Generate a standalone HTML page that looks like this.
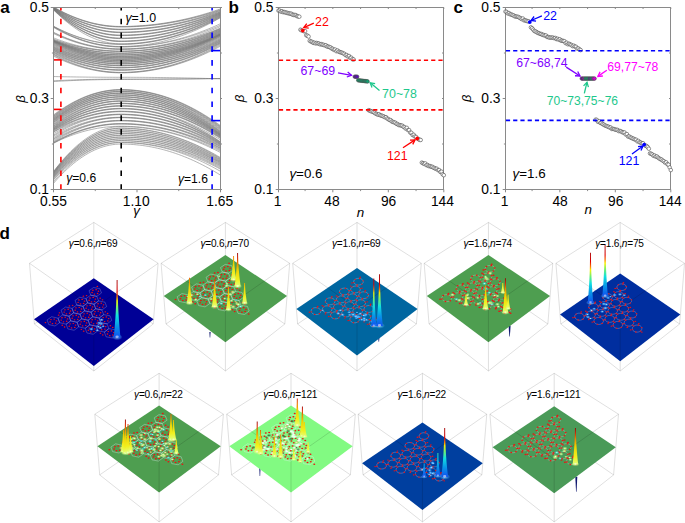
<!DOCTYPE html>
<html><head><meta charset="utf-8"><style>
html,body{margin:0;padding:0;background:#fff;}
svg{display:block;font-family:"Liberation Sans", sans-serif;}
</style></head><body>
<svg width="685" height="523" viewBox="0 0 685 523">
<rect width="685" height="523" fill="#fff"/>
<defs><clipPath id="ca"><rect x="53.5" y="7.5" width="167.0" height="182.0"/></clipPath></defs>
<g clip-path="url(#ca)" fill="none" stroke="#787878" stroke-width="0.55"><path d="M52.5,6.32 L55.5,8.05 L58.5,9.69 L61.5,11.26 L64.5,12.76 L67.5,14.17 L70.5,15.51 L73.5,16.77 L76.5,17.95 L79.5,19.06 L82.5,20.09 L85.5,21.04 L88.5,21.92 L91.5,22.72 L94.5,23.44 L97.5,24.08 L100.5,24.65 L103.5,25.13 L106.5,25.55 L109.5,25.88 L112.5,26.14 L115.5,26.32 L118.5,26.42 L121.5,26.45 L124.5,26.43 L127.5,26.37 L130.5,26.29 L133.5,26.17 L136.5,26.02 L139.5,25.84 L142.5,25.63 L145.5,25.38 L148.5,25.1 L151.5,24.79 L154.5,24.45 L157.5,24.08 L160.5,23.67 L163.5,23.24 L166.5,22.77 L169.5,22.27 L172.5,21.73 L175.5,21.17 L178.5,20.57 L181.5,19.94 L184.5,19.28 L187.5,18.59 L190.5,17.86 L193.5,17.11 L196.5,16.32 L199.5,15.5 L202.5,14.64 L205.5,13.76 L208.5,12.84 L211.5,11.89 L214.5,10.91 L217.5,9.9 L220.5,8.85"/><path d="M52.5,6.64 L55.5,8.35 L58.5,10 L61.5,11.56 L64.5,13.05 L67.5,14.46 L70.5,15.79 L73.5,17.05 L76.5,18.23 L79.5,19.33 L82.5,20.36 L85.5,21.31 L88.5,22.18 L91.5,22.98 L94.5,23.7 L97.5,24.34 L100.5,24.9 L103.5,25.39 L106.5,25.8 L109.5,26.13 L112.5,26.39 L115.5,26.57 L118.5,26.67 L121.5,26.7 L124.5,26.68 L127.5,26.62 L130.5,26.54 L133.5,26.43 L136.5,26.28 L139.5,26.1 L142.5,25.9 L145.5,25.66 L148.5,25.39 L151.5,25.08 L154.5,24.75 L157.5,24.39 L160.5,23.99 L163.5,23.56 L166.5,23.1 L169.5,22.61 L172.5,22.09 L175.5,21.54 L178.5,20.96 L181.5,20.34 L184.5,19.7 L187.5,19.02 L190.5,18.31 L193.5,17.57 L196.5,16.8 L199.5,16 L202.5,15.17 L205.5,14.3 L208.5,13.41 L211.5,12.48 L214.5,11.52 L217.5,10.53 L220.5,9.51"/><path d="M52.5,6.95 L55.5,8.66 L58.5,10.3 L61.5,11.86 L64.5,13.34 L67.5,14.75 L70.5,16.08 L73.5,17.33 L76.5,18.51 L79.5,19.61 L82.5,20.63 L85.5,21.58 L88.5,22.45 L91.5,23.24 L94.5,23.96 L97.5,24.59 L100.5,25.16 L103.5,25.64 L106.5,26.05 L109.5,26.38 L112.5,26.64 L115.5,26.82 L118.5,26.92 L121.5,26.95 L124.5,26.93 L127.5,26.88 L130.5,26.8 L133.5,26.68 L136.5,26.54 L139.5,26.37 L142.5,26.16 L145.5,25.93 L148.5,25.67 L151.5,25.37 L154.5,25.05 L157.5,24.69 L160.5,24.3 L163.5,23.89 L166.5,23.44 L169.5,22.96 L172.5,22.45 L175.5,21.92 L178.5,21.35 L181.5,20.75 L184.5,20.12 L187.5,19.45 L190.5,18.76 L193.5,18.04 L196.5,17.29 L199.5,16.51 L202.5,15.69 L205.5,14.85 L208.5,13.98 L211.5,13.07 L214.5,12.14 L217.5,11.17 L220.5,10.17"/><path d="M52.5,6.69 L55.5,8.62 L58.5,10.46 L61.5,12.22 L64.5,13.89 L67.5,15.47 L70.5,16.97 L73.5,18.38 L76.5,19.71 L79.5,20.94 L82.5,22.1 L85.5,23.16 L88.5,24.14 L91.5,25.03 L94.5,25.84 L97.5,26.56 L100.5,27.19 L103.5,27.74 L106.5,28.2 L109.5,28.58 L112.5,28.86 L115.5,29.06 L118.5,29.18 L121.5,29.21 L124.5,29.19 L127.5,29.13 L130.5,29.04 L133.5,28.91 L136.5,28.75 L139.5,28.56 L142.5,28.33 L145.5,28.07 L148.5,27.78 L151.5,27.45 L154.5,27.08 L157.5,26.69 L160.5,26.26 L163.5,25.79 L166.5,25.29 L169.5,24.76 L172.5,24.19 L175.5,23.58 L178.5,22.95 L181.5,22.28 L184.5,21.57 L187.5,20.84 L190.5,20.06 L193.5,19.26 L196.5,18.41 L199.5,17.54 L202.5,16.63 L205.5,15.69 L208.5,14.71 L211.5,13.7 L214.5,12.65 L217.5,11.57 L220.5,10.46"/><path d="M52.5,7 L55.5,8.93 L58.5,10.76 L61.5,12.52 L64.5,14.18 L67.5,15.76 L70.5,17.25 L73.5,18.66 L76.5,19.98 L79.5,21.22 L82.5,22.37 L85.5,23.43 L88.5,24.4 L91.5,25.29 L94.5,26.1 L97.5,26.82 L100.5,27.45 L103.5,27.99 L106.5,28.45 L109.5,28.83 L112.5,29.11 L115.5,29.32 L118.5,29.43 L121.5,29.46 L124.5,29.44 L127.5,29.38 L130.5,29.29 L133.5,29.17 L136.5,29.01 L139.5,28.83 L142.5,28.6 L145.5,28.35 L148.5,28.06 L151.5,27.74 L154.5,27.38 L157.5,26.99 L160.5,26.57 L163.5,26.11 L166.5,25.63 L169.5,25.1 L172.5,24.55 L175.5,23.96 L178.5,23.34 L181.5,22.68 L184.5,21.99 L187.5,21.27 L190.5,20.51 L193.5,19.72 L196.5,18.9 L199.5,18.05 L202.5,17.16 L205.5,16.23 L208.5,15.28 L211.5,14.29 L214.5,13.27 L217.5,12.21 L220.5,11.12"/><path d="M52.5,7.32 L55.5,9.24 L58.5,11.07 L61.5,12.81 L64.5,14.48 L67.5,16.05 L70.5,17.54 L73.5,18.94 L76.5,20.26 L79.5,21.49 L82.5,22.64 L85.5,23.7 L88.5,24.67 L91.5,25.56 L94.5,26.36 L97.5,27.07 L100.5,27.7 L103.5,28.25 L106.5,28.71 L109.5,29.08 L112.5,29.37 L115.5,29.57 L118.5,29.68 L121.5,29.71 L124.5,29.69 L127.5,29.63 L130.5,29.55 L133.5,29.43 L136.5,29.27 L139.5,29.09 L142.5,28.87 L145.5,28.62 L148.5,28.34 L151.5,28.03 L154.5,27.68 L157.5,27.3 L160.5,26.88 L163.5,26.44 L166.5,25.96 L169.5,25.45 L172.5,24.91 L175.5,24.33 L178.5,23.72 L181.5,23.08 L184.5,22.41 L187.5,21.7 L190.5,20.96 L193.5,20.19 L196.5,19.39 L199.5,18.55 L202.5,17.68 L205.5,16.78 L208.5,15.85 L211.5,14.88 L214.5,13.88 L217.5,12.85 L220.5,11.78"/><path d="M52.5,7.05 L55.5,9.19 L58.5,11.25 L61.5,13.2 L64.5,15.06 L67.5,16.82 L70.5,18.49 L73.5,20.06 L76.5,21.54 L79.5,22.92 L82.5,24.2 L85.5,25.38 L88.5,26.47 L91.5,27.47 L94.5,28.37 L97.5,29.17 L100.5,29.87 L103.5,30.48 L106.5,31 L109.5,31.41 L112.5,31.73 L115.5,31.96 L118.5,32.09 L121.5,32.12 L124.5,32.09 L127.5,32.03 L130.5,31.94 L133.5,31.8 L136.5,31.63 L139.5,31.42 L142.5,31.18 L145.5,30.9 L148.5,30.58 L151.5,30.23 L154.5,29.84 L157.5,29.41 L160.5,28.95 L163.5,28.45 L166.5,27.91 L169.5,27.34 L172.5,26.73 L175.5,26.08 L178.5,25.4 L181.5,24.68 L184.5,23.92 L187.5,23.13 L190.5,22.3 L193.5,21.43 L196.5,20.53 L199.5,19.59 L202.5,18.61 L205.5,17.6 L208.5,16.55 L211.5,15.46 L214.5,14.34 L217.5,13.18 L220.5,11.99"/><path d="M52.5,7.39 L55.5,9.53 L58.5,11.58 L61.5,13.52 L64.5,15.38 L67.5,17.13 L70.5,18.79 L73.5,20.36 L76.5,21.83 L79.5,23.2 L82.5,24.48 L85.5,25.66 L88.5,26.75 L91.5,27.74 L94.5,28.63 L97.5,29.43 L100.5,30.13 L103.5,30.74 L106.5,31.25 L109.5,31.66 L112.5,31.98 L115.5,32.21 L118.5,32.34 L121.5,32.37 L124.5,32.34 L127.5,32.28 L130.5,32.19 L133.5,32.05 L136.5,31.89 L139.5,31.68 L142.5,31.44 L145.5,31.16 L148.5,30.85 L151.5,30.5 L154.5,30.11 L157.5,29.69 L160.5,29.23 L163.5,28.74 L166.5,28.2 L169.5,27.64 L172.5,27.03 L175.5,26.39 L178.5,25.72 L181.5,25.01 L184.5,24.26 L187.5,23.47 L190.5,22.65 L193.5,21.8 L196.5,20.9 L199.5,19.97 L202.5,19.01 L205.5,18.01 L208.5,16.97 L211.5,15.89 L214.5,14.78 L217.5,13.64 L220.5,12.45"/><path d="M52.5,7.74 L55.5,9.87 L58.5,11.91 L61.5,13.85 L64.5,15.69 L67.5,17.44 L70.5,19.1 L73.5,20.66 L76.5,22.12 L79.5,23.49 L82.5,24.76 L85.5,25.94 L88.5,27.02 L91.5,28 L94.5,28.9 L97.5,29.69 L100.5,30.39 L103.5,30.99 L106.5,31.5 L109.5,31.92 L112.5,32.24 L115.5,32.46 L118.5,32.59 L121.5,32.62 L124.5,32.59 L127.5,32.53 L130.5,32.44 L133.5,32.31 L136.5,32.14 L139.5,31.94 L142.5,31.7 L145.5,31.42 L148.5,31.11 L151.5,30.77 L154.5,30.39 L157.5,29.97 L160.5,29.51 L163.5,29.03 L166.5,28.5 L169.5,27.94 L172.5,27.34 L175.5,26.71 L178.5,26.04 L181.5,25.34 L184.5,24.6 L187.5,23.82 L190.5,23.01 L193.5,22.16 L196.5,21.28 L199.5,20.36 L202.5,19.41 L205.5,18.41 L208.5,17.39 L211.5,16.33 L214.5,15.23 L217.5,14.09 L220.5,12.92"/><path d="M52.5,7.44 L55.5,9.81 L58.5,12.08 L61.5,14.24 L64.5,16.29 L67.5,18.23 L70.5,20.07 L73.5,21.81 L76.5,23.43 L79.5,24.96 L82.5,26.37 L85.5,27.68 L88.5,28.88 L91.5,29.98 L94.5,30.97 L97.5,31.85 L100.5,32.63 L103.5,33.3 L106.5,33.87 L109.5,34.33 L112.5,34.68 L115.5,34.93 L118.5,35.07 L121.5,35.11 L124.5,35.08 L127.5,35.02 L130.5,34.91 L133.5,34.76 L136.5,34.57 L139.5,34.34 L142.5,34.08 L145.5,33.77 L148.5,33.42 L151.5,33.03 L154.5,32.6 L157.5,32.13 L160.5,31.62 L163.5,31.07 L166.5,30.48 L169.5,29.85 L172.5,29.18 L175.5,28.47 L178.5,27.72 L181.5,26.93 L184.5,26.1 L187.5,25.22 L190.5,24.31 L193.5,23.36 L196.5,22.37 L199.5,21.33 L202.5,20.26 L205.5,19.15 L208.5,17.99 L211.5,16.8 L214.5,15.57 L217.5,14.29 L220.5,12.98"/><path d="M52.5,7.76 L55.5,10.12 L58.5,12.38 L61.5,14.53 L64.5,16.58 L67.5,18.52 L70.5,20.36 L73.5,22.09 L76.5,23.71 L79.5,25.23 L82.5,26.64 L85.5,27.95 L88.5,29.15 L91.5,30.24 L94.5,31.23 L97.5,32.11 L100.5,32.89 L103.5,33.56 L106.5,34.12 L109.5,34.58 L112.5,34.93 L115.5,35.18 L118.5,35.32 L121.5,35.36 L124.5,35.33 L127.5,35.27 L130.5,35.16 L133.5,35.01 L136.5,34.83 L139.5,34.6 L142.5,34.34 L145.5,34.03 L148.5,33.69 L151.5,33.3 L154.5,32.88 L157.5,32.41 L160.5,31.91 L163.5,31.36 L166.5,30.78 L169.5,30.15 L172.5,29.49 L175.5,28.79 L178.5,28.04 L181.5,27.26 L184.5,26.43 L187.5,25.57 L190.5,24.67 L193.5,23.73 L196.5,22.74 L199.5,21.72 L202.5,20.66 L205.5,19.56 L208.5,18.41 L211.5,17.23 L214.5,16.01 L217.5,14.75 L220.5,13.45"/><path d="M52.5,8.07 L55.5,10.43 L58.5,12.69 L61.5,14.83 L64.5,16.88 L67.5,18.81 L70.5,20.64 L73.5,22.37 L76.5,23.99 L79.5,25.5 L82.5,26.91 L85.5,28.21 L88.5,29.41 L91.5,30.5 L94.5,31.49 L97.5,32.37 L100.5,33.14 L103.5,33.81 L106.5,34.38 L109.5,34.83 L112.5,35.19 L115.5,35.43 L118.5,35.57 L121.5,35.61 L124.5,35.58 L127.5,35.52 L130.5,35.41 L133.5,35.27 L136.5,35.08 L139.5,34.86 L142.5,34.6 L145.5,34.29 L148.5,33.95 L151.5,33.57 L154.5,33.15 L157.5,32.69 L160.5,32.19 L163.5,31.65 L166.5,31.07 L169.5,30.46 L172.5,29.8 L175.5,29.1 L178.5,28.37 L181.5,27.59 L184.5,26.77 L187.5,25.92 L190.5,25.03 L193.5,24.09 L196.5,23.12 L199.5,22.11 L202.5,21.06 L205.5,19.96 L208.5,18.83 L211.5,17.66 L214.5,16.45 L217.5,15.2 L220.5,13.92"/><path d="M52.5,7.74 L55.5,10.34 L58.5,12.83 L61.5,15.2 L64.5,17.45 L67.5,19.59 L70.5,21.61 L73.5,23.51 L76.5,25.3 L79.5,26.97 L82.5,28.52 L85.5,29.96 L88.5,31.28 L91.5,32.48 L94.5,33.57 L97.5,34.54 L100.5,35.39 L103.5,36.13 L106.5,36.75 L109.5,37.26 L112.5,37.64 L115.5,37.92 L118.5,38.07 L121.5,38.11 L124.5,38.08 L127.5,38.01 L130.5,37.89 L133.5,37.73 L136.5,37.53 L139.5,37.28 L142.5,36.98 L145.5,36.65 L148.5,36.27 L151.5,35.84 L154.5,35.38 L157.5,34.86 L160.5,34.31 L163.5,33.71 L166.5,33.06 L169.5,32.38 L172.5,31.64 L175.5,30.87 L178.5,30.05 L181.5,29.19 L184.5,28.28 L187.5,27.33 L190.5,26.33 L193.5,25.29 L196.5,24.21 L199.5,23.08 L202.5,21.91 L205.5,20.7 L208.5,19.44 L211.5,18.14 L214.5,16.79 L217.5,15.4 L220.5,13.97"/><path d="M52.5,8.06 L55.5,10.65 L58.5,13.13 L61.5,15.5 L64.5,17.74 L67.5,19.88 L70.5,21.89 L73.5,23.79 L76.5,25.57 L79.5,27.24 L82.5,28.79 L85.5,30.22 L88.5,31.54 L91.5,32.74 L94.5,33.83 L97.5,34.8 L100.5,35.65 L103.5,36.38 L106.5,37 L109.5,37.51 L112.5,37.9 L115.5,38.17 L118.5,38.32 L121.5,38.36 L124.5,38.33 L127.5,38.26 L130.5,38.14 L133.5,37.98 L136.5,37.78 L139.5,37.54 L142.5,37.25 L145.5,36.91 L148.5,36.54 L151.5,36.12 L154.5,35.65 L157.5,35.15 L160.5,34.59 L163.5,34 L166.5,33.36 L169.5,32.68 L172.5,31.96 L175.5,31.19 L178.5,30.38 L181.5,29.52 L184.5,28.63 L187.5,27.68 L190.5,26.7 L193.5,25.67 L196.5,24.6 L199.5,23.48 L202.5,22.33 L205.5,21.12 L208.5,19.88 L211.5,18.59 L214.5,17.25 L217.5,15.88 L220.5,14.46"/><path d="M52.5,8.41 L55.5,11 L58.5,13.47 L61.5,15.83 L64.5,18.07 L67.5,20.19 L70.5,22.2 L73.5,24.09 L76.5,25.87 L79.5,27.53 L82.5,29.07 L85.5,30.5 L88.5,31.81 L91.5,33.01 L94.5,34.09 L97.5,35.06 L100.5,35.91 L103.5,36.64 L106.5,37.26 L109.5,37.76 L112.5,38.15 L115.5,38.42 L118.5,38.57 L121.5,38.61 L124.5,38.58 L127.5,38.51 L130.5,38.4 L133.5,38.24 L136.5,38.04 L139.5,37.8 L142.5,37.51 L145.5,37.18 L148.5,36.81 L151.5,36.39 L154.5,35.93 L157.5,35.43 L160.5,34.89 L163.5,34.3 L166.5,33.67 L169.5,33 L172.5,32.28 L175.5,31.52 L178.5,30.72 L181.5,29.88 L184.5,28.99 L187.5,28.06 L190.5,27.08 L193.5,26.07 L196.5,25.01 L199.5,23.9 L202.5,22.76 L205.5,21.57 L208.5,20.34 L211.5,19.06 L214.5,17.75 L217.5,16.39 L220.5,14.98"/><path d="M52.5,8.14 L55.5,10.96 L58.5,13.66 L61.5,16.22 L64.5,18.66 L67.5,20.98 L70.5,23.17 L73.5,25.23 L76.5,27.16 L79.5,28.97 L82.5,30.66 L85.5,32.21 L88.5,33.64 L91.5,34.95 L94.5,36.13 L97.5,37.18 L100.5,38.11 L103.5,38.9 L106.5,39.58 L109.5,40.12 L112.5,40.55 L115.5,40.84 L118.5,41.01 L121.5,41.05 L124.5,41.02 L127.5,40.94 L130.5,40.82 L133.5,40.64 L136.5,40.42 L139.5,40.16 L142.5,39.84 L145.5,39.48 L148.5,39.07 L151.5,38.61 L154.5,38.11 L157.5,37.56 L160.5,36.96 L163.5,36.32 L166.5,35.63 L169.5,34.89 L172.5,34.1 L175.5,33.27 L178.5,32.39 L181.5,31.46 L184.5,30.48 L187.5,29.46 L190.5,28.39 L193.5,27.27 L196.5,26.11 L199.5,24.9 L202.5,23.64 L205.5,22.34 L208.5,20.98 L211.5,19.58 L214.5,18.14 L217.5,16.64 L220.5,15.1"/><path d="M52.5,8.5 L55.5,11.31 L58.5,14 L61.5,16.55 L64.5,18.99 L67.5,21.29 L70.5,23.47 L73.5,25.53 L76.5,27.46 L79.5,29.26 L82.5,30.94 L85.5,32.49 L88.5,33.92 L91.5,35.22 L94.5,36.39 L97.5,37.44 L100.5,38.36 L103.5,39.16 L106.5,39.83 L109.5,40.38 L112.5,40.8 L115.5,41.09 L118.5,41.26 L121.5,41.3 L124.5,41.27 L127.5,41.19 L130.5,41.07 L133.5,40.9 L136.5,40.68 L139.5,40.41 L142.5,40.1 L145.5,39.75 L148.5,39.34 L151.5,38.89 L154.5,38.39 L157.5,37.85 L160.5,37.26 L163.5,36.62 L166.5,35.93 L169.5,35.2 L172.5,34.42 L175.5,33.6 L178.5,32.73 L181.5,31.81 L184.5,30.84 L187.5,29.83 L190.5,28.77 L193.5,27.67 L196.5,26.52 L199.5,25.32 L202.5,24.07 L205.5,22.78 L208.5,21.44 L211.5,20.06 L214.5,18.63 L217.5,17.15 L220.5,15.62"/><path d="M52.5,8.94 L55.5,11.74 L58.5,14.41 L61.5,16.95 L64.5,19.37 L67.5,21.66 L70.5,23.83 L73.5,25.87 L76.5,27.79 L79.5,29.58 L82.5,31.25 L85.5,32.79 L88.5,34.21 L91.5,35.5 L94.5,36.67 L97.5,37.71 L100.5,38.63 L103.5,39.42 L106.5,40.09 L109.5,40.63 L112.5,41.05 L115.5,41.34 L118.5,41.51 L121.5,41.55 L124.5,41.52 L127.5,41.44 L130.5,41.32 L133.5,41.15 L136.5,40.94 L139.5,40.67 L142.5,40.37 L145.5,40.01 L148.5,39.61 L151.5,39.17 L154.5,38.67 L157.5,38.13 L160.5,37.55 L163.5,36.92 L166.5,36.24 L169.5,35.52 L172.5,34.75 L175.5,33.93 L178.5,33.07 L181.5,32.16 L184.5,31.21 L187.5,30.2 L190.5,29.16 L193.5,28.06 L196.5,26.93 L199.5,25.74 L202.5,24.51 L205.5,23.23 L208.5,21.91 L211.5,20.54 L214.5,19.12 L217.5,17.66 L220.5,16.15"/><path d="M52.5,8.8 L55.5,11.8 L58.5,14.67 L61.5,17.41 L64.5,20.01 L67.5,22.47 L70.5,24.81 L73.5,27 L76.5,29.07 L79.5,30.99 L82.5,32.79 L85.5,34.45 L88.5,35.97 L91.5,37.36 L94.5,38.62 L97.5,39.74 L100.5,40.72 L103.5,41.58 L106.5,42.29 L109.5,42.88 L112.5,43.32 L115.5,43.64 L118.5,43.82 L121.5,43.86 L124.5,43.83 L127.5,43.75 L130.5,43.61 L133.5,43.43 L136.5,43.2 L139.5,42.91 L142.5,42.58 L145.5,42.19 L148.5,41.76 L151.5,41.27 L154.5,40.74 L157.5,40.15 L160.5,39.52 L163.5,38.83 L166.5,38.1 L169.5,37.31 L172.5,36.48 L175.5,35.59 L178.5,34.66 L181.5,33.67 L184.5,32.64 L187.5,31.55 L190.5,30.41 L193.5,29.23 L196.5,27.99 L199.5,26.7 L202.5,25.37 L205.5,23.98 L208.5,22.54 L211.5,21.06 L214.5,19.52 L217.5,17.93 L220.5,16.29"/><path d="M52.5,25.7 L55.5,27.28 L58.5,28.79 L61.5,30.22 L64.5,31.59 L67.5,32.88 L70.5,34.11 L73.5,35.26 L76.5,36.34 L79.5,37.36 L82.5,38.3 L85.5,39.17 L88.5,39.97 L91.5,40.7 L94.5,41.36 L97.5,41.95 L100.5,42.47 L103.5,42.91 L106.5,43.29 L109.5,43.6 L112.5,43.83 L115.5,44 L118.5,44.09 L121.5,44.11 L124.5,44.08 L127.5,44 L130.5,43.87 L133.5,43.68 L136.5,43.45 L139.5,43.17 L142.5,42.84 L145.5,42.46 L148.5,42.03 L151.5,41.55 L154.5,41.02 L157.5,40.44 L160.5,39.82 L163.5,39.14 L166.5,38.41 L169.5,37.63 L172.5,36.81 L175.5,35.93 L178.5,35.01 L181.5,34.03 L184.5,33.01 L187.5,31.93 L190.5,30.81 L193.5,29.63 L196.5,28.41 L199.5,27.14 L202.5,25.82 L205.5,24.44 L208.5,23.02 L211.5,21.55 L214.5,20.03 L217.5,18.46 L220.5,16.84"/><path d="M52.5,25.89 L55.5,27.47 L58.5,28.98 L61.5,30.42 L64.5,31.8 L67.5,33.09 L70.5,34.32 L73.5,35.48 L76.5,36.57 L79.5,37.58 L82.5,38.53 L85.5,39.4 L88.5,40.21 L91.5,40.94 L94.5,41.6 L97.5,42.19 L100.5,42.71 L103.5,43.16 L106.5,43.54 L109.5,43.84 L112.5,44.08 L115.5,44.25 L118.5,44.34 L121.5,44.36 L124.5,44.33 L127.5,44.25 L130.5,44.12 L133.5,43.94 L136.5,43.71 L139.5,43.43 L142.5,43.1 L145.5,42.73 L148.5,42.3 L151.5,41.83 L154.5,41.31 L157.5,40.73 L160.5,40.11 L163.5,39.44 L166.5,38.72 L169.5,37.95 L172.5,37.14 L175.5,36.27 L178.5,35.35 L181.5,34.39 L184.5,33.38 L187.5,32.31 L190.5,31.2 L193.5,30.04 L196.5,28.83 L199.5,27.57 L202.5,26.26 L205.5,24.91 L208.5,23.5 L211.5,22.05 L214.5,20.54 L217.5,18.99 L220.5,17.39"/><path d="M52.5,25.92 L55.5,27.69 L58.5,29.37 L61.5,30.97 L64.5,32.5 L67.5,33.95 L70.5,35.31 L73.5,36.6 L76.5,37.81 L79.5,38.94 L82.5,39.99 L85.5,40.97 L88.5,41.86 L91.5,42.68 L94.5,43.41 L97.5,44.07 L100.5,44.65 L103.5,45.15 L106.5,45.57 L109.5,45.91 L112.5,46.18 L115.5,46.36 L118.5,46.46 L121.5,46.49 L124.5,46.46 L127.5,46.37 L130.5,46.23 L133.5,46.04 L136.5,45.79 L139.5,45.49 L142.5,45.14 L145.5,44.74 L148.5,44.28 L151.5,43.78 L154.5,43.22 L157.5,42.6 L160.5,41.94 L163.5,41.22 L166.5,40.45 L169.5,39.62 L172.5,38.75 L175.5,37.82 L178.5,36.84 L181.5,35.8 L184.5,34.72 L187.5,33.58 L190.5,32.39 L193.5,31.14 L196.5,29.85 L199.5,28.5 L202.5,27.1 L205.5,25.64 L208.5,24.14 L211.5,22.58 L214.5,20.97 L217.5,19.3 L220.5,17.59"/><path d="M52.5,26.37 L55.5,28.11 L58.5,29.78 L61.5,31.37 L64.5,32.88 L67.5,34.31 L70.5,35.67 L73.5,36.94 L76.5,38.14 L79.5,39.26 L82.5,40.31 L85.5,41.27 L88.5,42.16 L91.5,42.96 L94.5,43.69 L97.5,44.34 L100.5,44.92 L103.5,45.41 L106.5,45.83 L109.5,46.17 L112.5,46.43 L115.5,46.61 L118.5,46.71 L121.5,46.74 L124.5,46.71 L127.5,46.64 L130.5,46.53 L133.5,46.38 L136.5,46.18 L139.5,45.95 L142.5,45.67 L145.5,45.35 L148.5,44.98 L151.5,44.58 L154.5,44.13 L157.5,43.64 L160.5,43.11 L163.5,42.54 L166.5,41.92 L169.5,41.27 L172.5,40.57 L175.5,39.83 L178.5,39.05 L181.5,38.22 L184.5,37.36 L187.5,36.45 L190.5,35.5 L193.5,34.51 L196.5,33.48 L199.5,32.4 L202.5,31.28 L205.5,30.12 L208.5,28.92 L211.5,27.68 L214.5,26.4 L217.5,25.07 L220.5,23.7"/><path d="M52.5,26.81 L55.5,28.54 L58.5,30.19 L61.5,31.76 L64.5,33.26 L67.5,34.68 L70.5,36.02 L73.5,37.29 L76.5,38.47 L79.5,39.58 L82.5,40.62 L85.5,41.57 L88.5,42.45 L91.5,43.25 L94.5,43.97 L97.5,44.62 L100.5,45.18 L103.5,45.67 L106.5,46.09 L109.5,46.42 L112.5,46.68 L115.5,46.86 L118.5,46.97 L121.5,46.99 L124.5,46.97 L127.5,46.9 L130.5,46.79 L133.5,46.65 L136.5,46.46 L139.5,46.24 L142.5,45.98 L145.5,45.67 L148.5,45.33 L151.5,44.95 L154.5,44.53 L157.5,44.06 L160.5,43.56 L163.5,43.02 L166.5,42.44 L169.5,41.82 L172.5,41.16 L175.5,40.46 L178.5,39.73 L181.5,38.95 L184.5,38.13 L187.5,37.27 L190.5,36.38 L193.5,35.44 L196.5,34.47 L199.5,33.45 L202.5,32.39 L205.5,31.3 L208.5,30.17 L211.5,28.99 L214.5,27.78 L217.5,26.53 L220.5,25.24"/><path d="M52.5,31.79 L55.5,33.26 L58.5,34.66 L61.5,35.99 L64.5,37.26 L67.5,38.46 L70.5,39.6 L73.5,40.67 L76.5,41.68 L79.5,42.62 L82.5,43.49 L85.5,44.3 L88.5,45.05 L91.5,45.72 L94.5,46.34 L97.5,46.88 L100.5,47.36 L103.5,47.78 L106.5,48.13 L109.5,48.41 L112.5,48.63 L115.5,48.79 L118.5,48.87 L121.5,48.9 L124.5,48.87 L127.5,48.8 L130.5,48.69 L133.5,48.54 L136.5,48.35 L139.5,48.12 L142.5,47.85 L145.5,47.54 L148.5,47.18 L151.5,46.79 L154.5,46.35 L157.5,45.88 L160.5,45.36 L163.5,44.8 L166.5,44.21 L169.5,43.57 L172.5,42.89 L175.5,42.17 L178.5,41.4 L181.5,40.6 L184.5,39.76 L187.5,38.88 L190.5,37.95 L193.5,36.99 L196.5,35.98 L199.5,34.93 L202.5,33.85 L205.5,32.72 L208.5,31.55 L211.5,30.34 L214.5,29.09 L217.5,27.8 L220.5,26.46"/><path d="M52.5,32.24 L55.5,33.69 L58.5,35.07 L61.5,36.39 L64.5,37.64 L67.5,38.83 L70.5,39.96 L73.5,41.02 L76.5,42.01 L79.5,42.94 L82.5,43.8 L85.5,44.6 L88.5,45.34 L91.5,46.01 L94.5,46.62 L97.5,47.16 L100.5,47.63 L103.5,48.04 L106.5,48.39 L109.5,48.67 L112.5,48.89 L115.5,49.04 L118.5,49.12 L121.5,49.15 L124.5,49.12 L127.5,49.06 L130.5,48.95 L133.5,48.81 L136.5,48.63 L139.5,48.42 L142.5,48.16 L145.5,47.86 L148.5,47.53 L151.5,47.16 L154.5,46.75 L157.5,46.3 L160.5,45.81 L163.5,45.29 L166.5,44.72 L169.5,44.12 L172.5,43.48 L175.5,42.8 L178.5,42.08 L181.5,41.33 L184.5,40.53 L187.5,39.7 L190.5,38.83 L193.5,37.92 L196.5,36.97 L199.5,35.98 L202.5,34.96 L205.5,33.89 L208.5,32.79 L211.5,31.65 L214.5,30.47 L217.5,29.25 L220.5,28"/><path d="M52.5,33.07 L55.5,34.47 L58.5,35.8 L61.5,37.08 L64.5,38.29 L67.5,39.44 L70.5,40.52 L73.5,41.54 L76.5,42.5 L79.5,43.4 L82.5,44.24 L85.5,45.01 L88.5,45.72 L91.5,46.37 L94.5,46.95 L97.5,47.47 L100.5,47.93 L103.5,48.33 L106.5,48.66 L109.5,48.94 L112.5,49.14 L115.5,49.29 L118.5,49.37 L121.5,49.4 L124.5,49.37 L127.5,49.31 L130.5,49.21 L133.5,49.07 L136.5,48.89 L139.5,48.67 L142.5,48.42 L145.5,48.13 L148.5,47.8 L151.5,47.43 L154.5,47.03 L157.5,46.59 L160.5,46.1 L163.5,45.59 L166.5,45.03 L169.5,44.43 L172.5,43.8 L175.5,43.13 L178.5,42.42 L181.5,41.67 L184.5,40.89 L187.5,40.07 L190.5,39.21 L193.5,38.31 L196.5,37.37 L199.5,36.4 L202.5,35.38 L205.5,34.33 L208.5,33.24 L211.5,32.12 L214.5,30.95 L217.5,29.75 L220.5,28.51"/><path d="M52.5,37.48 L55.5,38.64 L58.5,39.75 L61.5,40.81 L64.5,41.82 L67.5,42.77 L70.5,43.68 L73.5,44.53 L76.5,45.33 L79.5,46.07 L82.5,46.77 L85.5,47.41 L88.5,48 L91.5,48.54 L94.5,49.03 L97.5,49.46 L100.5,49.84 L103.5,50.17 L106.5,50.45 L109.5,50.67 L112.5,50.85 L115.5,50.97 L118.5,51.04 L121.5,51.06 L124.5,51.03 L127.5,50.96 L130.5,50.85 L133.5,50.71 L136.5,50.52 L139.5,50.29 L142.5,50.02 L145.5,49.71 L148.5,49.35 L151.5,48.96 L154.5,48.53 L157.5,48.06 L160.5,47.54 L163.5,46.99 L166.5,46.39 L169.5,45.76 L172.5,45.08 L175.5,44.37 L178.5,43.61 L181.5,42.81 L184.5,41.98 L187.5,41.1 L190.5,40.18 L193.5,39.22 L196.5,38.22 L199.5,37.18 L202.5,36.1 L205.5,34.98 L208.5,33.81 L211.5,32.61 L214.5,31.37 L217.5,30.08 L220.5,28.76"/><path d="M52.5,38.69 L55.5,39.77 L58.5,40.81 L61.5,41.79 L64.5,42.73 L67.5,43.61 L70.5,44.45 L73.5,45.24 L76.5,45.98 L79.5,46.68 L82.5,47.32 L85.5,47.92 L88.5,48.47 L91.5,48.97 L94.5,49.42 L97.5,49.82 L100.5,50.18 L103.5,50.48 L106.5,50.74 L109.5,50.95 L112.5,51.11 L115.5,51.23 L118.5,51.29 L121.5,51.31 L124.5,51.28 L127.5,51.21 L130.5,51.11 L133.5,50.96 L136.5,50.77 L139.5,50.55 L142.5,50.28 L145.5,49.97 L148.5,49.62 L151.5,49.24 L154.5,48.81 L157.5,48.34 L160.5,47.83 L163.5,47.29 L166.5,46.7 L169.5,46.07 L172.5,45.4 L175.5,44.7 L178.5,43.95 L181.5,43.16 L184.5,42.33 L187.5,41.46 L190.5,40.56 L193.5,39.61 L196.5,38.62 L199.5,37.59 L202.5,36.52 L205.5,35.42 L208.5,34.27 L211.5,33.08 L214.5,31.85 L217.5,30.58 L220.5,29.27"/><path d="M52.5,39.33 L55.5,40.38 L58.5,41.38 L61.5,42.33 L64.5,43.24 L67.5,44.1 L70.5,44.91 L73.5,45.68 L76.5,46.4 L79.5,47.07 L82.5,47.69 L85.5,48.27 L88.5,48.8 L91.5,49.29 L94.5,49.73 L97.5,50.12 L100.5,50.46 L103.5,50.76 L106.5,51.01 L109.5,51.21 L112.5,51.37 L115.5,51.48 L118.5,51.54 L121.5,51.56 L124.5,51.53 L127.5,51.46 L130.5,51.36 L133.5,51.21 L136.5,51.03 L139.5,50.8 L142.5,50.54 L145.5,50.24 L148.5,49.89 L151.5,49.51 L154.5,49.09 L157.5,48.63 L160.5,48.13 L163.5,47.59 L166.5,47 L169.5,46.38 L172.5,45.72 L175.5,45.03 L178.5,44.29 L181.5,43.51 L184.5,42.69 L187.5,41.83 L190.5,40.93 L193.5,40 L196.5,39.02 L199.5,38.01 L202.5,36.95 L205.5,35.85 L208.5,34.72 L211.5,33.55 L214.5,32.33 L217.5,31.08 L220.5,29.79"/><path d="M52.5,39.63 L55.5,40.77 L58.5,41.87 L61.5,42.91 L64.5,43.9 L67.5,44.84 L70.5,45.72 L73.5,46.56 L76.5,47.34 L79.5,48.08 L82.5,48.76 L85.5,49.39 L88.5,49.97 L91.5,50.5 L94.5,50.98 L97.5,51.41 L100.5,51.78 L103.5,52.11 L106.5,52.38 L109.5,52.6 L112.5,52.77 L115.5,52.89 L118.5,52.96 L121.5,52.98 L124.5,52.95 L127.5,52.88 L130.5,52.77 L133.5,52.62 L136.5,52.42 L139.5,52.19 L142.5,51.91 L145.5,51.59 L148.5,51.23 L151.5,50.83 L154.5,50.38 L157.5,49.9 L160.5,49.37 L163.5,48.8 L166.5,48.19 L169.5,47.54 L172.5,46.84 L175.5,46.11 L178.5,45.33 L181.5,44.51 L184.5,43.65 L187.5,42.75 L190.5,41.81 L193.5,40.82 L196.5,39.79 L199.5,38.73 L202.5,37.62 L205.5,36.46 L208.5,35.27 L211.5,34.04 L214.5,32.76 L217.5,31.44 L220.5,30.08"/><path d="M52.5,39.94 L55.5,41.08 L58.5,42.17 L61.5,43.21 L64.5,44.19 L67.5,45.12 L70.5,46.01 L73.5,46.84 L76.5,47.62 L79.5,48.35 L82.5,49.03 L85.5,49.66 L88.5,50.24 L91.5,50.76 L94.5,51.24 L97.5,51.66 L100.5,52.04 L103.5,52.36 L106.5,52.63 L109.5,52.85 L112.5,53.02 L115.5,53.14 L118.5,53.21 L121.5,53.23 L124.5,53.2 L127.5,53.13 L130.5,53.02 L133.5,52.87 L136.5,52.68 L139.5,52.45 L142.5,52.17 L145.5,51.86 L148.5,51.5 L151.5,51.1 L154.5,50.66 L157.5,50.18 L160.5,49.66 L163.5,49.1 L166.5,48.49 L169.5,47.85 L172.5,47.16 L175.5,46.44 L178.5,45.67 L181.5,44.86 L184.5,44.01 L187.5,43.12 L190.5,42.18 L193.5,41.21 L196.5,40.2 L199.5,39.14 L202.5,38.04 L205.5,36.9 L208.5,35.72 L211.5,34.5 L214.5,33.24 L217.5,31.94 L220.5,30.59"/><path d="M52.5,40.26 L55.5,41.39 L58.5,42.47 L61.5,43.5 L64.5,44.48 L67.5,45.41 L70.5,46.29 L73.5,47.12 L76.5,47.9 L79.5,48.63 L82.5,49.3 L85.5,49.93 L88.5,50.5 L91.5,51.03 L94.5,51.5 L97.5,51.92 L100.5,52.29 L103.5,52.61 L106.5,52.89 L109.5,53.11 L112.5,53.27 L115.5,53.39 L118.5,53.46 L121.5,53.48 L124.5,53.45 L127.5,53.38 L130.5,53.27 L133.5,53.12 L136.5,52.93 L139.5,52.7 L142.5,52.43 L145.5,52.12 L148.5,51.77 L151.5,51.38 L154.5,50.94 L157.5,50.47 L160.5,49.95 L163.5,49.4 L166.5,48.8 L169.5,48.16 L172.5,47.48 L175.5,46.77 L178.5,46.01 L181.5,45.21 L184.5,44.37 L187.5,43.48 L190.5,42.56 L193.5,41.6 L196.5,40.6 L199.5,39.55 L202.5,38.47 L205.5,37.34 L208.5,36.18 L211.5,34.97 L214.5,33.72 L217.5,32.43 L220.5,31.11"/><path d="M52.5,40.3 L55.5,41.53 L58.5,42.71 L61.5,43.83 L64.5,44.9 L67.5,45.91 L70.5,46.86 L73.5,47.77 L76.5,48.61 L79.5,49.4 L82.5,50.14 L85.5,50.82 L88.5,51.44 L91.5,52.01 L94.5,52.53 L97.5,52.99 L100.5,53.39 L103.5,53.74 L106.5,54.04 L109.5,54.28 L112.5,54.46 L115.5,54.59 L118.5,54.66 L121.5,54.68 L124.5,54.65 L127.5,54.58 L130.5,54.47 L133.5,54.31 L136.5,54.12 L139.5,53.88 L142.5,53.59 L145.5,53.27 L148.5,52.9 L151.5,52.49 L154.5,52.04 L157.5,51.55 L160.5,51.01 L163.5,50.43 L166.5,49.81 L169.5,49.15 L172.5,48.44 L175.5,47.7 L178.5,46.9 L181.5,46.07 L184.5,45.2 L187.5,44.28 L190.5,43.32 L193.5,42.32 L196.5,41.27 L199.5,40.19 L202.5,39.06 L205.5,37.89 L208.5,36.67 L211.5,35.42 L214.5,34.12 L217.5,32.78 L220.5,31.4"/><path d="M52.5,40.49 L55.5,41.72 L58.5,42.91 L61.5,44.03 L64.5,45.1 L67.5,46.12 L70.5,47.08 L73.5,47.99 L76.5,48.83 L79.5,49.63 L82.5,50.37 L85.5,51.05 L88.5,51.68 L91.5,52.25 L94.5,52.77 L97.5,53.23 L100.5,53.64 L103.5,53.99 L106.5,54.28 L109.5,54.52 L112.5,54.71 L115.5,54.84 L118.5,54.91 L121.5,54.93 L124.5,54.9 L127.5,54.83 L130.5,54.72 L133.5,54.57 L136.5,54.37 L139.5,54.13 L142.5,53.85 L145.5,53.53 L148.5,53.17 L151.5,52.76 L154.5,52.32 L157.5,51.83 L160.5,51.3 L163.5,50.72 L166.5,50.11 L169.5,49.45 L172.5,48.75 L175.5,48.01 L178.5,47.23 L181.5,46.4 L184.5,45.54 L187.5,44.63 L190.5,43.68 L193.5,42.68 L196.5,41.65 L199.5,40.57 L202.5,39.45 L205.5,38.29 L208.5,37.09 L211.5,35.85 L214.5,34.56 L217.5,33.23 L220.5,31.86"/><path d="M52.5,40.67 L55.5,41.91 L58.5,43.1 L61.5,44.23 L64.5,45.31 L67.5,46.33 L70.5,47.29 L73.5,48.2 L76.5,49.06 L79.5,49.86 L82.5,50.6 L85.5,51.28 L88.5,51.91 L91.5,52.49 L94.5,53.01 L97.5,53.47 L100.5,53.88 L103.5,54.23 L106.5,54.53 L109.5,54.77 L112.5,54.96 L115.5,55.09 L118.5,55.16 L121.5,55.18 L124.5,55.15 L127.5,55.08 L130.5,54.97 L133.5,54.82 L136.5,54.63 L139.5,54.39 L142.5,54.11 L145.5,53.8 L148.5,53.44 L151.5,53.03 L154.5,52.59 L157.5,52.11 L160.5,51.58 L163.5,51.01 L166.5,50.4 L169.5,49.75 L172.5,49.06 L175.5,48.33 L178.5,47.55 L181.5,46.73 L184.5,45.87 L187.5,44.97 L190.5,44.03 L193.5,43.05 L196.5,42.02 L199.5,40.96 L202.5,39.85 L205.5,38.7 L208.5,37.51 L211.5,36.28 L214.5,35 L217.5,33.69 L220.5,32.33"/><path d="M52.5,40.63 L55.5,41.97 L58.5,43.24 L61.5,44.46 L64.5,45.61 L67.5,46.71 L70.5,47.74 L73.5,48.72 L76.5,49.64 L79.5,50.49 L82.5,51.29 L85.5,52.03 L88.5,52.7 L91.5,53.32 L94.5,53.88 L97.5,54.38 L100.5,54.81 L103.5,55.19 L106.5,55.51 L109.5,55.77 L112.5,55.97 L115.5,56.11 L118.5,56.19 L121.5,56.21 L124.5,56.18 L127.5,56.11 L130.5,56 L133.5,55.84 L136.5,55.64 L139.5,55.4 L142.5,55.11 L145.5,54.78 L148.5,54.41 L151.5,54 L154.5,53.54 L157.5,53.04 L160.5,52.5 L163.5,51.91 L166.5,51.28 L169.5,50.61 L172.5,49.9 L175.5,49.14 L178.5,48.34 L181.5,47.5 L184.5,46.62 L187.5,45.69 L190.5,44.72 L193.5,43.7 L196.5,42.65 L199.5,41.55 L202.5,40.41 L205.5,39.22 L208.5,37.99 L211.5,36.72 L214.5,35.41 L217.5,34.05 L220.5,32.65"/><path d="M52.5,40.82 L55.5,42.16 L58.5,43.44 L61.5,44.66 L64.5,45.82 L67.5,46.92 L70.5,47.96 L73.5,48.94 L76.5,49.86 L79.5,50.72 L82.5,51.52 L85.5,52.26 L88.5,52.94 L91.5,53.56 L94.5,54.12 L97.5,54.62 L100.5,55.06 L103.5,55.44 L106.5,55.76 L109.5,56.02 L112.5,56.22 L115.5,56.36 L118.5,56.44 L121.5,56.46 L124.5,56.43 L127.5,56.36 L130.5,56.25 L133.5,56.09 L136.5,55.89 L139.5,55.65 L142.5,55.37 L145.5,55.04 L148.5,54.68 L151.5,54.27 L154.5,53.81 L157.5,53.32 L160.5,52.78 L163.5,52.2 L166.5,51.58 L169.5,50.91 L172.5,50.21 L175.5,49.46 L178.5,48.67 L181.5,47.83 L184.5,46.95 L187.5,46.04 L190.5,45.07 L193.5,44.07 L196.5,43.02 L199.5,41.93 L202.5,40.8 L205.5,39.63 L208.5,38.41 L211.5,37.15 L214.5,35.85 L217.5,34.51 L220.5,33.12"/><path d="M52.5,41.17 L55.5,42.5 L58.5,43.77 L61.5,44.98 L64.5,46.14 L67.5,47.23 L70.5,48.26 L73.5,49.24 L76.5,50.15 L79.5,51 L82.5,51.8 L85.5,52.54 L88.5,53.21 L91.5,53.83 L94.5,54.38 L97.5,54.88 L100.5,55.32 L103.5,55.7 L106.5,56.01 L109.5,56.27 L112.5,56.47 L115.5,56.61 L118.5,56.69 L121.5,56.71 L124.5,56.68 L127.5,56.61 L130.5,56.5 L133.5,56.34 L136.5,56.15 L139.5,55.91 L142.5,55.63 L145.5,55.31 L148.5,54.94 L151.5,54.54 L154.5,54.09 L157.5,53.6 L160.5,53.07 L163.5,52.49 L166.5,51.87 L169.5,51.22 L172.5,50.52 L175.5,49.77 L178.5,48.99 L181.5,48.16 L184.5,47.29 L187.5,46.38 L190.5,45.43 L193.5,44.43 L196.5,43.4 L199.5,42.32 L202.5,41.2 L205.5,40.03 L208.5,38.83 L211.5,37.58 L214.5,36.29 L217.5,34.96 L220.5,33.59"/><path d="M52.5,41.32 L55.5,42.72 L58.5,44.05 L61.5,45.32 L64.5,46.53 L67.5,47.68 L70.5,48.76 L73.5,49.79 L76.5,50.74 L79.5,51.64 L82.5,52.47 L85.5,53.24 L88.5,53.95 L91.5,54.6 L94.5,55.18 L97.5,55.7 L100.5,56.16 L103.5,56.56 L106.5,56.89 L109.5,57.16 L112.5,57.37 L115.5,57.52 L118.5,57.6 L121.5,57.62 L124.5,57.59 L127.5,57.52 L130.5,57.4 L133.5,57.25 L136.5,57.04 L139.5,56.8 L142.5,56.51 L145.5,56.17 L148.5,55.8 L151.5,55.38 L154.5,54.91 L157.5,54.41 L160.5,53.86 L163.5,53.26 L166.5,52.62 L169.5,51.94 L172.5,51.22 L175.5,50.45 L178.5,49.64 L181.5,48.78 L184.5,47.89 L187.5,46.94 L190.5,45.96 L193.5,44.93 L196.5,43.86 L199.5,42.74 L202.5,41.58 L205.5,40.38 L208.5,39.13 L211.5,37.85 L214.5,36.51 L217.5,35.14 L220.5,33.72"/><path d="M52.5,41.67 L55.5,43.06 L58.5,44.38 L61.5,45.65 L64.5,46.85 L67.5,47.99 L70.5,49.07 L73.5,50.08 L76.5,51.03 L79.5,51.93 L82.5,52.75 L85.5,53.52 L88.5,54.23 L91.5,54.87 L94.5,55.45 L97.5,55.97 L100.5,56.42 L103.5,56.82 L106.5,57.15 L109.5,57.42 L112.5,57.62 L115.5,57.77 L118.5,57.85 L121.5,57.87 L124.5,57.84 L127.5,57.77 L130.5,57.65 L133.5,57.5 L136.5,57.29 L139.5,57.05 L142.5,56.76 L145.5,56.42 L148.5,56.05 L151.5,55.63 L154.5,55.16 L157.5,54.66 L160.5,54.11 L163.5,53.51 L166.5,52.87 L169.5,52.19 L172.5,51.47 L175.5,50.7 L178.5,49.89 L181.5,49.03 L184.5,48.14 L187.5,47.19 L190.5,46.21 L193.5,45.18 L196.5,44.11 L199.5,42.99 L202.5,41.83 L205.5,40.63 L208.5,39.38 L211.5,38.1 L214.5,36.76 L217.5,35.39 L220.5,33.97"/><path d="M52.5,42.02 L55.5,43.4 L58.5,44.71 L61.5,45.97 L64.5,47.16 L67.5,48.3 L70.5,49.37 L73.5,50.38 L76.5,51.33 L79.5,52.21 L82.5,53.03 L85.5,53.8 L88.5,54.5 L91.5,55.14 L94.5,55.71 L97.5,56.23 L100.5,56.68 L103.5,57.07 L106.5,57.4 L109.5,57.67 L112.5,57.87 L115.5,58.02 L118.5,58.1 L121.5,58.12 L124.5,58.09 L127.5,58.02 L130.5,57.9 L133.5,57.75 L136.5,57.54 L139.5,57.3 L142.5,57.01 L145.5,56.67 L148.5,56.3 L151.5,55.88 L154.5,55.41 L157.5,54.91 L160.5,54.36 L163.5,53.76 L166.5,53.12 L169.5,52.44 L172.5,51.72 L175.5,50.95 L178.5,50.14 L181.5,49.28 L184.5,48.39 L187.5,47.44 L190.5,46.46 L193.5,45.43 L196.5,44.36 L199.5,43.24 L202.5,42.08 L205.5,40.88 L208.5,39.63 L211.5,38.35 L214.5,37.01 L217.5,35.64 L220.5,34.22"/><path d="M52.5,42.37 L55.5,43.79 L58.5,45.15 L61.5,46.45 L64.5,47.68 L67.5,48.85 L70.5,49.96 L73.5,51 L76.5,51.97 L79.5,52.89 L82.5,53.74 L85.5,54.52 L88.5,55.25 L91.5,55.91 L94.5,56.5 L97.5,57.03 L100.5,57.5 L103.5,57.9 L106.5,58.24 L109.5,58.52 L112.5,58.73 L115.5,58.88 L118.5,58.97 L121.5,58.99 L124.5,58.96 L127.5,58.88 L130.5,58.76 L133.5,58.6 L136.5,58.39 L139.5,58.14 L142.5,57.84 L145.5,57.49 L148.5,57.11 L151.5,56.67 L154.5,56.2 L157.5,55.67 L160.5,55.11 L163.5,54.49 L166.5,53.84 L169.5,53.13 L172.5,52.39 L175.5,51.6 L178.5,50.76 L181.5,49.88 L184.5,48.95 L187.5,47.98 L190.5,46.97 L193.5,45.91 L196.5,44.8 L199.5,43.65 L202.5,42.46 L205.5,41.22 L208.5,39.94 L211.5,38.61 L214.5,37.23 L217.5,35.82 L220.5,34.35"/><path d="M52.5,42.9 L55.5,44.3 L58.5,45.63 L61.5,46.91 L64.5,48.12 L67.5,49.27 L70.5,50.36 L73.5,51.38 L76.5,52.34 L79.5,53.24 L82.5,54.08 L85.5,54.85 L88.5,55.56 L91.5,56.21 L94.5,56.79 L97.5,57.32 L100.5,57.77 L103.5,58.17 L106.5,58.51 L109.5,58.78 L112.5,58.99 L115.5,59.13 L118.5,59.22 L121.5,59.24 L124.5,59.21 L127.5,59.13 L130.5,59.01 L133.5,58.85 L136.5,58.64 L139.5,58.39 L142.5,58.09 L145.5,57.74 L148.5,57.36 L151.5,56.92 L154.5,56.45 L157.5,55.92 L160.5,55.36 L163.5,54.74 L166.5,54.09 L169.5,53.38 L172.5,52.64 L175.5,51.85 L178.5,51.01 L181.5,50.13 L184.5,49.2 L187.5,48.23 L190.5,47.22 L193.5,46.16 L196.5,45.05 L199.5,43.9 L202.5,42.71 L205.5,41.47 L208.5,40.19 L211.5,38.86 L214.5,37.48 L217.5,36.07 L220.5,34.6"/><path d="M52.5,43.43 L55.5,44.8 L58.5,46.12 L61.5,47.37 L64.5,48.56 L67.5,49.69 L70.5,50.76 L73.5,51.76 L76.5,52.71 L79.5,53.59 L82.5,54.41 L85.5,55.17 L88.5,55.87 L91.5,56.51 L94.5,57.08 L97.5,57.6 L100.5,58.05 L103.5,58.44 L106.5,58.77 L109.5,59.04 L112.5,59.24 L115.5,59.38 L118.5,59.47 L121.5,59.49 L124.5,59.46 L127.5,59.38 L130.5,59.26 L133.5,59.1 L136.5,58.89 L139.5,58.64 L142.5,58.34 L145.5,57.99 L148.5,57.61 L151.5,57.17 L154.5,56.7 L157.5,56.17 L160.5,55.61 L163.5,54.99 L166.5,54.34 L169.5,53.63 L172.5,52.89 L175.5,52.1 L178.5,51.26 L181.5,50.38 L184.5,49.45 L187.5,48.48 L190.5,47.47 L193.5,46.41 L196.5,45.3 L199.5,44.15 L202.5,42.96 L205.5,41.72 L208.5,40.44 L211.5,39.11 L214.5,37.73 L217.5,36.32 L220.5,34.85"/><path d="M52.5,43.94 L55.5,45.35 L58.5,46.7 L61.5,47.98 L64.5,49.2 L67.5,50.35 L70.5,51.45 L73.5,52.48 L76.5,53.44 L79.5,54.35 L82.5,55.19 L85.5,55.96 L88.5,56.68 L91.5,57.33 L94.5,57.92 L97.5,58.44 L100.5,58.91 L103.5,59.31 L106.5,59.64 L109.5,59.92 L112.5,60.13 L115.5,60.27 L118.5,60.36 L121.5,60.38 L124.5,60.35 L127.5,60.27 L130.5,60.15 L133.5,59.98 L136.5,59.76 L139.5,59.5 L142.5,59.19 L145.5,58.84 L148.5,58.44 L151.5,57.99 L154.5,57.5 L157.5,56.96 L160.5,56.38 L163.5,55.75 L166.5,55.07 L169.5,54.35 L172.5,53.58 L175.5,52.76 L178.5,51.9 L181.5,50.99 L184.5,50.04 L187.5,49.04 L190.5,47.99 L193.5,46.9 L196.5,45.76 L199.5,44.57 L202.5,43.34 L205.5,42.06 L208.5,40.74 L211.5,39.37 L214.5,37.95 L217.5,36.49 L220.5,34.98"/><path d="M52.5,44.64 L55.5,46.01 L58.5,47.32 L61.5,48.57 L64.5,49.75 L67.5,50.88 L70.5,51.94 L73.5,52.94 L76.5,53.88 L79.5,54.76 L82.5,55.58 L85.5,56.34 L88.5,57.03 L91.5,57.66 L94.5,58.24 L97.5,58.75 L100.5,59.2 L103.5,59.59 L106.5,59.91 L109.5,60.18 L112.5,60.38 L115.5,60.53 L118.5,60.61 L121.5,60.63 L124.5,60.6 L127.5,60.52 L130.5,60.4 L133.5,60.23 L136.5,60.01 L139.5,59.75 L142.5,59.44 L145.5,59.09 L148.5,58.69 L151.5,58.24 L154.5,57.75 L157.5,57.21 L160.5,56.63 L163.5,56 L166.5,55.32 L169.5,54.6 L172.5,53.83 L175.5,53.01 L178.5,52.15 L181.5,51.24 L184.5,50.29 L187.5,49.29 L190.5,48.24 L193.5,47.15 L196.5,46.01 L199.5,44.82 L202.5,43.59 L205.5,42.31 L208.5,40.99 L211.5,39.62 L214.5,38.2 L217.5,36.74 L220.5,35.23"/><path d="M52.5,45.41 L55.5,46.73 L58.5,48 L61.5,49.21 L64.5,50.35 L67.5,51.44 L70.5,52.47 L73.5,53.44 L76.5,54.35 L79.5,55.2 L82.5,55.99 L85.5,56.72 L88.5,57.4 L91.5,58.01 L94.5,58.56 L97.5,59.06 L100.5,59.49 L103.5,59.87 L106.5,60.19 L109.5,60.44 L112.5,60.64 L115.5,60.78 L118.5,60.86 L121.5,60.88 L124.5,60.85 L127.5,60.77 L130.5,60.65 L133.5,60.48 L136.5,60.27 L139.5,60.01 L142.5,59.7 L145.5,59.35 L148.5,58.96 L151.5,58.51 L154.5,58.03 L157.5,57.49 L160.5,56.91 L163.5,56.29 L166.5,55.61 L169.5,54.9 L172.5,54.13 L175.5,53.33 L178.5,52.47 L181.5,51.57 L184.5,50.62 L187.5,49.63 L190.5,48.59 L193.5,47.51 L196.5,46.38 L199.5,45.21 L202.5,43.99 L205.5,42.72 L208.5,41.41 L211.5,40.05 L214.5,38.65 L217.5,37.2 L220.5,35.7"/><path d="M52.5,45.96 L55.5,47.32 L58.5,48.63 L61.5,49.87 L64.5,51.05 L67.5,52.16 L70.5,53.22 L73.5,54.22 L76.5,55.15 L79.5,56.03 L82.5,56.84 L85.5,57.59 L88.5,58.29 L91.5,58.92 L94.5,59.49 L97.5,59.99 L100.5,60.44 L103.5,60.83 L106.5,61.15 L109.5,61.42 L112.5,61.62 L115.5,61.76 L118.5,61.85 L121.5,61.87 L124.5,61.83 L127.5,61.76 L130.5,61.63 L133.5,61.46 L136.5,61.24 L139.5,60.97 L142.5,60.66 L145.5,60.3 L148.5,59.89 L151.5,59.44 L154.5,58.94 L157.5,58.39 L160.5,57.8 L163.5,57.15 L166.5,56.46 L169.5,55.73 L172.5,54.95 L175.5,54.12 L178.5,53.24 L181.5,52.32 L184.5,51.34 L187.5,50.33 L190.5,49.26 L193.5,48.15 L196.5,46.99 L199.5,45.79 L202.5,44.53 L205.5,43.23 L208.5,41.89 L211.5,40.49 L214.5,39.05 L217.5,37.57 L220.5,36.03"/><path d="M52.5,46.53 L55.5,47.87 L58.5,49.14 L61.5,50.36 L64.5,51.51 L67.5,52.61 L70.5,53.65 L73.5,54.62 L76.5,55.54 L79.5,56.4 L82.5,57.19 L85.5,57.93 L88.5,58.61 L91.5,59.23 L94.5,59.78 L97.5,60.28 L100.5,60.72 L103.5,61.1 L106.5,61.42 L109.5,61.68 L112.5,61.88 L115.5,62.02 L118.5,62.1 L121.5,62.12 L124.5,62.09 L127.5,62.01 L130.5,61.88 L133.5,61.71 L136.5,61.5 L139.5,61.23 L142.5,60.92 L145.5,60.56 L148.5,60.16 L151.5,59.71 L154.5,59.21 L157.5,58.67 L160.5,58.08 L163.5,57.44 L166.5,56.76 L169.5,56.03 L172.5,55.25 L175.5,54.43 L178.5,53.56 L181.5,52.65 L184.5,51.68 L187.5,50.67 L190.5,49.62 L193.5,48.52 L196.5,47.37 L199.5,46.17 L202.5,44.93 L205.5,43.64 L208.5,42.31 L211.5,40.92 L214.5,39.5 L217.5,38.02 L220.5,36.5"/><path d="M52.5,47.1 L55.5,48.41 L58.5,49.66 L61.5,50.85 L64.5,51.98 L67.5,53.06 L70.5,54.07 L73.5,55.03 L76.5,55.93 L79.5,56.76 L82.5,57.55 L85.5,58.27 L88.5,58.93 L91.5,59.54 L94.5,60.08 L97.5,60.57 L100.5,61 L103.5,61.37 L106.5,61.68 L109.5,61.94 L112.5,62.13 L115.5,62.27 L118.5,62.35 L121.5,62.37 L124.5,62.34 L127.5,62.26 L130.5,62.14 L133.5,61.97 L136.5,61.76 L139.5,61.5 L142.5,61.19 L145.5,60.84 L148.5,60.45 L151.5,60 L154.5,59.52 L157.5,58.98 L160.5,58.4 L163.5,57.78 L166.5,57.11 L169.5,56.39 L172.5,55.63 L175.5,54.82 L178.5,53.97 L181.5,53.07 L184.5,52.13 L187.5,51.14 L190.5,50.1 L193.5,49.02 L196.5,47.89 L199.5,46.72 L202.5,45.5 L205.5,44.23 L208.5,42.92 L211.5,41.57 L214.5,40.16 L217.5,38.72 L220.5,37.22"/><path d="M52.5,47.42 L55.5,48.8 L58.5,50.11 L61.5,51.37 L64.5,52.56 L67.5,53.7 L70.5,54.77 L73.5,55.77 L76.5,56.72 L79.5,57.61 L82.5,58.43 L85.5,59.19 L88.5,59.89 L91.5,60.53 L94.5,61.1 L97.5,61.62 L100.5,62.07 L103.5,62.46 L106.5,62.79 L109.5,63.06 L112.5,63.26 L115.5,63.41 L118.5,63.49 L121.5,63.51 L124.5,63.48 L127.5,63.4 L130.5,63.28 L133.5,63.11 L136.5,62.89 L139.5,62.62 L142.5,62.31 L145.5,61.95 L148.5,61.55 L151.5,61.09 L154.5,60.6 L157.5,60.05 L160.5,59.46 L163.5,58.82 L166.5,58.13 L169.5,57.4 L172.5,56.62 L175.5,55.79 L178.5,54.92 L181.5,54 L184.5,53.03 L187.5,52.02 L190.5,50.96 L193.5,49.85 L196.5,48.7 L199.5,47.5 L202.5,46.25 L205.5,44.95 L208.5,43.61 L211.5,42.23 L214.5,40.79 L217.5,39.31 L220.5,37.78"/><path d="M52.5,47.99 L55.5,49.34 L58.5,50.63 L61.5,51.86 L64.5,53.03 L67.5,54.14 L70.5,55.19 L73.5,56.18 L76.5,57.11 L79.5,57.97 L82.5,58.78 L85.5,59.53 L88.5,60.21 L91.5,60.84 L94.5,61.4 L97.5,61.91 L100.5,62.35 L103.5,62.73 L106.5,63.06 L109.5,63.32 L112.5,63.52 L115.5,63.66 L118.5,63.74 L121.5,63.76 L124.5,63.73 L127.5,63.65 L130.5,63.53 L133.5,63.36 L136.5,63.15 L139.5,62.89 L142.5,62.58 L145.5,62.23 L148.5,61.83 L151.5,61.39 L154.5,60.9 L157.5,60.36 L160.5,59.78 L163.5,59.15 L166.5,58.48 L169.5,57.76 L172.5,57 L175.5,56.18 L178.5,55.33 L181.5,54.42 L184.5,53.48 L187.5,52.48 L190.5,51.44 L193.5,50.35 L196.5,49.22 L199.5,48.04 L202.5,46.82 L205.5,45.55 L208.5,44.23 L211.5,42.87 L214.5,41.46 L217.5,40.01 L220.5,38.51"/><path d="M52.5,48.56 L55.5,49.89 L58.5,51.15 L61.5,52.36 L64.5,53.5 L67.5,54.59 L70.5,55.62 L73.5,56.58 L76.5,57.49 L79.5,58.34 L82.5,59.13 L85.5,59.86 L88.5,60.53 L91.5,61.15 L94.5,61.7 L97.5,62.19 L100.5,62.63 L103.5,63 L106.5,63.32 L109.5,63.58 L112.5,63.77 L115.5,63.91 L118.5,63.99 L121.5,64.01 L124.5,63.98 L127.5,63.91 L130.5,63.79 L133.5,63.62 L136.5,63.41 L139.5,63.16 L142.5,62.86 L145.5,62.51 L148.5,62.12 L151.5,61.68 L154.5,61.2 L157.5,60.68 L160.5,60.11 L163.5,59.49 L166.5,58.83 L169.5,58.12 L172.5,57.37 L175.5,56.58 L178.5,55.74 L181.5,54.85 L184.5,53.92 L187.5,52.94 L190.5,51.92 L193.5,50.85 L196.5,49.74 L199.5,48.59 L202.5,47.38 L205.5,46.14 L208.5,44.85 L211.5,43.51 L214.5,42.13 L217.5,40.7 L220.5,39.23"/><path d="M52.5,48.82 L55.5,50.24 L58.5,51.59 L61.5,52.88 L64.5,54.11 L67.5,55.27 L70.5,56.37 L73.5,57.41 L76.5,58.38 L79.5,59.29 L82.5,60.14 L85.5,60.92 L88.5,61.64 L91.5,62.3 L94.5,62.89 L97.5,63.42 L100.5,63.88 L103.5,64.28 L106.5,64.62 L109.5,64.9 L112.5,65.11 L115.5,65.26 L118.5,65.34 L121.5,65.36 L124.5,65.33 L127.5,65.25 L130.5,65.13 L133.5,64.96 L136.5,64.74 L139.5,64.47 L142.5,64.16 L145.5,63.8 L148.5,63.39 L151.5,62.94 L154.5,62.44 L157.5,61.89 L160.5,61.3 L163.5,60.66 L166.5,59.97 L169.5,59.24 L172.5,58.45 L175.5,57.63 L178.5,56.75 L181.5,55.83 L184.5,54.86 L187.5,53.84 L190.5,52.78 L193.5,51.67 L196.5,50.51 L199.5,49.31 L202.5,48.06 L205.5,46.76 L208.5,45.42 L211.5,44.03 L214.5,42.59 L217.5,41.1 L220.5,39.57"/><path d="M52.5,49.39 L55.5,50.78 L58.5,52.11 L61.5,53.37 L64.5,54.58 L67.5,55.72 L70.5,56.8 L73.5,57.81 L76.5,58.77 L79.5,59.66 L82.5,60.49 L85.5,61.26 L88.5,61.96 L91.5,62.61 L94.5,63.19 L97.5,63.7 L100.5,64.16 L103.5,64.56 L106.5,64.89 L109.5,65.16 L112.5,65.36 L115.5,65.51 L118.5,65.59 L121.5,65.61 L124.5,65.58 L127.5,65.51 L130.5,65.38 L133.5,65.21 L136.5,65 L139.5,64.73 L142.5,64.42 L145.5,64.07 L148.5,63.67 L151.5,63.22 L154.5,62.72 L157.5,62.18 L160.5,61.6 L163.5,60.96 L166.5,60.28 L169.5,59.56 L172.5,58.78 L175.5,57.96 L178.5,57.1 L181.5,56.19 L184.5,55.23 L187.5,54.23 L190.5,53.17 L193.5,52.08 L196.5,50.93 L199.5,49.74 L202.5,48.51 L205.5,47.23 L208.5,45.9 L211.5,44.52 L214.5,43.1 L217.5,41.63 L220.5,40.12"/><path d="M52.5,49.96 L55.5,51.32 L58.5,52.63 L61.5,53.87 L64.5,55.05 L67.5,56.16 L70.5,57.22 L73.5,58.22 L76.5,59.15 L79.5,60.03 L82.5,60.84 L85.5,61.59 L88.5,62.28 L91.5,62.91 L94.5,63.48 L97.5,63.99 L100.5,64.44 L103.5,64.83 L106.5,65.15 L109.5,65.42 L112.5,65.62 L115.5,65.76 L118.5,65.84 L121.5,65.86 L124.5,65.83 L127.5,65.76 L130.5,65.63 L133.5,65.47 L136.5,65.25 L139.5,64.99 L142.5,64.69 L145.5,64.34 L148.5,63.94 L151.5,63.5 L154.5,63.01 L157.5,62.47 L160.5,61.89 L163.5,61.27 L166.5,60.59 L169.5,59.88 L172.5,59.11 L175.5,58.3 L178.5,57.45 L181.5,56.55 L184.5,55.6 L187.5,54.61 L190.5,53.57 L193.5,52.48 L196.5,51.35 L199.5,50.18 L202.5,48.96 L205.5,47.69 L208.5,46.38 L211.5,45.02 L214.5,43.61 L217.5,42.16 L220.5,40.66"/><path d="M52.5,50.15 L55.5,51.63 L58.5,53.05 L61.5,54.4 L64.5,55.68 L67.5,56.9 L70.5,58.05 L73.5,59.13 L76.5,60.15 L79.5,61.1 L82.5,61.99 L85.5,62.81 L88.5,63.56 L91.5,64.24 L94.5,64.86 L97.5,65.42 L100.5,65.9 L103.5,66.32 L106.5,66.68 L109.5,66.96 L112.5,67.19 L115.5,67.34 L118.5,67.43 L121.5,67.45 L124.5,67.42 L127.5,67.34 L130.5,67.21 L133.5,67.03 L136.5,66.81 L139.5,66.54 L142.5,66.22 L145.5,65.85 L148.5,65.43 L151.5,64.96 L154.5,64.45 L157.5,63.89 L160.5,63.28 L163.5,62.62 L166.5,61.91 L169.5,61.16 L172.5,60.36 L175.5,59.5 L178.5,58.61 L181.5,57.66 L184.5,56.66 L187.5,55.62 L190.5,54.53 L193.5,53.39 L196.5,52.2 L199.5,50.96 L202.5,49.68 L205.5,48.35 L208.5,46.97 L211.5,45.54 L214.5,44.06 L217.5,42.54 L220.5,40.96"/><path d="M52.5,50.88 L55.5,52.32 L58.5,53.7 L61.5,55.01 L64.5,56.26 L67.5,57.44 L70.5,58.56 L73.5,59.61 L76.5,60.6 L79.5,61.53 L82.5,62.39 L85.5,63.18 L88.5,63.92 L91.5,64.58 L94.5,65.18 L97.5,65.72 L100.5,66.2 L103.5,66.6 L106.5,66.95 L109.5,67.23 L112.5,67.44 L115.5,67.59 L118.5,67.68 L121.5,67.7 L124.5,67.67 L127.5,67.59 L130.5,67.46 L133.5,67.29 L136.5,67.07 L139.5,66.8 L142.5,66.48 L145.5,66.12 L148.5,65.7 L151.5,65.24 L154.5,64.74 L157.5,64.18 L160.5,63.58 L163.5,62.93 L166.5,62.23 L169.5,61.48 L172.5,60.69 L175.5,59.85 L178.5,58.96 L181.5,58.03 L184.5,57.04 L187.5,56.01 L190.5,54.93 L193.5,53.81 L196.5,52.63 L199.5,51.41 L202.5,50.14 L205.5,48.83 L208.5,47.46 L211.5,46.05 L214.5,44.59 L217.5,43.09 L220.5,41.53"/><path d="M52.5,51.61 L55.5,53.01 L58.5,54.35 L61.5,55.63 L64.5,56.84 L67.5,57.99 L70.5,59.07 L73.5,60.1 L76.5,61.06 L79.5,61.96 L82.5,62.79 L85.5,63.56 L88.5,64.27 L91.5,64.92 L94.5,65.51 L97.5,66.03 L100.5,66.49 L103.5,66.89 L106.5,67.22 L109.5,67.49 L112.5,67.7 L115.5,67.85 L118.5,67.93 L121.5,67.95 L124.5,67.92 L127.5,67.84 L130.5,67.72 L133.5,67.54 L136.5,67.32 L139.5,67.06 L142.5,66.75 L145.5,66.38 L148.5,65.98 L151.5,65.52 L154.5,65.02 L157.5,64.47 L160.5,63.88 L163.5,63.24 L166.5,62.55 L169.5,61.81 L172.5,61.03 L175.5,60.2 L178.5,59.32 L181.5,58.4 L184.5,57.42 L187.5,56.41 L190.5,55.34 L193.5,54.23 L196.5,53.07 L199.5,51.86 L202.5,50.61 L205.5,49.31 L208.5,47.96 L211.5,46.57 L214.5,45.13 L217.5,43.64 L220.5,42.1"/><path d="M52.5,51.89 L55.5,53.43 L58.5,54.89 L61.5,56.29 L64.5,57.61 L67.5,58.87 L70.5,60.06 L73.5,61.18 L76.5,62.23 L79.5,63.22 L82.5,64.13 L85.5,64.98 L88.5,65.76 L91.5,66.47 L94.5,67.11 L97.5,67.68 L100.5,68.18 L103.5,68.62 L106.5,68.98 L109.5,69.28 L112.5,69.51 L115.5,69.67 L118.5,69.76 L121.5,69.78 L124.5,69.75 L127.5,69.67 L130.5,69.53 L133.5,69.35 L136.5,69.12 L139.5,68.84 L142.5,68.5 L145.5,68.12 L148.5,67.69 L151.5,67.21 L154.5,66.68 L157.5,66.1 L160.5,65.47 L163.5,64.78 L166.5,64.05 L169.5,63.27 L172.5,62.44 L175.5,61.56 L178.5,60.63 L181.5,59.65 L184.5,58.62 L187.5,57.54 L190.5,56.41 L193.5,55.23 L196.5,54.01 L199.5,52.73 L202.5,51.4 L205.5,50.02 L208.5,48.59 L211.5,47.11 L214.5,45.59 L217.5,44.01 L220.5,42.38"/><path d="M52.5,52.63 L55.5,54.12 L58.5,55.54 L61.5,56.9 L64.5,58.19 L67.5,59.42 L70.5,60.57 L73.5,61.66 L76.5,62.69 L79.5,63.64 L82.5,64.54 L85.5,65.36 L88.5,66.12 L91.5,66.81 L94.5,67.43 L97.5,67.99 L100.5,68.48 L103.5,68.9 L106.5,69.25 L109.5,69.54 L112.5,69.77 L115.5,69.92 L118.5,70.01 L121.5,70.03 L124.5,70 L127.5,69.92 L130.5,69.79 L133.5,69.61 L136.5,69.38 L139.5,69.1 L142.5,68.77 L145.5,68.39 L148.5,67.97 L151.5,67.49 L154.5,66.96 L157.5,66.39 L160.5,65.77 L163.5,65.09 L166.5,64.37 L169.5,63.6 L172.5,62.78 L175.5,61.91 L178.5,60.99 L181.5,60.02 L184.5,59 L187.5,57.94 L190.5,56.82 L193.5,55.65 L196.5,54.44 L199.5,53.18 L202.5,51.86 L205.5,50.5 L208.5,49.09 L211.5,47.63 L214.5,46.12 L217.5,44.56 L220.5,42.95"/><path d="M52.5,53.52 L55.5,54.96 L58.5,56.33 L61.5,57.64 L64.5,58.88 L67.5,60.06 L70.5,61.17 L73.5,62.22 L76.5,63.21 L79.5,64.13 L82.5,64.99 L85.5,65.78 L88.5,66.51 L91.5,67.17 L94.5,67.78 L97.5,68.31 L100.5,68.78 L103.5,69.19 L106.5,69.53 L109.5,69.81 L112.5,70.03 L115.5,70.18 L118.5,70.26 L121.5,70.28 L124.5,70.25 L127.5,70.17 L130.5,70.04 L133.5,69.86 L136.5,69.63 L139.5,69.36 L142.5,69.03 L145.5,68.66 L148.5,68.24 L151.5,67.77 L154.5,67.25 L157.5,66.68 L160.5,66.07 L163.5,65.4 L166.5,64.69 L169.5,63.93 L172.5,63.11 L175.5,62.25 L178.5,61.35 L181.5,60.39 L184.5,59.38 L187.5,58.33 L190.5,57.23 L193.5,56.07 L196.5,54.87 L199.5,53.63 L202.5,52.33 L205.5,50.98 L208.5,49.59 L211.5,48.14 L214.5,46.65 L217.5,45.11 L220.5,43.52"/><path d="M52.5,53.89 L55.5,55.47 L58.5,56.98 L61.5,58.42 L64.5,59.79 L67.5,61.09 L70.5,62.32 L73.5,63.47 L76.5,64.56 L79.5,65.57 L82.5,66.52 L85.5,67.39 L88.5,68.19 L91.5,68.93 L94.5,69.59 L97.5,70.18 L100.5,70.7 L103.5,71.14 L106.5,71.52 L109.5,71.83 L112.5,72.06 L115.5,72.23 L118.5,72.32 L121.5,72.35 L124.5,72.31 L127.5,72.23 L130.5,72.09 L133.5,71.9 L136.5,71.66 L139.5,71.37 L142.5,71.03 L145.5,70.64 L148.5,70.2 L151.5,69.7 L154.5,69.15 L157.5,68.56 L160.5,67.91 L163.5,67.21 L166.5,66.45 L169.5,65.65 L172.5,64.8 L175.5,63.89 L178.5,62.94 L181.5,61.93 L184.5,60.87 L187.5,59.76 L190.5,58.6 L193.5,57.39 L196.5,56.12 L199.5,54.81 L202.5,53.44 L205.5,52.02 L208.5,50.55 L211.5,49.03 L214.5,47.46 L217.5,45.84 L220.5,44.16"/><path d="M52.5,54.79 L55.5,56.31 L58.5,57.77 L61.5,59.16 L64.5,60.48 L67.5,61.73 L70.5,62.92 L73.5,64.03 L76.5,65.08 L79.5,66.06 L82.5,66.97 L85.5,67.81 L88.5,68.59 L91.5,69.29 L94.5,69.93 L97.5,70.5 L100.5,71 L103.5,71.44 L106.5,71.8 L109.5,72.1 L112.5,72.32 L115.5,72.48 L118.5,72.57 L121.5,72.6 L124.5,72.56 L127.5,72.48 L130.5,72.35 L133.5,72.16 L136.5,71.93 L139.5,71.65 L142.5,71.32 L145.5,70.93 L148.5,70.5 L151.5,70.02 L154.5,69.49 L157.5,68.9 L160.5,68.27 L163.5,67.59 L166.5,66.86 L169.5,66.08 L172.5,65.24 L175.5,64.36 L178.5,63.43 L181.5,62.45 L184.5,61.42 L187.5,60.34 L190.5,59.2 L193.5,58.02 L196.5,56.79 L199.5,55.51 L202.5,54.18 L205.5,52.8 L208.5,51.37 L211.5,49.89 L214.5,48.36 L217.5,46.78 L220.5,45.15"/><path d="M52.5,55.68 L55.5,57.15 L58.5,58.56 L61.5,59.89 L64.5,61.17 L67.5,62.38 L70.5,63.52 L73.5,64.59 L76.5,65.6 L79.5,66.55 L82.5,67.42 L85.5,68.24 L88.5,68.98 L91.5,69.66 L94.5,70.28 L97.5,70.83 L100.5,71.31 L103.5,71.73 L106.5,72.08 L109.5,72.36 L112.5,72.58 L115.5,72.74 L118.5,72.83 L121.5,72.85 L124.5,72.82 L127.5,72.73 L130.5,72.6 L133.5,72.43 L136.5,72.2 L139.5,71.92 L142.5,71.6 L145.5,71.23 L148.5,70.81 L151.5,70.34 L154.5,69.82 L157.5,69.25 L160.5,68.64 L163.5,67.97 L166.5,67.26 L169.5,66.5 L172.5,65.69 L175.5,64.83 L178.5,63.92 L181.5,62.97 L184.5,61.96 L187.5,60.91 L190.5,59.81 L193.5,58.66 L196.5,57.46 L199.5,56.22 L202.5,54.92 L205.5,53.58 L208.5,52.18 L211.5,50.74 L214.5,49.25 L217.5,47.71 L220.5,46.13"/><path d="M52.5,76.53 L55.5,76.59 L58.5,76.66 L61.5,76.72 L64.5,76.77 L67.5,76.83 L70.5,76.88 L73.5,76.93 L76.5,76.97 L79.5,77.02 L82.5,77.06 L85.5,77.09 L88.5,77.13 L91.5,77.16 L94.5,77.18 L97.5,77.21 L100.5,77.23 L103.5,77.25 L106.5,77.27 L109.5,77.28 L112.5,77.29 L115.5,77.3 L118.5,77.3 L121.5,77.3 L124.5,77.3 L127.5,77.31 L130.5,77.31 L133.5,77.32 L136.5,77.34 L139.5,77.35 L142.5,77.37 L145.5,77.39 L148.5,77.42 L151.5,77.44 L154.5,77.47 L157.5,77.51 L160.5,77.54 L163.5,77.58 L166.5,77.62 L169.5,77.67 L172.5,77.71 L175.5,77.76 L178.5,77.81 L181.5,77.87 L184.5,77.93 L187.5,77.99 L190.5,78.05 L193.5,78.12 L196.5,78.19 L199.5,78.26 L202.5,78.33 L205.5,78.41 L208.5,78.49 L211.5,78.57 L214.5,78.66 L217.5,78.75 L220.5,78.84"/><path d="M52.5,80.84 L55.5,80.69 L58.5,80.55 L61.5,80.41 L64.5,80.28 L67.5,80.15 L70.5,80.04 L73.5,79.93 L76.5,79.82 L79.5,79.73 L82.5,79.64 L85.5,79.55 L88.5,79.48 L91.5,79.41 L94.5,79.34 L97.5,79.29 L100.5,79.24 L103.5,79.2 L106.5,79.16 L109.5,79.13 L112.5,79.11 L115.5,79.09 L118.5,79.08 L121.5,79.08 L124.5,79.08 L127.5,79.08 L130.5,79.07 L133.5,79.07 L136.5,79.07 L139.5,79.06 L142.5,79.05 L145.5,79.05 L148.5,79.04 L151.5,79.03 L154.5,79.02 L157.5,79 L160.5,78.99 L163.5,78.98 L166.5,78.96 L169.5,78.94 L172.5,78.93 L175.5,78.91 L178.5,78.89 L181.5,78.87 L184.5,78.85 L187.5,78.83 L190.5,78.8 L193.5,78.78 L196.5,78.75 L199.5,78.73 L202.5,78.7 L205.5,78.67 L208.5,78.64 L211.5,78.61 L214.5,78.58 L217.5,78.54 L220.5,78.51"/><path d="M52.5,81.61 L55.5,81.42 L58.5,81.25 L61.5,81.08 L64.5,80.93 L67.5,80.78 L70.5,80.64 L73.5,80.5 L76.5,80.38 L79.5,80.26 L82.5,80.15 L85.5,80.05 L88.5,79.96 L91.5,79.87 L94.5,79.8 L97.5,79.73 L100.5,79.67 L103.5,79.62 L106.5,79.58 L109.5,79.54 L112.5,79.51 L115.5,79.49 L118.5,79.48 L121.5,79.48 L124.5,79.48 L127.5,79.48 L130.5,79.47 L133.5,79.46 L136.5,79.45 L139.5,79.44 L142.5,79.43 L145.5,79.42 L148.5,79.4 L151.5,79.38 L154.5,79.36 L157.5,79.34 L160.5,79.32 L163.5,79.29 L166.5,79.26 L169.5,79.23 L172.5,79.2 L175.5,79.17 L178.5,79.13 L181.5,79.09 L184.5,79.06 L187.5,79.01 L190.5,78.97 L193.5,78.93 L196.5,78.88 L199.5,78.83 L202.5,78.78 L205.5,78.73 L208.5,78.67 L211.5,78.62 L214.5,78.56 L217.5,78.5 L220.5,78.44"/><path d="M52.5,115.72 L55.5,113.48 L58.5,111.34 L61.5,109.3 L64.5,107.36 L67.5,105.52 L70.5,103.78 L73.5,102.14 L76.5,100.6 L79.5,99.16 L82.5,97.82 L85.5,96.58 L88.5,95.44 L91.5,94.4 L94.5,93.47 L97.5,92.63 L100.5,91.89 L103.5,91.26 L106.5,90.72 L109.5,90.29 L112.5,89.95 L115.5,89.72 L118.5,89.58 L121.5,89.55 L124.5,89.59 L127.5,89.7 L130.5,89.88 L133.5,90.12 L136.5,90.43 L139.5,90.8 L142.5,91.23 L145.5,91.74 L148.5,92.31 L151.5,92.94 L154.5,93.64 L157.5,94.41 L160.5,95.24 L163.5,96.13 L166.5,97.1 L169.5,98.12 L172.5,99.22 L175.5,100.38 L178.5,101.6 L181.5,102.89 L184.5,104.25 L187.5,105.67 L190.5,107.16 L193.5,108.71 L196.5,110.33 L199.5,112.01 L202.5,113.76 L205.5,115.58 L208.5,117.46 L211.5,119.4 L214.5,121.42 L217.5,123.49 L220.5,125.64"/><path d="M52.5,116.38 L55.5,114.1 L58.5,111.93 L61.5,109.86 L64.5,107.88 L67.5,106.01 L70.5,104.25 L73.5,102.58 L76.5,101.02 L79.5,99.56 L82.5,98.2 L85.5,96.94 L88.5,95.78 L91.5,94.73 L94.5,93.78 L97.5,92.93 L100.5,92.18 L103.5,91.53 L106.5,90.99 L109.5,90.55 L112.5,90.21 L115.5,89.97 L118.5,89.84 L121.5,89.8 L124.5,89.85 L127.5,89.96 L130.5,90.13 L133.5,90.38 L136.5,90.69 L139.5,91.06 L142.5,91.51 L145.5,92.01 L148.5,92.59 L151.5,93.23 L154.5,93.94 L157.5,94.72 L160.5,95.56 L163.5,96.46 L166.5,97.44 L169.5,98.48 L172.5,99.59 L175.5,100.76 L178.5,102 L181.5,103.31 L184.5,104.68 L187.5,106.12 L190.5,107.62 L193.5,109.19 L196.5,110.83 L199.5,112.54 L202.5,114.31 L205.5,116.15 L208.5,118.05 L211.5,120.02 L214.5,122.06 L217.5,124.16 L220.5,126.33"/><path d="M52.5,117.04 L55.5,114.73 L58.5,112.52 L61.5,110.41 L64.5,108.41 L67.5,106.51 L70.5,104.72 L73.5,103.03 L76.5,101.44 L79.5,99.96 L82.5,98.58 L85.5,97.3 L88.5,96.13 L91.5,95.06 L94.5,94.09 L97.5,93.23 L100.5,92.47 L103.5,91.81 L106.5,91.26 L109.5,90.81 L112.5,90.47 L115.5,90.22 L118.5,90.09 L121.5,90.05 L124.5,90.1 L127.5,90.21 L130.5,90.39 L133.5,90.63 L136.5,90.95 L139.5,91.33 L142.5,91.78 L145.5,92.29 L148.5,92.87 L151.5,93.52 L154.5,94.24 L157.5,95.03 L160.5,95.88 L163.5,96.8 L166.5,97.78 L169.5,98.84 L172.5,99.96 L175.5,101.14 L178.5,102.4 L181.5,103.72 L184.5,105.11 L187.5,106.57 L190.5,108.09 L193.5,109.68 L196.5,111.34 L199.5,113.06 L202.5,114.86 L205.5,116.72 L208.5,118.64 L211.5,120.64 L214.5,122.7 L217.5,124.83 L220.5,127.03"/><path d="M52.5,117.43 L55.5,115.19 L58.5,113.04 L61.5,111 L64.5,109.05 L67.5,107.21 L70.5,105.47 L73.5,103.83 L76.5,102.28 L79.5,100.84 L82.5,99.5 L85.5,98.26 L88.5,97.12 L91.5,96.08 L94.5,95.14 L97.5,94.31 L100.5,93.57 L103.5,92.93 L106.5,92.4 L109.5,91.96 L112.5,91.63 L115.5,91.39 L118.5,91.26 L121.5,91.22 L124.5,91.27 L127.5,91.38 L130.5,91.55 L133.5,91.8 L136.5,92.1 L139.5,92.48 L142.5,92.92 L145.5,93.42 L148.5,94 L151.5,94.64 L154.5,95.34 L157.5,96.11 L160.5,96.95 L163.5,97.85 L166.5,98.82 L169.5,99.85 L172.5,100.95 L175.5,102.12 L178.5,103.35 L181.5,104.65 L184.5,106.02 L187.5,107.45 L190.5,108.95 L193.5,110.51 L196.5,112.14 L199.5,113.83 L202.5,115.59 L205.5,117.42 L208.5,119.31 L211.5,121.27 L214.5,123.3 L217.5,125.39 L220.5,127.55"/><path d="M52.5,118.07 L55.5,115.79 L58.5,113.61 L61.5,111.54 L64.5,109.57 L67.5,107.7 L70.5,105.93 L73.5,104.26 L76.5,102.7 L79.5,101.23 L82.5,99.87 L85.5,98.62 L88.5,97.46 L91.5,96.4 L94.5,95.45 L97.5,94.6 L100.5,93.85 L103.5,93.21 L106.5,92.66 L109.5,92.22 L112.5,91.88 L115.5,91.64 L118.5,91.51 L121.5,91.47 L124.5,91.52 L127.5,91.63 L130.5,91.81 L133.5,92.05 L136.5,92.36 L139.5,92.74 L142.5,93.19 L145.5,93.7 L148.5,94.28 L151.5,94.93 L154.5,95.64 L157.5,96.42 L160.5,97.27 L163.5,98.18 L166.5,99.16 L169.5,100.21 L172.5,101.32 L175.5,102.5 L178.5,103.75 L181.5,105.07 L184.5,106.45 L187.5,107.9 L190.5,109.41 L193.5,110.99 L196.5,112.64 L199.5,114.36 L202.5,116.14 L205.5,117.99 L208.5,119.91 L211.5,121.89 L214.5,123.94 L217.5,126.06 L220.5,128.24"/><path d="M52.5,118.7 L55.5,116.39 L58.5,114.18 L61.5,112.08 L64.5,110.08 L67.5,108.18 L70.5,106.39 L73.5,104.7 L76.5,103.11 L79.5,101.63 L82.5,100.25 L85.5,98.97 L88.5,97.8 L91.5,96.73 L94.5,95.76 L97.5,94.9 L100.5,94.14 L103.5,93.48 L106.5,92.93 L109.5,92.48 L112.5,92.14 L115.5,91.9 L118.5,91.76 L121.5,91.72 L124.5,91.77 L127.5,91.88 L130.5,92.06 L133.5,92.31 L136.5,92.63 L139.5,93.01 L142.5,93.47 L145.5,93.99 L148.5,94.58 L151.5,95.23 L154.5,95.96 L157.5,96.75 L160.5,97.61 L163.5,98.54 L166.5,99.54 L169.5,100.6 L172.5,101.73 L175.5,102.93 L178.5,104.2 L181.5,105.54 L184.5,106.94 L187.5,108.41 L190.5,109.95 L193.5,111.56 L196.5,113.23 L199.5,114.98 L202.5,116.79 L205.5,118.67 L208.5,120.62 L211.5,122.63 L214.5,124.72 L217.5,126.87 L220.5,129.09"/><path d="M52.5,119.06 L55.5,116.83 L58.5,114.69 L61.5,112.65 L64.5,110.71 L67.5,108.87 L70.5,107.14 L73.5,105.5 L76.5,103.96 L79.5,102.52 L82.5,101.19 L85.5,99.95 L88.5,98.81 L91.5,97.78 L94.5,96.84 L97.5,96.01 L100.5,95.27 L103.5,94.64 L106.5,94.1 L109.5,93.67 L112.5,93.33 L115.5,93.1 L118.5,92.97 L121.5,92.93 L124.5,92.98 L127.5,93.09 L130.5,93.27 L133.5,93.51 L136.5,93.83 L139.5,94.2 L142.5,94.65 L145.5,95.16 L148.5,95.74 L151.5,96.39 L154.5,97.11 L157.5,97.89 L160.5,98.73 L163.5,99.65 L166.5,100.63 L169.5,101.68 L172.5,102.8 L175.5,103.98 L178.5,105.23 L181.5,106.54 L184.5,107.93 L187.5,109.38 L190.5,110.9 L193.5,112.48 L196.5,114.13 L199.5,115.85 L202.5,117.63 L205.5,119.49 L208.5,121.41 L211.5,123.39 L214.5,125.44 L217.5,127.56 L220.5,129.75"/><path d="M52.5,119.7 L55.5,117.43 L58.5,115.26 L61.5,113.19 L64.5,111.22 L67.5,109.36 L70.5,107.6 L73.5,105.93 L76.5,104.37 L79.5,102.92 L82.5,101.56 L85.5,100.3 L88.5,99.15 L91.5,98.1 L94.5,97.15 L97.5,96.3 L100.5,95.56 L103.5,94.91 L106.5,94.37 L109.5,93.93 L112.5,93.59 L115.5,93.35 L118.5,93.22 L121.5,93.18 L124.5,93.23 L127.5,93.34 L130.5,93.52 L133.5,93.77 L136.5,94.09 L139.5,94.48 L142.5,94.93 L145.5,95.45 L148.5,96.04 L151.5,96.7 L154.5,97.42 L157.5,98.22 L160.5,99.08 L163.5,100.01 L166.5,101.01 L169.5,102.07 L172.5,103.2 L175.5,104.41 L178.5,105.68 L181.5,107.01 L184.5,108.42 L187.5,109.89 L190.5,111.43 L193.5,113.04 L196.5,114.72 L199.5,116.47 L202.5,118.28 L205.5,120.16 L208.5,122.11 L211.5,124.13 L214.5,126.22 L217.5,128.37 L220.5,130.59"/><path d="M52.5,120.21 L55.5,117.91 L58.5,115.72 L61.5,113.63 L64.5,111.65 L67.5,109.77 L70.5,107.98 L73.5,106.31 L76.5,104.73 L79.5,103.26 L82.5,101.89 L85.5,100.62 L88.5,99.46 L91.5,98.4 L94.5,97.44 L97.5,96.58 L100.5,95.83 L103.5,95.18 L106.5,94.63 L109.5,94.19 L112.5,93.84 L115.5,93.6 L118.5,93.47 L121.5,93.43 L124.5,93.48 L127.5,93.59 L130.5,93.78 L133.5,94.03 L136.5,94.35 L139.5,94.75 L142.5,95.21 L145.5,95.74 L148.5,96.33 L151.5,97 L154.5,97.74 L157.5,98.55 L160.5,99.42 L163.5,100.37 L166.5,101.38 L169.5,102.46 L172.5,103.61 L175.5,104.83 L178.5,106.12 L181.5,107.48 L184.5,108.91 L187.5,110.41 L190.5,111.97 L193.5,113.61 L196.5,115.31 L199.5,117.09 L202.5,118.93 L205.5,120.84 L208.5,122.82 L211.5,124.87 L214.5,126.99 L217.5,129.18 L220.5,131.44"/><path d="M52.5,120.42 L55.5,118.22 L58.5,116.11 L61.5,114.11 L64.5,112.2 L67.5,110.39 L70.5,108.69 L73.5,107.08 L76.5,105.56 L79.5,104.15 L82.5,102.84 L85.5,101.62 L88.5,100.5 L91.5,99.48 L94.5,98.56 L97.5,97.74 L100.5,97.02 L103.5,96.39 L106.5,95.87 L109.5,95.44 L112.5,95.11 L115.5,94.88 L118.5,94.75 L121.5,94.72 L124.5,94.76 L127.5,94.87 L130.5,95.05 L133.5,95.3 L136.5,95.62 L139.5,96 L142.5,96.45 L145.5,96.96 L148.5,97.55 L151.5,98.2 L154.5,98.92 L157.5,99.7 L160.5,100.56 L163.5,101.48 L166.5,102.47 L169.5,103.52 L172.5,104.65 L175.5,105.84 L178.5,107.1 L181.5,108.42 L184.5,109.82 L187.5,111.28 L190.5,112.8 L193.5,114.4 L196.5,116.06 L199.5,117.79 L202.5,119.59 L205.5,121.45 L208.5,123.39 L211.5,125.39 L214.5,127.45 L217.5,129.59 L220.5,131.79"/><path d="M52.5,120.93 L55.5,118.7 L58.5,116.58 L61.5,114.55 L64.5,112.63 L67.5,110.8 L70.5,109.08 L73.5,107.45 L76.5,105.92 L79.5,104.49 L82.5,103.17 L85.5,101.94 L88.5,100.81 L91.5,99.78 L94.5,98.85 L97.5,98.02 L100.5,97.29 L103.5,96.66 L106.5,96.13 L109.5,95.7 L112.5,95.37 L115.5,95.13 L118.5,95 L121.5,94.97 L124.5,95.01 L127.5,95.13 L130.5,95.31 L133.5,95.56 L136.5,95.87 L139.5,96.26 L142.5,96.71 L145.5,97.23 L148.5,97.82 L151.5,98.48 L154.5,99.2 L157.5,99.99 L160.5,100.86 L163.5,101.78 L166.5,102.78 L169.5,103.85 L172.5,104.98 L175.5,106.18 L178.5,107.45 L181.5,108.78 L184.5,110.19 L187.5,111.66 L190.5,113.2 L193.5,114.81 L196.5,116.48 L199.5,118.23 L202.5,120.04 L205.5,121.92 L208.5,123.87 L211.5,125.88 L214.5,127.97 L217.5,130.12 L220.5,132.34"/><path d="M52.5,121.43 L55.5,119.19 L58.5,117.04 L61.5,115 L64.5,113.05 L67.5,111.21 L70.5,109.47 L73.5,107.82 L76.5,106.28 L79.5,104.84 L82.5,103.5 L85.5,102.26 L88.5,101.12 L91.5,100.08 L94.5,99.14 L97.5,98.3 L100.5,97.56 L103.5,96.93 L106.5,96.39 L109.5,95.95 L112.5,95.62 L115.5,95.38 L118.5,95.25 L121.5,95.22 L124.5,95.26 L127.5,95.38 L130.5,95.56 L133.5,95.81 L136.5,96.13 L139.5,96.52 L142.5,96.97 L145.5,97.5 L148.5,98.09 L151.5,98.76 L154.5,99.49 L157.5,100.28 L160.5,101.15 L163.5,102.09 L166.5,103.09 L169.5,104.17 L172.5,105.31 L175.5,106.52 L178.5,107.8 L181.5,109.14 L184.5,110.56 L187.5,112.04 L190.5,113.59 L193.5,115.21 L196.5,116.9 L199.5,118.66 L202.5,120.49 L205.5,122.38 L208.5,124.35 L211.5,126.38 L214.5,128.48 L217.5,130.65 L220.5,132.88"/><path d="M52.5,121.74 L55.5,119.59 L58.5,117.53 L61.5,115.57 L64.5,113.71 L67.5,111.94 L70.5,110.27 L73.5,108.69 L76.5,107.21 L79.5,105.83 L82.5,104.55 L85.5,103.36 L88.5,102.26 L91.5,101.27 L94.5,100.37 L97.5,99.56 L100.5,98.86 L103.5,98.25 L106.5,97.73 L109.5,97.31 L112.5,96.99 L115.5,96.77 L118.5,96.64 L121.5,96.61 L124.5,96.65 L127.5,96.76 L130.5,96.94 L133.5,97.18 L136.5,97.49 L139.5,97.87 L142.5,98.32 L145.5,98.83 L148.5,99.4 L151.5,100.05 L154.5,100.76 L157.5,101.53 L160.5,102.38 L163.5,103.29 L166.5,104.26 L169.5,105.3 L172.5,106.41 L175.5,107.59 L178.5,108.83 L181.5,110.14 L184.5,111.52 L187.5,112.96 L190.5,114.47 L193.5,116.04 L196.5,117.69 L199.5,119.39 L202.5,121.17 L205.5,123.01 L208.5,124.92 L211.5,126.89 L214.5,128.94 L217.5,131.04 L220.5,133.22"/><path d="M52.5,122.38 L55.5,120.19 L58.5,118.1 L61.5,116.11 L64.5,114.22 L67.5,112.43 L70.5,110.73 L73.5,109.13 L76.5,107.63 L79.5,106.22 L82.5,104.92 L85.5,103.71 L88.5,102.6 L91.5,101.59 L94.5,100.68 L97.5,99.86 L100.5,99.14 L103.5,98.52 L106.5,98 L109.5,97.58 L112.5,97.25 L115.5,97.02 L118.5,96.89 L121.5,96.86 L124.5,96.9 L127.5,97.01 L130.5,97.19 L133.5,97.44 L136.5,97.75 L139.5,98.13 L142.5,98.58 L145.5,99.09 L148.5,99.68 L151.5,100.32 L154.5,101.04 L157.5,101.82 L160.5,102.67 L163.5,103.59 L166.5,104.57 L169.5,105.63 L172.5,106.74 L175.5,107.93 L178.5,109.18 L181.5,110.5 L184.5,111.89 L187.5,113.34 L190.5,114.86 L193.5,116.45 L196.5,118.11 L199.5,119.83 L202.5,121.62 L205.5,123.48 L208.5,125.4 L211.5,127.39 L214.5,129.45 L217.5,131.57 L220.5,133.76"/><path d="M52.5,123.02 L55.5,120.8 L58.5,118.68 L61.5,116.65 L64.5,114.73 L67.5,112.91 L70.5,111.19 L73.5,109.56 L76.5,108.04 L79.5,106.62 L82.5,105.29 L85.5,104.06 L88.5,102.94 L91.5,101.91 L94.5,100.98 L97.5,100.16 L100.5,99.43 L103.5,98.8 L106.5,98.27 L109.5,97.84 L112.5,97.5 L115.5,97.27 L118.5,97.14 L121.5,97.11 L124.5,97.15 L127.5,97.26 L130.5,97.44 L133.5,97.69 L136.5,98.01 L139.5,98.39 L142.5,98.84 L145.5,99.35 L148.5,99.94 L151.5,100.59 L154.5,101.31 L157.5,102.09 L160.5,102.95 L163.5,103.87 L166.5,104.86 L169.5,105.91 L172.5,107.03 L175.5,108.22 L178.5,109.48 L181.5,110.81 L184.5,112.2 L187.5,113.66 L190.5,115.19 L193.5,116.78 L196.5,118.44 L199.5,120.17 L202.5,121.97 L205.5,123.83 L208.5,125.76 L211.5,127.76 L214.5,129.83 L217.5,131.96 L220.5,134.16"/><path d="M52.5,123.29 L55.5,121.17 L58.5,119.16 L61.5,117.23 L64.5,115.4 L67.5,113.67 L70.5,112.03 L73.5,110.49 L76.5,109.04 L79.5,107.68 L82.5,106.42 L85.5,105.25 L88.5,104.18 L91.5,103.2 L94.5,102.32 L97.5,101.53 L100.5,100.84 L103.5,100.24 L106.5,99.73 L109.5,99.32 L112.5,99.01 L115.5,98.79 L118.5,98.66 L121.5,98.63 L124.5,98.67 L127.5,98.78 L130.5,98.95 L133.5,99.19 L136.5,99.5 L139.5,99.86 L142.5,100.3 L145.5,100.79 L148.5,101.36 L151.5,101.98 L154.5,102.68 L157.5,103.43 L160.5,104.26 L163.5,105.14 L166.5,106.09 L169.5,107.11 L172.5,108.19 L175.5,109.34 L178.5,110.55 L181.5,111.83 L184.5,113.17 L187.5,114.57 L190.5,116.05 L193.5,117.58 L196.5,119.18 L199.5,120.85 L202.5,122.58 L205.5,124.37 L208.5,126.23 L211.5,128.16 L214.5,130.15 L217.5,132.21 L220.5,134.33"/><path d="M52.5,124.16 L55.5,121.99 L58.5,119.92 L61.5,117.95 L64.5,116.08 L67.5,114.3 L70.5,112.62 L73.5,111.03 L76.5,109.55 L79.5,108.16 L82.5,106.86 L85.5,105.67 L88.5,104.57 L91.5,103.57 L94.5,102.66 L97.5,101.85 L100.5,101.14 L103.5,100.53 L106.5,100.01 L109.5,99.59 L112.5,99.27 L115.5,99.04 L118.5,98.91 L121.5,98.88 L124.5,98.92 L127.5,99.03 L130.5,99.21 L133.5,99.45 L136.5,99.75 L139.5,100.12 L142.5,100.55 L145.5,101.05 L148.5,101.62 L151.5,102.25 L154.5,102.94 L157.5,103.7 L160.5,104.53 L163.5,105.42 L166.5,106.37 L169.5,107.4 L172.5,108.48 L175.5,109.63 L178.5,110.85 L181.5,112.13 L184.5,113.48 L187.5,114.89 L190.5,116.37 L193.5,117.91 L196.5,119.52 L199.5,121.19 L202.5,122.93 L205.5,124.73 L208.5,126.6 L211.5,128.53 L214.5,130.53 L217.5,132.59 L220.5,134.72"/><path d="M52.5,125.03 L55.5,122.81 L58.5,120.69 L61.5,118.67 L64.5,116.75 L67.5,114.93 L70.5,113.21 L73.5,111.58 L76.5,110.06 L79.5,108.64 L82.5,107.31 L85.5,106.09 L88.5,104.96 L91.5,103.93 L94.5,103.01 L97.5,102.18 L100.5,101.45 L103.5,100.82 L106.5,100.29 L109.5,99.86 L112.5,99.53 L115.5,99.3 L118.5,99.16 L121.5,99.13 L124.5,99.17 L127.5,99.28 L130.5,99.46 L133.5,99.7 L136.5,100 L139.5,100.37 L142.5,100.81 L145.5,101.31 L148.5,101.88 L151.5,102.51 L154.5,103.21 L157.5,103.97 L160.5,104.8 L163.5,105.7 L166.5,106.66 L169.5,107.68 L172.5,108.77 L175.5,109.93 L178.5,111.15 L181.5,112.44 L184.5,113.79 L187.5,115.21 L190.5,116.69 L193.5,118.24 L196.5,119.85 L199.5,121.53 L202.5,123.28 L205.5,125.09 L208.5,126.96 L211.5,128.9 L214.5,130.91 L217.5,132.98 L220.5,135.12"/><path d="M52.5,125.49 L55.5,123.38 L58.5,121.36 L61.5,119.43 L64.5,117.6 L67.5,115.87 L70.5,114.22 L73.5,112.68 L76.5,111.22 L79.5,109.87 L82.5,108.6 L85.5,107.44 L88.5,106.36 L91.5,105.39 L94.5,104.5 L97.5,103.71 L100.5,103.02 L103.5,102.42 L106.5,101.91 L109.5,101.5 L112.5,101.19 L115.5,100.97 L118.5,100.84 L121.5,100.81 L124.5,100.85 L127.5,100.95 L130.5,101.12 L133.5,101.35 L136.5,101.64 L139.5,102 L142.5,102.42 L145.5,102.9 L148.5,103.44 L151.5,104.04 L154.5,104.71 L157.5,105.44 L160.5,106.24 L163.5,107.09 L166.5,108.01 L169.5,108.99 L172.5,110.04 L175.5,111.14 L178.5,112.31 L181.5,113.54 L184.5,114.84 L187.5,116.19 L190.5,117.61 L193.5,119.1 L196.5,120.64 L199.5,122.25 L202.5,123.92 L205.5,125.65 L208.5,127.45 L211.5,129.31 L214.5,131.23 L217.5,133.21 L220.5,135.26"/><path d="M52.5,126.23 L55.5,124.07 L58.5,122.01 L61.5,120.05 L64.5,118.18 L67.5,116.41 L70.5,114.74 L73.5,113.16 L76.5,111.68 L79.5,110.29 L82.5,109.01 L85.5,107.82 L88.5,106.72 L91.5,105.72 L94.5,104.82 L97.5,104.02 L100.5,103.31 L103.5,102.7 L106.5,102.18 L109.5,101.77 L112.5,101.44 L115.5,101.22 L118.5,101.09 L121.5,101.06 L124.5,101.1 L127.5,101.2 L130.5,101.37 L133.5,101.6 L136.5,101.9 L139.5,102.25 L142.5,102.67 L145.5,103.15 L148.5,103.7 L151.5,104.31 L154.5,104.98 L157.5,105.71 L160.5,106.51 L163.5,107.37 L166.5,108.29 L169.5,109.28 L172.5,110.33 L175.5,111.44 L178.5,112.61 L181.5,113.85 L184.5,115.15 L187.5,116.51 L190.5,117.94 L193.5,119.42 L196.5,120.98 L199.5,122.59 L202.5,124.27 L205.5,126.01 L208.5,127.81 L211.5,129.68 L214.5,131.61 L217.5,133.6 L220.5,135.65"/><path d="M52.5,126.96 L55.5,124.76 L58.5,122.66 L61.5,120.66 L64.5,118.76 L67.5,116.95 L70.5,115.25 L73.5,113.64 L76.5,112.13 L79.5,110.72 L82.5,109.41 L85.5,108.2 L88.5,107.08 L91.5,106.06 L94.5,105.15 L97.5,104.33 L100.5,103.6 L103.5,102.98 L106.5,102.46 L109.5,102.03 L112.5,101.7 L115.5,101.47 L118.5,101.34 L121.5,101.31 L124.5,101.35 L127.5,101.45 L130.5,101.62 L133.5,101.86 L136.5,102.15 L139.5,102.51 L142.5,102.93 L145.5,103.41 L148.5,103.96 L151.5,104.57 L154.5,105.25 L157.5,105.98 L160.5,106.78 L163.5,107.65 L166.5,108.57 L169.5,109.56 L172.5,110.61 L175.5,111.73 L178.5,112.91 L181.5,114.15 L184.5,115.46 L187.5,116.83 L190.5,118.26 L193.5,119.75 L196.5,121.31 L199.5,122.93 L202.5,124.62 L205.5,126.37 L208.5,128.18 L211.5,130.05 L214.5,131.99 L217.5,133.99 L220.5,136.05"/><path d="M52.5,127.23 L55.5,125.17 L58.5,123.2 L61.5,121.32 L64.5,119.53 L67.5,117.84 L70.5,116.24 L73.5,114.73 L76.5,113.31 L79.5,111.99 L82.5,110.76 L85.5,109.62 L88.5,108.57 L91.5,107.62 L94.5,106.75 L97.5,105.98 L100.5,105.31 L103.5,104.72 L106.5,104.23 L109.5,103.83 L112.5,103.52 L115.5,103.31 L118.5,103.18 L121.5,103.15 L124.5,103.19 L127.5,103.29 L130.5,103.45 L133.5,103.67 L136.5,103.95 L139.5,104.29 L142.5,104.69 L145.5,105.15 L148.5,105.67 L151.5,106.25 L154.5,106.89 L157.5,107.59 L160.5,108.35 L163.5,109.17 L166.5,110.05 L169.5,110.99 L172.5,111.99 L175.5,113.05 L178.5,114.17 L181.5,115.35 L184.5,116.59 L187.5,117.89 L190.5,119.25 L193.5,120.67 L196.5,122.15 L199.5,123.69 L202.5,125.29 L205.5,126.95 L208.5,128.67 L211.5,130.45 L214.5,132.29 L217.5,134.19 L220.5,136.15"/><path d="M52.5,127.97 L55.5,125.86 L58.5,123.85 L61.5,121.94 L64.5,120.11 L67.5,118.39 L70.5,116.75 L73.5,115.21 L76.5,113.77 L79.5,112.42 L82.5,111.16 L85.5,110 L88.5,108.93 L91.5,107.96 L94.5,107.08 L97.5,106.29 L100.5,105.6 L103.5,105 L106.5,104.5 L109.5,104.09 L112.5,103.78 L115.5,103.56 L118.5,103.43 L121.5,103.4 L124.5,103.44 L127.5,103.54 L130.5,103.7 L133.5,103.93 L136.5,104.21 L139.5,104.55 L142.5,104.95 L145.5,105.42 L148.5,105.94 L151.5,106.53 L154.5,107.17 L157.5,107.88 L160.5,108.65 L163.5,109.48 L166.5,110.36 L169.5,111.31 L172.5,112.32 L175.5,113.39 L178.5,114.52 L181.5,115.71 L184.5,116.96 L187.5,118.28 L190.5,119.65 L193.5,121.08 L196.5,122.57 L199.5,124.13 L202.5,125.74 L205.5,127.42 L208.5,129.15 L211.5,130.95 L214.5,132.81 L217.5,134.72 L220.5,136.7"/><path d="M52.5,128.54 L55.5,126.41 L58.5,124.37 L61.5,122.43 L64.5,120.58 L67.5,118.83 L70.5,117.18 L73.5,115.62 L76.5,114.15 L79.5,112.78 L82.5,111.51 L85.5,110.33 L88.5,109.25 L91.5,108.27 L94.5,107.37 L97.5,106.58 L100.5,105.88 L103.5,105.27 L106.5,104.77 L109.5,104.35 L112.5,104.03 L115.5,103.81 L118.5,103.68 L121.5,103.65 L124.5,103.69 L127.5,103.79 L130.5,103.96 L133.5,104.18 L136.5,104.47 L139.5,104.81 L142.5,105.22 L145.5,105.69 L148.5,106.22 L151.5,106.81 L154.5,107.46 L157.5,108.17 L160.5,108.94 L163.5,109.78 L166.5,110.68 L169.5,111.63 L172.5,112.65 L175.5,113.73 L178.5,114.87 L181.5,116.07 L184.5,117.33 L187.5,118.66 L190.5,120.04 L193.5,121.49 L196.5,122.99 L199.5,124.56 L202.5,126.19 L205.5,127.88 L208.5,129.63 L211.5,131.44 L214.5,133.32 L217.5,135.25 L220.5,137.25"/><path d="M52.5,128.6 L55.5,126.64 L58.5,124.76 L61.5,122.97 L64.5,121.27 L67.5,119.66 L70.5,118.13 L73.5,116.69 L76.5,115.35 L79.5,114.08 L82.5,112.91 L85.5,111.83 L88.5,110.83 L91.5,109.92 L94.5,109.1 L97.5,108.36 L100.5,107.72 L103.5,107.16 L106.5,106.69 L109.5,106.31 L112.5,106.02 L115.5,105.81 L118.5,105.69 L121.5,105.66 L124.5,105.7 L127.5,105.8 L130.5,105.95 L133.5,106.17 L136.5,106.44 L139.5,106.76 L142.5,107.15 L145.5,107.59 L148.5,108.09 L151.5,108.65 L154.5,109.27 L157.5,109.94 L160.5,110.68 L163.5,111.47 L166.5,112.31 L169.5,113.22 L172.5,114.18 L175.5,115.21 L178.5,116.28 L181.5,117.42 L184.5,118.62 L187.5,119.87 L190.5,121.18 L193.5,122.55 L196.5,123.98 L199.5,125.46 L202.5,127 L205.5,128.6 L208.5,130.26 L211.5,131.97 L214.5,133.75 L217.5,135.58 L220.5,137.47"/><path d="M52.5,129.18 L55.5,127.18 L58.5,125.28 L61.5,123.47 L64.5,121.74 L67.5,120.1 L70.5,118.56 L73.5,117.1 L76.5,115.73 L79.5,114.45 L82.5,113.26 L85.5,112.16 L88.5,111.15 L91.5,110.23 L94.5,109.4 L97.5,108.65 L100.5,108 L103.5,107.43 L106.5,106.96 L109.5,106.57 L112.5,106.27 L115.5,106.06 L118.5,105.94 L121.5,105.91 L124.5,105.95 L127.5,106.05 L130.5,106.21 L133.5,106.42 L136.5,106.69 L139.5,107.02 L142.5,107.41 L145.5,107.86 L148.5,108.37 L151.5,108.93 L154.5,109.55 L157.5,110.23 L160.5,110.97 L163.5,111.77 L166.5,112.63 L169.5,113.54 L172.5,114.51 L175.5,115.54 L178.5,116.63 L181.5,117.78 L184.5,118.99 L187.5,120.25 L190.5,121.58 L193.5,122.96 L196.5,124.4 L199.5,125.89 L202.5,127.45 L205.5,129.06 L208.5,130.74 L211.5,132.47 L214.5,134.26 L217.5,136.11 L220.5,138.01"/><path d="M52.5,129.75 L55.5,127.73 L58.5,125.8 L61.5,123.96 L64.5,122.21 L67.5,120.55 L70.5,118.98 L73.5,117.5 L76.5,116.12 L79.5,114.82 L82.5,113.61 L85.5,112.5 L88.5,111.47 L91.5,110.54 L94.5,109.69 L97.5,108.94 L100.5,108.28 L103.5,107.7 L106.5,107.22 L109.5,106.83 L112.5,106.53 L115.5,106.32 L118.5,106.2 L121.5,106.16 L124.5,106.2 L127.5,106.3 L130.5,106.46 L133.5,106.68 L136.5,106.95 L139.5,107.28 L142.5,107.68 L145.5,108.13 L148.5,108.64 L151.5,109.21 L154.5,109.84 L157.5,110.52 L160.5,111.27 L163.5,112.07 L166.5,112.94 L169.5,113.86 L172.5,114.84 L175.5,115.88 L178.5,116.98 L181.5,118.14 L184.5,119.36 L187.5,120.63 L190.5,121.97 L193.5,123.36 L196.5,124.82 L199.5,126.33 L202.5,127.9 L205.5,129.53 L208.5,131.22 L211.5,132.96 L214.5,134.77 L217.5,136.64 L220.5,138.56"/><path d="M52.5,129.77 L55.5,127.93 L58.5,126.18 L61.5,124.51 L64.5,122.92 L67.5,121.41 L70.5,119.99 L73.5,118.65 L76.5,117.38 L79.5,116.21 L82.5,115.11 L85.5,114.1 L88.5,113.17 L91.5,112.32 L94.5,111.55 L97.5,110.87 L100.5,110.26 L103.5,109.74 L106.5,109.3 L109.5,108.95 L112.5,108.67 L115.5,108.48 L118.5,108.37 L121.5,108.34 L124.5,108.38 L127.5,108.48 L130.5,108.63 L133.5,108.84 L136.5,109.11 L139.5,109.44 L142.5,109.82 L145.5,110.26 L148.5,110.76 L151.5,111.31 L154.5,111.92 L157.5,112.59 L160.5,113.32 L163.5,114.11 L166.5,114.95 L169.5,115.85 L172.5,116.81 L175.5,117.82 L178.5,118.89 L181.5,120.02 L184.5,121.21 L187.5,122.45 L190.5,123.76 L193.5,125.12 L196.5,126.53 L199.5,128.01 L202.5,129.54 L205.5,131.13 L208.5,132.77 L211.5,134.48 L214.5,136.24 L217.5,138.06 L220.5,139.93"/><path d="M52.5,130.34 L55.5,128.48 L58.5,126.7 L61.5,125 L64.5,123.39 L67.5,121.86 L70.5,120.41 L73.5,119.05 L76.5,117.77 L79.5,116.58 L82.5,115.46 L85.5,114.43 L88.5,113.49 L91.5,112.63 L94.5,111.85 L97.5,111.15 L100.5,110.54 L103.5,110.01 L106.5,109.57 L109.5,109.21 L112.5,108.93 L115.5,108.73 L118.5,108.62 L121.5,108.59 L124.5,108.63 L127.5,108.73 L130.5,108.9 L133.5,109.12 L136.5,109.4 L139.5,109.74 L142.5,110.14 L145.5,110.6 L148.5,111.12 L151.5,111.7 L154.5,112.34 L157.5,113.04 L160.5,113.81 L163.5,114.63 L166.5,115.51 L169.5,116.45 L172.5,117.45 L175.5,118.52 L178.5,119.64 L181.5,120.82 L184.5,122.06 L187.5,123.37 L190.5,124.73 L193.5,126.15 L196.5,127.64 L199.5,129.18 L202.5,130.78 L205.5,132.45 L208.5,134.17 L211.5,135.95 L214.5,137.8 L217.5,139.7 L220.5,141.67"/><path d="M52.5,130.91 L55.5,129.02 L58.5,127.21 L61.5,125.49 L64.5,123.86 L67.5,122.3 L70.5,120.84 L73.5,119.45 L76.5,118.16 L79.5,116.94 L82.5,115.81 L85.5,114.77 L88.5,113.81 L91.5,112.94 L94.5,112.15 L97.5,111.44 L100.5,110.82 L103.5,110.28 L106.5,109.83 L109.5,109.47 L112.5,109.18 L115.5,108.99 L118.5,108.87 L121.5,108.84 L124.5,108.89 L127.5,108.99 L130.5,109.15 L133.5,109.37 L136.5,109.65 L139.5,110 L142.5,110.4 L145.5,110.87 L148.5,111.39 L151.5,111.98 L154.5,112.63 L157.5,113.33 L160.5,114.1 L163.5,114.93 L166.5,115.82 L169.5,116.77 L172.5,117.78 L175.5,118.85 L178.5,119.99 L181.5,121.18 L184.5,122.43 L187.5,123.75 L190.5,125.12 L193.5,126.56 L196.5,128.06 L199.5,129.61 L202.5,131.23 L205.5,132.91 L208.5,134.65 L211.5,136.45 L214.5,138.31 L217.5,140.23 L220.5,142.21"/><path d="M52.5,130.89 L55.5,129.2 L58.5,127.58 L61.5,126.05 L64.5,124.59 L67.5,123.2 L70.5,121.89 L73.5,120.65 L76.5,119.49 L79.5,118.41 L82.5,117.4 L85.5,116.47 L88.5,115.61 L91.5,114.83 L94.5,114.13 L97.5,113.5 L100.5,112.94 L103.5,112.46 L106.5,112.06 L109.5,111.73 L112.5,111.48 L115.5,111.3 L118.5,111.2 L121.5,111.18 L124.5,111.22 L127.5,111.31 L130.5,111.46 L133.5,111.67 L136.5,111.93 L139.5,112.26 L142.5,112.63 L145.5,113.07 L148.5,113.56 L151.5,114.11 L154.5,114.71 L157.5,115.38 L160.5,116.09 L163.5,116.87 L166.5,117.7 L169.5,118.59 L172.5,119.53 L175.5,120.54 L178.5,121.6 L181.5,122.71 L184.5,123.88 L187.5,125.11 L190.5,126.4 L193.5,127.74 L196.5,129.14 L199.5,130.59 L202.5,132.11 L205.5,133.68 L208.5,135.3 L211.5,136.98 L214.5,138.72 L217.5,140.52 L220.5,142.37"/><path d="M52.5,131.67 L55.5,129.94 L58.5,128.28 L61.5,126.7 L64.5,125.2 L67.5,123.78 L70.5,122.43 L73.5,121.16 L76.5,119.97 L79.5,118.86 L82.5,117.82 L85.5,116.86 L88.5,115.98 L91.5,115.18 L94.5,114.46 L97.5,113.81 L100.5,113.24 L103.5,112.75 L106.5,112.33 L109.5,112 L112.5,111.74 L115.5,111.56 L118.5,111.45 L121.5,111.43 L124.5,111.47 L127.5,111.56 L130.5,111.71 L133.5,111.92 L136.5,112.19 L139.5,112.52 L142.5,112.9 L145.5,113.34 L148.5,113.83 L151.5,114.39 L154.5,115 L157.5,115.67 L160.5,116.39 L163.5,117.17 L166.5,118.01 L169.5,118.91 L172.5,119.86 L175.5,120.88 L178.5,121.94 L181.5,123.07 L184.5,124.25 L187.5,125.49 L190.5,126.79 L193.5,128.15 L196.5,129.56 L199.5,131.03 L202.5,132.56 L205.5,134.14 L208.5,135.78 L211.5,137.48 L214.5,139.24 L217.5,141.05 L220.5,142.92"/><path d="M52.5,132.46 L55.5,130.68 L58.5,128.98 L61.5,127.36 L64.5,125.81 L67.5,124.35 L70.5,122.97 L73.5,121.67 L76.5,120.45 L79.5,119.3 L82.5,118.24 L85.5,117.26 L88.5,116.36 L91.5,115.53 L94.5,114.79 L97.5,114.12 L100.5,113.54 L103.5,113.03 L106.5,112.61 L109.5,112.26 L112.5,112 L115.5,111.81 L118.5,111.71 L121.5,111.68 L124.5,111.72 L127.5,111.81 L130.5,111.97 L133.5,112.18 L136.5,112.45 L139.5,112.78 L142.5,113.16 L145.5,113.6 L148.5,114.11 L151.5,114.66 L154.5,115.28 L157.5,115.96 L160.5,116.69 L163.5,117.48 L166.5,118.32 L169.5,119.23 L172.5,120.19 L175.5,121.21 L178.5,122.29 L181.5,123.43 L184.5,124.62 L187.5,125.88 L190.5,127.19 L193.5,128.55 L196.5,129.98 L199.5,131.46 L202.5,133 L205.5,134.6 L208.5,136.26 L211.5,137.97 L214.5,139.75 L217.5,141.58 L220.5,143.46"/><path d="M52.5,132.61 L55.5,131.03 L58.5,129.52 L61.5,128.08 L64.5,126.71 L67.5,125.41 L70.5,124.18 L73.5,123.02 L76.5,121.94 L79.5,120.92 L82.5,119.98 L85.5,119.1 L88.5,118.3 L91.5,117.57 L94.5,116.91 L97.5,116.32 L100.5,115.8 L103.5,115.35 L106.5,114.97 L109.5,114.66 L112.5,114.43 L115.5,114.26 L118.5,114.17 L121.5,114.15 L124.5,114.18 L127.5,114.27 L130.5,114.41 L133.5,114.61 L136.5,114.86 L139.5,115.16 L142.5,115.52 L145.5,115.93 L148.5,116.39 L151.5,116.91 L154.5,117.48 L157.5,118.11 L160.5,118.79 L163.5,119.52 L166.5,120.3 L169.5,121.14 L172.5,122.04 L175.5,122.98 L178.5,123.98 L181.5,125.03 L184.5,126.14 L187.5,127.3 L190.5,128.52 L193.5,129.78 L196.5,131.1 L199.5,132.48 L202.5,133.91 L205.5,135.39 L208.5,136.92 L211.5,138.51 L214.5,140.16 L217.5,141.85 L220.5,143.6"/><path d="M52.5,134.14 L55.5,132.45 L58.5,130.84 L61.5,129.3 L64.5,127.83 L67.5,126.44 L70.5,125.13 L73.5,123.89 L76.5,122.73 L79.5,121.64 L82.5,120.63 L85.5,119.7 L88.5,118.84 L91.5,118.06 L94.5,117.35 L97.5,116.72 L100.5,116.16 L103.5,115.68 L106.5,115.28 L109.5,114.95 L112.5,114.7 L115.5,114.52 L118.5,114.42 L121.5,114.4 L124.5,114.43 L127.5,114.52 L130.5,114.67 L133.5,114.86 L136.5,115.12 L139.5,115.42 L142.5,115.78 L145.5,116.2 L148.5,116.67 L151.5,117.19 L154.5,117.77 L157.5,118.4 L160.5,119.08 L163.5,119.82 L166.5,120.62 L169.5,121.46 L172.5,122.37 L175.5,123.32 L178.5,124.33 L181.5,125.39 L184.5,126.51 L187.5,127.68 L190.5,128.91 L193.5,130.19 L196.5,131.52 L199.5,132.91 L202.5,134.36 L205.5,135.85 L208.5,137.4 L211.5,139.01 L214.5,140.67 L217.5,142.38 L220.5,144.15"/><path d="M52.5,135.68 L55.5,133.88 L58.5,132.16 L61.5,130.52 L64.5,128.96 L67.5,127.48 L70.5,126.08 L73.5,124.76 L76.5,123.52 L79.5,122.37 L82.5,121.29 L85.5,120.29 L88.5,119.38 L91.5,118.55 L94.5,117.79 L97.5,117.12 L100.5,116.53 L103.5,116.02 L106.5,115.59 L109.5,115.24 L112.5,114.97 L115.5,114.78 L118.5,114.67 L121.5,114.65 L124.5,114.68 L127.5,114.77 L130.5,114.92 L133.5,115.12 L136.5,115.37 L139.5,115.68 L142.5,116.05 L145.5,116.47 L148.5,116.94 L151.5,117.47 L154.5,118.05 L157.5,118.69 L160.5,119.38 L163.5,120.13 L166.5,120.93 L169.5,121.78 L172.5,122.69 L175.5,123.66 L178.5,124.68 L181.5,125.75 L184.5,126.88 L187.5,128.07 L190.5,129.3 L193.5,130.6 L196.5,131.95 L199.5,133.35 L202.5,134.8 L205.5,136.32 L208.5,137.88 L211.5,139.5 L214.5,141.18 L217.5,142.91 L220.5,144.69"/><path d="M52.5,136.55 L55.5,134.9 L58.5,133.31 L61.5,131.81 L64.5,130.37 L67.5,129.01 L70.5,127.73 L73.5,126.51 L76.5,125.38 L79.5,124.31 L82.5,123.33 L85.5,122.41 L88.5,121.57 L91.5,120.8 L94.5,120.11 L97.5,119.49 L100.5,118.95 L103.5,118.48 L106.5,118.08 L109.5,117.76 L112.5,117.52 L115.5,117.34 L118.5,117.24 L121.5,117.22 L124.5,117.25 L127.5,117.34 L130.5,117.47 L133.5,117.66 L136.5,117.89 L139.5,118.18 L142.5,118.51 L145.5,118.9 L148.5,119.34 L151.5,119.82 L154.5,120.36 L157.5,120.95 L160.5,121.59 L163.5,122.28 L166.5,123.02 L169.5,123.81 L172.5,124.65 L175.5,125.54 L178.5,126.48 L181.5,127.47 L184.5,128.52 L187.5,129.61 L190.5,130.75 L193.5,131.95 L196.5,133.19 L199.5,134.48 L202.5,135.83 L205.5,137.22 L208.5,138.67 L211.5,140.17 L214.5,141.71 L217.5,143.31 L220.5,144.96"/><path d="M52.5,138.09 L55.5,136.32 L58.5,134.63 L61.5,133.03 L64.5,131.5 L67.5,130.05 L70.5,128.68 L73.5,127.38 L76.5,126.17 L79.5,125.04 L82.5,123.98 L85.5,123.01 L88.5,122.11 L91.5,121.29 L94.5,120.55 L97.5,119.89 L100.5,119.31 L103.5,118.81 L106.5,118.39 L109.5,118.05 L112.5,117.79 L115.5,117.6 L118.5,117.5 L121.5,117.47 L124.5,117.5 L127.5,117.59 L130.5,117.72 L133.5,117.91 L136.5,118.15 L139.5,118.44 L142.5,118.78 L145.5,119.18 L148.5,119.62 L151.5,120.12 L154.5,120.66 L157.5,121.26 L160.5,121.91 L163.5,122.61 L166.5,123.36 L169.5,124.16 L172.5,125.02 L175.5,125.92 L178.5,126.88 L181.5,127.89 L184.5,128.95 L187.5,130.06 L190.5,131.22 L193.5,132.43 L196.5,133.7 L199.5,135.01 L202.5,136.38 L205.5,137.79 L208.5,139.26 L211.5,140.78 L214.5,142.36 L217.5,143.98 L220.5,145.65"/><path d="M52.5,139.3 L55.5,137.45 L58.5,135.69 L61.5,134 L64.5,132.4 L67.5,130.88 L70.5,129.45 L73.5,128.1 L76.5,126.83 L79.5,125.64 L82.5,124.54 L85.5,123.52 L88.5,122.58 L91.5,121.72 L94.5,120.95 L97.5,120.26 L100.5,119.65 L103.5,119.13 L106.5,118.68 L109.5,118.33 L112.5,118.05 L115.5,117.86 L118.5,117.75 L121.5,117.72 L124.5,117.75 L127.5,117.84 L130.5,117.98 L133.5,118.17 L136.5,118.41 L139.5,118.71 L142.5,119.05 L145.5,119.45 L148.5,119.9 L151.5,120.41 L154.5,120.96 L157.5,121.57 L160.5,122.23 L163.5,122.94 L166.5,123.7 L169.5,124.52 L172.5,125.39 L175.5,126.31 L178.5,127.28 L181.5,128.3 L184.5,129.38 L187.5,130.51 L190.5,131.69 L193.5,132.92 L196.5,134.2 L199.5,135.54 L202.5,136.93 L205.5,138.37 L208.5,139.86 L211.5,141.4 L214.5,143 L217.5,144.65 L220.5,146.35"/><path d="M52.5,139.83 L55.5,138.16 L58.5,136.57 L61.5,135.05 L64.5,133.61 L67.5,132.24 L70.5,130.95 L73.5,129.73 L76.5,128.58 L79.5,127.51 L82.5,126.51 L85.5,125.59 L88.5,124.75 L91.5,123.98 L94.5,123.28 L97.5,122.66 L100.5,122.11 L103.5,121.64 L106.5,121.24 L109.5,120.91 L112.5,120.66 L115.5,120.49 L118.5,120.39 L121.5,120.37 L124.5,120.4 L127.5,120.48 L130.5,120.6 L133.5,120.78 L136.5,121 L139.5,121.27 L142.5,121.59 L145.5,121.96 L148.5,122.37 L151.5,122.83 L154.5,123.34 L157.5,123.89 L160.5,124.5 L163.5,125.15 L166.5,125.85 L169.5,126.6 L172.5,127.39 L175.5,128.24 L178.5,129.13 L181.5,130.06 L184.5,131.05 L187.5,132.08 L190.5,133.16 L193.5,134.29 L196.5,135.47 L199.5,136.69 L202.5,137.96 L205.5,139.28 L208.5,140.65 L211.5,142.07 L214.5,143.53 L217.5,145.04 L220.5,146.6"/><path d="M52.5,141.05 L55.5,139.3 L58.5,137.62 L61.5,136.03 L64.5,134.51 L67.5,133.08 L70.5,131.72 L73.5,130.44 L76.5,129.24 L79.5,128.11 L82.5,127.07 L85.5,126.1 L88.5,125.21 L91.5,124.4 L94.5,123.67 L97.5,123.02 L100.5,122.44 L103.5,121.95 L106.5,121.53 L109.5,121.19 L112.5,120.93 L115.5,120.75 L118.5,120.64 L121.5,120.62 L124.5,120.65 L127.5,120.73 L130.5,120.86 L133.5,121.04 L136.5,121.26 L139.5,121.54 L142.5,121.86 L145.5,122.24 L148.5,122.66 L151.5,123.13 L154.5,123.65 L157.5,124.22 L160.5,124.83 L163.5,125.5 L166.5,126.21 L169.5,126.97 L172.5,127.79 L175.5,128.65 L178.5,129.55 L181.5,130.51 L184.5,131.52 L187.5,132.57 L190.5,133.67 L193.5,134.83 L196.5,136.03 L199.5,137.27 L202.5,138.57 L205.5,139.92 L208.5,141.31 L211.5,142.76 L214.5,144.25 L217.5,145.79 L220.5,147.38"/><path d="M52.5,142.26 L55.5,140.43 L58.5,138.68 L61.5,137.01 L64.5,135.42 L67.5,133.92 L70.5,132.49 L73.5,131.15 L76.5,129.89 L79.5,128.72 L82.5,127.62 L85.5,126.61 L88.5,125.68 L91.5,124.83 L94.5,124.07 L97.5,123.38 L100.5,122.78 L103.5,122.26 L106.5,121.82 L109.5,121.47 L112.5,121.19 L115.5,121 L118.5,120.89 L121.5,120.87 L124.5,120.9 L127.5,120.98 L130.5,121.11 L133.5,121.3 L136.5,121.53 L139.5,121.81 L142.5,122.14 L145.5,122.52 L148.5,122.95 L151.5,123.43 L154.5,123.96 L157.5,124.54 L160.5,125.17 L163.5,125.85 L166.5,126.57 L169.5,127.35 L172.5,128.18 L175.5,129.06 L178.5,129.98 L181.5,130.96 L184.5,131.98 L187.5,133.06 L190.5,134.18 L193.5,135.36 L196.5,136.58 L199.5,137.86 L202.5,139.18 L205.5,140.55 L208.5,141.98 L211.5,143.45 L214.5,144.97 L217.5,146.54 L220.5,148.16"/><path d="M52.5,142.78 L55.5,141.13 L58.5,139.56 L61.5,138.06 L64.5,136.63 L67.5,135.28 L70.5,134 L73.5,132.8 L76.5,131.66 L79.5,130.61 L82.5,129.62 L85.5,128.71 L88.5,127.88 L91.5,127.12 L94.5,126.43 L97.5,125.81 L100.5,125.27 L103.5,124.8 L106.5,124.41 L109.5,124.09 L112.5,123.85 L115.5,123.67 L118.5,123.58 L121.5,123.55 L124.5,123.58 L127.5,123.66 L130.5,123.78 L133.5,123.94 L136.5,124.16 L139.5,124.41 L142.5,124.71 L145.5,125.06 L148.5,125.46 L151.5,125.89 L154.5,126.38 L157.5,126.91 L160.5,127.48 L163.5,128.1 L166.5,128.77 L169.5,129.48 L172.5,130.23 L175.5,131.03 L178.5,131.88 L181.5,132.77 L184.5,133.71 L187.5,134.69 L190.5,135.72 L193.5,136.79 L196.5,137.91 L199.5,139.08 L202.5,140.29 L205.5,141.54 L208.5,142.84 L211.5,144.19 L214.5,145.58 L217.5,147.01 L220.5,148.5"/><path d="M52.5,143.35 L55.5,141.68 L58.5,140.08 L61.5,138.55 L64.5,137.1 L67.5,135.73 L70.5,134.43 L73.5,133.2 L76.5,132.05 L79.5,130.98 L82.5,129.98 L85.5,129.05 L88.5,128.2 L91.5,127.43 L94.5,126.73 L97.5,126.1 L100.5,125.55 L103.5,125.08 L106.5,124.68 L109.5,124.35 L112.5,124.1 L115.5,123.93 L118.5,123.83 L121.5,123.8 L124.5,123.83 L127.5,123.91 L130.5,124.03 L133.5,124.2 L136.5,124.42 L139.5,124.68 L142.5,125 L145.5,125.35 L148.5,125.76 L151.5,126.21 L154.5,126.7 L157.5,127.24 L160.5,127.83 L163.5,128.47 L166.5,129.15 L169.5,129.88 L172.5,130.66 L175.5,131.48 L178.5,132.35 L181.5,133.26 L184.5,134.23 L187.5,135.23 L190.5,136.29 L193.5,137.39 L196.5,138.54 L199.5,139.73 L202.5,140.97 L205.5,142.26 L208.5,143.6 L211.5,144.98 L214.5,146.4 L217.5,147.88 L220.5,149.4"/><path d="M52.5,143.79 L55.5,142.1 L58.5,140.49 L61.5,138.95 L64.5,137.48 L67.5,136.09 L70.5,134.78 L73.5,133.54 L76.5,132.38 L79.5,131.3 L82.5,130.29 L85.5,129.35 L88.5,128.49 L91.5,127.71 L94.5,127 L97.5,126.37 L100.5,125.82 L103.5,125.34 L106.5,124.93 L109.5,124.61 L112.5,124.35 L115.5,124.18 L118.5,124.08 L121.5,124.05 L124.5,124.08 L127.5,124.16 L130.5,124.29 L133.5,124.46 L136.5,124.69 L139.5,124.96 L142.5,125.28 L145.5,125.64 L148.5,126.06 L151.5,126.52 L154.5,127.03 L157.5,127.58 L160.5,128.19 L163.5,128.84 L166.5,129.54 L169.5,130.29 L172.5,131.08 L175.5,131.93 L178.5,132.82 L181.5,133.75 L184.5,134.74 L187.5,135.78 L190.5,136.86 L193.5,137.99 L196.5,139.16 L199.5,140.39 L202.5,141.66 L205.5,142.98 L208.5,144.35 L211.5,145.77 L214.5,147.23 L217.5,148.74 L220.5,150.3"/><path d="M52.5,143.68 L55.5,142.18 L58.5,140.76 L61.5,139.4 L64.5,138.11 L67.5,136.88 L70.5,135.72 L73.5,134.63 L76.5,133.61 L79.5,132.65 L82.5,131.76 L85.5,130.93 L88.5,130.17 L91.5,129.48 L94.5,128.86 L97.5,128.3 L100.5,127.81 L103.5,127.39 L106.5,127.03 L109.5,126.74 L112.5,126.52 L115.5,126.36 L118.5,126.27 L121.5,126.25 L124.5,126.28 L127.5,126.36 L130.5,126.48 L133.5,126.64 L136.5,126.86 L139.5,127.11 L142.5,127.42 L145.5,127.77 L148.5,128.16 L151.5,128.6 L154.5,129.08 L157.5,129.61 L160.5,130.19 L163.5,130.81 L166.5,131.48 L169.5,132.19 L172.5,132.95 L175.5,133.75 L178.5,134.6 L181.5,135.49 L184.5,136.43 L187.5,137.42 L190.5,138.45 L193.5,139.53 L196.5,140.65 L199.5,141.81 L202.5,143.03 L205.5,144.28 L208.5,145.59 L211.5,146.94 L214.5,148.33 L217.5,149.77 L220.5,151.26"/><path d="M52.5,172.92 L55.5,168.94 L58.5,165.15 L61.5,161.53 L64.5,158.09 L67.5,154.83 L70.5,151.75 L73.5,148.85 L76.5,146.12 L79.5,143.57 L82.5,141.2 L85.5,139 L88.5,136.99 L91.5,135.15 L94.5,133.49 L97.5,132.01 L100.5,130.7 L103.5,129.58 L106.5,128.63 L109.5,127.86 L112.5,127.26 L115.5,126.85 L118.5,126.61 L121.5,126.55 L124.5,126.58 L127.5,126.66 L130.5,126.79 L133.5,126.96 L136.5,127.18 L139.5,127.45 L142.5,127.76 L145.5,128.13 L148.5,128.54 L151.5,128.99 L154.5,129.5 L157.5,130.05 L160.5,130.65 L163.5,131.3 L166.5,131.99 L169.5,132.73 L172.5,133.52 L175.5,134.35 L178.5,135.24 L181.5,136.17 L184.5,137.14 L187.5,138.17 L190.5,139.24 L193.5,140.36 L196.5,141.53 L199.5,142.74 L202.5,144 L205.5,145.31 L208.5,146.67 L211.5,148.07 L214.5,149.52 L217.5,151.02 L220.5,152.56"/><path d="M52.5,173.12 L55.5,169.26 L58.5,165.57 L61.5,162.05 L64.5,158.7 L67.5,155.53 L70.5,152.54 L73.5,149.71 L76.5,147.06 L79.5,144.58 L82.5,142.27 L85.5,140.14 L88.5,138.18 L91.5,136.39 L94.5,134.78 L97.5,133.34 L100.5,132.07 L103.5,130.97 L106.5,130.05 L109.5,129.3 L112.5,128.72 L115.5,128.32 L118.5,128.09 L121.5,128.03 L124.5,128.07 L127.5,128.16 L130.5,128.3 L133.5,128.5 L136.5,128.75 L139.5,129.05 L142.5,129.41 L145.5,129.82 L148.5,130.29 L151.5,130.81 L154.5,131.38 L157.5,132.01 L160.5,132.69 L163.5,133.43 L166.5,134.22 L169.5,135.06 L172.5,135.96 L175.5,136.91 L178.5,137.91 L181.5,138.97 L184.5,140.08 L187.5,141.25 L190.5,142.47 L193.5,143.74 L196.5,145.07 L199.5,146.45 L202.5,147.88 L205.5,149.37 L208.5,150.91 L211.5,152.51 L214.5,154.16 L217.5,155.86 L220.5,157.62"/><path d="M52.5,173.66 L55.5,169.77 L58.5,166.06 L61.5,162.53 L64.5,159.17 L67.5,155.98 L70.5,152.97 L73.5,150.13 L76.5,147.46 L79.5,144.97 L82.5,142.65 L85.5,140.5 L88.5,138.53 L91.5,136.74 L94.5,135.11 L97.5,133.66 L100.5,132.39 L103.5,131.29 L106.5,130.36 L109.5,129.61 L112.5,129.03 L115.5,128.62 L118.5,128.39 L121.5,128.33 L124.5,128.37 L127.5,128.46 L130.5,128.6 L133.5,128.8 L136.5,129.06 L139.5,129.37 L142.5,129.73 L145.5,130.15 L148.5,130.63 L151.5,131.16 L154.5,131.74 L157.5,132.38 L160.5,133.07 L163.5,133.82 L166.5,134.62 L169.5,135.47 L172.5,136.38 L175.5,137.35 L178.5,138.37 L181.5,139.45 L184.5,140.58 L187.5,141.76 L190.5,143 L193.5,144.29 L196.5,145.64 L199.5,147.04 L202.5,148.5 L205.5,150.01 L208.5,151.58 L211.5,153.2 L214.5,154.88 L217.5,156.61 L220.5,158.4"/><path d="M52.5,173.86 L55.5,170.08 L58.5,166.48 L61.5,163.04 L64.5,159.78 L67.5,156.68 L70.5,153.75 L73.5,150.99 L76.5,148.4 L79.5,145.98 L82.5,143.72 L85.5,141.64 L88.5,139.73 L91.5,137.98 L94.5,136.4 L97.5,134.99 L100.5,133.76 L103.5,132.68 L106.5,131.78 L109.5,131.05 L112.5,130.49 L115.5,130.09 L118.5,129.87 L121.5,129.81 L124.5,129.85 L127.5,129.93 L130.5,130.08 L133.5,130.27 L136.5,130.52 L139.5,130.82 L142.5,131.17 L145.5,131.58 L148.5,132.04 L151.5,132.55 L154.5,133.11 L157.5,133.73 L160.5,134.4 L163.5,135.13 L166.5,135.9 L169.5,136.73 L172.5,137.62 L175.5,138.55 L178.5,139.54 L181.5,140.58 L184.5,141.68 L187.5,142.83 L190.5,144.03 L193.5,145.28 L196.5,146.59 L199.5,147.95 L202.5,149.36 L205.5,150.83 L208.5,152.35 L211.5,153.92 L214.5,155.54 L217.5,157.22 L220.5,158.95"/><path d="M52.5,174.4 L55.5,170.6 L58.5,166.98 L61.5,163.52 L64.5,160.24 L67.5,157.13 L70.5,154.18 L73.5,151.41 L76.5,148.8 L79.5,146.37 L82.5,144.1 L85.5,142 L88.5,140.08 L91.5,138.32 L94.5,136.74 L97.5,135.32 L100.5,134.08 L103.5,133 L106.5,132.09 L109.5,131.36 L112.5,130.79 L115.5,130.4 L118.5,130.17 L121.5,130.11 L124.5,130.15 L127.5,130.24 L130.5,130.38 L133.5,130.58 L136.5,130.83 L139.5,131.13 L142.5,131.49 L145.5,131.91 L148.5,132.37 L151.5,132.89 L154.5,133.47 L157.5,134.1 L160.5,134.78 L163.5,135.51 L166.5,136.3 L169.5,137.15 L172.5,138.04 L175.5,139 L178.5,140 L181.5,141.06 L184.5,142.17 L187.5,143.34 L190.5,144.56 L193.5,145.83 L196.5,147.16 L199.5,148.54 L202.5,149.98 L205.5,151.47 L208.5,153.01 L211.5,154.61 L214.5,156.26 L217.5,157.97 L220.5,159.73"/><path d="M52.5,174.6 L55.5,170.91 L58.5,167.39 L61.5,164.04 L64.5,160.85 L67.5,157.83 L70.5,154.97 L73.5,152.27 L76.5,149.74 L79.5,147.38 L82.5,145.18 L85.5,143.14 L88.5,141.27 L91.5,139.57 L94.5,138.03 L97.5,136.65 L100.5,135.44 L103.5,134.4 L106.5,133.52 L109.5,132.8 L112.5,132.25 L115.5,131.87 L118.5,131.65 L121.5,131.59 L124.5,131.63 L127.5,131.71 L130.5,131.85 L133.5,132.04 L136.5,132.29 L139.5,132.58 L142.5,132.93 L145.5,133.33 L148.5,133.78 L151.5,134.29 L154.5,134.84 L157.5,135.45 L160.5,136.11 L163.5,136.82 L166.5,137.59 L169.5,138.41 L172.5,139.28 L175.5,140.2 L178.5,141.17 L181.5,142.2 L184.5,143.28 L187.5,144.41 L190.5,145.59 L193.5,146.82 L196.5,148.11 L199.5,149.45 L202.5,150.84 L205.5,152.28 L208.5,153.78 L211.5,155.33 L214.5,156.93 L217.5,158.58 L220.5,160.28"/><path d="M52.5,175.14 L55.5,171.43 L58.5,167.89 L61.5,164.52 L64.5,161.31 L67.5,158.27 L70.5,155.4 L73.5,152.69 L76.5,150.14 L79.5,147.76 L82.5,145.55 L85.5,143.51 L88.5,141.63 L91.5,139.91 L94.5,138.36 L97.5,136.98 L100.5,135.76 L103.5,134.71 L106.5,133.83 L109.5,133.11 L112.5,132.56 L115.5,132.17 L118.5,131.95 L121.5,131.89 L124.5,131.93 L127.5,132.01 L130.5,132.16 L133.5,132.35 L136.5,132.6 L139.5,132.9 L142.5,133.25 L145.5,133.66 L148.5,134.12 L151.5,134.63 L154.5,135.2 L157.5,135.81 L160.5,136.49 L163.5,137.21 L166.5,137.99 L169.5,138.82 L172.5,139.7 L175.5,140.64 L178.5,141.63 L181.5,142.67 L184.5,143.77 L187.5,144.92 L190.5,146.12 L193.5,147.37 L196.5,148.68 L199.5,150.04 L202.5,151.46 L205.5,152.92 L208.5,154.44 L211.5,156.02 L214.5,157.64 L217.5,159.32 L220.5,161.06"/><path d="M52.5,175.34 L55.5,171.74 L58.5,168.31 L61.5,165.03 L64.5,161.92 L67.5,158.97 L70.5,156.18 L73.5,153.55 L76.5,151.08 L79.5,148.77 L82.5,146.63 L85.5,144.64 L88.5,142.82 L91.5,141.15 L94.5,139.65 L97.5,138.31 L100.5,137.13 L103.5,136.11 L106.5,135.25 L109.5,134.55 L112.5,134.02 L115.5,133.64 L118.5,133.43 L121.5,133.37 L124.5,133.4 L127.5,133.49 L130.5,133.63 L133.5,133.81 L136.5,134.05 L139.5,134.34 L142.5,134.68 L145.5,135.08 L148.5,135.52 L151.5,136.02 L154.5,136.56 L157.5,137.16 L160.5,137.81 L163.5,138.51 L166.5,139.26 L169.5,140.06 L172.5,140.91 L175.5,141.82 L178.5,142.77 L181.5,143.78 L184.5,144.84 L187.5,145.94 L190.5,147.11 L193.5,148.32 L196.5,149.58 L199.5,150.89 L202.5,152.26 L205.5,153.67 L208.5,155.14 L211.5,156.66 L214.5,158.23 L217.5,159.85 L220.5,161.52"/><path d="M52.5,175.99 L55.5,172.36 L58.5,168.9 L61.5,165.6 L64.5,162.46 L67.5,159.48 L70.5,156.67 L73.5,154.02 L76.5,151.53 L79.5,149.2 L82.5,147.04 L85.5,145.04 L88.5,143.2 L91.5,141.52 L94.5,140 L97.5,138.65 L100.5,137.46 L103.5,136.43 L106.5,135.57 L109.5,134.86 L112.5,134.32 L115.5,133.94 L118.5,133.73 L121.5,133.67 L124.5,133.71 L127.5,133.79 L130.5,133.93 L133.5,134.12 L136.5,134.36 L139.5,134.66 L142.5,135 L145.5,135.4 L148.5,135.85 L151.5,136.35 L154.5,136.9 L157.5,137.51 L160.5,138.17 L163.5,138.88 L166.5,139.64 L169.5,140.45 L172.5,141.32 L175.5,142.23 L178.5,143.2 L181.5,144.22 L184.5,145.29 L187.5,146.42 L190.5,147.59 L193.5,148.82 L196.5,150.1 L199.5,151.43 L202.5,152.82 L205.5,154.25 L208.5,155.74 L211.5,157.28 L214.5,158.87 L217.5,160.51 L220.5,162.21"/><path d="M52.5,176.3 L55.5,172.77 L58.5,169.41 L61.5,166.2 L64.5,163.14 L67.5,160.25 L70.5,157.51 L73.5,154.94 L76.5,152.52 L79.5,150.25 L82.5,148.15 L85.5,146.2 L88.5,144.41 L91.5,142.78 L94.5,141.31 L97.5,139.99 L100.5,138.84 L103.5,137.84 L106.5,136.99 L109.5,136.31 L112.5,135.78 L115.5,135.42 L118.5,135.2 L121.5,135.15 L124.5,135.18 L127.5,135.27 L130.5,135.4 L133.5,135.58 L136.5,135.82 L139.5,136.1 L142.5,136.44 L145.5,136.82 L148.5,137.25 L151.5,137.74 L154.5,138.27 L157.5,138.85 L160.5,139.49 L163.5,140.17 L166.5,140.91 L169.5,141.69 L172.5,142.52 L175.5,143.41 L178.5,144.34 L181.5,145.33 L184.5,146.36 L187.5,147.44 L190.5,148.58 L193.5,149.76 L196.5,151 L199.5,152.28 L202.5,153.62 L205.5,155 L208.5,156.44 L211.5,157.92 L214.5,159.45 L217.5,161.04 L220.5,162.67"/><path d="M52.5,176.95 L55.5,173.39 L58.5,170 L61.5,166.76 L64.5,163.68 L67.5,160.76 L70.5,158 L73.5,155.4 L76.5,152.96 L79.5,150.68 L82.5,148.56 L85.5,146.6 L88.5,144.79 L91.5,143.15 L94.5,141.66 L97.5,140.33 L100.5,139.17 L103.5,138.16 L106.5,137.31 L109.5,136.62 L112.5,136.09 L115.5,135.72 L118.5,135.51 L121.5,135.45 L124.5,135.48 L127.5,135.57 L130.5,135.7 L133.5,135.89 L136.5,136.13 L139.5,136.41 L142.5,136.75 L145.5,137.14 L148.5,137.58 L151.5,138.07 L154.5,138.61 L157.5,139.21 L160.5,139.85 L163.5,140.54 L166.5,141.29 L169.5,142.08 L172.5,142.93 L175.5,143.82 L178.5,144.77 L181.5,145.77 L184.5,146.82 L187.5,147.92 L190.5,149.07 L193.5,150.27 L196.5,151.52 L199.5,152.82 L202.5,154.17 L205.5,155.58 L208.5,157.03 L211.5,158.54 L214.5,160.09 L217.5,161.7 L220.5,163.36"/><path d="M52.5,177.26 L55.5,173.8 L58.5,170.5 L61.5,167.36 L64.5,164.37 L67.5,161.53 L70.5,158.85 L73.5,156.32 L76.5,153.95 L79.5,151.73 L82.5,149.67 L85.5,147.76 L88.5,146.01 L91.5,144.41 L94.5,142.97 L97.5,141.68 L100.5,140.54 L103.5,139.56 L106.5,138.74 L109.5,138.07 L112.5,137.55 L115.5,137.19 L118.5,136.98 L121.5,136.93 L124.5,136.96 L127.5,137.05 L130.5,137.18 L133.5,137.36 L136.5,137.59 L139.5,137.86 L142.5,138.19 L145.5,138.57 L148.5,139 L151.5,139.47 L154.5,140 L157.5,140.57 L160.5,141.19 L163.5,141.86 L166.5,142.59 L169.5,143.36 L172.5,144.17 L175.5,145.04 L178.5,145.96 L181.5,146.93 L184.5,147.94 L187.5,149.01 L190.5,150.12 L193.5,151.29 L196.5,152.5 L199.5,153.76 L202.5,155.07 L205.5,156.43 L208.5,157.84 L211.5,159.3 L214.5,160.81 L217.5,162.37 L220.5,163.97"/><path d="M52.5,177.91 L55.5,174.42 L58.5,171.09 L61.5,167.92 L64.5,164.9 L67.5,162.04 L70.5,159.34 L73.5,156.79 L76.5,154.4 L79.5,152.16 L82.5,150.08 L85.5,148.16 L88.5,146.39 L91.5,144.77 L94.5,143.32 L97.5,142.02 L100.5,140.87 L103.5,139.88 L106.5,139.05 L109.5,138.38 L112.5,137.86 L115.5,137.49 L118.5,137.28 L121.5,137.23 L124.5,137.26 L127.5,137.35 L130.5,137.48 L133.5,137.67 L136.5,137.9 L139.5,138.18 L142.5,138.52 L145.5,138.9 L148.5,139.34 L151.5,139.82 L154.5,140.36 L157.5,140.94 L160.5,141.58 L163.5,142.26 L166.5,143 L169.5,143.78 L172.5,144.62 L175.5,145.5 L178.5,146.44 L181.5,147.43 L184.5,148.46 L187.5,149.55 L190.5,150.68 L193.5,151.87 L196.5,153.11 L199.5,154.39 L202.5,155.73 L205.5,157.12 L208.5,158.56 L211.5,160.04 L214.5,161.58 L217.5,163.17 L220.5,164.81"/><path d="M52.5,178.22 L55.5,174.84 L58.5,171.6 L61.5,168.52 L64.5,165.59 L67.5,162.81 L70.5,160.18 L73.5,157.71 L76.5,155.38 L79.5,153.21 L82.5,151.19 L85.5,149.32 L88.5,147.6 L91.5,146.04 L94.5,144.62 L97.5,143.36 L100.5,142.25 L103.5,141.29 L106.5,140.48 L109.5,139.82 L112.5,139.32 L115.5,138.96 L118.5,138.76 L121.5,138.71 L124.5,138.74 L127.5,138.82 L130.5,138.95 L133.5,139.13 L136.5,139.36 L139.5,139.63 L142.5,139.96 L145.5,140.33 L148.5,140.75 L151.5,141.22 L154.5,141.74 L157.5,142.3 L160.5,142.92 L163.5,143.58 L166.5,144.3 L169.5,145.06 L172.5,145.87 L175.5,146.72 L178.5,147.63 L181.5,148.59 L184.5,149.59 L187.5,150.64 L190.5,151.74 L193.5,152.89 L196.5,154.09 L199.5,155.34 L202.5,156.63 L205.5,157.98 L208.5,159.37 L211.5,160.81 L214.5,162.3 L217.5,163.84 L220.5,165.42"/><path d="M52.5,178.87 L55.5,175.45 L58.5,172.19 L61.5,169.08 L64.5,166.13 L67.5,163.32 L70.5,160.67 L73.5,158.18 L76.5,155.83 L79.5,153.64 L82.5,151.6 L85.5,149.72 L88.5,147.98 L91.5,146.4 L94.5,144.98 L97.5,143.7 L100.5,142.58 L103.5,141.61 L106.5,140.8 L109.5,140.13 L112.5,139.62 L115.5,139.27 L118.5,139.06 L121.5,139.01 L124.5,139.04 L127.5,139.13 L130.5,139.26 L133.5,139.44 L136.5,139.67 L139.5,139.95 L142.5,140.28 L145.5,140.66 L148.5,141.09 L151.5,141.57 L154.5,142.1 L157.5,142.68 L160.5,143.3 L163.5,143.98 L166.5,144.71 L169.5,145.48 L172.5,146.31 L175.5,147.18 L178.5,148.11 L181.5,149.08 L184.5,150.11 L187.5,151.18 L190.5,152.3 L193.5,153.48 L196.5,154.7 L199.5,155.97 L202.5,157.29 L205.5,158.66 L208.5,160.08 L211.5,161.55 L214.5,163.07 L217.5,164.64 L220.5,166.26"/><path d="M52.5,179.52 L55.5,176.17 L58.5,172.98 L61.5,169.94 L64.5,167.04 L67.5,164.3 L70.5,161.7 L73.5,159.26 L76.5,156.96 L79.5,154.81 L82.5,152.82 L85.5,150.97 L88.5,149.28 L91.5,147.73 L94.5,146.33 L97.5,145.08 L100.5,143.99 L103.5,143.04 L106.5,142.24 L109.5,141.59 L112.5,141.09 L115.5,140.74 L118.5,140.54 L121.5,140.49 L124.5,140.52 L127.5,140.6 L130.5,140.73 L133.5,140.91 L136.5,141.14 L139.5,141.41 L142.5,141.74 L145.5,142.11 L148.5,142.53 L151.5,143 L154.5,143.51 L157.5,144.08 L160.5,144.69 L163.5,145.36 L166.5,146.07 L169.5,146.83 L172.5,147.64 L175.5,148.49 L178.5,149.4 L181.5,150.35 L184.5,151.36 L187.5,152.41 L190.5,153.51 L193.5,154.65 L196.5,155.85 L199.5,157.09 L202.5,158.39 L205.5,159.73 L208.5,161.12 L211.5,162.56 L214.5,164.05 L217.5,165.58 L220.5,167.17"/><path d="M52.5,180.5 L55.5,177.1 L58.5,173.85 L61.5,170.75 L64.5,167.81 L67.5,165.02 L70.5,162.37 L73.5,159.89 L76.5,157.55 L79.5,155.37 L82.5,153.34 L85.5,151.46 L88.5,149.73 L91.5,148.16 L94.5,146.73 L97.5,145.46 L100.5,144.35 L103.5,143.38 L106.5,142.57 L109.5,141.91 L112.5,141.4 L115.5,141.05 L118.5,140.84 L121.5,140.79 L124.5,140.82 L127.5,140.91 L130.5,141.04 L133.5,141.22 L136.5,141.46 L139.5,141.74 L142.5,142.07 L145.5,142.46 L148.5,142.89 L151.5,143.37 L154.5,143.91 L157.5,144.49 L160.5,145.12 L163.5,145.81 L166.5,146.54 L169.5,147.33 L172.5,148.16 L175.5,149.04 L178.5,149.98 L181.5,150.96 L184.5,151.99 L187.5,153.08 L190.5,154.21 L193.5,155.39 L196.5,156.63 L199.5,157.91 L202.5,159.24 L205.5,160.63 L208.5,162.06 L211.5,163.55 L214.5,165.08 L217.5,166.66 L220.5,168.3"/><path d="M52.5,181.15 L55.5,177.82 L58.5,174.64 L61.5,171.61 L64.5,168.72 L67.5,165.99 L70.5,163.4 L73.5,160.97 L76.5,158.68 L79.5,156.54 L82.5,154.55 L85.5,152.71 L88.5,151.02 L91.5,149.48 L94.5,148.09 L97.5,146.85 L100.5,145.75 L103.5,144.81 L106.5,144.01 L109.5,143.37 L112.5,142.87 L115.5,142.52 L118.5,142.32 L121.5,142.27 L124.5,142.3 L127.5,142.38 L130.5,142.52 L133.5,142.7 L136.5,142.92 L139.5,143.2 L142.5,143.53 L145.5,143.9 L148.5,144.33 L151.5,144.8 L154.5,145.32 L157.5,145.89 L160.5,146.52 L163.5,147.18 L166.5,147.9 L169.5,148.67 L172.5,149.49 L175.5,150.35 L178.5,151.27 L181.5,152.23 L184.5,153.24 L187.5,154.3 L190.5,155.41 L193.5,156.57 L196.5,157.78 L199.5,159.04 L202.5,160.34 L205.5,161.7 L208.5,163.1 L211.5,164.55 L214.5,166.06 L217.5,167.61 L220.5,169.21"/><path d="M52.5,183 L55.5,179.53 L58.5,176.22 L61.5,173.07 L64.5,170.07 L67.5,167.23 L70.5,164.54 L73.5,162.01 L76.5,159.63 L79.5,157.41 L82.5,155.34 L85.5,153.43 L88.5,151.67 L91.5,150.07 L94.5,148.62 L97.5,147.33 L100.5,146.19 L103.5,145.21 L106.5,144.38 L109.5,143.71 L112.5,143.19 L115.5,142.83 L118.5,142.62 L121.5,142.57 L124.5,142.61 L127.5,142.69 L130.5,142.83 L133.5,143.02 L136.5,143.27 L139.5,143.57 L142.5,143.91 L145.5,144.32 L148.5,144.77 L151.5,145.28 L154.5,145.83 L157.5,146.44 L160.5,147.11 L163.5,147.82 L166.5,148.59 L169.5,149.41 L172.5,150.28 L175.5,151.21 L178.5,152.19 L181.5,153.22 L184.5,154.3 L187.5,155.43 L190.5,156.62 L193.5,157.86 L196.5,159.15 L199.5,160.49 L202.5,161.89 L205.5,163.34 L208.5,164.84 L211.5,166.39 L214.5,168 L217.5,169.65 L220.5,171.36"/><path d="M52.5,184.5 L55.5,181.04 L58.5,177.72 L61.5,174.57 L64.5,171.57 L67.5,168.72 L70.5,166.04 L73.5,163.5 L76.5,161.12 L79.5,158.9 L82.5,156.83 L85.5,154.91 L88.5,153.16 L91.5,151.55 L94.5,150.1 L97.5,148.81 L100.5,147.67 L103.5,146.69 L106.5,145.86 L109.5,145.19 L112.5,144.67 L115.5,144.31 L118.5,144.1 L121.5,144.05 L124.5,144.09 L127.5,144.18 L130.5,144.33 L133.5,144.54 L136.5,144.8 L139.5,145.13 L142.5,145.5 L145.5,145.94 L148.5,146.43 L151.5,146.97 L154.5,147.58 L157.5,148.24 L160.5,148.95 L163.5,149.73 L166.5,150.56 L169.5,151.44 L172.5,152.38 L175.5,153.38 L178.5,154.44 L181.5,155.55 L184.5,156.72 L187.5,157.95 L190.5,159.23 L193.5,160.57 L196.5,161.96 L199.5,163.41 L202.5,164.92 L205.5,166.49 L208.5,168.11 L211.5,169.79 L214.5,171.52 L217.5,173.31 L220.5,175.16"/></g>
<line x1="60.9" y1="7.5" x2="60.9" y2="189.5" stroke="#ff0000" stroke-width="1.6" stroke-dasharray="5.6 8.2" stroke-dashoffset="2.6"/>
<line x1="121.2" y1="7.5" x2="121.2" y2="189.5" stroke="#000" stroke-width="1.6" stroke-dasharray="5.6 8.2" stroke-dashoffset="2.6"/>
<line x1="212.1" y1="7.5" x2="212.1" y2="189.5" stroke="#0000ff" stroke-width="1.6" stroke-dasharray="5.6 8.2" stroke-dashoffset="2.6"/>
<line x1="53.5" y1="59.9" x2="61.6" y2="59.9" stroke="#ff0000" stroke-width="1.6" />
<line x1="53.5" y1="109.4" x2="61.6" y2="109.4" stroke="#ff0000" stroke-width="1.6" />
<line x1="211.3" y1="50.6" x2="220.5" y2="50.6" stroke="#0000ff" stroke-width="1.6" />
<line x1="211.3" y1="120.6" x2="220.5" y2="120.6" stroke="#0000ff" stroke-width="1.6" />
<rect x="53.5" y="7.5" width="167.0" height="182.0" fill="none" stroke="#8a8a8a" stroke-width="1"/>
<line x1="50.7" y1="7.5" x2="53.5" y2="7.5" stroke="#8a8a8a" stroke-width="1" />
<line x1="220.5" y1="7.5" x2="222" y2="7.5" stroke="#8a8a8a" stroke-width="1" />
<line x1="51.9" y1="53" x2="53.5" y2="53" stroke="#8a8a8a" stroke-width="1" />
<line x1="220.5" y1="53" x2="222" y2="53" stroke="#8a8a8a" stroke-width="1" />
<line x1="50.7" y1="98.5" x2="53.5" y2="98.5" stroke="#8a8a8a" stroke-width="1" />
<line x1="220.5" y1="98.5" x2="222" y2="98.5" stroke="#8a8a8a" stroke-width="1" />
<line x1="51.9" y1="144" x2="53.5" y2="144" stroke="#8a8a8a" stroke-width="1" />
<line x1="220.5" y1="144" x2="222" y2="144" stroke="#8a8a8a" stroke-width="1" />
<line x1="50.7" y1="189.5" x2="53.5" y2="189.5" stroke="#8a8a8a" stroke-width="1" />
<line x1="220.5" y1="189.5" x2="222" y2="189.5" stroke="#8a8a8a" stroke-width="1" />
<line x1="53.5" y1="189.5" x2="53.5" y2="192.3" stroke="#8a8a8a" stroke-width="1" />
<line x1="53.5" y1="7.5" x2="53.5" y2="9" stroke="#8a8a8a" stroke-width="1" />
<line x1="95.25" y1="189.5" x2="95.25" y2="191.1" stroke="#8a8a8a" stroke-width="1" />
<line x1="95.25" y1="7.5" x2="95.25" y2="9" stroke="#8a8a8a" stroke-width="1" />
<line x1="137" y1="189.5" x2="137" y2="192.3" stroke="#8a8a8a" stroke-width="1" />
<line x1="137" y1="7.5" x2="137" y2="9" stroke="#8a8a8a" stroke-width="1" />
<line x1="178.75" y1="189.5" x2="178.75" y2="191.1" stroke="#8a8a8a" stroke-width="1" />
<line x1="178.75" y1="7.5" x2="178.75" y2="9" stroke="#8a8a8a" stroke-width="1" />
<line x1="220.5" y1="189.5" x2="220.5" y2="192.3" stroke="#8a8a8a" stroke-width="1" />
<line x1="220.5" y1="7.5" x2="220.5" y2="9" stroke="#8a8a8a" stroke-width="1" />
<text x="49" y="12" font-size="13.8" text-anchor="end" fill="#000" font-weight="normal" font-style="normal" >0.5</text>
<text x="273.4" y="12" font-size="13.8" text-anchor="end" fill="#000" font-weight="normal" font-style="normal" >0.5</text>
<text x="500.4" y="12" font-size="13.8" text-anchor="end" fill="#000" font-weight="normal" font-style="normal" >0.5</text>
<text x="49" y="102.9" font-size="13.8" text-anchor="end" fill="#000" font-weight="normal" font-style="normal" >0.3</text>
<text x="273.4" y="102.9" font-size="13.8" text-anchor="end" fill="#000" font-weight="normal" font-style="normal" >0.3</text>
<text x="500.4" y="102.9" font-size="13.8" text-anchor="end" fill="#000" font-weight="normal" font-style="normal" >0.3</text>
<text x="49" y="194" font-size="13.8" text-anchor="end" fill="#000" font-weight="normal" font-style="normal" >0.1</text>
<text x="273.4" y="194" font-size="13.8" text-anchor="end" fill="#000" font-weight="normal" font-style="normal" >0.1</text>
<text x="500.4" y="194" font-size="13.8" text-anchor="end" fill="#000" font-weight="normal" font-style="normal" >0.1</text>
<text x="53.5" y="205.5" font-size="13.8" text-anchor="middle" fill="#000" font-weight="normal" font-style="normal" >0.55</text>
<text x="136.15" y="205.5" font-size="13.8" text-anchor="middle" fill="#000" font-weight="normal" font-style="normal" >1.10</text>
<text x="219.65" y="205.5" font-size="13.8" text-anchor="middle" fill="#000" font-weight="normal" font-style="normal" >1.65</text>
<text x="277.6" y="205.5" font-size="13.8" text-anchor="middle" fill="#000" font-weight="normal" font-style="normal" >1</text>
<text x="332" y="205.5" font-size="13.8" text-anchor="middle" fill="#000" font-weight="normal" font-style="normal" >48</text>
<text x="388.6" y="205.5" font-size="13.8" text-anchor="middle" fill="#000" font-weight="normal" font-style="normal" >96</text>
<text x="442.4" y="205.5" font-size="13.8" text-anchor="middle" fill="#000" font-weight="normal" font-style="normal" >144</text>
<text x="504.7" y="205.5" font-size="13.8" text-anchor="middle" fill="#000" font-weight="normal" font-style="normal" >1</text>
<text x="560.1" y="205.5" font-size="13.8" text-anchor="middle" fill="#000" font-weight="normal" font-style="normal" >48</text>
<text x="615.8" y="205.5" font-size="13.8" text-anchor="middle" fill="#000" font-weight="normal" font-style="normal" >96</text>
<text x="670.2" y="205.5" font-size="13.8" text-anchor="middle" fill="#000" font-weight="normal" font-style="normal" >144</text>
<rect x="278.5" y="7.5" width="165.0" height="182.0" fill="none" stroke="#8a8a8a" stroke-width="1"/>
<line x1="275.7" y1="7.5" x2="278.5" y2="7.5" stroke="#8a8a8a" stroke-width="1" />
<line x1="442" y1="7.5" x2="443.5" y2="7.5" stroke="#8a8a8a" stroke-width="1" />
<line x1="276.9" y1="53" x2="278.5" y2="53" stroke="#8a8a8a" stroke-width="1" />
<line x1="442" y1="53" x2="443.5" y2="53" stroke="#8a8a8a" stroke-width="1" />
<line x1="275.7" y1="98.5" x2="278.5" y2="98.5" stroke="#8a8a8a" stroke-width="1" />
<line x1="442" y1="98.5" x2="443.5" y2="98.5" stroke="#8a8a8a" stroke-width="1" />
<line x1="276.9" y1="144" x2="278.5" y2="144" stroke="#8a8a8a" stroke-width="1" />
<line x1="442" y1="144" x2="443.5" y2="144" stroke="#8a8a8a" stroke-width="1" />
<line x1="275.7" y1="189.5" x2="278.5" y2="189.5" stroke="#8a8a8a" stroke-width="1" />
<line x1="442" y1="189.5" x2="443.5" y2="189.5" stroke="#8a8a8a" stroke-width="1" />
<line x1="278.5" y1="189.5" x2="278.5" y2="192.3" stroke="#8a8a8a" stroke-width="1" />
<line x1="278.5" y1="7.5" x2="278.5" y2="9" stroke="#8a8a8a" stroke-width="1" />
<line x1="305.09" y1="189.5" x2="305.09" y2="191.1" stroke="#8a8a8a" stroke-width="1" />
<line x1="305.09" y1="7.5" x2="305.09" y2="9" stroke="#8a8a8a" stroke-width="1" />
<line x1="332.83" y1="189.5" x2="332.83" y2="192.3" stroke="#8a8a8a" stroke-width="1" />
<line x1="332.83" y1="7.5" x2="332.83" y2="9" stroke="#8a8a8a" stroke-width="1" />
<line x1="360.58" y1="189.5" x2="360.58" y2="191.1" stroke="#8a8a8a" stroke-width="1" />
<line x1="360.58" y1="7.5" x2="360.58" y2="9" stroke="#8a8a8a" stroke-width="1" />
<line x1="388.32" y1="189.5" x2="388.32" y2="192.3" stroke="#8a8a8a" stroke-width="1" />
<line x1="388.32" y1="7.5" x2="388.32" y2="9" stroke="#8a8a8a" stroke-width="1" />
<line x1="416.06" y1="189.5" x2="416.06" y2="191.1" stroke="#8a8a8a" stroke-width="1" />
<line x1="416.06" y1="7.5" x2="416.06" y2="9" stroke="#8a8a8a" stroke-width="1" />
<line x1="443.81" y1="189.5" x2="443.81" y2="192.3" stroke="#8a8a8a" stroke-width="1" />
<line x1="443.81" y1="7.5" x2="443.81" y2="9" stroke="#8a8a8a" stroke-width="1" />
<g><circle cx="278.5" cy="10.64" r="1.8" fill="#fff" stroke="#4a4a4a" stroke-width="0.6"/><circle cx="279.66" cy="10.64" r="1.8" fill="#fff" stroke="#4a4a4a" stroke-width="0.6"/><circle cx="280.81" cy="11.69" r="1.8" fill="#fff" stroke="#4a4a4a" stroke-width="0.6"/><circle cx="281.97" cy="11.17" r="1.8" fill="#fff" stroke="#4a4a4a" stroke-width="0.6"/><circle cx="283.12" cy="12.18" r="1.8" fill="#fff" stroke="#4a4a4a" stroke-width="0.6"/><circle cx="284.28" cy="12.03" r="1.8" fill="#fff" stroke="#4a4a4a" stroke-width="0.6"/><circle cx="285.44" cy="12.39" r="1.8" fill="#fff" stroke="#4a4a4a" stroke-width="0.6"/><circle cx="286.59" cy="12.79" r="1.8" fill="#fff" stroke="#4a4a4a" stroke-width="0.6"/><circle cx="287.75" cy="13.02" r="1.8" fill="#fff" stroke="#4a4a4a" stroke-width="0.6"/><circle cx="288.9" cy="13.38" r="1.8" fill="#fff" stroke="#4a4a4a" stroke-width="0.6"/><circle cx="290.06" cy="13.66" r="1.8" fill="#fff" stroke="#4a4a4a" stroke-width="0.6"/><circle cx="291.22" cy="13.68" r="1.8" fill="#fff" stroke="#4a4a4a" stroke-width="0.6"/><circle cx="292.37" cy="14.58" r="1.8" fill="#fff" stroke="#4a4a4a" stroke-width="0.6"/><circle cx="293.53" cy="14.94" r="1.8" fill="#fff" stroke="#4a4a4a" stroke-width="0.6"/><circle cx="294.68" cy="14.96" r="1.8" fill="#fff" stroke="#4a4a4a" stroke-width="0.6"/><circle cx="295.84" cy="15.05" r="1.8" fill="#fff" stroke="#4a4a4a" stroke-width="0.6"/><circle cx="297" cy="16.11" r="1.8" fill="#fff" stroke="#4a4a4a" stroke-width="0.6"/><circle cx="298.15" cy="16.4" r="1.8" fill="#fff" stroke="#4a4a4a" stroke-width="0.6"/><circle cx="299.31" cy="16.67" r="1.8" fill="#fff" stroke="#4a4a4a" stroke-width="0.6"/><circle cx="300.46" cy="29.71" r="1.8" fill="#fff" stroke="#4a4a4a" stroke-width="0.6"/><circle cx="301.62" cy="30.43" r="1.8" fill="#fff" stroke="#4a4a4a" stroke-width="0.6"/><circle cx="303.93" cy="31.22" r="1.8" fill="#fff" stroke="#4a4a4a" stroke-width="0.6"/><circle cx="305.09" cy="31.11" r="1.8" fill="#fff" stroke="#4a4a4a" stroke-width="0.6"/><circle cx="306.24" cy="35.28" r="1.8" fill="#fff" stroke="#4a4a4a" stroke-width="0.6"/><circle cx="307.4" cy="35.66" r="1.8" fill="#fff" stroke="#4a4a4a" stroke-width="0.6"/><circle cx="308.56" cy="36.53" r="1.8" fill="#fff" stroke="#4a4a4a" stroke-width="0.6"/><circle cx="309.71" cy="40.78" r="1.8" fill="#fff" stroke="#4a4a4a" stroke-width="0.6"/><circle cx="310.87" cy="41.49" r="1.8" fill="#fff" stroke="#4a4a4a" stroke-width="0.6"/><circle cx="312.02" cy="41.85" r="1.8" fill="#fff" stroke="#4a4a4a" stroke-width="0.6"/><circle cx="313.18" cy="42.88" r="1.8" fill="#fff" stroke="#4a4a4a" stroke-width="0.6"/><circle cx="314.34" cy="42.64" r="1.8" fill="#fff" stroke="#4a4a4a" stroke-width="0.6"/><circle cx="315.49" cy="43.39" r="1.8" fill="#fff" stroke="#4a4a4a" stroke-width="0.6"/><circle cx="316.65" cy="42.96" r="1.8" fill="#fff" stroke="#4a4a4a" stroke-width="0.6"/><circle cx="317.8" cy="43.4" r="1.8" fill="#fff" stroke="#4a4a4a" stroke-width="0.6"/><circle cx="318.96" cy="43.54" r="1.8" fill="#fff" stroke="#4a4a4a" stroke-width="0.6"/><circle cx="320.12" cy="44.36" r="1.8" fill="#fff" stroke="#4a4a4a" stroke-width="0.6"/><circle cx="321.27" cy="44.13" r="1.8" fill="#fff" stroke="#4a4a4a" stroke-width="0.6"/><circle cx="322.43" cy="44.62" r="1.8" fill="#fff" stroke="#4a4a4a" stroke-width="0.6"/><circle cx="323.58" cy="44.86" r="1.8" fill="#fff" stroke="#4a4a4a" stroke-width="0.6"/><circle cx="324.74" cy="45.4" r="1.8" fill="#fff" stroke="#4a4a4a" stroke-width="0.6"/><circle cx="325.9" cy="45.26" r="1.8" fill="#fff" stroke="#4a4a4a" stroke-width="0.6"/><circle cx="327.05" cy="46.56" r="1.8" fill="#fff" stroke="#4a4a4a" stroke-width="0.6"/><circle cx="328.21" cy="46.48" r="1.8" fill="#fff" stroke="#4a4a4a" stroke-width="0.6"/><circle cx="329.36" cy="47.07" r="1.8" fill="#fff" stroke="#4a4a4a" stroke-width="0.6"/><circle cx="330.52" cy="47.37" r="1.8" fill="#fff" stroke="#4a4a4a" stroke-width="0.6"/><circle cx="331.68" cy="48.55" r="1.8" fill="#fff" stroke="#4a4a4a" stroke-width="0.6"/><circle cx="332.83" cy="48.86" r="1.8" fill="#fff" stroke="#4a4a4a" stroke-width="0.6"/><circle cx="333.99" cy="49.96" r="1.8" fill="#fff" stroke="#4a4a4a" stroke-width="0.6"/><circle cx="335.14" cy="49.56" r="1.8" fill="#fff" stroke="#4a4a4a" stroke-width="0.6"/><circle cx="336.3" cy="51.18" r="1.8" fill="#fff" stroke="#4a4a4a" stroke-width="0.6"/><circle cx="337.46" cy="50.41" r="1.8" fill="#fff" stroke="#4a4a4a" stroke-width="0.6"/><circle cx="338.61" cy="51.68" r="1.8" fill="#fff" stroke="#4a4a4a" stroke-width="0.6"/><circle cx="339.77" cy="51.98" r="1.8" fill="#fff" stroke="#4a4a4a" stroke-width="0.6"/><circle cx="340.92" cy="52.44" r="1.8" fill="#fff" stroke="#4a4a4a" stroke-width="0.6"/><circle cx="342.08" cy="52.74" r="1.8" fill="#fff" stroke="#4a4a4a" stroke-width="0.6"/><circle cx="343.24" cy="53.34" r="1.8" fill="#fff" stroke="#4a4a4a" stroke-width="0.6"/><circle cx="344.39" cy="53.9" r="1.8" fill="#fff" stroke="#4a4a4a" stroke-width="0.6"/><circle cx="345.55" cy="55.18" r="1.8" fill="#fff" stroke="#4a4a4a" stroke-width="0.6"/><circle cx="346.7" cy="55" r="1.8" fill="#fff" stroke="#4a4a4a" stroke-width="0.6"/><circle cx="347.86" cy="56.53" r="1.8" fill="#fff" stroke="#4a4a4a" stroke-width="0.6"/><circle cx="349.02" cy="56.02" r="1.8" fill="#fff" stroke="#4a4a4a" stroke-width="0.6"/><circle cx="350.17" cy="57.8" r="1.8" fill="#fff" stroke="#4a4a4a" stroke-width="0.6"/><circle cx="351.33" cy="57.71" r="1.8" fill="#fff" stroke="#4a4a4a" stroke-width="0.6"/><circle cx="352.48" cy="59.2" r="1.8" fill="#fff" stroke="#4a4a4a" stroke-width="0.6"/><circle cx="353.64" cy="59.46" r="1.8" fill="#fff" stroke="#4a4a4a" stroke-width="0.6"/><circle cx="354.8" cy="76.7" r="1.8" fill="#5a10b0" stroke="#4a4a4a" stroke-width="0.6"/><circle cx="355.95" cy="76.7" r="1.8" fill="#5a10b0" stroke="#4a4a4a" stroke-width="0.6"/><circle cx="357.11" cy="76.7" r="1.8" fill="#5a10b0" stroke="#4a4a4a" stroke-width="0.6"/><circle cx="358.26" cy="80.3" r="1.8" fill="#12a072" stroke="#4a4a4a" stroke-width="0.6"/><circle cx="359.42" cy="80.45" r="1.8" fill="#12a072" stroke="#4a4a4a" stroke-width="0.6"/><circle cx="360.58" cy="80.6" r="1.8" fill="#12a072" stroke="#4a4a4a" stroke-width="0.6"/><circle cx="361.73" cy="80.73" r="1.8" fill="#12a072" stroke="#4a4a4a" stroke-width="0.6"/><circle cx="362.89" cy="80.87" r="1.8" fill="#12a072" stroke="#4a4a4a" stroke-width="0.6"/><circle cx="364.04" cy="81" r="1.8" fill="#12a072" stroke="#4a4a4a" stroke-width="0.6"/><circle cx="365.2" cy="81.13" r="1.8" fill="#12a072" stroke="#4a4a4a" stroke-width="0.6"/><circle cx="366.36" cy="81.27" r="1.8" fill="#12a072" stroke="#4a4a4a" stroke-width="0.6"/><circle cx="367.51" cy="81.4" r="1.8" fill="#12a072" stroke="#4a4a4a" stroke-width="0.6"/><circle cx="368.67" cy="110.21" r="1.8" fill="#fff" stroke="#4a4a4a" stroke-width="0.6"/><circle cx="369.82" cy="110.58" r="1.8" fill="#fff" stroke="#4a4a4a" stroke-width="0.6"/><circle cx="370.98" cy="111.29" r="1.8" fill="#fff" stroke="#4a4a4a" stroke-width="0.6"/><circle cx="372.14" cy="111.46" r="1.8" fill="#fff" stroke="#4a4a4a" stroke-width="0.6"/><circle cx="373.29" cy="112.03" r="1.8" fill="#fff" stroke="#4a4a4a" stroke-width="0.6"/><circle cx="374.45" cy="112.61" r="1.8" fill="#fff" stroke="#4a4a4a" stroke-width="0.6"/><circle cx="375.6" cy="113.66" r="1.8" fill="#fff" stroke="#4a4a4a" stroke-width="0.6"/><circle cx="376.76" cy="113.97" r="1.8" fill="#fff" stroke="#4a4a4a" stroke-width="0.6"/><circle cx="377.92" cy="114.76" r="1.8" fill="#fff" stroke="#4a4a4a" stroke-width="0.6"/><circle cx="379.07" cy="114.28" r="1.8" fill="#fff" stroke="#4a4a4a" stroke-width="0.6"/><circle cx="380.23" cy="115.27" r="1.8" fill="#fff" stroke="#4a4a4a" stroke-width="0.6"/><circle cx="381.38" cy="115.53" r="1.8" fill="#fff" stroke="#4a4a4a" stroke-width="0.6"/><circle cx="382.54" cy="116" r="1.8" fill="#fff" stroke="#4a4a4a" stroke-width="0.6"/><circle cx="383.7" cy="116.39" r="1.8" fill="#fff" stroke="#4a4a4a" stroke-width="0.6"/><circle cx="384.85" cy="117.23" r="1.8" fill="#fff" stroke="#4a4a4a" stroke-width="0.6"/><circle cx="386.01" cy="117.18" r="1.8" fill="#fff" stroke="#4a4a4a" stroke-width="0.6"/><circle cx="387.16" cy="118.5" r="1.8" fill="#fff" stroke="#4a4a4a" stroke-width="0.6"/><circle cx="388.32" cy="119.14" r="1.8" fill="#fff" stroke="#4a4a4a" stroke-width="0.6"/><circle cx="389.48" cy="119.98" r="1.8" fill="#fff" stroke="#4a4a4a" stroke-width="0.6"/><circle cx="390.63" cy="120.09" r="1.8" fill="#fff" stroke="#4a4a4a" stroke-width="0.6"/><circle cx="391.79" cy="121.46" r="1.8" fill="#fff" stroke="#4a4a4a" stroke-width="0.6"/><circle cx="392.94" cy="121.9" r="1.8" fill="#fff" stroke="#4a4a4a" stroke-width="0.6"/><circle cx="394.1" cy="122.37" r="1.8" fill="#fff" stroke="#4a4a4a" stroke-width="0.6"/><circle cx="395.26" cy="122.7" r="1.8" fill="#fff" stroke="#4a4a4a" stroke-width="0.6"/><circle cx="396.41" cy="123.79" r="1.8" fill="#fff" stroke="#4a4a4a" stroke-width="0.6"/><circle cx="397.57" cy="124.1" r="1.8" fill="#fff" stroke="#4a4a4a" stroke-width="0.6"/><circle cx="398.72" cy="125.04" r="1.8" fill="#fff" stroke="#4a4a4a" stroke-width="0.6"/><circle cx="399.88" cy="125.08" r="1.8" fill="#fff" stroke="#4a4a4a" stroke-width="0.6"/><circle cx="401.04" cy="125.55" r="1.8" fill="#fff" stroke="#4a4a4a" stroke-width="0.6"/><circle cx="402.19" cy="125.67" r="1.8" fill="#fff" stroke="#4a4a4a" stroke-width="0.6"/><circle cx="403.35" cy="126.71" r="1.8" fill="#fff" stroke="#4a4a4a" stroke-width="0.6"/><circle cx="404.5" cy="127.18" r="1.8" fill="#fff" stroke="#4a4a4a" stroke-width="0.6"/><circle cx="405.66" cy="128.58" r="1.8" fill="#fff" stroke="#4a4a4a" stroke-width="0.6"/><circle cx="406.82" cy="127.85" r="1.8" fill="#fff" stroke="#4a4a4a" stroke-width="0.6"/><circle cx="407.97" cy="130.08" r="1.8" fill="#fff" stroke="#4a4a4a" stroke-width="0.6"/><circle cx="409.13" cy="130.13" r="1.8" fill="#fff" stroke="#4a4a4a" stroke-width="0.6"/><circle cx="410.28" cy="132.64" r="1.8" fill="#fff" stroke="#4a4a4a" stroke-width="0.6"/><circle cx="411.44" cy="132.86" r="1.8" fill="#fff" stroke="#4a4a4a" stroke-width="0.6"/><circle cx="412.6" cy="135.08" r="1.8" fill="#fff" stroke="#4a4a4a" stroke-width="0.6"/><circle cx="413.75" cy="134.79" r="1.8" fill="#fff" stroke="#4a4a4a" stroke-width="0.6"/><circle cx="414.91" cy="136.55" r="1.8" fill="#fff" stroke="#4a4a4a" stroke-width="0.6"/><circle cx="416.06" cy="136.93" r="1.8" fill="#fff" stroke="#4a4a4a" stroke-width="0.6"/><circle cx="418.38" cy="139.06" r="1.8" fill="#fff" stroke="#4a4a4a" stroke-width="0.6"/><circle cx="419.53" cy="139.81" r="1.8" fill="#fff" stroke="#4a4a4a" stroke-width="0.6"/><circle cx="420.69" cy="139.97" r="1.8" fill="#fff" stroke="#4a4a4a" stroke-width="0.6"/><circle cx="421.84" cy="162.61" r="1.8" fill="#fff" stroke="#4a4a4a" stroke-width="0.6"/><circle cx="423" cy="163.19" r="1.8" fill="#fff" stroke="#4a4a4a" stroke-width="0.6"/><circle cx="424.16" cy="163.97" r="1.8" fill="#fff" stroke="#4a4a4a" stroke-width="0.6"/><circle cx="425.31" cy="163.41" r="1.8" fill="#fff" stroke="#4a4a4a" stroke-width="0.6"/><circle cx="426.47" cy="165.15" r="1.8" fill="#fff" stroke="#4a4a4a" stroke-width="0.6"/><circle cx="427.62" cy="165.04" r="1.8" fill="#fff" stroke="#4a4a4a" stroke-width="0.6"/><circle cx="428.78" cy="166.09" r="1.8" fill="#fff" stroke="#4a4a4a" stroke-width="0.6"/><circle cx="429.94" cy="166.03" r="1.8" fill="#fff" stroke="#4a4a4a" stroke-width="0.6"/><circle cx="431.09" cy="166.76" r="1.8" fill="#fff" stroke="#4a4a4a" stroke-width="0.6"/><circle cx="432.25" cy="166.77" r="1.8" fill="#fff" stroke="#4a4a4a" stroke-width="0.6"/><circle cx="433.4" cy="167.64" r="1.8" fill="#fff" stroke="#4a4a4a" stroke-width="0.6"/><circle cx="434.56" cy="168.12" r="1.8" fill="#fff" stroke="#4a4a4a" stroke-width="0.6"/><circle cx="435.72" cy="168.75" r="1.8" fill="#fff" stroke="#4a4a4a" stroke-width="0.6"/><circle cx="436.87" cy="168.75" r="1.8" fill="#fff" stroke="#4a4a4a" stroke-width="0.6"/><circle cx="438.03" cy="170.15" r="1.8" fill="#fff" stroke="#4a4a4a" stroke-width="0.6"/><circle cx="439.18" cy="170.11" r="1.8" fill="#fff" stroke="#4a4a4a" stroke-width="0.6"/><circle cx="440.34" cy="171.94" r="1.8" fill="#fff" stroke="#4a4a4a" stroke-width="0.6"/><circle cx="441.5" cy="171.68" r="1.8" fill="#fff" stroke="#4a4a4a" stroke-width="0.6"/><circle cx="442.65" cy="174.3" r="1.8" fill="#fff" stroke="#4a4a4a" stroke-width="0.6"/><circle cx="443.81" cy="175.19" r="1.8" fill="#fff" stroke="#4a4a4a" stroke-width="0.6"/></g>
<circle cx="302.78" cy="30.5" r="1.9" fill="#ff0000"/>
<circle cx="417.22" cy="138.5" r="1.9" fill="#ff0000"/>
<rect x="505.5" y="7.5" width="165.0" height="182.0" fill="none" stroke="#8a8a8a" stroke-width="1"/>
<line x1="502.7" y1="7.5" x2="505.5" y2="7.5" stroke="#8a8a8a" stroke-width="1" />
<line x1="669" y1="7.5" x2="670.5" y2="7.5" stroke="#8a8a8a" stroke-width="1" />
<line x1="503.9" y1="53" x2="505.5" y2="53" stroke="#8a8a8a" stroke-width="1" />
<line x1="669" y1="53" x2="670.5" y2="53" stroke="#8a8a8a" stroke-width="1" />
<line x1="502.7" y1="98.5" x2="505.5" y2="98.5" stroke="#8a8a8a" stroke-width="1" />
<line x1="669" y1="98.5" x2="670.5" y2="98.5" stroke="#8a8a8a" stroke-width="1" />
<line x1="503.9" y1="144" x2="505.5" y2="144" stroke="#8a8a8a" stroke-width="1" />
<line x1="669" y1="144" x2="670.5" y2="144" stroke="#8a8a8a" stroke-width="1" />
<line x1="502.7" y1="189.5" x2="505.5" y2="189.5" stroke="#8a8a8a" stroke-width="1" />
<line x1="669" y1="189.5" x2="670.5" y2="189.5" stroke="#8a8a8a" stroke-width="1" />
<line x1="505.5" y1="189.5" x2="505.5" y2="192.3" stroke="#8a8a8a" stroke-width="1" />
<line x1="505.5" y1="7.5" x2="505.5" y2="9" stroke="#8a8a8a" stroke-width="1" />
<line x1="532.09" y1="189.5" x2="532.09" y2="191.1" stroke="#8a8a8a" stroke-width="1" />
<line x1="532.09" y1="7.5" x2="532.09" y2="9" stroke="#8a8a8a" stroke-width="1" />
<line x1="559.83" y1="189.5" x2="559.83" y2="192.3" stroke="#8a8a8a" stroke-width="1" />
<line x1="559.83" y1="7.5" x2="559.83" y2="9" stroke="#8a8a8a" stroke-width="1" />
<line x1="587.58" y1="189.5" x2="587.58" y2="191.1" stroke="#8a8a8a" stroke-width="1" />
<line x1="587.58" y1="7.5" x2="587.58" y2="9" stroke="#8a8a8a" stroke-width="1" />
<line x1="615.32" y1="189.5" x2="615.32" y2="192.3" stroke="#8a8a8a" stroke-width="1" />
<line x1="615.32" y1="7.5" x2="615.32" y2="9" stroke="#8a8a8a" stroke-width="1" />
<line x1="643.06" y1="189.5" x2="643.06" y2="191.1" stroke="#8a8a8a" stroke-width="1" />
<line x1="643.06" y1="7.5" x2="643.06" y2="9" stroke="#8a8a8a" stroke-width="1" />
<line x1="670.81" y1="189.5" x2="670.81" y2="192.3" stroke="#8a8a8a" stroke-width="1" />
<line x1="670.81" y1="7.5" x2="670.81" y2="9" stroke="#8a8a8a" stroke-width="1" />
<g><circle cx="505.5" cy="11.56" r="1.8" fill="#fff" stroke="#4a4a4a" stroke-width="0.6"/><circle cx="506.66" cy="11.95" r="1.8" fill="#fff" stroke="#4a4a4a" stroke-width="0.6"/><circle cx="507.81" cy="13.47" r="1.8" fill="#fff" stroke="#4a4a4a" stroke-width="0.6"/><circle cx="508.97" cy="13.06" r="1.8" fill="#fff" stroke="#4a4a4a" stroke-width="0.6"/><circle cx="510.12" cy="14.29" r="1.8" fill="#fff" stroke="#4a4a4a" stroke-width="0.6"/><circle cx="511.28" cy="14.36" r="1.8" fill="#fff" stroke="#4a4a4a" stroke-width="0.6"/><circle cx="512.44" cy="15.06" r="1.8" fill="#fff" stroke="#4a4a4a" stroke-width="0.6"/><circle cx="513.59" cy="15.36" r="1.8" fill="#fff" stroke="#4a4a4a" stroke-width="0.6"/><circle cx="514.75" cy="16.33" r="1.8" fill="#fff" stroke="#4a4a4a" stroke-width="0.6"/><circle cx="515.9" cy="16.48" r="1.8" fill="#fff" stroke="#4a4a4a" stroke-width="0.6"/><circle cx="517.06" cy="16.72" r="1.8" fill="#fff" stroke="#4a4a4a" stroke-width="0.6"/><circle cx="518.22" cy="16.91" r="1.8" fill="#fff" stroke="#4a4a4a" stroke-width="0.6"/><circle cx="519.37" cy="17.59" r="1.8" fill="#fff" stroke="#4a4a4a" stroke-width="0.6"/><circle cx="520.53" cy="18.24" r="1.8" fill="#fff" stroke="#4a4a4a" stroke-width="0.6"/><circle cx="521.68" cy="19.09" r="1.8" fill="#fff" stroke="#4a4a4a" stroke-width="0.6"/><circle cx="522.84" cy="18.5" r="1.8" fill="#fff" stroke="#4a4a4a" stroke-width="0.6"/><circle cx="524" cy="20.31" r="1.8" fill="#fff" stroke="#4a4a4a" stroke-width="0.6"/><circle cx="525.15" cy="20.29" r="1.8" fill="#fff" stroke="#4a4a4a" stroke-width="0.6"/><circle cx="526.31" cy="20.74" r="1.8" fill="#fff" stroke="#4a4a4a" stroke-width="0.6"/><circle cx="527.46" cy="21.2" r="1.8" fill="#fff" stroke="#4a4a4a" stroke-width="0.6"/><circle cx="528.62" cy="21.29" r="1.8" fill="#fff" stroke="#4a4a4a" stroke-width="0.6"/><circle cx="530.93" cy="27.33" r="1.8" fill="#fff" stroke="#4a4a4a" stroke-width="0.6"/><circle cx="532.09" cy="28.24" r="1.8" fill="#fff" stroke="#4a4a4a" stroke-width="0.6"/><circle cx="533.24" cy="29.69" r="1.8" fill="#fff" stroke="#4a4a4a" stroke-width="0.6"/><circle cx="534.4" cy="31.07" r="1.8" fill="#fff" stroke="#4a4a4a" stroke-width="0.6"/><circle cx="535.56" cy="31.35" r="1.8" fill="#fff" stroke="#4a4a4a" stroke-width="0.6"/><circle cx="536.71" cy="32.21" r="1.8" fill="#fff" stroke="#4a4a4a" stroke-width="0.6"/><circle cx="537.87" cy="32.9" r="1.8" fill="#fff" stroke="#4a4a4a" stroke-width="0.6"/><circle cx="539.02" cy="33.26" r="1.8" fill="#fff" stroke="#4a4a4a" stroke-width="0.6"/><circle cx="540.18" cy="33.91" r="1.8" fill="#fff" stroke="#4a4a4a" stroke-width="0.6"/><circle cx="541.34" cy="34.02" r="1.8" fill="#fff" stroke="#4a4a4a" stroke-width="0.6"/><circle cx="542.49" cy="34.82" r="1.8" fill="#fff" stroke="#4a4a4a" stroke-width="0.6"/><circle cx="543.65" cy="34.96" r="1.8" fill="#fff" stroke="#4a4a4a" stroke-width="0.6"/><circle cx="544.8" cy="35.64" r="1.8" fill="#fff" stroke="#4a4a4a" stroke-width="0.6"/><circle cx="545.96" cy="35.48" r="1.8" fill="#fff" stroke="#4a4a4a" stroke-width="0.6"/><circle cx="547.12" cy="37" r="1.8" fill="#fff" stroke="#4a4a4a" stroke-width="0.6"/><circle cx="548.27" cy="37" r="1.8" fill="#fff" stroke="#4a4a4a" stroke-width="0.6"/><circle cx="549.43" cy="37.63" r="1.8" fill="#fff" stroke="#4a4a4a" stroke-width="0.6"/><circle cx="550.58" cy="37.51" r="1.8" fill="#fff" stroke="#4a4a4a" stroke-width="0.6"/><circle cx="551.74" cy="37.66" r="1.8" fill="#fff" stroke="#4a4a4a" stroke-width="0.6"/><circle cx="552.9" cy="37.58" r="1.8" fill="#fff" stroke="#4a4a4a" stroke-width="0.6"/><circle cx="554.05" cy="38.14" r="1.8" fill="#fff" stroke="#4a4a4a" stroke-width="0.6"/><circle cx="555.21" cy="37.94" r="1.8" fill="#fff" stroke="#4a4a4a" stroke-width="0.6"/><circle cx="556.36" cy="39.06" r="1.8" fill="#fff" stroke="#4a4a4a" stroke-width="0.6"/><circle cx="557.52" cy="38.74" r="1.8" fill="#fff" stroke="#4a4a4a" stroke-width="0.6"/><circle cx="558.68" cy="39.73" r="1.8" fill="#fff" stroke="#4a4a4a" stroke-width="0.6"/><circle cx="559.83" cy="39.31" r="1.8" fill="#fff" stroke="#4a4a4a" stroke-width="0.6"/><circle cx="560.99" cy="40.7" r="1.8" fill="#fff" stroke="#4a4a4a" stroke-width="0.6"/><circle cx="562.14" cy="40.6" r="1.8" fill="#fff" stroke="#4a4a4a" stroke-width="0.6"/><circle cx="563.3" cy="41.03" r="1.8" fill="#fff" stroke="#4a4a4a" stroke-width="0.6"/><circle cx="564.46" cy="41.21" r="1.8" fill="#fff" stroke="#4a4a4a" stroke-width="0.6"/><circle cx="565.61" cy="43.14" r="1.8" fill="#fff" stroke="#4a4a4a" stroke-width="0.6"/><circle cx="566.77" cy="42.75" r="1.8" fill="#fff" stroke="#4a4a4a" stroke-width="0.6"/><circle cx="567.92" cy="44.28" r="1.8" fill="#fff" stroke="#4a4a4a" stroke-width="0.6"/><circle cx="569.08" cy="43.76" r="1.8" fill="#fff" stroke="#4a4a4a" stroke-width="0.6"/><circle cx="570.24" cy="44.47" r="1.8" fill="#fff" stroke="#4a4a4a" stroke-width="0.6"/><circle cx="571.39" cy="44.97" r="1.8" fill="#fff" stroke="#4a4a4a" stroke-width="0.6"/><circle cx="572.55" cy="46.13" r="1.8" fill="#fff" stroke="#4a4a4a" stroke-width="0.6"/><circle cx="573.7" cy="45.67" r="1.8" fill="#fff" stroke="#4a4a4a" stroke-width="0.6"/><circle cx="574.86" cy="46.55" r="1.8" fill="#fff" stroke="#4a4a4a" stroke-width="0.6"/><circle cx="576.02" cy="46.77" r="1.8" fill="#fff" stroke="#4a4a4a" stroke-width="0.6"/><circle cx="577.17" cy="48.55" r="1.8" fill="#fff" stroke="#4a4a4a" stroke-width="0.6"/><circle cx="578.33" cy="48.37" r="1.8" fill="#fff" stroke="#4a4a4a" stroke-width="0.6"/><circle cx="579.48" cy="49.52" r="1.8" fill="#fff" stroke="#4a4a4a" stroke-width="0.6"/><circle cx="580.64" cy="50.07" r="1.8" fill="#fff" stroke="#4a4a4a" stroke-width="0.6"/><circle cx="581.8" cy="78.6" r="1.8" fill="#6a0dad" stroke="#4a4a4a" stroke-width="0.6"/><circle cx="582.95" cy="78.6" r="1.8" fill="#6a0dad" stroke="#4a4a4a" stroke-width="0.6"/><circle cx="584.11" cy="78.6" r="1.8" fill="#d400d4" stroke="#4a4a4a" stroke-width="0.6"/><circle cx="585.26" cy="78.6" r="1.8" fill="#12a072" stroke="#4a4a4a" stroke-width="0.6"/><circle cx="586.42" cy="78.6" r="1.8" fill="#12a072" stroke="#4a4a4a" stroke-width="0.6"/><circle cx="587.58" cy="78.6" r="1.8" fill="#12a072" stroke="#4a4a4a" stroke-width="0.6"/><circle cx="588.73" cy="78.6" r="1.8" fill="#12a072" stroke="#4a4a4a" stroke-width="0.6"/><circle cx="589.89" cy="78.6" r="1.8" fill="#6a0dad" stroke="#4a4a4a" stroke-width="0.6"/><circle cx="591.04" cy="78.6" r="1.8" fill="#12a072" stroke="#4a4a4a" stroke-width="0.6"/><circle cx="592.2" cy="78.6" r="1.8" fill="#12a072" stroke="#4a4a4a" stroke-width="0.6"/><circle cx="593.36" cy="78.6" r="1.8" fill="#d400d4" stroke="#4a4a4a" stroke-width="0.6"/><circle cx="594.51" cy="78.6" r="1.8" fill="#d400d4" stroke="#4a4a4a" stroke-width="0.6"/><circle cx="595.67" cy="119.64" r="1.8" fill="#fff" stroke="#4a4a4a" stroke-width="0.6"/><circle cx="596.82" cy="119.92" r="1.8" fill="#fff" stroke="#4a4a4a" stroke-width="0.6"/><circle cx="597.98" cy="121.83" r="1.8" fill="#fff" stroke="#4a4a4a" stroke-width="0.6"/><circle cx="599.14" cy="121.27" r="1.8" fill="#fff" stroke="#4a4a4a" stroke-width="0.6"/><circle cx="600.29" cy="122.93" r="1.8" fill="#fff" stroke="#4a4a4a" stroke-width="0.6"/><circle cx="601.45" cy="122.83" r="1.8" fill="#fff" stroke="#4a4a4a" stroke-width="0.6"/><circle cx="602.6" cy="124.1" r="1.8" fill="#fff" stroke="#4a4a4a" stroke-width="0.6"/><circle cx="603.76" cy="124.58" r="1.8" fill="#fff" stroke="#4a4a4a" stroke-width="0.6"/><circle cx="604.92" cy="125.42" r="1.8" fill="#fff" stroke="#4a4a4a" stroke-width="0.6"/><circle cx="606.07" cy="125.88" r="1.8" fill="#fff" stroke="#4a4a4a" stroke-width="0.6"/><circle cx="607.23" cy="126.4" r="1.8" fill="#fff" stroke="#4a4a4a" stroke-width="0.6"/><circle cx="608.38" cy="126.68" r="1.8" fill="#fff" stroke="#4a4a4a" stroke-width="0.6"/><circle cx="609.54" cy="127.49" r="1.8" fill="#fff" stroke="#4a4a4a" stroke-width="0.6"/><circle cx="610.7" cy="127.54" r="1.8" fill="#fff" stroke="#4a4a4a" stroke-width="0.6"/><circle cx="611.85" cy="128.99" r="1.8" fill="#fff" stroke="#4a4a4a" stroke-width="0.6"/><circle cx="613.01" cy="128.84" r="1.8" fill="#fff" stroke="#4a4a4a" stroke-width="0.6"/><circle cx="614.16" cy="129.14" r="1.8" fill="#fff" stroke="#4a4a4a" stroke-width="0.6"/><circle cx="615.32" cy="129.66" r="1.8" fill="#fff" stroke="#4a4a4a" stroke-width="0.6"/><circle cx="616.48" cy="129.8" r="1.8" fill="#fff" stroke="#4a4a4a" stroke-width="0.6"/><circle cx="617.63" cy="129.97" r="1.8" fill="#fff" stroke="#4a4a4a" stroke-width="0.6"/><circle cx="618.79" cy="131.13" r="1.8" fill="#fff" stroke="#4a4a4a" stroke-width="0.6"/><circle cx="619.94" cy="130.94" r="1.8" fill="#fff" stroke="#4a4a4a" stroke-width="0.6"/><circle cx="621.1" cy="131.39" r="1.8" fill="#fff" stroke="#4a4a4a" stroke-width="0.6"/><circle cx="622.26" cy="132.19" r="1.8" fill="#fff" stroke="#4a4a4a" stroke-width="0.6"/><circle cx="623.41" cy="132.49" r="1.8" fill="#fff" stroke="#4a4a4a" stroke-width="0.6"/><circle cx="624.57" cy="132.53" r="1.8" fill="#fff" stroke="#4a4a4a" stroke-width="0.6"/><circle cx="625.72" cy="134.5" r="1.8" fill="#fff" stroke="#4a4a4a" stroke-width="0.6"/><circle cx="626.88" cy="134.1" r="1.8" fill="#fff" stroke="#4a4a4a" stroke-width="0.6"/><circle cx="628.04" cy="136.57" r="1.8" fill="#fff" stroke="#4a4a4a" stroke-width="0.6"/><circle cx="629.19" cy="136.37" r="1.8" fill="#fff" stroke="#4a4a4a" stroke-width="0.6"/><circle cx="630.35" cy="137.38" r="1.8" fill="#fff" stroke="#4a4a4a" stroke-width="0.6"/><circle cx="631.5" cy="137.82" r="1.8" fill="#fff" stroke="#4a4a4a" stroke-width="0.6"/><circle cx="632.66" cy="138.52" r="1.8" fill="#fff" stroke="#4a4a4a" stroke-width="0.6"/><circle cx="633.82" cy="138.84" r="1.8" fill="#fff" stroke="#4a4a4a" stroke-width="0.6"/><circle cx="634.97" cy="139.63" r="1.8" fill="#fff" stroke="#4a4a4a" stroke-width="0.6"/><circle cx="636.13" cy="139.71" r="1.8" fill="#fff" stroke="#4a4a4a" stroke-width="0.6"/><circle cx="637.28" cy="141.35" r="1.8" fill="#fff" stroke="#4a4a4a" stroke-width="0.6"/><circle cx="638.44" cy="140.92" r="1.8" fill="#fff" stroke="#4a4a4a" stroke-width="0.6"/><circle cx="639.6" cy="142.25" r="1.8" fill="#fff" stroke="#4a4a4a" stroke-width="0.6"/><circle cx="640.75" cy="142.52" r="1.8" fill="#fff" stroke="#4a4a4a" stroke-width="0.6"/><circle cx="641.91" cy="143.26" r="1.8" fill="#fff" stroke="#4a4a4a" stroke-width="0.6"/><circle cx="643.06" cy="143.24" r="1.8" fill="#fff" stroke="#4a4a4a" stroke-width="0.6"/><circle cx="645.38" cy="145.69" r="1.8" fill="#fff" stroke="#4a4a4a" stroke-width="0.6"/><circle cx="646.53" cy="145.97" r="1.8" fill="#fff" stroke="#4a4a4a" stroke-width="0.6"/><circle cx="647.69" cy="147.07" r="1.8" fill="#fff" stroke="#4a4a4a" stroke-width="0.6"/><circle cx="648.84" cy="148.72" r="1.8" fill="#fff" stroke="#4a4a4a" stroke-width="0.6"/><circle cx="650" cy="153.4" r="1.8" fill="#fff" stroke="#4a4a4a" stroke-width="0.6"/><circle cx="651.16" cy="153.78" r="1.8" fill="#fff" stroke="#4a4a4a" stroke-width="0.6"/><circle cx="652.31" cy="154.46" r="1.8" fill="#fff" stroke="#4a4a4a" stroke-width="0.6"/><circle cx="653.47" cy="155.79" r="1.8" fill="#fff" stroke="#4a4a4a" stroke-width="0.6"/><circle cx="654.62" cy="155.54" r="1.8" fill="#fff" stroke="#4a4a4a" stroke-width="0.6"/><circle cx="655.78" cy="156.74" r="1.8" fill="#fff" stroke="#4a4a4a" stroke-width="0.6"/><circle cx="656.94" cy="156.46" r="1.8" fill="#fff" stroke="#4a4a4a" stroke-width="0.6"/><circle cx="658.09" cy="157.65" r="1.8" fill="#fff" stroke="#4a4a4a" stroke-width="0.6"/><circle cx="659.25" cy="158.48" r="1.8" fill="#fff" stroke="#4a4a4a" stroke-width="0.6"/><circle cx="660.4" cy="159.14" r="1.8" fill="#fff" stroke="#4a4a4a" stroke-width="0.6"/><circle cx="661.56" cy="159.56" r="1.8" fill="#fff" stroke="#4a4a4a" stroke-width="0.6"/><circle cx="662.72" cy="160.66" r="1.8" fill="#fff" stroke="#4a4a4a" stroke-width="0.6"/><circle cx="663.87" cy="161.17" r="1.8" fill="#fff" stroke="#4a4a4a" stroke-width="0.6"/><circle cx="665.03" cy="162.59" r="1.8" fill="#fff" stroke="#4a4a4a" stroke-width="0.6"/><circle cx="666.18" cy="162.31" r="1.8" fill="#fff" stroke="#4a4a4a" stroke-width="0.6"/><circle cx="667.34" cy="164.21" r="1.8" fill="#fff" stroke="#4a4a4a" stroke-width="0.6"/><circle cx="668.5" cy="164.7" r="1.8" fill="#fff" stroke="#4a4a4a" stroke-width="0.6"/><circle cx="669.65" cy="167.41" r="1.8" fill="#fff" stroke="#4a4a4a" stroke-width="0.6"/><circle cx="670.81" cy="170.06" r="1.8" fill="#fff" stroke="#4a4a4a" stroke-width="0.6"/></g>
<circle cx="529.78" cy="22.1" r="1.9" fill="#0000ff"/>
<circle cx="644.22" cy="144.6" r="1.9" fill="#0000ff"/>
<line x1="278.9" y1="60.3" x2="443.5" y2="60.3" stroke="#ff0000" stroke-width="1.6" stroke-dasharray="4.2 3.05"/>
<line x1="278.9" y1="109.9" x2="443.5" y2="109.9" stroke="#ff0000" stroke-width="1.6" stroke-dasharray="4.2 3.05"/>
<line x1="505.9" y1="50.7" x2="670.5" y2="50.7" stroke="#0000ff" stroke-width="1.6" stroke-dasharray="4.2 3.05"/>
<line x1="505.9" y1="120.4" x2="670.5" y2="120.4" stroke="#0000ff" stroke-width="1.6" stroke-dasharray="4.2 3.05"/>
<text x="0.3" y="12.8" font-size="17" text-anchor="start" fill="#000" font-weight="bold" font-style="normal" >a</text>
<text x="228.4" y="12.9" font-size="17" text-anchor="start" fill="#000" font-weight="bold" font-style="normal" >b</text>
<text x="453.6" y="12.9" font-size="17" text-anchor="start" fill="#000" font-weight="bold" font-style="normal" >c</text>
<text x="-0.4" y="238.8" font-size="17" text-anchor="start" fill="#000" font-weight="bold" font-style="normal" >d</text>
<text x="20.3" y="99.0" font-size="13.4" font-style="italic" text-anchor="middle" transform="rotate(-90 20.3 99.0)" dominant-baseline="central">β</text>
<text x="240.0" y="98.3" font-size="13.4" font-style="italic" text-anchor="middle" transform="rotate(-90 240.0 98.3)" dominant-baseline="central">β</text>
<text x="467.0" y="98.3" font-size="13.4" font-style="italic" text-anchor="middle" transform="rotate(-90 467.0 98.3)" dominant-baseline="central">β</text>
<text x="136.7" y="214.8" font-size="13.4" text-anchor="middle" fill="#000" font-weight="normal" font-style="italic" >γ</text>
<text x="360.5" y="216.8" font-size="13.4" text-anchor="middle" fill="#000" font-weight="normal" font-style="italic" >n</text>
<text x="588.3" y="213.6" font-size="13.4" text-anchor="middle" fill="#000" font-weight="normal" font-style="italic" >n</text>
<text x="125.4" y="22" font-size="12.4" fill="#000" text-anchor="start"><tspan font-style="italic">γ</tspan>=1.0</text>
<text x="66.2" y="181.9" font-size="12.1" fill="#000" text-anchor="start"><tspan font-style="italic">γ</tspan>=0.6</text>
<text x="178" y="182.6" font-size="12.1" fill="#000" text-anchor="start"><tspan font-style="italic">γ</tspan>=1.6</text>
<text x="289.4" y="178.3" font-size="13.4" fill="#000" text-anchor="start"><tspan font-style="italic">γ</tspan>=0.6</text>
<text x="512.6" y="178.1" font-size="13.4" fill="#000" text-anchor="start"><tspan font-style="italic">γ</tspan>=1.6</text>
<text x="315" y="25.8" font-size="12.4" text-anchor="start" fill="#ff0000" font-weight="normal" font-style="normal" >22</text>
<text x="397.3" y="159.8" font-size="12.4" text-anchor="middle" fill="#ff0000" font-weight="normal" font-style="normal" >121</text>
<text x="300.4" y="75.3" font-size="12.4" text-anchor="start" fill="#7f00ff" font-weight="normal" font-style="normal" >67~69</text>
<text x="382.1" y="97.7" font-size="12.4" text-anchor="start" fill="#1ec88c" font-weight="normal" font-style="normal" >70~78</text>
<text x="543.2" y="20.2" font-size="12.4" text-anchor="start" fill="#0000ff" font-weight="normal" font-style="normal" >22</text>
<text x="629" y="165" font-size="12.4" text-anchor="middle" fill="#0000ff" font-weight="normal" font-style="normal" >121</text>
<text x="516.3" y="67.1" font-size="12.2" text-anchor="start" fill="#7f00ff" font-weight="normal" font-style="normal" >67~68,74</text>
<text x="607.2" y="70.8" font-size="12.2" text-anchor="start" fill="#ff00ff" font-weight="normal" font-style="normal" >69,77~78</text>
<text x="546.8" y="105.1" font-size="12.1" text-anchor="start" fill="#1ec88c" font-weight="normal" font-style="normal" >70~73,75~76</text>
<line x1="313.8" y1="23.2" x2="303.8" y2="27.6" stroke="#ff0000" stroke-width="1.3"/>
<path d="M306.76,23.57L303.8,27.6L308.77,28.14" fill="none" stroke="#ff0000" stroke-width="1.3" stroke-linejoin="miter"/>
<line x1="403" y1="147.8" x2="415" y2="139.9" stroke="#ff0000" stroke-width="1.3"/>
<path d="M412.76,144.37L415,139.9L410.01,140.19" fill="none" stroke="#ff0000" stroke-width="1.3" stroke-linejoin="miter"/>
<line x1="338" y1="72.9" x2="351.5" y2="75.3" stroke="#7f00ff" stroke-width="1.3"/>
<path d="M346.8,77L351.5,75.3L347.67,72.08" fill="none" stroke="#7f00ff" stroke-width="1.3" stroke-linejoin="miter"/>
<line x1="379.5" y1="90.4" x2="370.2" y2="82.8" stroke="#1ec88c" stroke-width="1.3"/>
<path d="M375.13,83.6L370.2,82.8L371.97,87.48" fill="none" stroke="#1ec88c" stroke-width="1.3" stroke-linejoin="miter"/>
<line x1="541.9" y1="15.9" x2="531.1" y2="20.5" stroke="#0000ff" stroke-width="1.3"/>
<path d="M534.1,16.5L531.1,20.5L536.06,21.1" fill="none" stroke="#0000ff" stroke-width="1.3" stroke-linejoin="miter"/>
<line x1="632" y1="154" x2="643" y2="146" stroke="#0000ff" stroke-width="1.3"/>
<path d="M640.97,150.57L643,146L638.03,146.53" fill="none" stroke="#0000ff" stroke-width="1.3" stroke-linejoin="miter"/>
<line x1="566.2" y1="67.1" x2="580" y2="76" stroke="#7f00ff" stroke-width="1.3"/>
<path d="M575.01,75.75L580,76L577.72,71.55" fill="none" stroke="#7f00ff" stroke-width="1.3" stroke-linejoin="miter"/>
<line x1="606.8" y1="70.3" x2="597.9" y2="76.4" stroke="#ff00ff" stroke-width="1.3"/>
<path d="M600.06,71.89L597.9,76.4L602.89,76.01" fill="none" stroke="#ff00ff" stroke-width="1.3" stroke-linejoin="miter"/>
<line x1="584.3" y1="93.4" x2="587" y2="82.3" stroke="#1ec88c" stroke-width="1.3"/>
<path d="M588.41,87.1L587,82.3L583.55,85.92" fill="none" stroke="#1ec88c" stroke-width="1.3" stroke-linejoin="miter"/>
<defs><linearGradient id="gB" x1="0" y1="0" x2="0" y2="1">
<stop offset="0" stop-color="#a00000"/><stop offset="0.2" stop-color="#e00000"/><stop offset="0.3" stop-color="#ff8000"/><stop offset="0.36" stop-color="#f8f000"/><stop offset="0.48" stop-color="#70f070"/><stop offset="0.62" stop-color="#10e0e0"/><stop offset="0.8" stop-color="#0898e8"/><stop offset="1" stop-color="#1050f0"/></linearGradient><linearGradient id="gG" x1="0" y1="0" x2="0" y2="1">
<stop offset="0" stop-color="#900000"/><stop offset="0.12" stop-color="#d01800"/><stop offset="0.3" stop-color="#f08000"/><stop offset="0.5" stop-color="#f0d000"/><stop offset="0.8" stop-color="#f0f020"/><stop offset="1" stop-color="#e0ff80"/></linearGradient><linearGradient id="gD" x1="0" y1="0" x2="0" y2="1">
<stop offset="0" stop-color="#203070"/><stop offset="1" stop-color="#000050"/></linearGradient><radialGradient id="glowB"><stop offset="0" stop-color="#e0f0ff" stop-opacity="0.95"/><stop offset="0.5" stop-color="#60c0ff" stop-opacity="0.5"/><stop offset="1" stop-color="#60c0ff" stop-opacity="0"/></radialGradient><radialGradient id="glowG"><stop offset="0" stop-color="#ffffe0" stop-opacity="0.95"/><stop offset="0.5" stop-color="#d0ff80" stop-opacity="0.5"/><stop offset="1" stop-color="#d0ff80" stop-opacity="0"/></radialGradient><radialGradient id="bump"><stop offset="0" stop-color="#f4ffd0" stop-opacity="0.95"/><stop offset="0.45" stop-color="#b8f080" stop-opacity="0.7"/><stop offset="1" stop-color="#90d060" stop-opacity="0"/></radialGradient><radialGradient id="teal"><stop offset="0" stop-color="#c0fff0" stop-opacity="0.95"/><stop offset="0.5" stop-color="#40c8b0" stop-opacity="0.85"/><stop offset="1" stop-color="#30a090" stop-opacity="0"/></radialGradient><radialGradient id="glint"><stop offset="0" stop-color="#ffffff" stop-opacity="1"/><stop offset="0.4" stop-color="#f0fff0" stop-opacity="0.8"/><stop offset="1" stop-color="#e0ffe0" stop-opacity="0"/></radialGradient><radialGradient id="dkg"><stop offset="0" stop-color="#2a7a3a" stop-opacity="0.9"/><stop offset="1" stop-color="#2a7a3a" stop-opacity="0"/></radialGradient><radialGradient id="bumpB"><stop offset="0" stop-color="#e0f8ff" stop-opacity="0.9"/><stop offset="0.45" stop-color="#40b0ff" stop-opacity="0.6"/><stop offset="1" stop-color="#2080ff" stop-opacity="0"/></radialGradient><clipPath id="cp0"><polygon points="93.8,278.21 153.59,319.2 93.8,366.05 34.01,319.2"/></clipPath><linearGradient id="sg0_0" gradientUnits="userSpaceOnUse" x1="0" y1="280" x2="0" y2="337.4"><stop offset="0" stop-color="#a00000"/><stop offset="0.2" stop-color="#e00000"/><stop offset="0.3" stop-color="#ff8000"/><stop offset="0.36" stop-color="#f8f000"/><stop offset="0.48" stop-color="#70f070"/><stop offset="0.62" stop-color="#10e0e0"/><stop offset="0.8" stop-color="#0898e8"/><stop offset="1" stop-color="#1050f0"/></linearGradient><clipPath id="cp1"><polygon points="225.4,255.12 287.05,296.08 225.4,342.16 163.75,296.08"/></clipPath><linearGradient id="sg1_0" gradientUnits="userSpaceOnUse" x1="0" y1="269.8" x2="0" y2="303.4"><stop offset="0" stop-color="#900000"/><stop offset="0.12" stop-color="#d01800"/><stop offset="0.3" stop-color="#f08000"/><stop offset="0.5" stop-color="#f0d000"/><stop offset="0.8" stop-color="#f0f020"/><stop offset="1" stop-color="#e0ff80"/></linearGradient><linearGradient id="sg1_1" gradientUnits="userSpaceOnUse" x1="0" y1="273.4" x2="0" y2="307"><stop offset="0" stop-color="#900000"/><stop offset="0.12" stop-color="#d01800"/><stop offset="0.3" stop-color="#f08000"/><stop offset="0.5" stop-color="#f0d000"/><stop offset="0.8" stop-color="#f0f020"/><stop offset="1" stop-color="#e0ff80"/></linearGradient><linearGradient id="sg1_2" gradientUnits="userSpaceOnUse" x1="0" y1="276.4" x2="0" y2="310"><stop offset="0" stop-color="#900000"/><stop offset="0.12" stop-color="#d01800"/><stop offset="0.3" stop-color="#f08000"/><stop offset="0.5" stop-color="#f0d000"/><stop offset="0.8" stop-color="#f0f020"/><stop offset="1" stop-color="#e0ff80"/></linearGradient><linearGradient id="sg1_3" gradientUnits="userSpaceOnUse" x1="0" y1="246.4" x2="0" y2="280"><stop offset="0" stop-color="#900000"/><stop offset="0.12" stop-color="#d01800"/><stop offset="0.3" stop-color="#f08000"/><stop offset="0.5" stop-color="#f0d000"/><stop offset="0.8" stop-color="#f0f020"/><stop offset="1" stop-color="#e0ff80"/></linearGradient><linearGradient id="sg1_4" gradientUnits="userSpaceOnUse" x1="0" y1="253" x2="0" y2="286.6"><stop offset="0" stop-color="#900000"/><stop offset="0.12" stop-color="#d01800"/><stop offset="0.3" stop-color="#f08000"/><stop offset="0.5" stop-color="#f0d000"/><stop offset="0.8" stop-color="#f0f020"/><stop offset="1" stop-color="#e0ff80"/></linearGradient><linearGradient id="sg1_5" gradientUnits="userSpaceOnUse" x1="0" y1="269.8" x2="0" y2="303.4"><stop offset="0" stop-color="#900000"/><stop offset="0.12" stop-color="#d01800"/><stop offset="0.3" stop-color="#f08000"/><stop offset="0.5" stop-color="#f0d000"/><stop offset="0.8" stop-color="#f0f020"/><stop offset="1" stop-color="#e0ff80"/></linearGradient><clipPath id="cp2"><polygon points="357,268.03 417.61,309.01 357,355.51 296.39,309.01"/></clipPath><linearGradient id="sg2_0" gradientUnits="userSpaceOnUse" x1="0" y1="274.3" x2="0" y2="326"><stop offset="0" stop-color="#a00000"/><stop offset="0.2" stop-color="#e00000"/><stop offset="0.3" stop-color="#ff8000"/><stop offset="0.36" stop-color="#f8f000"/><stop offset="0.48" stop-color="#70f070"/><stop offset="0.62" stop-color="#10e0e0"/><stop offset="0.8" stop-color="#0898e8"/><stop offset="1" stop-color="#1050f0"/></linearGradient><linearGradient id="sg2_1" gradientUnits="userSpaceOnUse" x1="0" y1="274.3" x2="0" y2="326"><stop offset="0" stop-color="#a00000"/><stop offset="0.2" stop-color="#e00000"/><stop offset="0.3" stop-color="#ff8000"/><stop offset="0.36" stop-color="#f8f000"/><stop offset="0.48" stop-color="#70f070"/><stop offset="0.62" stop-color="#10e0e0"/><stop offset="0.8" stop-color="#0898e8"/><stop offset="1" stop-color="#1050f0"/></linearGradient><clipPath id="cp3"><polygon points="488.45,255.12 550.1,296.08 488.45,342.16 426.8,296.08"/></clipPath><linearGradient id="sg3_0" gradientUnits="userSpaceOnUse" x1="0" y1="278.3" x2="0" y2="312.8"><stop offset="0" stop-color="#900000"/><stop offset="0.12" stop-color="#d01800"/><stop offset="0.3" stop-color="#f08000"/><stop offset="0.5" stop-color="#f0d000"/><stop offset="0.8" stop-color="#f0f020"/><stop offset="1" stop-color="#e0ff80"/></linearGradient><linearGradient id="sg3_1" gradientUnits="userSpaceOnUse" x1="0" y1="274.5" x2="0" y2="309"><stop offset="0" stop-color="#900000"/><stop offset="0.12" stop-color="#d01800"/><stop offset="0.3" stop-color="#f08000"/><stop offset="0.5" stop-color="#f0d000"/><stop offset="0.8" stop-color="#f0f020"/><stop offset="1" stop-color="#e0ff80"/></linearGradient><linearGradient id="sg3_2" gradientUnits="userSpaceOnUse" x1="0" y1="258.4" x2="0" y2="292.9"><stop offset="0" stop-color="#900000"/><stop offset="0.12" stop-color="#d01800"/><stop offset="0.3" stop-color="#f08000"/><stop offset="0.5" stop-color="#f0d000"/><stop offset="0.8" stop-color="#f0f020"/><stop offset="1" stop-color="#e0ff80"/></linearGradient><linearGradient id="sg3_3" gradientUnits="userSpaceOnUse" x1="0" y1="274.5" x2="0" y2="309"><stop offset="0" stop-color="#900000"/><stop offset="0.12" stop-color="#d01800"/><stop offset="0.3" stop-color="#f08000"/><stop offset="0.5" stop-color="#f0d000"/><stop offset="0.8" stop-color="#f0f020"/><stop offset="1" stop-color="#e0ff80"/></linearGradient><linearGradient id="sg3_4" gradientUnits="userSpaceOnUse" x1="0" y1="270.6" x2="0" y2="305.1"><stop offset="0" stop-color="#900000"/><stop offset="0.12" stop-color="#d01800"/><stop offset="0.3" stop-color="#f08000"/><stop offset="0.5" stop-color="#f0d000"/><stop offset="0.8" stop-color="#f0f020"/><stop offset="1" stop-color="#e0ff80"/></linearGradient><clipPath id="cp4"><polygon points="620.2,273.55 680.36,314.53 620.2,361.22 560.04,314.53"/></clipPath><linearGradient id="sg4_0" gradientUnits="userSpaceOnUse" x1="0" y1="251.4" x2="0" y2="302.9"><stop offset="0" stop-color="#a00000"/><stop offset="0.2" stop-color="#e00000"/><stop offset="0.3" stop-color="#ff8000"/><stop offset="0.36" stop-color="#f8f000"/><stop offset="0.48" stop-color="#70f070"/><stop offset="0.62" stop-color="#10e0e0"/><stop offset="0.8" stop-color="#0898e8"/><stop offset="1" stop-color="#1050f0"/></linearGradient><linearGradient id="sg4_1" gradientUnits="userSpaceOnUse" x1="0" y1="244.7" x2="0" y2="296.2"><stop offset="0" stop-color="#a00000"/><stop offset="0.2" stop-color="#e00000"/><stop offset="0.3" stop-color="#ff8000"/><stop offset="0.36" stop-color="#f8f000"/><stop offset="0.48" stop-color="#70f070"/><stop offset="0.62" stop-color="#10e0e0"/><stop offset="0.8" stop-color="#0898e8"/><stop offset="1" stop-color="#1050f0"/></linearGradient><clipPath id="cp5"><polygon points="159.1,405.42 220.8,446.37 159.1,492.43 97.4,446.37"/></clipPath><linearGradient id="sg5_0" gradientUnits="userSpaceOnUse" x1="0" y1="417.8" x2="0" y2="452"><stop offset="0" stop-color="#900000"/><stop offset="0.12" stop-color="#d01800"/><stop offset="0.3" stop-color="#f08000"/><stop offset="0.5" stop-color="#f0d000"/><stop offset="0.8" stop-color="#f0f020"/><stop offset="1" stop-color="#e0ff80"/></linearGradient><linearGradient id="sg5_1" gradientUnits="userSpaceOnUse" x1="0" y1="419.4" x2="0" y2="453.6"><stop offset="0" stop-color="#900000"/><stop offset="0.12" stop-color="#d01800"/><stop offset="0.3" stop-color="#f08000"/><stop offset="0.5" stop-color="#f0d000"/><stop offset="0.8" stop-color="#f0f020"/><stop offset="1" stop-color="#e0ff80"/></linearGradient><linearGradient id="sg5_2" gradientUnits="userSpaceOnUse" x1="0" y1="418.8" x2="0" y2="453"><stop offset="0" stop-color="#900000"/><stop offset="0.12" stop-color="#d01800"/><stop offset="0.3" stop-color="#f08000"/><stop offset="0.5" stop-color="#f0d000"/><stop offset="0.8" stop-color="#f0f020"/><stop offset="1" stop-color="#e0ff80"/></linearGradient><linearGradient id="sg5_3" gradientUnits="userSpaceOnUse" x1="0" y1="417.8" x2="0" y2="452"><stop offset="0" stop-color="#900000"/><stop offset="0.12" stop-color="#d01800"/><stop offset="0.3" stop-color="#f08000"/><stop offset="0.5" stop-color="#f0d000"/><stop offset="0.8" stop-color="#f0f020"/><stop offset="1" stop-color="#e0ff80"/></linearGradient><linearGradient id="sg5_4" gradientUnits="userSpaceOnUse" x1="0" y1="406" x2="0" y2="440.2"><stop offset="0" stop-color="#900000"/><stop offset="0.12" stop-color="#d01800"/><stop offset="0.3" stop-color="#f08000"/><stop offset="0.5" stop-color="#f0d000"/><stop offset="0.8" stop-color="#f0f020"/><stop offset="1" stop-color="#e0ff80"/></linearGradient><linearGradient id="sg5_5" gradientUnits="userSpaceOnUse" x1="0" y1="405.8" x2="0" y2="440"><stop offset="0" stop-color="#900000"/><stop offset="0.12" stop-color="#d01800"/><stop offset="0.3" stop-color="#f08000"/><stop offset="0.5" stop-color="#f0d000"/><stop offset="0.8" stop-color="#f0f020"/><stop offset="1" stop-color="#e0ff80"/></linearGradient><linearGradient id="sg5_6" gradientUnits="userSpaceOnUse" x1="0" y1="419.4" x2="0" y2="453.6"><stop offset="0" stop-color="#900000"/><stop offset="0.12" stop-color="#d01800"/><stop offset="0.3" stop-color="#f08000"/><stop offset="0.5" stop-color="#f0d000"/><stop offset="0.8" stop-color="#f0f020"/><stop offset="1" stop-color="#e0ff80"/></linearGradient><clipPath id="cp6"><polygon points="291,405.42 352.7,446.37 291,492.43 229.3,446.37"/></clipPath><linearGradient id="sg6_0" gradientUnits="userSpaceOnUse" x1="0" y1="421.5" x2="0" y2="452.3"><stop offset="0" stop-color="#900000"/><stop offset="0.12" stop-color="#d01800"/><stop offset="0.3" stop-color="#f08000"/><stop offset="0.5" stop-color="#f0d000"/><stop offset="0.8" stop-color="#f0f020"/><stop offset="1" stop-color="#e0ff80"/></linearGradient><linearGradient id="sg6_1" gradientUnits="userSpaceOnUse" x1="0" y1="423" x2="0" y2="453.8"><stop offset="0" stop-color="#900000"/><stop offset="0.12" stop-color="#d01800"/><stop offset="0.3" stop-color="#f08000"/><stop offset="0.5" stop-color="#f0d000"/><stop offset="0.8" stop-color="#f0f020"/><stop offset="1" stop-color="#e0ff80"/></linearGradient><linearGradient id="sg6_2" gradientUnits="userSpaceOnUse" x1="0" y1="425.8" x2="0" y2="456.6"><stop offset="0" stop-color="#900000"/><stop offset="0.12" stop-color="#d01800"/><stop offset="0.3" stop-color="#f08000"/><stop offset="0.5" stop-color="#f0d000"/><stop offset="0.8" stop-color="#f0f020"/><stop offset="1" stop-color="#e0ff80"/></linearGradient><linearGradient id="sg6_3" gradientUnits="userSpaceOnUse" x1="0" y1="426.5" x2="0" y2="457.3"><stop offset="0" stop-color="#900000"/><stop offset="0.12" stop-color="#d01800"/><stop offset="0.3" stop-color="#f08000"/><stop offset="0.5" stop-color="#f0d000"/><stop offset="0.8" stop-color="#f0f020"/><stop offset="1" stop-color="#e0ff80"/></linearGradient><linearGradient id="sg6_4" gradientUnits="userSpaceOnUse" x1="0" y1="395" x2="0" y2="425.8"><stop offset="0" stop-color="#900000"/><stop offset="0.12" stop-color="#d01800"/><stop offset="0.3" stop-color="#f08000"/><stop offset="0.5" stop-color="#f0d000"/><stop offset="0.8" stop-color="#f0f020"/><stop offset="1" stop-color="#e0ff80"/></linearGradient><linearGradient id="sg6_5" gradientUnits="userSpaceOnUse" x1="0" y1="405.8" x2="0" y2="436.6"><stop offset="0" stop-color="#900000"/><stop offset="0.12" stop-color="#d01800"/><stop offset="0.3" stop-color="#f08000"/><stop offset="0.5" stop-color="#f0d000"/><stop offset="0.8" stop-color="#f0f020"/><stop offset="1" stop-color="#e0ff80"/></linearGradient><linearGradient id="sg6_6" gradientUnits="userSpaceOnUse" x1="0" y1="406.2" x2="0" y2="437"><stop offset="0" stop-color="#900000"/><stop offset="0.12" stop-color="#d01800"/><stop offset="0.3" stop-color="#f08000"/><stop offset="0.5" stop-color="#f0d000"/><stop offset="0.8" stop-color="#f0f020"/><stop offset="1" stop-color="#e0ff80"/></linearGradient><linearGradient id="sg6_7" gradientUnits="userSpaceOnUse" x1="0" y1="421.5" x2="0" y2="452.3"><stop offset="0" stop-color="#900000"/><stop offset="0.12" stop-color="#d01800"/><stop offset="0.3" stop-color="#f08000"/><stop offset="0.5" stop-color="#f0d000"/><stop offset="0.8" stop-color="#f0f020"/><stop offset="1" stop-color="#e0ff80"/></linearGradient><linearGradient id="sg6_8" gradientUnits="userSpaceOnUse" x1="0" y1="429.2" x2="0" y2="460"><stop offset="0" stop-color="#900000"/><stop offset="0.12" stop-color="#d01800"/><stop offset="0.3" stop-color="#f08000"/><stop offset="0.5" stop-color="#f0d000"/><stop offset="0.8" stop-color="#f0f020"/><stop offset="1" stop-color="#e0ff80"/></linearGradient><linearGradient id="sg6_9" gradientUnits="userSpaceOnUse" x1="0" y1="431.2" x2="0" y2="462"><stop offset="0" stop-color="#900000"/><stop offset="0.12" stop-color="#d01800"/><stop offset="0.3" stop-color="#f08000"/><stop offset="0.5" stop-color="#f0d000"/><stop offset="0.8" stop-color="#f0f020"/><stop offset="1" stop-color="#e0ff80"/></linearGradient><clipPath id="cp7"><polygon points="422.45,422.39 482.78,463.37 422.45,509.99 362.12,463.37"/></clipPath><linearGradient id="sg7_0" gradientUnits="userSpaceOnUse" x1="0" y1="428" x2="0" y2="477"><stop offset="0" stop-color="#a00000"/><stop offset="0.2" stop-color="#e00000"/><stop offset="0.3" stop-color="#ff8000"/><stop offset="0.36" stop-color="#f8f000"/><stop offset="0.48" stop-color="#70f070"/><stop offset="0.62" stop-color="#10e0e0"/><stop offset="0.8" stop-color="#0898e8"/><stop offset="1" stop-color="#1050f0"/></linearGradient><linearGradient id="sg7_1" gradientUnits="userSpaceOnUse" x1="0" y1="427" x2="0" y2="476"><stop offset="0" stop-color="#a00000"/><stop offset="0.2" stop-color="#e00000"/><stop offset="0.3" stop-color="#ff8000"/><stop offset="0.36" stop-color="#f8f000"/><stop offset="0.48" stop-color="#70f070"/><stop offset="0.62" stop-color="#10e0e0"/><stop offset="0.8" stop-color="#0898e8"/><stop offset="1" stop-color="#1050f0"/></linearGradient><linearGradient id="sg7_2" gradientUnits="userSpaceOnUse" x1="0" y1="428" x2="0" y2="477"><stop offset="0" stop-color="#a00000"/><stop offset="0.2" stop-color="#e00000"/><stop offset="0.3" stop-color="#ff8000"/><stop offset="0.36" stop-color="#f8f000"/><stop offset="0.48" stop-color="#70f070"/><stop offset="0.62" stop-color="#10e0e0"/><stop offset="0.8" stop-color="#0898e8"/><stop offset="1" stop-color="#1050f0"/></linearGradient><clipPath id="cp8"><polygon points="554.2,406.27 615.83,447.22 554.2,493.31 492.57,447.22"/></clipPath><linearGradient id="sg8_0" gradientUnits="userSpaceOnUse" x1="0" y1="427.9" x2="0" y2="464.5"><stop offset="0" stop-color="#900000"/><stop offset="0.12" stop-color="#d01800"/><stop offset="0.3" stop-color="#f08000"/><stop offset="0.5" stop-color="#f0d000"/><stop offset="0.8" stop-color="#f0f020"/><stop offset="1" stop-color="#e0ff80"/></linearGradient></defs>
<g><path d="M93.8,222.4L29.5,263.3M93.8,222.4L158.1,263.3M29.5,263.3L93.8,308.3M158.1,263.3L93.8,308.3M93.8,283L34.4,324M93.8,283L153.2,324M34.4,324L93.8,371M153.2,324L93.8,371M93.8,222.4L93.8,283M29.5,263.3L34.4,324M158.1,263.3L153.2,324M93.8,308.3L93.8,371" stroke="rgba(0,0,0,0.17)" stroke-width="0.75" fill="none"/><polygon points="93.8,278.21 153.59,319.2 93.8,366.05 34.01,319.2" fill="#000096"/><path d="M29.5,263.3L93.8,308.3L158.1,263.3M93.8,308.3L93.8,366.05" clip-path="url(#cp0)" stroke="rgba(0,0,0,0.17)" stroke-width="0.75" fill="none"/><path d="M55,326.02L48.76,324.57L47.09,319.91L51.65,316.73L57.89,318.15L59.56,322.78ZM66.02,324.14L59.78,322.74L58.11,318.11L62.68,314.9L68.92,316.26L70.59,320.87ZM68.98,316.1L62.74,314.74L61.07,310.17L65.63,306.99L71.87,308.32L73.54,312.86ZM74.09,330.28L67.85,328.92L66.18,324.26L70.75,320.99L76.99,322.32L78.66,326.95ZM77.05,322.16L70.81,320.83L69.14,316.23L73.7,312.98L79.94,314.29L81.61,318.86ZM80,314.13L73.76,312.83L72.09,308.28L76.66,305.07L82.9,306.34L84.57,310.86ZM82.95,306.19L76.72,304.92L75.04,300.44L79.61,297.25L85.85,298.5L87.52,302.95ZM85.12,328.21L78.88,326.91L77.21,322.28L81.77,318.98L88.01,320.25L89.68,324.85ZM88.07,320.09L81.83,318.82L80.16,314.25L84.73,310.97L90.97,312.22L92.64,316.76ZM91.03,312.06L84.79,310.82L83.12,306.3L87.68,303.06L93.92,304.27L95.59,308.76ZM93.98,304.12L87.74,302.91L86.07,298.46L90.64,295.24L96.88,296.43L98.55,300.85ZM96.93,296.27L90.7,295.09L89.02,290.7L93.59,287.52L99.83,288.67L101.5,293.03ZM93.19,334.27L86.95,333L85.28,328.33L89.85,324.97L96.08,326.21L97.76,330.85ZM96.14,326.05L89.9,324.81L88.23,320.21L92.8,316.88L99.04,318.09L100.71,322.66ZM99.1,317.93L92.86,316.71L91.19,312.17L95.75,308.87L101.99,310.05L103.66,314.57ZM102.05,309.89L95.81,308.71L94.14,304.23L98.71,300.96L104.95,302.11L106.62,306.56ZM104.21,332.01L97.98,330.8L96.3,326.17L100.87,322.78L107.11,323.96L108.78,328.56ZM107.17,323.79L100.93,322.61L99.26,318.04L103.83,314.68L110.06,315.83L111.74,320.37ZM112.29,337.97L106.05,336.79L104.38,332.13L108.94,328.68L115.18,329.83L116.85,334.46Z" fill="none" stroke="rgba(240,240,255,0.42)" stroke-width="0.55"/><g fill="#ee1111"><ellipse cx="55.65" cy="323.15" rx="0.85" ry="0.65"/><ellipse cx="52.47" cy="323.68" rx="0.85" ry="0.65"/><ellipse cx="50.14" cy="321.88" rx="0.85" ry="0.65"/><ellipse cx="50.99" cy="319.57" rx="0.85" ry="0.65"/><ellipse cx="54.18" cy="319.05" rx="0.85" ry="0.65"/><ellipse cx="56.51" cy="320.83" rx="0.85" ry="0.65"/><ellipse cx="66.68" cy="321.27" rx="0.85" ry="0.65"/><ellipse cx="63.5" cy="321.82" rx="0.85" ry="0.65"/><ellipse cx="61.17" cy="320.05" rx="0.85" ry="0.65"/><ellipse cx="62.02" cy="317.74" rx="0.85" ry="0.65"/><ellipse cx="65.2" cy="317.19" rx="0.85" ry="0.65"/><ellipse cx="67.53" cy="318.95" rx="0.85" ry="0.65"/><ellipse cx="69.63" cy="313.27" rx="0.85" ry="0.65"/><ellipse cx="66.45" cy="313.82" rx="0.85" ry="0.65"/><ellipse cx="64.12" cy="312.08" rx="0.85" ry="0.65"/><ellipse cx="64.97" cy="309.79" rx="0.85" ry="0.65"/><ellipse cx="68.16" cy="309.25" rx="0.85" ry="0.65"/><ellipse cx="70.49" cy="310.98" rx="0.85" ry="0.65"/><ellipse cx="74.75" cy="327.39" rx="0.85" ry="0.65"/><ellipse cx="71.57" cy="327.97" rx="0.85" ry="0.65"/><ellipse cx="69.24" cy="326.19" rx="0.85" ry="0.65"/><ellipse cx="70.09" cy="323.85" rx="0.85" ry="0.65"/><ellipse cx="73.27" cy="323.28" rx="0.85" ry="0.65"/><ellipse cx="75.6" cy="325.04" rx="0.85" ry="0.65"/><ellipse cx="77.7" cy="319.3" rx="0.85" ry="0.65"/><ellipse cx="74.52" cy="319.87" rx="0.85" ry="0.65"/><ellipse cx="72.19" cy="318.13" rx="0.85" ry="0.65"/><ellipse cx="73.04" cy="315.82" rx="0.85" ry="0.65"/><ellipse cx="76.23" cy="315.25" rx="0.85" ry="0.65"/><ellipse cx="78.56" cy="316.98" rx="0.85" ry="0.65"/><ellipse cx="80.66" cy="311.3" rx="0.85" ry="0.65"/><ellipse cx="77.48" cy="311.88" rx="0.85" ry="0.65"/><ellipse cx="75.15" cy="310.16" rx="0.85" ry="0.65"/><ellipse cx="76" cy="307.87" rx="0.85" ry="0.65"/><ellipse cx="79.18" cy="307.3" rx="0.85" ry="0.65"/><ellipse cx="81.51" cy="309.01" rx="0.85" ry="0.65"/><ellipse cx="83.61" cy="303.39" rx="0.85" ry="0.65"/><ellipse cx="80.43" cy="303.97" rx="0.85" ry="0.65"/><ellipse cx="78.1" cy="302.28" rx="0.85" ry="0.65"/><ellipse cx="78.95" cy="300.02" rx="0.85" ry="0.65"/><ellipse cx="82.14" cy="299.45" rx="0.85" ry="0.65"/><ellipse cx="84.47" cy="301.13" rx="0.85" ry="0.65"/><ellipse cx="85.78" cy="325.32" rx="0.85" ry="0.65"/><ellipse cx="82.59" cy="325.93" rx="0.85" ry="0.65"/><ellipse cx="80.26" cy="324.18" rx="0.85" ry="0.65"/><ellipse cx="81.12" cy="321.84" rx="0.85" ry="0.65"/><ellipse cx="84.3" cy="321.24" rx="0.85" ry="0.65"/><ellipse cx="86.63" cy="322.97" rx="0.85" ry="0.65"/><ellipse cx="88.73" cy="317.23" rx="0.85" ry="0.65"/><ellipse cx="85.55" cy="317.83" rx="0.85" ry="0.65"/><ellipse cx="83.22" cy="316.11" rx="0.85" ry="0.65"/><ellipse cx="84.07" cy="313.8" rx="0.85" ry="0.65"/><ellipse cx="87.25" cy="313.21" rx="0.85" ry="0.65"/><ellipse cx="89.58" cy="314.91" rx="0.85" ry="0.65"/><ellipse cx="91.68" cy="309.23" rx="0.85" ry="0.65"/><ellipse cx="88.5" cy="309.84" rx="0.85" ry="0.65"/><ellipse cx="86.17" cy="308.14" rx="0.85" ry="0.65"/><ellipse cx="87.02" cy="305.86" rx="0.85" ry="0.65"/><ellipse cx="90.21" cy="305.26" rx="0.85" ry="0.65"/><ellipse cx="92.54" cy="306.94" rx="0.85" ry="0.65"/><ellipse cx="94.64" cy="301.32" rx="0.85" ry="0.65"/><ellipse cx="91.46" cy="301.93" rx="0.85" ry="0.65"/><ellipse cx="89.13" cy="300.26" rx="0.85" ry="0.65"/><ellipse cx="89.98" cy="298.01" rx="0.85" ry="0.65"/><ellipse cx="93.16" cy="297.41" rx="0.85" ry="0.65"/><ellipse cx="95.49" cy="299.06" rx="0.85" ry="0.65"/><ellipse cx="97.59" cy="293.51" rx="0.85" ry="0.65"/><ellipse cx="94.41" cy="294.12" rx="0.85" ry="0.65"/><ellipse cx="92.08" cy="292.48" rx="0.85" ry="0.65"/><ellipse cx="92.93" cy="290.25" rx="0.85" ry="0.65"/><ellipse cx="96.12" cy="289.65" rx="0.85" ry="0.65"/><ellipse cx="98.45" cy="291.27" rx="0.85" ry="0.65"/><ellipse cx="93.85" cy="331.34" rx="0.85" ry="0.65"/><ellipse cx="90.66" cy="331.98" rx="0.85" ry="0.65"/><ellipse cx="88.33" cy="330.23" rx="0.85" ry="0.65"/><ellipse cx="89.19" cy="327.87" rx="0.85" ry="0.65"/><ellipse cx="92.37" cy="327.24" rx="0.85" ry="0.65"/><ellipse cx="94.7" cy="328.97" rx="0.85" ry="0.65"/><ellipse cx="96.8" cy="323.16" rx="0.85" ry="0.65"/><ellipse cx="93.62" cy="323.79" rx="0.85" ry="0.65"/><ellipse cx="91.29" cy="322.07" rx="0.85" ry="0.65"/><ellipse cx="92.14" cy="319.74" rx="0.85" ry="0.65"/><ellipse cx="95.32" cy="319.11" rx="0.85" ry="0.65"/><ellipse cx="97.65" cy="320.82" rx="0.85" ry="0.65"/><ellipse cx="99.76" cy="315.07" rx="0.85" ry="0.65"/><ellipse cx="96.57" cy="315.7" rx="0.85" ry="0.65"/><ellipse cx="94.24" cy="314.01" rx="0.85" ry="0.65"/><ellipse cx="95.1" cy="311.7" rx="0.85" ry="0.65"/><ellipse cx="98.28" cy="311.07" rx="0.85" ry="0.65"/><ellipse cx="100.61" cy="312.75" rx="0.85" ry="0.65"/><ellipse cx="102.71" cy="307.07" rx="0.85" ry="0.65"/><ellipse cx="99.53" cy="307.7" rx="0.85" ry="0.65"/><ellipse cx="97.2" cy="306.04" rx="0.85" ry="0.65"/><ellipse cx="98.05" cy="303.75" rx="0.85" ry="0.65"/><ellipse cx="101.23" cy="303.13" rx="0.85" ry="0.65"/><ellipse cx="103.56" cy="304.78" rx="0.85" ry="0.65"/><ellipse cx="104.87" cy="329.09" rx="0.85" ry="0.65"/><ellipse cx="101.69" cy="329.75" rx="0.85" ry="0.65"/><ellipse cx="99.36" cy="328.03" rx="0.85" ry="0.65"/><ellipse cx="100.21" cy="325.67" rx="0.85" ry="0.65"/><ellipse cx="103.4" cy="325.02" rx="0.85" ry="0.65"/><ellipse cx="105.73" cy="326.72" rx="0.85" ry="0.65"/><ellipse cx="107.83" cy="320.91" rx="0.85" ry="0.65"/><ellipse cx="104.64" cy="321.57" rx="0.85" ry="0.65"/><ellipse cx="102.31" cy="319.87" rx="0.85" ry="0.65"/><ellipse cx="103.17" cy="317.54" rx="0.85" ry="0.65"/><ellipse cx="106.35" cy="316.89" rx="0.85" ry="0.65"/><ellipse cx="108.68" cy="318.56" rx="0.85" ry="0.65"/><ellipse cx="112.94" cy="335.02" rx="0.85" ry="0.65"/><ellipse cx="109.76" cy="335.71" rx="0.85" ry="0.65"/><ellipse cx="107.43" cy="333.99" rx="0.85" ry="0.65"/><ellipse cx="108.28" cy="331.6" rx="0.85" ry="0.65"/><ellipse cx="111.47" cy="330.92" rx="0.85" ry="0.65"/><ellipse cx="113.8" cy="332.62" rx="0.85" ry="0.65"/><ellipse cx="45.48" cy="322.62" rx="0.85" ry="0.65"/><ellipse cx="58.61" cy="315.15" rx="0.85" ry="0.65"/><ellipse cx="59.46" cy="312.86" rx="0.85" ry="0.65"/><ellipse cx="62.25" cy="325.23" rx="0.85" ry="0.65"/><ellipse cx="64.58" cy="327.02" rx="0.85" ry="0.65"/><ellipse cx="72.59" cy="305.37" rx="0.85" ry="0.65"/><ellipse cx="69.4" cy="305.92" rx="0.85" ry="0.65"/><ellipse cx="86.57" cy="295.58" rx="0.85" ry="0.65"/><ellipse cx="83.38" cy="296.16" rx="0.85" ry="0.65"/><ellipse cx="81.34" cy="329.37" rx="0.85" ry="0.65"/><ellipse cx="83.67" cy="331.13" rx="0.85" ry="0.65"/><ellipse cx="97.36" cy="286.4" rx="0.85" ry="0.65"/><ellipse cx="100.15" cy="298.16" rx="0.85" ry="0.65"/><ellipse cx="102.48" cy="299.8" rx="0.85" ry="0.65"/><ellipse cx="100.44" cy="333.24" rx="0.85" ry="0.65"/><ellipse cx="102.77" cy="334.97" rx="0.85" ry="0.65"/><ellipse cx="105.27" cy="311.81" rx="0.85" ry="0.65"/><ellipse cx="107.6" cy="313.48" rx="0.85" ry="0.65"/><ellipse cx="110.39" cy="325.74" rx="0.85" ry="0.65"/><ellipse cx="112.72" cy="327.43" rx="0.85" ry="0.65"/><ellipse cx="116.36" cy="337.53" rx="0.85" ry="0.65"/></g><ellipse cx="98.27" cy="326.61" rx="2.44" ry="1.7" fill="url(#bumpB)"/><ellipse cx="100.48" cy="327.79" rx="2.41" ry="1.69" fill="url(#bumpB)"/><ellipse cx="91.3" cy="329.06" rx="2.71" ry="1.9" fill="url(#bumpB)"/><ellipse cx="101.12" cy="323.89" rx="2.67" ry="1.87" fill="url(#bumpB)"/><ellipse cx="103.06" cy="326.34" rx="2.06" ry="1.44" fill="url(#bumpB)"/><ellipse cx="99.08" cy="322.88" rx="2.48" ry="1.73" fill="url(#bumpB)"/><ellipse cx="97.17" cy="330.34" rx="2.18" ry="1.52" fill="url(#bumpB)"/><ellipse cx="101.46" cy="319.84" rx="2.55" ry="1.78" fill="url(#bumpB)"/><ellipse cx="117.1" cy="337.1" rx="5.52" ry="3.12" fill="url(#glowB)"/><path d="M116.65,280L116.63,284.78L116.57,289.57L116.47,294.35L116.33,299.13L116.14,303.92L115.92,308.7L115.66,313.48L115.36,318.27L115.01,323.05L114.63,327.83L114.2,332.62L113.74,337.4L120.46,337.4L120,332.62L119.57,327.83L119.19,323.05L118.84,318.27L118.54,313.48L118.28,308.7L118.06,303.92L117.87,299.13L117.73,294.35L117.63,289.57L117.57,284.78L117.55,280Z" fill="url(#sg0_0)"/><ellipse cx="117.1" cy="336.6" rx="1.68" ry="1.08" fill="#ffffff" opacity="0.55"/><text x="93.05" y="246.9" font-size="10.1" letter-spacing="-0.2" text-anchor="middle"><tspan font-style="italic">γ</tspan>=0.6,<tspan font-style="italic">n</tspan>=69</text></g>
<g><path d="M225.4,222.4L161.1,263.3M225.4,222.4L289.7,263.3M161.1,263.3L225.4,308.3M289.7,263.3L225.4,308.3M225.4,283L166,324M225.4,283L284.8,324M166,324L225.4,371M284.8,324L225.4,371M225.4,222.4L225.4,283M161.1,263.3L166,324M289.7,263.3L284.8,324M225.4,308.3L225.4,371" stroke="rgba(0,0,0,0.17)" stroke-width="0.75" fill="none"/><path d="M209.4,332L210.6,332L210.25,337.5L209.75,337.5Z" fill="#101870"/><polygon points="225.4,255.12 287.05,296.08 225.4,342.16 163.75,296.08" fill="#4e9e50"/><path d="M161.1,263.3L225.4,308.3L289.7,263.3M225.4,308.3L225.4,342.16" clip-path="url(#cp1)" stroke="rgba(0,0,0,0.17)" stroke-width="0.75" fill="none"/><path d="M185.38,302.73L178.95,301.32L177.23,296.71L181.94,293.54L188.37,294.92L190.09,299.51ZM196.75,300.83L190.32,299.47L188.6,294.89L193.31,291.69L199.74,293.02L201.46,297.58ZM199.8,292.87L193.37,291.53L191.64,287L196.35,283.83L202.79,285.14L204.51,289.64ZM205.08,306.9L198.64,305.56L196.92,300.95L201.63,297.7L208.06,299.01L209.79,303.59ZM208.12,298.85L201.69,297.54L199.97,292.99L204.68,289.76L211.11,291.04L212.83,295.57ZM211.17,290.88L204.74,289.6L203.01,285.1L207.72,281.9L214.16,283.15L215.88,287.63ZM214.22,283L207.78,281.74L206.06,277.29L210.77,274.12L217.2,275.35L218.93,279.77ZM216.45,304.83L210.01,303.55L208.29,298.97L213,295.69L219.43,296.95L221.16,301.51ZM219.49,296.79L213.06,295.53L211.34,291L216.05,287.75L222.48,288.98L224.2,293.48ZM222.54,288.82L216.11,287.59L214.38,283.11L219.09,279.89L225.52,281.09L227.25,285.54ZM225.59,280.94L219.15,279.73L217.43,275.31L222.14,272.11L228.57,273.29L230.29,277.69ZM228.63,273.13L222.2,271.96L220.47,267.58L225.18,264.41L231.62,265.56L233.34,269.91ZM224.77,310.82L218.34,309.56L216.61,304.95L221.32,301.62L227.76,302.85L229.48,307.44ZM227.82,302.69L221.38,301.46L219.66,296.91L224.37,293.6L230.8,294.8L232.53,299.34ZM230.86,294.64L224.43,293.44L222.71,288.94L227.41,285.66L233.85,286.84L235.57,291.31ZM233.91,286.68L227.48,285.5L225.75,281.05L230.46,277.8L236.89,278.95L238.62,283.37ZM236.14,308.59L229.71,307.39L227.98,302.81L232.69,299.45L239.13,300.63L240.85,305.19ZM239.19,300.47L232.75,299.29L231.03,294.76L235.74,291.43L242.17,292.58L243.9,297.08ZM244.46,314.5L238.03,313.32L236.31,308.71L241.02,305.3L247.45,306.45L249.17,311.04Z" fill="none" stroke="rgba(240,240,255,0.6)" stroke-width="0.55"/><g fill="#ee1111"><ellipse cx="186.06" cy="299.89" rx="1.0" ry="0.75"/><ellipse cx="182.78" cy="300.42" rx="1.0" ry="0.75"/><ellipse cx="180.38" cy="298.65" rx="1.0" ry="0.75"/><ellipse cx="181.26" cy="296.36" rx="1.0" ry="0.75"/><ellipse cx="184.54" cy="295.83" rx="1.0" ry="0.75"/><ellipse cx="186.94" cy="297.59" rx="1.0" ry="0.75"/><ellipse cx="197.43" cy="297.99" rx="1.0" ry="0.75"/><ellipse cx="194.15" cy="298.55" rx="1.0" ry="0.75"/><ellipse cx="191.75" cy="296.8" rx="1.0" ry="0.75"/><ellipse cx="192.63" cy="294.5" rx="1.0" ry="0.75"/><ellipse cx="195.91" cy="293.96" rx="1.0" ry="0.75"/><ellipse cx="198.31" cy="295.69" rx="1.0" ry="0.75"/><ellipse cx="200.48" cy="290.05" rx="1.0" ry="0.75"/><ellipse cx="197.2" cy="290.61" rx="1.0" ry="0.75"/><ellipse cx="194.79" cy="288.88" rx="1.0" ry="0.75"/><ellipse cx="195.67" cy="286.61" rx="1.0" ry="0.75"/><ellipse cx="198.96" cy="286.06" rx="1.0" ry="0.75"/><ellipse cx="201.36" cy="287.78" rx="1.0" ry="0.75"/><ellipse cx="205.76" cy="304.03" rx="1.0" ry="0.75"/><ellipse cx="202.47" cy="304.61" rx="1.0" ry="0.75"/><ellipse cx="200.07" cy="302.86" rx="1.0" ry="0.75"/><ellipse cx="200.95" cy="300.54" rx="1.0" ry="0.75"/><ellipse cx="204.23" cy="299.97" rx="1.0" ry="0.75"/><ellipse cx="206.64" cy="301.71" rx="1.0" ry="0.75"/><ellipse cx="208.8" cy="296.01" rx="1.0" ry="0.75"/><ellipse cx="205.52" cy="296.59" rx="1.0" ry="0.75"/><ellipse cx="203.12" cy="294.87" rx="1.0" ry="0.75"/><ellipse cx="204" cy="292.57" rx="1.0" ry="0.75"/><ellipse cx="207.28" cy="292" rx="1.0" ry="0.75"/><ellipse cx="209.68" cy="293.71" rx="1.0" ry="0.75"/><ellipse cx="211.85" cy="288.08" rx="1.0" ry="0.75"/><ellipse cx="208.57" cy="288.66" rx="1.0" ry="0.75"/><ellipse cx="206.16" cy="286.95" rx="1.0" ry="0.75"/><ellipse cx="207.04" cy="284.68" rx="1.0" ry="0.75"/><ellipse cx="210.33" cy="284.11" rx="1.0" ry="0.75"/><ellipse cx="212.73" cy="285.8" rx="1.0" ry="0.75"/><ellipse cx="214.89" cy="280.22" rx="1.0" ry="0.75"/><ellipse cx="211.61" cy="280.8" rx="1.0" ry="0.75"/><ellipse cx="209.21" cy="279.12" rx="1.0" ry="0.75"/><ellipse cx="210.09" cy="276.87" rx="1.0" ry="0.75"/><ellipse cx="213.37" cy="276.3" rx="1.0" ry="0.75"/><ellipse cx="215.77" cy="277.97" rx="1.0" ry="0.75"/><ellipse cx="217.13" cy="301.97" rx="1.0" ry="0.75"/><ellipse cx="213.84" cy="302.57" rx="1.0" ry="0.75"/><ellipse cx="211.44" cy="300.85" rx="1.0" ry="0.75"/><ellipse cx="212.32" cy="298.53" rx="1.0" ry="0.75"/><ellipse cx="215.6" cy="297.93" rx="1.0" ry="0.75"/><ellipse cx="218" cy="299.65" rx="1.0" ry="0.75"/><ellipse cx="220.17" cy="293.95" rx="1.0" ry="0.75"/><ellipse cx="216.89" cy="294.56" rx="1.0" ry="0.75"/><ellipse cx="214.49" cy="292.85" rx="1.0" ry="0.75"/><ellipse cx="215.37" cy="290.56" rx="1.0" ry="0.75"/><ellipse cx="218.65" cy="289.96" rx="1.0" ry="0.75"/><ellipse cx="221.05" cy="291.65" rx="1.0" ry="0.75"/><ellipse cx="223.22" cy="286.02" rx="1.0" ry="0.75"/><ellipse cx="219.94" cy="286.62" rx="1.0" ry="0.75"/><ellipse cx="217.53" cy="284.94" rx="1.0" ry="0.75"/><ellipse cx="218.41" cy="282.67" rx="1.0" ry="0.75"/><ellipse cx="221.69" cy="282.07" rx="1.0" ry="0.75"/><ellipse cx="224.1" cy="283.74" rx="1.0" ry="0.75"/><ellipse cx="226.26" cy="278.16" rx="1.0" ry="0.75"/><ellipse cx="222.98" cy="278.76" rx="1.0" ry="0.75"/><ellipse cx="220.58" cy="277.11" rx="1.0" ry="0.75"/><ellipse cx="221.46" cy="274.86" rx="1.0" ry="0.75"/><ellipse cx="224.74" cy="274.26" rx="1.0" ry="0.75"/><ellipse cx="227.14" cy="275.91" rx="1.0" ry="0.75"/><ellipse cx="229.31" cy="270.38" rx="1.0" ry="0.75"/><ellipse cx="226.03" cy="270.99" rx="1.0" ry="0.75"/><ellipse cx="223.63" cy="269.35" rx="1.0" ry="0.75"/><ellipse cx="224.51" cy="267.13" rx="1.0" ry="0.75"/><ellipse cx="227.79" cy="266.54" rx="1.0" ry="0.75"/><ellipse cx="230.19" cy="268.16" rx="1.0" ry="0.75"/><ellipse cx="225.45" cy="307.93" rx="1.0" ry="0.75"/><ellipse cx="222.17" cy="308.55" rx="1.0" ry="0.75"/><ellipse cx="219.76" cy="306.83" rx="1.0" ry="0.75"/><ellipse cx="220.64" cy="304.49" rx="1.0" ry="0.75"/><ellipse cx="223.93" cy="303.87" rx="1.0" ry="0.75"/><ellipse cx="226.33" cy="305.58" rx="1.0" ry="0.75"/><ellipse cx="228.5" cy="299.83" rx="1.0" ry="0.75"/><ellipse cx="225.21" cy="300.46" rx="1.0" ry="0.75"/><ellipse cx="222.81" cy="298.75" rx="1.0" ry="0.75"/><ellipse cx="223.69" cy="296.44" rx="1.0" ry="0.75"/><ellipse cx="226.97" cy="295.82" rx="1.0" ry="0.75"/><ellipse cx="229.37" cy="297.51" rx="1.0" ry="0.75"/><ellipse cx="231.54" cy="291.81" rx="1.0" ry="0.75"/><ellipse cx="228.26" cy="292.44" rx="1.0" ry="0.75"/><ellipse cx="225.86" cy="290.76" rx="1.0" ry="0.75"/><ellipse cx="226.74" cy="288.47" rx="1.0" ry="0.75"/><ellipse cx="230.02" cy="287.85" rx="1.0" ry="0.75"/><ellipse cx="232.42" cy="289.51" rx="1.0" ry="0.75"/><ellipse cx="234.59" cy="283.88" rx="1.0" ry="0.75"/><ellipse cx="231.31" cy="284.5" rx="1.0" ry="0.75"/><ellipse cx="228.9" cy="282.84" rx="1.0" ry="0.75"/><ellipse cx="229.78" cy="280.58" rx="1.0" ry="0.75"/><ellipse cx="233.06" cy="279.96" rx="1.0" ry="0.75"/><ellipse cx="235.47" cy="281.6" rx="1.0" ry="0.75"/><ellipse cx="236.82" cy="305.71" rx="1.0" ry="0.75"/><ellipse cx="233.54" cy="306.36" rx="1.0" ry="0.75"/><ellipse cx="231.13" cy="304.65" rx="1.0" ry="0.75"/><ellipse cx="232.01" cy="302.31" rx="1.0" ry="0.75"/><ellipse cx="235.3" cy="301.67" rx="1.0" ry="0.75"/><ellipse cx="237.7" cy="303.36" rx="1.0" ry="0.75"/><ellipse cx="239.86" cy="297.61" rx="1.0" ry="0.75"/><ellipse cx="236.58" cy="298.26" rx="1.0" ry="0.75"/><ellipse cx="234.18" cy="296.58" rx="1.0" ry="0.75"/><ellipse cx="235.06" cy="294.26" rx="1.0" ry="0.75"/><ellipse cx="238.34" cy="293.62" rx="1.0" ry="0.75"/><ellipse cx="240.74" cy="295.29" rx="1.0" ry="0.75"/><ellipse cx="245.14" cy="311.58" rx="1.0" ry="0.75"/><ellipse cx="241.86" cy="312.26" rx="1.0" ry="0.75"/><ellipse cx="239.46" cy="310.55" rx="1.0" ry="0.75"/><ellipse cx="240.34" cy="308.19" rx="1.0" ry="0.75"/><ellipse cx="243.62" cy="307.52" rx="1.0" ry="0.75"/><ellipse cx="246.02" cy="309.21" rx="1.0" ry="0.75"/><ellipse cx="175.57" cy="299.41" rx="1.0" ry="0.75"/><ellipse cx="189.11" cy="291.95" rx="1.0" ry="0.75"/><ellipse cx="189.99" cy="289.68" rx="1.0" ry="0.75"/><ellipse cx="192.86" cy="301.93" rx="1.0" ry="0.75"/><ellipse cx="195.27" cy="303.69" rx="1.0" ry="0.75"/><ellipse cx="203.53" cy="282.2" rx="1.0" ry="0.75"/><ellipse cx="200.24" cy="282.75" rx="1.0" ry="0.75"/><ellipse cx="217.94" cy="272.44" rx="1.0" ry="0.75"/><ellipse cx="214.66" cy="273.02" rx="1.0" ry="0.75"/><ellipse cx="212.56" cy="305.99" rx="1.0" ry="0.75"/><ellipse cx="214.96" cy="307.72" rx="1.0" ry="0.75"/><ellipse cx="229.07" cy="263.29" rx="1.0" ry="0.75"/><ellipse cx="231.95" cy="275.01" rx="1.0" ry="0.75"/><ellipse cx="234.35" cy="276.65" rx="1.0" ry="0.75"/><ellipse cx="232.25" cy="309.8" rx="1.0" ry="0.75"/><ellipse cx="234.65" cy="311.52" rx="1.0" ry="0.75"/><ellipse cx="237.23" cy="288.58" rx="1.0" ry="0.75"/><ellipse cx="239.63" cy="290.24" rx="1.0" ry="0.75"/><ellipse cx="242.5" cy="302.4" rx="1.0" ry="0.75"/><ellipse cx="244.91" cy="304.08" rx="1.0" ry="0.75"/><ellipse cx="248.66" cy="314.07" rx="1.0" ry="0.75"/></g><ellipse cx="205.32" cy="295.13" rx="2.19" ry="1.53" fill="url(#teal)"/><ellipse cx="239.48" cy="306.31" rx="1.96" ry="1.37" fill="url(#bump)"/><ellipse cx="195.75" cy="299.58" rx="2.4" ry="1.68" fill="url(#bump)"/><ellipse cx="235.52" cy="301.01" rx="1.79" ry="1.25" fill="url(#bump)"/><ellipse cx="215.58" cy="296.65" rx="2.57" ry="1.8" fill="url(#teal)"/><ellipse cx="233.13" cy="306.77" rx="2.71" ry="1.9" fill="url(#bump)"/><ellipse cx="231.01" cy="305.15" rx="1.68" ry="1.18" fill="url(#bump)"/><ellipse cx="211.14" cy="299.04" rx="2.5" ry="1.75" fill="url(#bump)"/><ellipse cx="199.99" cy="296.55" rx="1.95" ry="1.36" fill="url(#teal)"/><ellipse cx="241.06" cy="306.28" rx="2.43" ry="1.7" fill="url(#bump)"/><ellipse cx="237.59" cy="304.08" rx="2.5" ry="1.75" fill="url(#bump)"/><ellipse cx="191.32" cy="295.17" rx="2.87" ry="2.01" fill="url(#bump)"/><ellipse cx="228.18" cy="299.09" rx="2.64" ry="1.85" fill="url(#teal)"/><ellipse cx="231.62" cy="300.85" rx="2.04" ry="1.43" fill="url(#bump)"/><ellipse cx="238.38" cy="304.56" rx="2.55" ry="1.78" fill="url(#bump)"/><ellipse cx="221.73" cy="303.31" rx="1.79" ry="1.25" fill="url(#bump)"/><ellipse cx="221.13" cy="303.59" rx="2.53" ry="1.77" fill="url(#teal)"/><ellipse cx="197.35" cy="294.24" rx="2.14" ry="1.5" fill="url(#bump)"/><ellipse cx="188.02" cy="296.63" rx="1.94" ry="1.36" fill="url(#bump)"/><ellipse cx="224.73" cy="298.56" rx="1.91" ry="1.34" fill="url(#bump)"/><ellipse cx="189.99" cy="298.75" rx="1.88" ry="1.32" fill="url(#teal)"/><ellipse cx="190.11" cy="299.04" rx="2.64" ry="1.84" fill="url(#bump)"/><ellipse cx="219.12" cy="276.24" rx="1.72" ry="1.21" fill="url(#bump)"/><ellipse cx="227" cy="283.84" rx="1.9" ry="1.33" fill="url(#bump)"/><ellipse cx="236.04" cy="300.05" rx="1.85" ry="1.29" fill="url(#teal)"/><ellipse cx="236.48" cy="302.94" rx="1.81" ry="1.26" fill="url(#bump)"/><ellipse cx="230.2" cy="294.25" rx="2.55" ry="1.78" fill="url(#bump)"/><ellipse cx="226.56" cy="285.79" rx="2.36" ry="1.65" fill="url(#bump)"/><ellipse cx="240.53" cy="306.43" rx="2.46" ry="1.72" fill="url(#teal)"/><ellipse cx="232.78" cy="292.06" rx="2.77" ry="1.94" fill="url(#bump)"/><ellipse cx="189.5" cy="303.1" rx="4.14" ry="2.34" fill="url(#glowG)"/><path d="M189.05,277.8L189.02,279.93L188.96,282.07L188.86,284.2L188.73,286.33L188.57,288.47L188.38,290.6L188.16,292.73L187.92,294.87L187.66,297L187.36,299.13L187.05,301.27L186.71,303.4L192.29,303.4L191.95,301.27L191.64,299.13L191.34,297L191.08,294.87L190.84,292.73L190.62,290.6L190.43,288.47L190.27,286.33L190.14,284.2L190.04,282.07L189.98,279.93L189.95,277.8Z" fill="url(#sg1_0)"/><ellipse cx="189.5" cy="302.6" rx="1.26" ry="0.81" fill="#ffffff" opacity="0.55"/><ellipse cx="214.6" cy="306.7" rx="4.14" ry="2.34" fill="url(#glowG)"/><path d="M214.15,279.3L214.12,281.61L214.06,283.92L213.96,286.23L213.83,288.53L213.67,290.84L213.48,293.15L213.26,295.46L213.02,297.77L212.76,300.07L212.46,302.38L212.15,304.69L211.81,307L217.39,307L217.05,304.69L216.74,302.38L216.44,300.07L216.18,297.77L215.94,295.46L215.72,293.15L215.53,290.84L215.37,288.53L215.24,286.23L215.14,283.92L215.08,281.61L215.05,279.3Z" fill="url(#sg1_1)"/><ellipse cx="214.6" cy="306.2" rx="1.26" ry="0.81" fill="#ffffff" opacity="0.55"/><ellipse cx="228.5" cy="309.7" rx="3.68" ry="2.08" fill="url(#glowG)"/><path d="M228.05,286.6L228.03,288.55L227.97,290.5L227.88,292.45L227.77,294.4L227.63,296.35L227.47,298.3L227.28,300.25L227.07,302.2L226.84,304.15L226.59,306.1L226.31,308.05L226.02,310L230.98,310L230.69,308.05L230.41,306.1L230.16,304.15L229.93,302.2L229.72,300.25L229.53,298.3L229.37,296.35L229.23,294.4L229.12,292.45L229.03,290.5L228.97,288.55L228.95,286.6Z" fill="url(#sg1_2)"/><ellipse cx="228.5" cy="309.2" rx="1.12" ry="0.72" fill="#ffffff" opacity="0.55"/><ellipse cx="233.6" cy="279.7" rx="4.14" ry="2.34" fill="url(#glowG)"/><path d="M233.15,256L233.12,258L233.06,260L232.96,262L232.83,264L232.67,266L232.48,268L232.26,270L232.02,272L231.76,274L231.46,276L231.15,278L230.81,280L236.39,280L236.05,278L235.74,276L235.44,274L235.18,272L234.94,270L234.72,268L234.53,266L234.37,264L234.24,262L234.14,260L234.08,258L234.05,256Z" fill="url(#sg1_3)"/><ellipse cx="233.6" cy="279.2" rx="1.26" ry="0.81" fill="#ffffff" opacity="0.55"/><ellipse cx="237.6" cy="286.3" rx="4.6" ry="2.6" fill="url(#glowG)"/><path d="M237.15,253L237.12,255.8L237.04,258.6L236.93,261.4L236.78,264.2L236.6,267L236.39,269.8L236.15,272.6L235.87,275.4L235.57,278.2L235.24,281L234.88,283.8L234.5,286.6L240.7,286.6L240.32,283.8L239.96,281L239.63,278.2L239.33,275.4L239.05,272.6L238.81,269.8L238.6,267L238.42,264.2L238.27,261.4L238.16,258.6L238.08,255.8L238.05,253Z" fill="url(#sg1_4)"/><ellipse cx="237.6" cy="285.8" rx="1.4" ry="0.9" fill="#ffffff" opacity="0.55"/><ellipse cx="244.6" cy="303.1" rx="3.68" ry="2.08" fill="url(#glowG)"/><path d="M244.15,283L244.13,284.7L244.07,286.4L243.98,288.1L243.87,289.8L243.73,291.5L243.57,293.2L243.38,294.9L243.17,296.6L242.94,298.3L242.69,300L242.41,301.7L242.12,303.4L247.08,303.4L246.79,301.7L246.51,300L246.26,298.3L246.03,296.6L245.82,294.9L245.63,293.2L245.47,291.5L245.33,289.8L245.22,288.1L245.13,286.4L245.07,284.7L245.05,283Z" fill="url(#sg1_5)"/><ellipse cx="244.6" cy="302.6" rx="1.12" ry="0.72" fill="#ffffff" opacity="0.55"/><text x="224.65" y="246.9" font-size="10.1" letter-spacing="-0.2" text-anchor="middle"><tspan font-style="italic">γ</tspan>=0.6,<tspan font-style="italic">n</tspan>=70</text></g>
<g><path d="M357,222.4L292.7,263.3M357,222.4L421.3,263.3M292.7,263.3L357,308.3M421.3,263.3L357,308.3M357,283L297.6,324M357,283L416.4,324M297.6,324L357,371M416.4,324L357,371M357,222.4L357,283M292.7,263.3L297.6,324M421.3,263.3L416.4,324M357,308.3L357,371" stroke="rgba(0,0,0,0.17)" stroke-width="0.75" fill="none"/><path d="M377.9,334.6L379.7,334.6L379.05,341.7L378.55,341.7Z" fill="#101870"/><polygon points="357,268.03 417.61,309.01 357,355.51 296.39,309.01" fill="#0066a0"/><path d="M292.7,263.3L357,308.3L421.3,263.3M357,308.3L357,355.51" clip-path="url(#cp2)" stroke="rgba(0,0,0,0.17)" stroke-width="0.75" fill="none"/><path d="M319.37,313.68L318.37,314.2L317.21,314.52L315.97,314.6L314.72,314.44L313.56,314.06L312.57,313.47L311.8,312.72L311.32,311.86L311.16,310.96L311.32,310.06L311.8,309.24L312.57,308.55L313.56,308.03L314.72,307.72L315.97,307.64L317.21,307.8L318.37,308.18L319.37,308.76L320.13,309.5L320.61,310.35L320.78,311.25L320.61,312.15L320.13,312.98ZM330.55,311.78L329.55,312.31L328.39,312.63L327.14,312.73L325.9,312.58L324.74,312.2L323.74,311.62L322.98,310.89L322.5,310.03L322.33,309.13L322.5,308.24L322.98,307.42L323.74,306.72L324.74,306.2L325.9,305.88L327.14,305.79L328.39,305.94L329.55,306.31L330.55,306.87L331.31,307.61L331.79,308.45L331.95,309.35L331.79,310.24L331.31,311.07ZM333.54,303.8L332.54,304.32L331.38,304.65L330.14,304.74L328.89,304.6L327.73,304.23L326.74,303.66L325.97,302.93L325.49,302.09L325.33,301.2L325.49,300.32L325.97,299.5L326.74,298.81L327.73,298.29L328.89,297.98L330.14,297.89L331.38,298.03L332.54,298.39L333.54,298.95L334.3,299.67L334.79,300.5L334.95,301.39L334.79,302.28L334.3,303.1ZM338.73,317.86L337.73,318.4L336.57,318.74L335.33,318.84L334.08,318.7L332.92,318.33L331.93,317.75L331.16,317.01L330.68,316.15L330.52,315.24L330.68,314.34L331.16,313.51L331.93,312.8L332.92,312.27L334.08,311.94L335.33,311.84L336.57,311.98L337.73,312.35L338.73,312.91L339.49,313.65L339.97,314.49L340.14,315.4L339.97,316.3L339.49,317.14ZM341.72,309.79L340.73,310.33L339.57,310.66L338.32,310.76L337.08,310.63L335.92,310.26L334.92,309.69L334.16,308.96L333.67,308.12L333.51,307.22L333.67,306.33L334.16,305.51L334.92,304.81L335.92,304.28L337.08,303.95L338.32,303.85L339.57,303.98L340.73,304.34L341.72,304.9L342.49,305.62L342.97,306.46L343.13,307.36L342.97,308.25L342.49,309.08ZM344.72,301.81L343.72,302.34L342.56,302.67L341.32,302.78L340.07,302.64L338.91,302.29L337.91,301.73L337.15,301.01L336.67,300.17L336.51,299.29L336.67,298.41L337.15,297.59L337.91,296.9L338.91,296.37L340.07,296.05L341.32,295.95L342.56,296.08L343.72,296.43L344.72,296.98L345.48,297.69L345.96,298.52L346.13,299.4L345.96,300.28L345.48,301.11ZM347.71,293.91L346.72,294.44L345.56,294.77L344.31,294.88L343.07,294.75L341.91,294.4L340.91,293.85L340.14,293.14L339.66,292.32L339.5,291.44L339.66,290.57L340.14,289.76L340.91,289.07L341.91,288.55L343.07,288.23L344.31,288.13L345.56,288.25L346.72,288.6L347.71,289.14L348.48,289.84L348.96,290.66L349.12,291.53L348.96,292.4L348.48,293.22ZM349.9,315.79L348.91,316.34L347.75,316.68L346.5,316.79L345.26,316.66L344.1,316.3L343.1,315.73L342.34,315L341.86,314.15L341.69,313.25L341.86,312.35L342.34,311.51L343.1,310.8L344.1,310.26L345.26,309.92L346.5,309.82L347.75,309.94L348.91,310.3L349.9,310.85L350.67,311.58L351.15,312.42L351.31,313.32L351.15,314.22L350.67,315.06ZM352.9,307.72L351.9,308.26L350.74,308.6L349.5,308.71L348.25,308.59L347.09,308.23L346.1,307.68L345.33,306.95L344.85,306.12L344.69,305.22L344.85,304.33L345.33,303.51L346.1,302.8L347.09,302.27L348.25,301.93L349.5,301.82L350.74,301.95L351.9,302.29L352.9,302.84L353.66,303.56L354.14,304.39L354.31,305.28L354.14,306.17L353.66,307ZM355.89,299.73L354.9,300.28L353.74,300.61L352.49,300.73L351.25,300.61L350.09,300.26L349.09,299.71L348.33,299L347.85,298.17L347.68,297.29L347.85,296.41L348.33,295.59L349.09,294.89L350.09,294.36L351.25,294.03L352.49,293.92L353.74,294.04L354.9,294.38L355.89,294.92L356.66,295.62L357.14,296.44L357.3,297.32L357.14,298.2L356.66,299.03ZM358.89,291.84L357.89,292.38L356.73,292.71L355.49,292.83L354.24,292.71L353.08,292.37L352.09,291.83L351.32,291.13L350.84,290.31L350.68,289.44L350.84,288.57L351.32,287.76L352.09,287.07L353.08,286.54L354.24,286.21L355.49,286.1L356.73,286.21L357.89,286.55L358.89,287.08L359.65,287.77L360.13,288.58L360.3,289.45L360.13,290.32L359.65,291.14ZM361.88,284.03L360.89,284.56L359.73,284.9L358.48,285.02L357.24,284.9L356.08,284.57L355.08,284.04L354.32,283.35L353.84,282.54L353.67,281.68L353.84,280.82L354.32,280.02L355.08,279.34L356.08,278.81L357.24,278.48L358.48,278.37L359.73,278.48L360.89,278.81L361.88,279.33L362.65,280.01L363.13,280.81L363.29,281.67L363.13,282.53L362.65,283.34ZM358.09,321.78L357.09,322.34L355.93,322.69L354.69,322.81L353.44,322.69L352.28,322.33L351.28,321.77L350.52,321.03L350.04,320.18L349.88,319.27L350.04,318.36L350.52,317.52L351.28,316.8L352.28,316.24L353.44,315.9L354.69,315.78L355.93,315.9L357.09,316.25L358.09,316.81L358.85,317.53L359.33,318.38L359.5,319.29L359.33,320.2L358.85,321.05ZM361.08,313.62L360.09,314.18L358.93,314.53L357.68,314.65L356.44,314.53L355.28,314.18L354.28,313.63L353.51,312.9L353.03,312.06L352.87,311.16L353.03,310.26L353.51,309.43L354.28,308.71L355.28,308.16L356.44,307.82L357.68,307.7L358.93,307.82L360.09,308.16L361.08,308.71L361.85,309.42L362.33,310.26L362.49,311.16L362.33,312.06L361.85,312.9ZM364.08,305.55L363.08,306.11L361.92,306.46L360.68,306.58L359.43,306.46L358.27,306.12L357.27,305.57L356.51,304.86L356.03,304.03L355.87,303.14L356.03,302.25L356.51,301.42L357.27,300.71L358.27,300.17L359.43,299.83L360.68,299.71L361.92,299.82L363.08,300.16L364.08,300.7L364.84,301.4L365.32,302.22L365.49,303.11L365.32,304L364.84,304.84ZM367.07,297.57L366.08,298.12L364.92,298.47L363.67,298.59L362.43,298.48L361.27,298.14L360.27,297.61L359.5,296.9L359.02,296.08L358.86,295.2L359.02,294.33L359.5,293.51L360.27,292.81L361.27,292.27L362.43,291.92L363.67,291.8L364.92,291.91L366.08,292.24L367.07,292.77L367.84,293.47L368.32,294.28L368.48,295.16L368.32,296.04L367.84,296.86ZM369.26,319.53L368.27,320.1L367.11,320.46L365.86,320.59L364.62,320.48L363.46,320.13L362.46,319.58L361.7,318.85L361.22,318.01L361.05,317.1L361.22,316.19L361.7,315.35L362.46,314.62L363.46,314.06L364.62,313.71L365.86,313.58L367.11,313.69L368.27,314.03L369.26,314.57L370.03,315.29L370.51,316.13L370.67,317.03L370.51,317.94L370.03,318.8ZM372.26,311.37L371.26,311.94L370.1,312.3L368.86,312.43L367.61,312.32L366.45,311.98L365.46,311.43L364.69,310.72L364.21,309.88L364.05,308.99L364.21,308.09L364.69,307.25L365.46,306.53L366.45,305.98L367.61,305.63L368.86,305.5L370.1,305.6L371.26,305.94L372.26,306.47L373.02,307.18L373.5,308.01L373.67,308.9L373.5,309.8L373.02,310.64ZM377.45,325.44L376.45,326.02L375.29,326.39L374.05,326.53L372.8,326.42L371.64,326.08L370.64,325.53L369.88,324.8L369.4,323.95L369.24,323.04L369.4,322.12L369.88,321.26L370.64,320.53L371.64,319.96L372.8,319.59L374.05,319.46L375.29,319.56L376.45,319.89L377.45,320.44L378.21,321.16L378.69,322L378.86,322.91L378.69,323.83L378.21,324.69ZM320.61,310.35L322.5,310.03M328.39,305.94L328.89,304.6M330.55,311.78L331.93,312.8M331.79,308.45L333.67,308.12M333.54,303.8L334.92,304.81M334.78,300.5L336.67,300.17M336.57,311.98L337.08,310.63M339.97,314.49L341.86,314.15M339.57,303.98L340.07,302.64M341.72,309.79L343.1,310.8M342.97,306.46L344.85,306.12M342.56,296.08L343.07,294.75M344.72,301.81L346.1,302.8M345.96,298.52L347.85,298.17M347.71,293.91L349.09,294.89M348.96,290.66L350.84,290.31M347.75,309.94L348.25,308.59M349.9,315.79L351.28,316.8M351.15,312.42L353.03,312.06M350.74,301.95L351.25,300.61M352.9,307.72L354.28,308.71M354.14,304.39L356.03,304.03M353.74,294.04L354.24,292.71M355.89,299.73L357.27,300.71M357.14,296.44L359.02,296.08M356.73,286.21L357.24,284.9M358.89,291.84L360.27,292.81M355.93,315.9L356.44,314.53M359.33,318.38L361.22,318.01M358.93,307.82L359.43,306.46M361.08,313.62L362.46,314.62M362.33,310.26L364.21,309.88M361.92,299.82L362.43,298.48M364.08,305.55L365.46,306.53M367.11,313.69L367.61,312.32M369.26,319.53L370.64,320.53" fill="none" stroke="rgba(245,245,255,0.5)" stroke-width="0.5"/><g fill="#ee1111"><ellipse cx="319.37" cy="313.68" rx="0.85" ry="0.65"/><ellipse cx="314.72" cy="314.44" rx="0.85" ry="0.65"/><ellipse cx="311.32" cy="311.86" rx="0.85" ry="0.65"/><ellipse cx="312.57" cy="308.55" rx="0.85" ry="0.65"/><ellipse cx="317.21" cy="307.8" rx="0.85" ry="0.65"/><ellipse cx="320.61" cy="310.35" rx="0.85" ry="0.65"/><ellipse cx="330.55" cy="311.78" rx="0.85" ry="0.65"/><ellipse cx="325.9" cy="312.58" rx="0.85" ry="0.65"/><ellipse cx="322.5" cy="310.03" rx="0.85" ry="0.65"/><ellipse cx="323.74" cy="306.72" rx="0.85" ry="0.65"/><ellipse cx="328.39" cy="305.94" rx="0.85" ry="0.65"/><ellipse cx="331.79" cy="308.45" rx="0.85" ry="0.65"/><ellipse cx="333.54" cy="303.8" rx="0.85" ry="0.65"/><ellipse cx="328.89" cy="304.6" rx="0.85" ry="0.65"/><ellipse cx="325.49" cy="302.09" rx="0.85" ry="0.65"/><ellipse cx="326.74" cy="298.81" rx="0.85" ry="0.65"/><ellipse cx="331.38" cy="298.03" rx="0.85" ry="0.65"/><ellipse cx="334.79" cy="300.5" rx="0.85" ry="0.65"/><ellipse cx="338.73" cy="317.86" rx="0.85" ry="0.65"/><ellipse cx="334.08" cy="318.7" rx="0.85" ry="0.65"/><ellipse cx="330.68" cy="316.15" rx="0.85" ry="0.65"/><ellipse cx="331.93" cy="312.8" rx="0.85" ry="0.65"/><ellipse cx="336.57" cy="311.98" rx="0.85" ry="0.65"/><ellipse cx="339.97" cy="314.49" rx="0.85" ry="0.65"/><ellipse cx="341.72" cy="309.79" rx="0.85" ry="0.65"/><ellipse cx="337.08" cy="310.63" rx="0.85" ry="0.65"/><ellipse cx="333.67" cy="308.12" rx="0.85" ry="0.65"/><ellipse cx="334.92" cy="304.81" rx="0.85" ry="0.65"/><ellipse cx="339.57" cy="303.98" rx="0.85" ry="0.65"/><ellipse cx="342.97" cy="306.46" rx="0.85" ry="0.65"/><ellipse cx="344.72" cy="301.81" rx="0.85" ry="0.65"/><ellipse cx="340.07" cy="302.64" rx="0.85" ry="0.65"/><ellipse cx="336.67" cy="300.17" rx="0.85" ry="0.65"/><ellipse cx="337.91" cy="296.9" rx="0.85" ry="0.65"/><ellipse cx="342.56" cy="296.08" rx="0.85" ry="0.65"/><ellipse cx="345.96" cy="298.52" rx="0.85" ry="0.65"/><ellipse cx="347.71" cy="293.91" rx="0.85" ry="0.65"/><ellipse cx="343.07" cy="294.75" rx="0.85" ry="0.65"/><ellipse cx="339.66" cy="292.32" rx="0.85" ry="0.65"/><ellipse cx="340.91" cy="289.07" rx="0.85" ry="0.65"/><ellipse cx="345.56" cy="288.25" rx="0.85" ry="0.65"/><ellipse cx="348.96" cy="290.66" rx="0.85" ry="0.65"/><ellipse cx="349.9" cy="315.79" rx="0.85" ry="0.65"/><ellipse cx="345.26" cy="316.66" rx="0.85" ry="0.65"/><ellipse cx="341.86" cy="314.15" rx="0.85" ry="0.65"/><ellipse cx="343.1" cy="310.8" rx="0.85" ry="0.65"/><ellipse cx="347.75" cy="309.94" rx="0.85" ry="0.65"/><ellipse cx="351.15" cy="312.42" rx="0.85" ry="0.65"/><ellipse cx="352.9" cy="307.72" rx="0.85" ry="0.65"/><ellipse cx="348.25" cy="308.59" rx="0.85" ry="0.65"/><ellipse cx="344.85" cy="306.12" rx="0.85" ry="0.65"/><ellipse cx="346.1" cy="302.8" rx="0.85" ry="0.65"/><ellipse cx="350.74" cy="301.95" rx="0.85" ry="0.65"/><ellipse cx="354.14" cy="304.39" rx="0.85" ry="0.65"/><ellipse cx="355.89" cy="299.73" rx="0.85" ry="0.65"/><ellipse cx="351.25" cy="300.61" rx="0.85" ry="0.65"/><ellipse cx="347.85" cy="298.17" rx="0.85" ry="0.65"/><ellipse cx="349.09" cy="294.89" rx="0.85" ry="0.65"/><ellipse cx="353.74" cy="294.04" rx="0.85" ry="0.65"/><ellipse cx="357.14" cy="296.44" rx="0.85" ry="0.65"/><ellipse cx="358.89" cy="291.84" rx="0.85" ry="0.65"/><ellipse cx="354.24" cy="292.71" rx="0.85" ry="0.65"/><ellipse cx="350.84" cy="290.31" rx="0.85" ry="0.65"/><ellipse cx="352.09" cy="287.07" rx="0.85" ry="0.65"/><ellipse cx="356.73" cy="286.21" rx="0.85" ry="0.65"/><ellipse cx="360.13" cy="288.58" rx="0.85" ry="0.65"/><ellipse cx="361.88" cy="284.03" rx="0.85" ry="0.65"/><ellipse cx="357.24" cy="284.9" rx="0.85" ry="0.65"/><ellipse cx="353.84" cy="282.54" rx="0.85" ry="0.65"/><ellipse cx="355.08" cy="279.34" rx="0.85" ry="0.65"/><ellipse cx="359.73" cy="278.48" rx="0.85" ry="0.65"/><ellipse cx="363.13" cy="280.81" rx="0.85" ry="0.65"/><ellipse cx="358.09" cy="321.78" rx="0.85" ry="0.65"/><ellipse cx="353.44" cy="322.69" rx="0.85" ry="0.65"/><ellipse cx="350.04" cy="320.18" rx="0.85" ry="0.65"/><ellipse cx="351.28" cy="316.8" rx="0.85" ry="0.65"/><ellipse cx="355.93" cy="315.9" rx="0.85" ry="0.65"/><ellipse cx="359.33" cy="318.38" rx="0.85" ry="0.65"/><ellipse cx="361.08" cy="313.62" rx="0.85" ry="0.65"/><ellipse cx="356.44" cy="314.53" rx="0.85" ry="0.65"/><ellipse cx="353.03" cy="312.06" rx="0.85" ry="0.65"/><ellipse cx="354.28" cy="308.71" rx="0.85" ry="0.65"/><ellipse cx="358.93" cy="307.82" rx="0.85" ry="0.65"/><ellipse cx="362.33" cy="310.26" rx="0.85" ry="0.65"/><ellipse cx="364.08" cy="305.55" rx="0.85" ry="0.65"/><ellipse cx="359.43" cy="306.46" rx="0.85" ry="0.65"/><ellipse cx="356.03" cy="304.03" rx="0.85" ry="0.65"/><ellipse cx="357.27" cy="300.71" rx="0.85" ry="0.65"/><ellipse cx="361.92" cy="299.82" rx="0.85" ry="0.65"/><ellipse cx="365.32" cy="302.22" rx="0.85" ry="0.65"/><ellipse cx="367.07" cy="297.57" rx="0.85" ry="0.65"/><ellipse cx="362.43" cy="298.48" rx="0.85" ry="0.65"/><ellipse cx="359.02" cy="296.08" rx="0.85" ry="0.65"/><ellipse cx="360.27" cy="292.81" rx="0.85" ry="0.65"/><ellipse cx="364.92" cy="291.91" rx="0.85" ry="0.65"/><ellipse cx="368.32" cy="294.28" rx="0.85" ry="0.65"/><ellipse cx="369.26" cy="319.53" rx="0.85" ry="0.65"/><ellipse cx="364.62" cy="320.48" rx="0.85" ry="0.65"/><ellipse cx="361.22" cy="318.01" rx="0.85" ry="0.65"/><ellipse cx="362.46" cy="314.62" rx="0.85" ry="0.65"/><ellipse cx="367.11" cy="313.69" rx="0.85" ry="0.65"/><ellipse cx="370.51" cy="316.13" rx="0.85" ry="0.65"/><ellipse cx="372.26" cy="311.37" rx="0.85" ry="0.65"/><ellipse cx="367.61" cy="312.32" rx="0.85" ry="0.65"/><ellipse cx="364.21" cy="309.88" rx="0.85" ry="0.65"/><ellipse cx="365.46" cy="306.53" rx="0.85" ry="0.65"/><ellipse cx="370.1" cy="305.6" rx="0.85" ry="0.65"/><ellipse cx="373.5" cy="308.01" rx="0.85" ry="0.65"/><ellipse cx="377.45" cy="325.44" rx="0.85" ry="0.65"/><ellipse cx="372.8" cy="326.42" rx="0.85" ry="0.65"/><ellipse cx="369.4" cy="323.95" rx="0.85" ry="0.65"/><ellipse cx="370.64" cy="320.53" rx="0.85" ry="0.65"/><ellipse cx="375.29" cy="319.56" rx="0.85" ry="0.65"/><ellipse cx="378.69" cy="322" rx="0.85" ry="0.65"/><ellipse cx="309.44" cy="312.16" rx="0.85" ry="0.65"/><ellipse cx="322.36" cy="305.7" rx="0.85" ry="0.65"/><ellipse cx="317.72" cy="306.46" rx="0.85" ry="0.65"/><ellipse cx="325.39" cy="313.93" rx="0.85" ry="0.65"/><ellipse cx="328.8" cy="316.48" rx="0.85" ry="0.65"/><ellipse cx="336.53" cy="295.9" rx="0.85" ry="0.65"/><ellipse cx="331.89" cy="296.7" rx="0.85" ry="0.65"/><ellipse cx="350.71" cy="286.11" rx="0.85" ry="0.65"/><ellipse cx="351.95" cy="282.89" rx="0.85" ry="0.65"/><ellipse cx="344.75" cy="318.03" rx="0.85" ry="0.65"/><ellipse cx="348.16" cy="320.54" rx="0.85" ry="0.65"/><ellipse cx="360.23" cy="277.18" rx="0.85" ry="0.65"/><ellipse cx="362.02" cy="288.22" rx="0.85" ry="0.65"/><ellipse cx="365.42" cy="290.59" rx="0.85" ry="0.65"/><ellipse cx="364.11" cy="321.86" rx="0.85" ry="0.65"/><ellipse cx="367.51" cy="324.34" rx="0.85" ry="0.65"/><ellipse cx="367.21" cy="301.85" rx="0.85" ry="0.65"/><ellipse cx="370.61" cy="304.25" rx="0.85" ry="0.65"/><ellipse cx="372.39" cy="315.74" rx="0.85" ry="0.65"/><ellipse cx="375.8" cy="318.18" rx="0.85" ry="0.65"/><ellipse cx="378.83" cy="326.43" rx="0.85" ry="0.65"/></g><ellipse cx="358.3" cy="316.38" rx="2.17" ry="1.52" fill="url(#bumpB)"/><ellipse cx="353.07" cy="314.6" rx="2.8" ry="1.96" fill="url(#bumpB)"/><ellipse cx="342.46" cy="314.76" rx="2.53" ry="1.77" fill="url(#bumpB)"/><ellipse cx="349.51" cy="314.92" rx="1.92" ry="1.34" fill="url(#bumpB)"/><ellipse cx="338.14" cy="313.48" rx="2.36" ry="1.65" fill="url(#bumpB)"/><ellipse cx="359.44" cy="317.04" rx="1.82" ry="1.28" fill="url(#bumpB)"/><ellipse cx="349.11" cy="312.29" rx="2.12" ry="1.48" fill="url(#bumpB)"/><ellipse cx="364.8" cy="315.32" rx="2.66" ry="1.86" fill="url(#bumpB)"/><ellipse cx="356.99" cy="312.37" rx="1.61" ry="1.13" fill="url(#bumpB)"/><ellipse cx="360.17" cy="313.67" rx="2.3" ry="1.61" fill="url(#bumpB)"/><ellipse cx="340.37" cy="310.24" rx="2.17" ry="1.52" fill="url(#bumpB)"/><ellipse cx="366" cy="314.79" rx="1.97" ry="1.38" fill="url(#bumpB)"/><ellipse cx="364.1" cy="319.83" rx="1.68" ry="1.18" fill="url(#bumpB)"/><ellipse cx="355.51" cy="316.37" rx="2.28" ry="1.6" fill="url(#bumpB)"/><ellipse cx="356.29" cy="318.02" rx="2.03" ry="1.42" fill="url(#bumpB)"/><ellipse cx="322.76" cy="310.27" rx="1.73" ry="1.21" fill="url(#bumpB)"/><ellipse cx="366.34" cy="319.78" rx="2.12" ry="1.49" fill="url(#bumpB)"/><ellipse cx="364.14" cy="318.46" rx="2.48" ry="1.74" fill="url(#bumpB)"/><ellipse cx="364.18" cy="320.71" rx="1.7" ry="1.19" fill="url(#bumpB)"/><ellipse cx="356.25" cy="316.25" rx="2.62" ry="1.83" fill="url(#bumpB)"/><ellipse cx="363.71" cy="315.46" rx="1.71" ry="1.2" fill="url(#bumpB)"/><ellipse cx="357.77" cy="317.16" rx="2.21" ry="1.55" fill="url(#bumpB)"/><ellipse cx="361.67" cy="319.72" rx="2.08" ry="1.45" fill="url(#bumpB)"/><ellipse cx="372.36" cy="321.57" rx="2.71" ry="1.9" fill="url(#bumpB)"/><ellipse cx="373.8" cy="325.7" rx="4.14" ry="2.34" fill="url(#glowB)"/><path d="M373.35,278.6L373.34,282.55L373.29,286.5L373.22,290.45L373.12,294.4L372.99,298.35L372.83,302.3L372.65,306.25L372.43,310.2L372.19,314.15L371.91,318.1L371.61,322.05L371.28,326L376.32,326L375.99,322.05L375.69,318.1L375.41,314.15L375.17,310.2L374.95,306.25L374.77,302.3L374.61,298.35L374.48,294.4L374.38,290.45L374.31,286.5L374.26,282.55L374.25,278.6Z" fill="url(#sg2_0)"/><ellipse cx="373.8" cy="325.2" rx="1.26" ry="0.81" fill="#ffffff" opacity="0.55"/><ellipse cx="379.5" cy="325.7" rx="5.52" ry="3.12" fill="url(#glowB)"/><path d="M379.05,274.3L379.03,278.61L378.97,282.92L378.87,287.23L378.73,291.53L378.54,295.84L378.32,300.15L378.06,304.46L377.76,308.77L377.41,313.07L377.03,317.38L376.6,321.69L376.14,326L382.86,326L382.4,321.69L381.97,317.38L381.59,313.07L381.24,308.77L380.94,304.46L380.68,300.15L380.46,295.84L380.27,291.53L380.13,287.23L380.03,282.92L379.97,278.61L379.95,274.3Z" fill="url(#sg2_1)"/><ellipse cx="379.5" cy="325.2" rx="1.68" ry="1.08" fill="#ffffff" opacity="0.55"/><text x="356.25" y="246.9" font-size="10.1" letter-spacing="-0.2" text-anchor="middle"><tspan font-style="italic">γ</tspan>=1.6,<tspan font-style="italic">n</tspan>=69</text></g>
<g><path d="M488.45,222.4L424.15,263.3M488.45,222.4L552.75,263.3M424.15,263.3L488.45,308.3M552.75,263.3L488.45,308.3M488.45,283L429.05,324M488.45,283L547.85,324M429.05,324L488.45,371M547.85,324L488.45,371M488.45,222.4L488.45,283M424.15,263.3L429.05,324M552.75,263.3L547.85,324M488.45,308.3L488.45,371" stroke="rgba(0,0,0,0.17)" stroke-width="0.75" fill="none"/><path d="M508.6,325.7L510.6,325.7L509.85,336.5L509.35,336.5Z" fill="#101870"/><polygon points="488.45,255.12 550.1,296.08 488.45,342.16 426.8,296.08" fill="#4e9e50"/><path d="M424.15,263.3L488.45,308.3L552.75,263.3M488.45,308.3L488.45,342.16" clip-path="url(#cp3)" stroke="rgba(0,0,0,0.17)" stroke-width="0.75" fill="none"/><path d="M450.17,300.67L449.16,301.19L447.98,301.51L446.71,301.59L445.44,301.44L444.26,301.05L443.25,300.47L442.47,299.73L441.98,298.88L441.82,297.98L441.98,297.09L442.47,296.27L443.25,295.58L444.26,295.06L445.44,294.75L446.71,294.67L447.98,294.82L449.16,295.2L450.17,295.77L450.95,296.51L451.44,297.35L451.6,298.25L451.44,299.14L450.95,299.97ZM461.54,298.76L460.53,299.29L459.35,299.61L458.08,299.71L456.81,299.56L455.63,299.19L454.62,298.62L453.84,297.88L453.35,297.04L453.19,296.14L453.35,295.25L453.84,294.43L454.62,293.74L455.63,293.21L456.81,292.9L458.08,292.81L459.35,292.95L460.53,293.31L461.54,293.88L462.32,294.61L462.81,295.44L462.97,296.34L462.81,297.23L462.32,298.06ZM464.59,290.81L463.57,291.34L462.39,291.66L461.13,291.75L459.86,291.61L458.68,291.25L457.67,290.68L456.89,289.96L456.4,289.12L456.23,288.24L456.4,287.36L456.89,286.55L457.67,285.86L458.68,285.34L459.86,285.02L461.13,284.93L462.39,285.07L463.57,285.43L464.59,285.99L465.36,286.7L465.85,287.53L466.02,288.42L465.85,289.3L465.36,290.11ZM469.86,304.8L468.85,305.34L467.67,305.67L466.4,305.77L465.14,305.63L463.96,305.27L462.94,304.69L462.17,303.96L461.68,303.11L461.51,302.21L461.68,301.31L462.17,300.48L462.94,299.78L463.96,299.24L465.14,298.92L466.4,298.82L467.67,298.95L468.85,299.32L469.86,299.88L470.64,300.61L471.13,301.45L471.3,302.35L471.13,303.25L470.64,304.08ZM472.91,296.77L471.9,297.31L470.72,297.64L469.45,297.74L468.18,297.61L467,297.24L465.99,296.68L465.21,295.95L464.72,295.12L464.56,294.22L464.72,293.33L465.21,292.51L465.99,291.82L467,291.29L468.18,290.96L469.45,290.86L470.72,290.99L471.9,291.35L472.91,291.9L473.69,292.62L474.18,293.46L474.34,294.35L474.18,295.24L473.69,296.06ZM475.96,288.82L474.94,289.36L473.76,289.69L472.5,289.79L471.23,289.66L470.05,289.3L469.04,288.75L468.26,288.03L467.77,287.2L467.6,286.32L467.77,285.44L468.26,284.63L469.04,283.94L470.05,283.41L471.23,283.09L472.5,282.98L473.76,283.11L474.94,283.46L475.96,284.01L476.73,284.72L477.22,285.54L477.39,286.42L477.22,287.3L476.73,288.12ZM479,280.96L477.99,281.49L476.81,281.81L475.54,281.92L474.28,281.79L473.1,281.44L472.08,280.9L471.3,280.19L470.82,279.37L470.65,278.5L470.82,277.63L471.3,276.82L472.08,276.14L473.1,275.62L474.28,275.29L475.54,275.19L476.81,275.31L477.99,275.66L479,276.2L479.78,276.9L480.27,277.71L480.44,278.58L480.27,279.45L479.78,280.26ZM481.23,302.73L480.22,303.27L479.04,303.62L477.77,303.73L476.51,303.6L475.33,303.24L474.31,302.68L473.54,301.95L473.05,301.11L472.88,300.21L473.05,299.31L473.54,298.48L474.31,297.77L475.33,297.23L476.51,296.9L477.77,296.79L479.04,296.92L480.22,297.27L481.23,297.82L482.01,298.54L482.5,299.38L482.67,300.28L482.5,301.17L482.01,302.01ZM484.28,294.7L483.27,295.24L482.09,295.58L480.82,295.69L479.55,295.57L478.37,295.22L477.36,294.66L476.58,293.95L476.09,293.11L475.93,292.22L476.09,291.34L476.58,290.52L477.36,289.81L478.37,289.28L479.55,288.94L480.82,288.83L482.09,288.96L483.27,289.3L484.28,289.85L485.06,290.56L485.55,291.39L485.71,292.27L485.55,293.16L485.06,293.99ZM487.33,286.75L486.31,287.29L485.13,287.63L483.87,287.74L482.6,287.62L481.42,287.28L480.41,286.73L479.63,286.02L479.14,285.2L478.97,284.32L479.14,283.44L479.63,282.63L480.41,281.93L481.42,281.4L482.6,281.07L483.87,280.96L485.13,281.08L486.31,281.42L487.33,281.95L488.1,282.66L488.59,283.47L488.76,284.35L488.59,285.23L488.1,286.05ZM490.37,278.89L489.36,279.42L488.18,279.76L486.91,279.87L485.65,279.76L484.47,279.42L483.45,278.88L482.67,278.18L482.19,277.37L482.02,276.5L482.19,275.63L482.67,274.82L483.45,274.13L484.47,273.61L485.65,273.28L486.91,273.16L488.18,273.28L489.36,273.61L490.37,274.14L491.15,274.83L491.64,275.64L491.8,276.51L491.64,277.38L491.15,278.19ZM493.42,271.1L492.4,271.63L491.22,271.97L489.96,272.08L488.69,271.97L487.51,271.64L486.5,271.11L485.72,270.42L485.23,269.61L485.06,268.76L485.23,267.9L485.72,267.1L486.5,266.42L487.51,265.89L488.69,265.56L489.96,265.45L491.22,265.56L492.4,265.89L493.42,266.41L494.2,267.09L494.68,267.89L494.85,268.75L494.68,269.61L494.2,270.41ZM489.56,308.68L488.54,309.24L487.36,309.59L486.1,309.71L484.83,309.59L483.65,309.24L482.64,308.67L481.86,307.94L481.37,307.1L481.2,306.19L481.37,305.29L481.86,304.45L482.64,303.73L483.65,303.18L484.83,302.84L486.1,302.72L487.36,302.84L488.54,303.19L489.56,303.74L490.33,304.46L490.82,305.3L490.99,306.21L490.82,307.11L490.33,307.96ZM492.6,300.58L491.59,301.13L490.41,301.48L489.14,301.6L487.88,301.48L486.7,301.13L485.68,300.58L484.9,299.86L484.42,299.02L484.25,298.13L484.42,297.23L484.9,296.4L485.68,295.69L486.7,295.14L487.88,294.8L489.14,294.68L490.41,294.8L491.59,295.14L492.6,295.69L493.38,296.4L493.87,297.23L494.04,298.12L493.87,299.02L493.38,299.86ZM495.65,292.55L494.64,293.1L493.46,293.45L492.19,293.57L490.92,293.45L489.74,293.11L488.73,292.57L487.95,291.86L487.46,291.03L487.3,290.14L487.46,289.26L487.95,288.44L488.73,287.73L489.74,287.19L490.92,286.85L492.19,286.73L493.46,286.84L494.64,287.17L495.65,287.71L496.43,288.41L496.92,289.23L497.08,290.12L496.92,291L496.43,291.83ZM498.69,284.6L497.68,285.15L496.5,285.49L495.24,285.62L493.97,285.51L492.79,285.17L491.78,284.63L491,283.93L490.51,283.12L490.34,282.24L490.51,281.36L491,280.55L491.78,279.85L492.79,279.31L493.97,278.97L495.24,278.85L496.5,278.96L497.68,279.29L498.69,279.82L499.47,280.51L499.96,281.32L500.13,282.19L499.96,283.07L499.47,283.89ZM500.93,306.45L499.91,307.02L498.73,307.38L497.47,307.5L496.2,307.39L495.02,307.05L494.01,306.5L493.23,305.77L492.74,304.93L492.57,304.03L492.74,303.13L493.23,302.29L494.01,301.57L495.02,301.01L496.2,300.66L497.47,300.53L498.73,300.64L499.91,300.98L500.93,301.52L501.7,302.24L502.19,303.07L502.36,303.97L502.19,304.88L501.7,305.72ZM503.97,298.34L502.96,298.9L501.78,299.26L500.51,299.39L499.25,299.28L498.07,298.94L497.05,298.4L496.27,297.69L495.79,296.86L495.62,295.97L495.79,295.07L496.27,294.24L497.05,293.53L498.07,292.97L499.25,292.62L500.51,292.5L501.78,292.6L502.96,292.93L503.97,293.47L504.75,294.17L505.24,295L505.41,295.89L505.24,296.78L504.75,297.62ZM509.25,312.33L508.24,312.9L507.06,313.27L505.79,313.41L504.52,313.3L503.34,312.96L502.33,312.41L501.55,311.69L501.06,310.84L500.9,309.94L501.06,309.03L501.55,308.18L502.33,307.44L503.34,306.88L504.52,306.52L505.79,306.38L507.06,306.49L508.24,306.82L509.25,307.36L510.03,308.08L510.52,308.92L510.68,309.82L510.52,310.73L510.03,311.59ZM451.44,297.35L453.35,297.04M459.35,292.95L459.86,291.61M461.54,298.76L462.94,299.78M462.81,295.44L464.72,295.12M464.59,290.81L465.99,291.82M465.85,287.53L467.77,287.2M467.67,298.95L468.18,297.61M471.13,301.45L473.05,301.11M470.72,290.99L471.23,289.66M472.91,296.77L474.31,297.77M474.18,293.46L476.09,293.11M473.76,283.11L474.28,281.79M475.96,288.82L477.36,289.81M477.22,285.54L479.14,285.2M479,280.96L480.41,281.93M480.27,277.71L482.19,277.37M479.04,296.92L479.55,295.57M481.23,302.73L482.64,303.73M482.5,299.38L484.42,299.02M482.09,288.96L482.6,287.62M484.28,294.7L485.68,295.69M485.55,291.39L487.46,291.03M485.13,281.08L485.65,279.76M487.33,286.75L488.73,287.73M488.59,283.47L490.51,283.12M488.18,273.28L488.69,271.97M490.37,278.89L491.78,279.85M487.36,302.84L487.88,301.48M490.82,305.3L492.74,304.93M490.41,294.8L490.92,293.45M492.6,300.58L494.01,301.57M493.87,297.23L495.79,296.86M493.46,286.84L493.97,285.5M495.65,292.55L497.05,293.53M498.73,300.64L499.25,299.28M500.93,306.45L502.33,307.44" fill="none" stroke="rgba(245,245,255,0.5)" stroke-width="0.5"/><g fill="#ee1111"><ellipse cx="450.17" cy="300.67" rx="1.0" ry="0.75"/><ellipse cx="445.44" cy="301.44" rx="1.0" ry="0.75"/><ellipse cx="441.98" cy="298.88" rx="1.0" ry="0.75"/><ellipse cx="443.25" cy="295.58" rx="1.0" ry="0.75"/><ellipse cx="447.98" cy="294.82" rx="1.0" ry="0.75"/><ellipse cx="451.44" cy="297.35" rx="1.0" ry="0.75"/><ellipse cx="461.54" cy="298.76" rx="1.0" ry="0.75"/><ellipse cx="456.81" cy="299.56" rx="1.0" ry="0.75"/><ellipse cx="453.35" cy="297.04" rx="1.0" ry="0.75"/><ellipse cx="454.62" cy="293.74" rx="1.0" ry="0.75"/><ellipse cx="459.35" cy="292.95" rx="1.0" ry="0.75"/><ellipse cx="462.81" cy="295.44" rx="1.0" ry="0.75"/><ellipse cx="464.59" cy="290.81" rx="1.0" ry="0.75"/><ellipse cx="459.86" cy="291.61" rx="1.0" ry="0.75"/><ellipse cx="456.4" cy="289.12" rx="1.0" ry="0.75"/><ellipse cx="457.67" cy="285.86" rx="1.0" ry="0.75"/><ellipse cx="462.39" cy="285.07" rx="1.0" ry="0.75"/><ellipse cx="465.85" cy="287.53" rx="1.0" ry="0.75"/><ellipse cx="469.86" cy="304.8" rx="1.0" ry="0.75"/><ellipse cx="465.14" cy="305.63" rx="1.0" ry="0.75"/><ellipse cx="461.68" cy="303.11" rx="1.0" ry="0.75"/><ellipse cx="462.94" cy="299.78" rx="1.0" ry="0.75"/><ellipse cx="467.67" cy="298.95" rx="1.0" ry="0.75"/><ellipse cx="471.13" cy="301.45" rx="1.0" ry="0.75"/><ellipse cx="472.91" cy="296.77" rx="1.0" ry="0.75"/><ellipse cx="468.18" cy="297.61" rx="1.0" ry="0.75"/><ellipse cx="464.72" cy="295.12" rx="1.0" ry="0.75"/><ellipse cx="465.99" cy="291.82" rx="1.0" ry="0.75"/><ellipse cx="470.72" cy="290.99" rx="1.0" ry="0.75"/><ellipse cx="474.18" cy="293.46" rx="1.0" ry="0.75"/><ellipse cx="475.96" cy="288.82" rx="1.0" ry="0.75"/><ellipse cx="471.23" cy="289.66" rx="1.0" ry="0.75"/><ellipse cx="467.77" cy="287.2" rx="1.0" ry="0.75"/><ellipse cx="469.04" cy="283.94" rx="1.0" ry="0.75"/><ellipse cx="473.76" cy="283.11" rx="1.0" ry="0.75"/><ellipse cx="477.22" cy="285.54" rx="1.0" ry="0.75"/><ellipse cx="479" cy="280.96" rx="1.0" ry="0.75"/><ellipse cx="474.28" cy="281.79" rx="1.0" ry="0.75"/><ellipse cx="470.82" cy="279.37" rx="1.0" ry="0.75"/><ellipse cx="472.08" cy="276.14" rx="1.0" ry="0.75"/><ellipse cx="476.81" cy="275.31" rx="1.0" ry="0.75"/><ellipse cx="480.27" cy="277.71" rx="1.0" ry="0.75"/><ellipse cx="481.23" cy="302.73" rx="1.0" ry="0.75"/><ellipse cx="476.51" cy="303.6" rx="1.0" ry="0.75"/><ellipse cx="473.05" cy="301.11" rx="1.0" ry="0.75"/><ellipse cx="474.31" cy="297.77" rx="1.0" ry="0.75"/><ellipse cx="479.04" cy="296.92" rx="1.0" ry="0.75"/><ellipse cx="482.5" cy="299.38" rx="1.0" ry="0.75"/><ellipse cx="484.28" cy="294.7" rx="1.0" ry="0.75"/><ellipse cx="479.55" cy="295.57" rx="1.0" ry="0.75"/><ellipse cx="476.09" cy="293.11" rx="1.0" ry="0.75"/><ellipse cx="477.36" cy="289.81" rx="1.0" ry="0.75"/><ellipse cx="482.09" cy="288.96" rx="1.0" ry="0.75"/><ellipse cx="485.55" cy="291.39" rx="1.0" ry="0.75"/><ellipse cx="487.33" cy="286.75" rx="1.0" ry="0.75"/><ellipse cx="482.6" cy="287.62" rx="1.0" ry="0.75"/><ellipse cx="479.14" cy="285.2" rx="1.0" ry="0.75"/><ellipse cx="480.41" cy="281.93" rx="1.0" ry="0.75"/><ellipse cx="485.13" cy="281.08" rx="1.0" ry="0.75"/><ellipse cx="488.59" cy="283.47" rx="1.0" ry="0.75"/><ellipse cx="490.37" cy="278.89" rx="1.0" ry="0.75"/><ellipse cx="485.65" cy="279.76" rx="1.0" ry="0.75"/><ellipse cx="482.19" cy="277.37" rx="1.0" ry="0.75"/><ellipse cx="483.45" cy="274.13" rx="1.0" ry="0.75"/><ellipse cx="488.18" cy="273.28" rx="1.0" ry="0.75"/><ellipse cx="491.64" cy="275.64" rx="1.0" ry="0.75"/><ellipse cx="493.42" cy="271.1" rx="1.0" ry="0.75"/><ellipse cx="488.69" cy="271.97" rx="1.0" ry="0.75"/><ellipse cx="485.23" cy="269.61" rx="1.0" ry="0.75"/><ellipse cx="486.5" cy="266.42" rx="1.0" ry="0.75"/><ellipse cx="491.22" cy="265.56" rx="1.0" ry="0.75"/><ellipse cx="494.68" cy="267.89" rx="1.0" ry="0.75"/><ellipse cx="489.56" cy="308.68" rx="1.0" ry="0.75"/><ellipse cx="484.83" cy="309.59" rx="1.0" ry="0.75"/><ellipse cx="481.37" cy="307.1" rx="1.0" ry="0.75"/><ellipse cx="482.64" cy="303.73" rx="1.0" ry="0.75"/><ellipse cx="487.36" cy="302.84" rx="1.0" ry="0.75"/><ellipse cx="490.82" cy="305.3" rx="1.0" ry="0.75"/><ellipse cx="492.6" cy="300.58" rx="1.0" ry="0.75"/><ellipse cx="487.88" cy="301.48" rx="1.0" ry="0.75"/><ellipse cx="484.42" cy="299.02" rx="1.0" ry="0.75"/><ellipse cx="485.68" cy="295.69" rx="1.0" ry="0.75"/><ellipse cx="490.41" cy="294.8" rx="1.0" ry="0.75"/><ellipse cx="493.87" cy="297.23" rx="1.0" ry="0.75"/><ellipse cx="495.65" cy="292.55" rx="1.0" ry="0.75"/><ellipse cx="490.92" cy="293.45" rx="1.0" ry="0.75"/><ellipse cx="487.46" cy="291.03" rx="1.0" ry="0.75"/><ellipse cx="488.73" cy="287.73" rx="1.0" ry="0.75"/><ellipse cx="493.46" cy="286.84" rx="1.0" ry="0.75"/><ellipse cx="496.92" cy="289.23" rx="1.0" ry="0.75"/><ellipse cx="498.69" cy="284.6" rx="1.0" ry="0.75"/><ellipse cx="493.97" cy="285.51" rx="1.0" ry="0.75"/><ellipse cx="490.51" cy="283.12" rx="1.0" ry="0.75"/><ellipse cx="491.78" cy="279.85" rx="1.0" ry="0.75"/><ellipse cx="496.5" cy="278.96" rx="1.0" ry="0.75"/><ellipse cx="499.96" cy="281.32" rx="1.0" ry="0.75"/><ellipse cx="500.93" cy="306.45" rx="1.0" ry="0.75"/><ellipse cx="496.2" cy="307.39" rx="1.0" ry="0.75"/><ellipse cx="492.74" cy="304.93" rx="1.0" ry="0.75"/><ellipse cx="494.01" cy="301.57" rx="1.0" ry="0.75"/><ellipse cx="498.73" cy="300.64" rx="1.0" ry="0.75"/><ellipse cx="502.19" cy="303.07" rx="1.0" ry="0.75"/><ellipse cx="503.97" cy="298.34" rx="1.0" ry="0.75"/><ellipse cx="499.25" cy="299.28" rx="1.0" ry="0.75"/><ellipse cx="495.79" cy="296.86" rx="1.0" ry="0.75"/><ellipse cx="497.05" cy="293.53" rx="1.0" ry="0.75"/><ellipse cx="501.78" cy="292.6" rx="1.0" ry="0.75"/><ellipse cx="505.24" cy="295" rx="1.0" ry="0.75"/><ellipse cx="509.25" cy="312.33" rx="1.0" ry="0.75"/><ellipse cx="504.52" cy="313.3" rx="1.0" ry="0.75"/><ellipse cx="501.06" cy="310.84" rx="1.0" ry="0.75"/><ellipse cx="502.33" cy="307.44" rx="1.0" ry="0.75"/><ellipse cx="507.06" cy="306.49" rx="1.0" ry="0.75"/><ellipse cx="510.52" cy="308.92" rx="1.0" ry="0.75"/><ellipse cx="440.07" cy="299.18" rx="1.0" ry="0.75"/><ellipse cx="453.22" cy="292.72" rx="1.0" ry="0.75"/><ellipse cx="448.49" cy="293.49" rx="1.0" ry="0.75"/><ellipse cx="456.3" cy="300.91" rx="1.0" ry="0.75"/><ellipse cx="459.76" cy="303.44" rx="1.0" ry="0.75"/><ellipse cx="467.63" cy="282.94" rx="1.0" ry="0.75"/><ellipse cx="462.91" cy="283.75" rx="1.0" ry="0.75"/><ellipse cx="482.05" cy="273.17" rx="1.0" ry="0.75"/><ellipse cx="483.31" cy="269.96" rx="1.0" ry="0.75"/><ellipse cx="475.99" cy="304.96" rx="1.0" ry="0.75"/><ellipse cx="479.45" cy="307.46" rx="1.0" ry="0.75"/><ellipse cx="491.74" cy="264.27" rx="1.0" ry="0.75"/><ellipse cx="493.55" cy="275.28" rx="1.0" ry="0.75"/><ellipse cx="497.01" cy="277.64" rx="1.0" ry="0.75"/><ellipse cx="495.69" cy="308.77" rx="1.0" ry="0.75"/><ellipse cx="499.15" cy="311.23" rx="1.0" ry="0.75"/><ellipse cx="498.83" cy="288.86" rx="1.0" ry="0.75"/><ellipse cx="502.29" cy="291.25" rx="1.0" ry="0.75"/><ellipse cx="504.11" cy="302.69" rx="1.0" ry="0.75"/><ellipse cx="507.57" cy="305.11" rx="1.0" ry="0.75"/><ellipse cx="510.65" cy="313.32" rx="1.0" ry="0.75"/></g><ellipse cx="491.86" cy="304.25" rx="2.81" ry="1.97" fill="url(#teal)"/><ellipse cx="468.25" cy="297.93" rx="2.29" ry="1.6" fill="url(#bump)"/><ellipse cx="467.55" cy="298.23" rx="2.72" ry="1.9" fill="url(#bump)"/><ellipse cx="452.38" cy="294.75" rx="2.62" ry="1.83" fill="url(#bump)"/><ellipse cx="456.47" cy="299.26" rx="2.58" ry="1.8" fill="url(#teal)"/><ellipse cx="490.79" cy="302.91" rx="2.65" ry="1.85" fill="url(#bump)"/><ellipse cx="467.84" cy="294.29" rx="1.93" ry="1.35" fill="url(#bump)"/><ellipse cx="477.79" cy="297.85" rx="1.92" ry="1.34" fill="url(#bump)"/><ellipse cx="480.14" cy="302.93" rx="2.16" ry="1.51" fill="url(#teal)"/><ellipse cx="459.24" cy="300.27" rx="2.6" ry="1.82" fill="url(#bump)"/><ellipse cx="497.42" cy="304.22" rx="2.63" ry="1.84" fill="url(#bump)"/><ellipse cx="489.28" cy="302.91" rx="2.58" ry="1.81" fill="url(#bump)"/><ellipse cx="505.34" cy="309.29" rx="2.35" ry="1.65" fill="url(#teal)"/><ellipse cx="467.13" cy="295.41" rx="2.22" ry="1.55" fill="url(#bump)"/><ellipse cx="484.79" cy="300.07" rx="1.85" ry="1.3" fill="url(#bump)"/><ellipse cx="478.09" cy="303.88" rx="2.47" ry="1.73" fill="url(#bump)"/><ellipse cx="489.29" cy="292.71" rx="2.45" ry="1.71" fill="url(#teal)"/><ellipse cx="497.45" cy="295.98" rx="2.27" ry="1.59" fill="url(#bump)"/><ellipse cx="490.17" cy="273.21" rx="2.54" ry="1.78" fill="url(#bump)"/><ellipse cx="486.77" cy="278.89" rx="2.87" ry="2.01" fill="url(#bump)"/><ellipse cx="484.47" cy="283.54" rx="2.83" ry="1.98" fill="url(#teal)"/><ellipse cx="485.48" cy="276.37" rx="1.74" ry="1.22" fill="url(#bump)"/><ellipse cx="494.54" cy="295.4" rx="1.97" ry="1.38" fill="url(#bump)"/><ellipse cx="485.87" cy="277.77" rx="2.4" ry="1.68" fill="url(#bump)"/><ellipse cx="485.8" cy="288.75" rx="2.5" ry="1.75" fill="url(#teal)"/><ellipse cx="498.32" cy="306.47" rx="1.97" ry="1.38" fill="url(#bump)"/><ellipse cx="505.4" cy="312.5" rx="4.14" ry="2.34" fill="url(#glowG)"/><path d="M504.95,278.3L504.92,281.18L504.86,284.05L504.76,286.93L504.63,289.8L504.47,292.68L504.28,295.55L504.06,298.43L503.82,301.3L503.56,304.18L503.26,307.05L502.95,309.93L502.61,312.8L508.19,312.8L507.85,309.93L507.54,307.05L507.24,304.18L506.98,301.3L506.74,298.43L506.52,295.55L506.33,292.68L506.17,289.8L506.04,286.93L505.94,284.05L505.88,281.18L505.85,278.3Z" fill="url(#sg3_0)"/><ellipse cx="505.4" cy="312" rx="1.26" ry="0.81" fill="#ffffff" opacity="0.55"/><ellipse cx="485.6" cy="308.7" rx="3.91" ry="2.21" fill="url(#glowG)"/><path d="M485.15,285.2L485.13,287.18L485.06,289.17L484.97,291.15L484.85,293.13L484.7,295.12L484.52,297.1L484.32,299.08L484.1,301.07L483.85,303.05L483.58,305.03L483.28,307.02L482.97,309L488.24,309L487.92,307.02L487.62,305.03L487.35,303.05L487.1,301.07L486.88,299.08L486.68,297.1L486.5,295.12L486.35,293.13L486.23,291.15L486.14,289.17L486.07,287.18L486.05,285.2Z" fill="url(#sg3_1)"/><ellipse cx="485.6" cy="308.2" rx="1.19" ry="0.77" fill="#ffffff" opacity="0.55"/><ellipse cx="502.8" cy="292.6" rx="2.76" ry="1.56" fill="url(#glowG)"/><path d="M502.35,283L502.33,283.82L502.29,284.65L502.23,285.48L502.15,286.3L502.06,287.12L501.95,287.95L501.82,288.77L501.67,289.6L501.51,290.42L501.33,291.25L501.14,292.07L500.94,292.9L504.66,292.9L504.46,292.07L504.27,291.25L504.09,290.42L503.93,289.6L503.78,288.77L503.65,287.95L503.54,287.12L503.45,286.3L503.37,285.48L503.31,284.65L503.27,283.82L503.25,283Z" fill="url(#sg3_2)"/><ellipse cx="502.8" cy="292.1" rx="0.84" ry="0.54" fill="#ffffff" opacity="0.55"/><ellipse cx="508.1" cy="308.7" rx="3.22" ry="1.82" fill="url(#glowG)"/><path d="M507.65,294.4L507.63,295.62L507.58,296.83L507.51,298.05L507.41,299.27L507.29,300.48L507.16,301.7L507,302.92L506.82,304.13L506.63,305.35L506.41,306.57L506.18,307.78L505.93,309L510.27,309L510.02,307.78L509.79,306.57L509.57,305.35L509.38,304.13L509.2,302.92L509.04,301.7L508.91,300.48L508.79,299.27L508.69,298.05L508.62,296.83L508.57,295.62L508.55,294.4Z" fill="url(#sg3_3)"/><ellipse cx="508.1" cy="308.2" rx="0.98" ry="0.63" fill="#ffffff" opacity="0.55"/><ellipse cx="466" cy="304.8" rx="3.22" ry="1.82" fill="url(#glowG)"/><path d="M465.55,294.4L465.53,295.29L465.48,296.18L465.41,297.07L465.31,297.97L465.19,298.86L465.06,299.75L464.9,300.64L464.72,301.53L464.53,302.43L464.31,303.32L464.08,304.21L463.83,305.1L468.17,305.1L467.92,304.21L467.69,303.32L467.47,302.43L467.28,301.53L467.1,300.64L466.94,299.75L466.81,298.86L466.69,297.97L466.59,297.07L466.52,296.18L466.47,295.29L466.45,294.4Z" fill="url(#sg3_4)"/><ellipse cx="466" cy="304.3" rx="0.98" ry="0.63" fill="#ffffff" opacity="0.55"/><text x="487.7" y="246.9" font-size="10.1" letter-spacing="-0.2" text-anchor="middle"><tspan font-style="italic">γ</tspan>=1.6,<tspan font-style="italic">n</tspan>=74</text></g>
<g><path d="M620.2,222.4L555.9,263.3M620.2,222.4L684.5,263.3M555.9,263.3L620.2,308.3M684.5,263.3L620.2,308.3M620.2,283L560.8,324M620.2,283L679.6,324M560.8,324L620.2,371M679.6,324L620.2,371M620.2,222.4L620.2,283M555.9,263.3L560.8,324M684.5,263.3L679.6,324M620.2,308.3L620.2,371" stroke="rgba(0,0,0,0.17)" stroke-width="0.75" fill="none"/><polygon points="620.2,273.55 680.36,314.53 620.2,361.22 560.04,314.53" fill="#002e9f"/><path d="M555.9,263.3L620.2,308.3L684.5,263.3M620.2,308.3L620.2,361.22" clip-path="url(#cp4)" stroke="rgba(0,0,0,0.17)" stroke-width="0.75" fill="none"/><path d="M582.85,319.24L581.86,319.76L580.7,320.08L579.47,320.16L578.23,320L577.08,319.61L576.09,319.02L575.33,318.27L574.86,317.41L574.69,316.5L574.86,315.61L575.33,314.78L576.09,314.09L577.08,313.57L578.23,313.26L579.47,313.19L580.7,313.34L581.86,313.73L582.85,314.31L583.6,315.05L584.08,315.9L584.24,316.81L584.08,317.71L583.6,318.53ZM593.94,317.34L592.95,317.87L591.8,318.2L590.56,318.29L589.33,318.14L588.18,317.76L587.19,317.18L586.43,316.44L585.95,315.59L585.79,314.68L585.95,313.79L586.43,312.97L587.19,312.27L588.18,311.74L589.33,311.43L590.56,311.34L591.8,311.48L592.95,311.86L593.94,312.43L594.7,313.16L595.18,314L595.34,314.91L595.18,315.8L594.7,316.63ZM596.91,309.34L595.92,309.87L594.77,310.19L593.54,310.29L592.3,310.14L591.15,309.77L590.16,309.2L589.4,308.47L588.92,307.63L588.76,306.74L588.92,305.85L589.4,305.04L590.16,304.35L591.15,303.83L592.3,303.51L593.54,303.42L594.77,303.56L595.92,303.93L596.91,304.49L597.67,305.21L598.15,306.04L598.31,306.94L598.15,307.82L597.67,308.64ZM602.06,323.44L601.07,323.99L599.92,324.32L598.69,324.42L597.45,324.28L596.3,323.9L595.31,323.33L594.55,322.58L594.07,321.73L593.91,320.81L594.07,319.91L594.55,319.08L595.31,318.37L596.3,317.83L597.45,317.51L598.69,317.41L599.92,317.55L601.07,317.91L602.06,318.48L602.82,319.22L603.3,320.07L603.46,320.98L603.3,321.88L602.82,322.72ZM605.03,315.35L604.05,315.89L602.89,316.23L601.66,316.33L600.42,316.19L599.27,315.82L598.28,315.25L597.52,314.52L597.05,313.68L596.88,312.78L597.05,311.88L597.52,311.06L598.28,310.36L599.27,309.82L600.42,309.5L601.66,309.4L602.89,309.54L604.05,309.89L605.03,310.46L605.79,311.18L606.27,312.02L606.43,312.92L606.27,313.81L605.79,314.64ZM608.01,307.36L607.02,307.89L605.87,308.22L604.63,308.33L603.4,308.19L602.24,307.83L601.25,307.27L600.5,306.55L600.02,305.72L599.86,304.83L600.02,303.95L600.5,303.13L601.25,302.43L602.24,301.91L603.4,301.58L604.63,301.48L605.87,301.61L607.02,301.97L608.01,302.52L608.77,303.23L609.24,304.06L609.41,304.94L609.24,305.83L608.77,306.65ZM610.98,299.45L609.99,299.98L608.84,300.31L607.6,300.41L606.37,300.29L605.22,299.93L604.23,299.38L603.47,298.67L602.99,297.85L602.83,296.97L602.99,296.1L603.47,295.29L604.23,294.6L605.22,294.08L606.37,293.76L607.6,293.65L608.84,293.78L609.99,294.13L610.98,294.67L611.74,295.37L612.22,296.19L612.38,297.06L612.22,297.94L611.74,298.75ZM613.16,321.36L612.17,321.92L611.02,322.26L609.78,322.37L608.54,322.24L607.39,321.88L606.4,321.31L605.65,320.57L605.17,319.72L605.01,318.82L605.17,317.92L605.65,317.08L606.4,316.37L607.39,315.82L608.54,315.49L609.78,315.38L611.02,315.51L612.17,315.86L613.16,316.42L613.92,317.15L614.39,317.99L614.56,318.9L614.39,319.8L613.92,320.64ZM616.13,313.28L615.14,313.82L613.99,314.17L612.75,314.28L611.52,314.15L610.37,313.8L609.38,313.24L608.62,312.51L608.14,311.67L607.98,310.78L608.14,309.89L608.62,309.06L609.38,308.35L610.37,307.82L611.52,307.48L612.75,307.37L613.99,307.5L615.14,307.84L616.13,308.39L616.89,309.11L617.37,309.94L617.53,310.83L617.37,311.73L616.89,312.56ZM619.1,305.28L618.11,305.82L616.96,306.16L615.73,306.28L614.49,306.15L613.34,305.81L612.35,305.26L611.59,304.54L611.11,303.71L610.95,302.83L611.11,301.95L611.59,301.13L612.35,300.43L613.34,299.9L614.49,299.56L615.73,299.45L616.96,299.57L618.11,299.91L619.1,300.46L619.86,301.16L620.34,301.98L620.5,302.86L620.34,303.75L619.86,304.57ZM622.08,297.37L621.09,297.91L619.93,298.25L618.7,298.36L617.46,298.25L616.31,297.91L615.32,297.36L614.56,296.66L614.09,295.84L613.92,294.97L614.09,294.1L614.56,293.29L615.32,292.6L616.31,292.07L617.46,291.74L618.7,291.63L619.93,291.74L621.09,292.08L622.08,292.61L622.83,293.3L623.31,294.11L623.47,294.98L623.31,295.86L622.83,296.67ZM625.05,289.56L624.06,290.09L622.91,290.43L621.67,290.54L620.44,290.43L619.28,290.1L618.3,289.56L617.54,288.87L617.06,288.07L616.9,287.2L617.06,286.34L617.54,285.54L618.3,284.86L619.28,284.33L620.44,284L621.67,283.89L622.91,284L624.06,284.33L625.05,284.85L625.81,285.53L626.28,286.33L626.45,287.19L626.28,288.05L625.81,288.86ZM621.28,327.37L620.29,327.94L619.14,328.29L617.9,328.41L616.67,328.29L615.52,327.93L614.53,327.36L613.77,326.63L613.29,325.77L613.13,324.86L613.29,323.95L613.77,323.1L614.53,322.38L615.52,321.82L616.67,321.48L617.9,321.36L619.14,321.48L620.29,321.83L621.28,322.39L622.04,323.12L622.52,323.96L622.68,324.88L622.52,325.79L622.04,326.64ZM624.25,319.2L623.26,319.76L622.11,320.11L620.88,320.23L619.64,320.11L618.49,319.76L617.5,319.2L616.74,318.48L616.26,317.63L616.1,316.73L616.26,315.83L616.74,314.99L617.5,314.27L618.49,313.73L619.64,313.38L620.88,313.26L622.11,313.38L623.26,313.72L624.25,314.27L625.01,314.99L625.49,315.82L625.65,316.72L625.49,317.63L625.01,318.47ZM627.22,311.11L626.24,311.66L625.08,312.01L623.85,312.14L622.61,312.02L621.46,311.68L620.47,311.13L619.71,310.41L619.24,309.58L619.07,308.69L619.24,307.8L619.71,306.97L620.47,306.26L621.46,305.72L622.61,305.37L623.85,305.25L625.08,305.37L626.24,305.7L627.22,306.24L627.98,306.95L628.46,307.77L628.62,308.66L628.46,309.56L627.98,310.39ZM630.2,303.11L629.21,303.66L628.06,304.01L626.82,304.13L625.59,304.02L624.43,303.69L623.44,303.15L622.69,302.44L622.21,301.62L622.05,300.74L622.21,299.86L622.69,299.04L623.44,298.34L624.43,297.8L625.59,297.46L626.82,297.34L628.06,297.44L629.21,297.77L630.2,298.31L630.96,299L631.43,299.81L631.6,300.69L631.43,301.57L630.96,302.4ZM632.37,325.12L631.39,325.69L630.23,326.05L629,326.18L627.76,326.07L626.61,325.72L625.62,325.16L624.86,324.44L624.39,323.59L624.22,322.68L624.39,321.77L624.86,320.92L625.62,320.2L626.61,319.63L627.76,319.28L629,319.15L630.23,319.26L631.39,319.6L632.37,320.15L633.13,320.87L633.61,321.71L633.77,322.61L633.61,323.53L633.13,324.38ZM635.35,316.94L634.36,317.51L633.21,317.87L631.97,318L630.73,317.89L629.58,317.55L628.59,317L627.84,316.29L627.36,315.45L627.2,314.55L627.36,313.65L627.84,312.81L628.59,312.09L629.58,311.54L630.73,311.18L631.97,311.05L633.21,311.16L634.36,311.49L635.35,312.03L636.11,312.74L636.58,313.57L636.75,314.46L636.58,315.36L636.11,316.21ZM640.5,331.04L639.51,331.62L638.36,331.99L637.12,332.13L635.88,332.02L634.73,331.68L633.74,331.13L632.98,330.4L632.51,329.55L632.35,328.63L632.51,327.71L632.98,326.86L633.74,326.12L634.73,325.54L635.88,325.18L637.12,325.04L638.36,325.14L639.51,325.48L640.5,326.03L641.26,326.75L641.73,327.59L641.89,328.5L641.73,329.42L641.26,330.29ZM584.08,315.9L585.95,315.59M591.8,311.48L592.3,310.14M593.94,317.34L595.31,318.37M595.18,314L597.05,313.68M596.91,309.34L598.28,310.36M598.15,306.05L600.02,305.72M599.92,317.55L600.42,316.19M603.3,320.07L605.17,319.72M602.89,309.54L603.4,308.19M605.03,315.35L606.4,316.37M606.27,312.02L608.14,311.67M605.87,301.61L606.37,300.29M608.01,307.36L609.38,308.35M609.24,304.06L611.11,303.71M610.98,299.45L612.35,300.43M612.22,296.19L614.09,295.84M611.02,315.51L611.52,314.15M613.16,321.36L614.53,322.38M614.39,317.99L616.26,317.63M613.99,307.5L614.49,306.15M616.13,313.28L617.5,314.27M617.37,309.94L619.24,309.58M616.96,299.57L617.46,298.25M619.1,305.28L620.47,306.26M620.34,301.98L622.21,301.62M619.93,291.74L620.44,290.43M622.08,297.37L623.44,298.34M619.14,321.48L619.64,320.11M622.51,323.96L624.39,323.59M622.11,313.38L622.61,312.02M624.25,319.2L625.62,320.2M625.49,315.82L627.36,315.45M625.08,305.37L625.59,304.02M627.22,311.11L628.59,312.09M630.23,319.26L630.73,317.89M632.37,325.12L633.74,326.12" fill="none" stroke="rgba(245,245,255,0.5)" stroke-width="0.5"/><g fill="#ee1111"><ellipse cx="582.85" cy="319.24" rx="0.85" ry="0.65"/><ellipse cx="578.23" cy="320" rx="0.85" ry="0.65"/><ellipse cx="574.86" cy="317.41" rx="0.85" ry="0.65"/><ellipse cx="576.09" cy="314.09" rx="0.85" ry="0.65"/><ellipse cx="580.7" cy="313.34" rx="0.85" ry="0.65"/><ellipse cx="584.08" cy="315.9" rx="0.85" ry="0.65"/><ellipse cx="593.94" cy="317.34" rx="0.85" ry="0.65"/><ellipse cx="589.33" cy="318.14" rx="0.85" ry="0.65"/><ellipse cx="585.95" cy="315.59" rx="0.85" ry="0.65"/><ellipse cx="587.19" cy="312.27" rx="0.85" ry="0.65"/><ellipse cx="591.8" cy="311.48" rx="0.85" ry="0.65"/><ellipse cx="595.18" cy="314" rx="0.85" ry="0.65"/><ellipse cx="596.91" cy="309.34" rx="0.85" ry="0.65"/><ellipse cx="592.3" cy="310.14" rx="0.85" ry="0.65"/><ellipse cx="588.92" cy="307.63" rx="0.85" ry="0.65"/><ellipse cx="590.16" cy="304.35" rx="0.85" ry="0.65"/><ellipse cx="594.77" cy="303.56" rx="0.85" ry="0.65"/><ellipse cx="598.15" cy="306.04" rx="0.85" ry="0.65"/><ellipse cx="602.06" cy="323.44" rx="0.85" ry="0.65"/><ellipse cx="597.45" cy="324.28" rx="0.85" ry="0.65"/><ellipse cx="594.07" cy="321.73" rx="0.85" ry="0.65"/><ellipse cx="595.31" cy="318.37" rx="0.85" ry="0.65"/><ellipse cx="599.92" cy="317.55" rx="0.85" ry="0.65"/><ellipse cx="603.3" cy="320.07" rx="0.85" ry="0.65"/><ellipse cx="605.03" cy="315.35" rx="0.85" ry="0.65"/><ellipse cx="600.42" cy="316.19" rx="0.85" ry="0.65"/><ellipse cx="597.05" cy="313.68" rx="0.85" ry="0.65"/><ellipse cx="598.28" cy="310.36" rx="0.85" ry="0.65"/><ellipse cx="602.89" cy="309.54" rx="0.85" ry="0.65"/><ellipse cx="606.27" cy="312.02" rx="0.85" ry="0.65"/><ellipse cx="608.01" cy="307.36" rx="0.85" ry="0.65"/><ellipse cx="603.4" cy="308.19" rx="0.85" ry="0.65"/><ellipse cx="600.02" cy="305.72" rx="0.85" ry="0.65"/><ellipse cx="601.25" cy="302.43" rx="0.85" ry="0.65"/><ellipse cx="605.87" cy="301.61" rx="0.85" ry="0.65"/><ellipse cx="609.24" cy="304.06" rx="0.85" ry="0.65"/><ellipse cx="610.98" cy="299.45" rx="0.85" ry="0.65"/><ellipse cx="606.37" cy="300.29" rx="0.85" ry="0.65"/><ellipse cx="602.99" cy="297.85" rx="0.85" ry="0.65"/><ellipse cx="604.23" cy="294.6" rx="0.85" ry="0.65"/><ellipse cx="608.84" cy="293.78" rx="0.85" ry="0.65"/><ellipse cx="612.22" cy="296.19" rx="0.85" ry="0.65"/><ellipse cx="613.16" cy="321.36" rx="0.85" ry="0.65"/><ellipse cx="608.54" cy="322.24" rx="0.85" ry="0.65"/><ellipse cx="605.17" cy="319.72" rx="0.85" ry="0.65"/><ellipse cx="606.4" cy="316.37" rx="0.85" ry="0.65"/><ellipse cx="611.02" cy="315.51" rx="0.85" ry="0.65"/><ellipse cx="614.39" cy="317.99" rx="0.85" ry="0.65"/><ellipse cx="616.13" cy="313.28" rx="0.85" ry="0.65"/><ellipse cx="611.52" cy="314.15" rx="0.85" ry="0.65"/><ellipse cx="608.14" cy="311.67" rx="0.85" ry="0.65"/><ellipse cx="609.38" cy="308.35" rx="0.85" ry="0.65"/><ellipse cx="613.99" cy="307.5" rx="0.85" ry="0.65"/><ellipse cx="617.37" cy="309.94" rx="0.85" ry="0.65"/><ellipse cx="619.1" cy="305.28" rx="0.85" ry="0.65"/><ellipse cx="614.49" cy="306.15" rx="0.85" ry="0.65"/><ellipse cx="611.11" cy="303.71" rx="0.85" ry="0.65"/><ellipse cx="612.35" cy="300.43" rx="0.85" ry="0.65"/><ellipse cx="616.96" cy="299.57" rx="0.85" ry="0.65"/><ellipse cx="620.34" cy="301.98" rx="0.85" ry="0.65"/><ellipse cx="622.08" cy="297.37" rx="0.85" ry="0.65"/><ellipse cx="617.46" cy="298.25" rx="0.85" ry="0.65"/><ellipse cx="614.09" cy="295.84" rx="0.85" ry="0.65"/><ellipse cx="615.32" cy="292.6" rx="0.85" ry="0.65"/><ellipse cx="619.93" cy="291.74" rx="0.85" ry="0.65"/><ellipse cx="623.31" cy="294.11" rx="0.85" ry="0.65"/><ellipse cx="625.05" cy="289.56" rx="0.85" ry="0.65"/><ellipse cx="620.44" cy="290.43" rx="0.85" ry="0.65"/><ellipse cx="617.06" cy="288.07" rx="0.85" ry="0.65"/><ellipse cx="618.3" cy="284.86" rx="0.85" ry="0.65"/><ellipse cx="622.91" cy="284" rx="0.85" ry="0.65"/><ellipse cx="626.28" cy="286.33" rx="0.85" ry="0.65"/><ellipse cx="621.28" cy="327.37" rx="0.85" ry="0.65"/><ellipse cx="616.67" cy="328.29" rx="0.85" ry="0.65"/><ellipse cx="613.29" cy="325.77" rx="0.85" ry="0.65"/><ellipse cx="614.53" cy="322.38" rx="0.85" ry="0.65"/><ellipse cx="619.14" cy="321.48" rx="0.85" ry="0.65"/><ellipse cx="622.52" cy="323.96" rx="0.85" ry="0.65"/><ellipse cx="624.25" cy="319.2" rx="0.85" ry="0.65"/><ellipse cx="619.64" cy="320.11" rx="0.85" ry="0.65"/><ellipse cx="616.26" cy="317.63" rx="0.85" ry="0.65"/><ellipse cx="617.5" cy="314.27" rx="0.85" ry="0.65"/><ellipse cx="622.11" cy="313.38" rx="0.85" ry="0.65"/><ellipse cx="625.49" cy="315.82" rx="0.85" ry="0.65"/><ellipse cx="627.22" cy="311.11" rx="0.85" ry="0.65"/><ellipse cx="622.61" cy="312.02" rx="0.85" ry="0.65"/><ellipse cx="619.24" cy="309.58" rx="0.85" ry="0.65"/><ellipse cx="620.47" cy="306.26" rx="0.85" ry="0.65"/><ellipse cx="625.08" cy="305.37" rx="0.85" ry="0.65"/><ellipse cx="628.46" cy="307.77" rx="0.85" ry="0.65"/><ellipse cx="630.2" cy="303.11" rx="0.85" ry="0.65"/><ellipse cx="625.59" cy="304.02" rx="0.85" ry="0.65"/><ellipse cx="622.21" cy="301.62" rx="0.85" ry="0.65"/><ellipse cx="623.44" cy="298.34" rx="0.85" ry="0.65"/><ellipse cx="628.06" cy="297.44" rx="0.85" ry="0.65"/><ellipse cx="631.43" cy="299.81" rx="0.85" ry="0.65"/><ellipse cx="632.37" cy="325.12" rx="0.85" ry="0.65"/><ellipse cx="627.76" cy="326.07" rx="0.85" ry="0.65"/><ellipse cx="624.39" cy="323.59" rx="0.85" ry="0.65"/><ellipse cx="625.62" cy="320.2" rx="0.85" ry="0.65"/><ellipse cx="630.23" cy="319.26" rx="0.85" ry="0.65"/><ellipse cx="633.61" cy="321.71" rx="0.85" ry="0.65"/><ellipse cx="635.35" cy="316.94" rx="0.85" ry="0.65"/><ellipse cx="630.73" cy="317.89" rx="0.85" ry="0.65"/><ellipse cx="627.36" cy="315.45" rx="0.85" ry="0.65"/><ellipse cx="628.59" cy="312.09" rx="0.85" ry="0.65"/><ellipse cx="633.21" cy="311.16" rx="0.85" ry="0.65"/><ellipse cx="636.58" cy="313.57" rx="0.85" ry="0.65"/><ellipse cx="640.5" cy="331.04" rx="0.85" ry="0.65"/><ellipse cx="635.88" cy="332.02" rx="0.85" ry="0.65"/><ellipse cx="632.51" cy="329.55" rx="0.85" ry="0.65"/><ellipse cx="633.74" cy="326.12" rx="0.85" ry="0.65"/><ellipse cx="638.36" cy="325.14" rx="0.85" ry="0.65"/><ellipse cx="641.73" cy="327.59" rx="0.85" ry="0.65"/><ellipse cx="572.99" cy="317.71" rx="0.85" ry="0.65"/><ellipse cx="585.82" cy="311.24" rx="0.85" ry="0.65"/><ellipse cx="581.21" cy="312" rx="0.85" ry="0.65"/><ellipse cx="588.83" cy="319.5" rx="0.85" ry="0.65"/><ellipse cx="592.2" cy="322.05" rx="0.85" ry="0.65"/><ellipse cx="599.89" cy="301.44" rx="0.85" ry="0.65"/><ellipse cx="595.27" cy="302.24" rx="0.85" ry="0.65"/><ellipse cx="613.95" cy="291.63" rx="0.85" ry="0.65"/><ellipse cx="615.19" cy="288.41" rx="0.85" ry="0.65"/><ellipse cx="608.04" cy="323.61" rx="0.85" ry="0.65"/><ellipse cx="611.42" cy="326.13" rx="0.85" ry="0.65"/><ellipse cx="623.41" cy="282.7" rx="0.85" ry="0.65"/><ellipse cx="625.18" cy="293.75" rx="0.85" ry="0.65"/><ellipse cx="628.56" cy="296.12" rx="0.85" ry="0.65"/><ellipse cx="627.26" cy="327.45" rx="0.85" ry="0.65"/><ellipse cx="630.64" cy="329.94" rx="0.85" ry="0.65"/><ellipse cx="630.33" cy="307.4" rx="0.85" ry="0.65"/><ellipse cx="633.71" cy="309.8" rx="0.85" ry="0.65"/><ellipse cx="635.48" cy="321.32" rx="0.85" ry="0.65"/><ellipse cx="638.86" cy="323.76" rx="0.85" ry="0.65"/><ellipse cx="641.87" cy="332.04" rx="0.85" ry="0.65"/></g><ellipse cx="591.41" cy="310.47" rx="2.23" ry="1.56" fill="url(#bumpB)"/><ellipse cx="594.11" cy="308.78" rx="2.19" ry="1.53" fill="url(#bumpB)"/><ellipse cx="590.35" cy="318.44" rx="1.72" ry="1.2" fill="url(#bumpB)"/><ellipse cx="587.46" cy="314.38" rx="2.35" ry="1.65" fill="url(#bumpB)"/><ellipse cx="608.14" cy="297.93" rx="2.37" ry="1.66" fill="url(#bumpB)"/><ellipse cx="606.3" cy="304.4" rx="2.66" ry="1.86" fill="url(#bumpB)"/><ellipse cx="602.21" cy="311.57" rx="2.4" ry="1.68" fill="url(#bumpB)"/><ellipse cx="624.27" cy="295.19" rx="2" ry="1.4" fill="url(#bumpB)"/><ellipse cx="588.02" cy="316.98" rx="2.33" ry="1.63" fill="url(#bumpB)"/><ellipse cx="605.36" cy="308.01" rx="2.85" ry="1.99" fill="url(#bumpB)"/><ellipse cx="614.69" cy="295.03" rx="2.43" ry="1.7" fill="url(#bumpB)"/><ellipse cx="603.84" cy="303.93" rx="2.7" ry="1.89" fill="url(#bumpB)"/><ellipse cx="610.3" cy="296.69" rx="1.61" ry="1.13" fill="url(#bumpB)"/><ellipse cx="619.96" cy="294.35" rx="2.5" ry="1.75" fill="url(#bumpB)"/><ellipse cx="590.5" cy="302.6" rx="4.6" ry="2.6" fill="url(#glowB)"/><path d="M590.05,252.7L590.03,256.88L589.98,261.07L589.9,265.25L589.79,269.43L589.64,273.62L589.46,277.8L589.25,281.98L589.01,286.17L588.73,290.35L588.42,294.53L588.08,298.72L587.7,302.9L593.3,302.9L592.92,298.72L592.58,294.53L592.27,290.35L591.99,286.17L591.75,281.98L591.54,277.8L591.36,273.62L591.21,269.43L591.1,265.25L591.02,261.07L590.97,256.88L590.95,252.7Z" fill="url(#sg4_0)"/><ellipse cx="590.5" cy="302.1" rx="1.4" ry="0.9" fill="#ffffff" opacity="0.55"/><ellipse cx="605.1" cy="295.9" rx="4.6" ry="2.6" fill="url(#glowB)"/><path d="M604.65,244.7L604.63,248.99L604.58,253.28L604.5,257.57L604.39,261.87L604.24,266.16L604.06,270.45L603.85,274.74L603.61,279.03L603.33,283.32L603.02,287.62L602.68,291.91L602.3,296.2L607.9,296.2L607.52,291.91L607.18,287.62L606.87,283.32L606.59,279.03L606.35,274.74L606.14,270.45L605.96,266.16L605.81,261.87L605.7,257.57L605.62,253.28L605.57,248.99L605.55,244.7Z" fill="url(#sg4_1)"/><ellipse cx="605.1" cy="295.4" rx="1.4" ry="0.9" fill="#ffffff" opacity="0.55"/><text x="619.45" y="246.9" font-size="10.1" letter-spacing="-0.2" text-anchor="middle"><tspan font-style="italic">γ</tspan>=1.6,<tspan font-style="italic">n</tspan>=75</text></g>
<g><path d="M159.1,373.3L94.8,414.2M159.1,373.3L223.4,414.2M94.8,414.2L159.1,459.2M223.4,414.2L159.1,459.2M159.1,433.9L99.7,474.9M159.1,433.9L218.5,474.9M99.7,474.9L159.1,521.9M218.5,474.9L159.1,521.9M159.1,373.3L159.1,433.9M94.8,414.2L99.7,474.9M223.4,414.2L218.5,474.9M159.1,459.2L159.1,521.9" stroke="rgba(0,0,0,0.17)" stroke-width="0.75" fill="none"/><polygon points="159.1,405.42 220.8,446.37 159.1,492.43 97.4,446.37" fill="#4e9e50"/><path d="M94.8,414.2L159.1,459.2L223.4,414.2M159.1,459.2L159.1,492.43" clip-path="url(#cp5)" stroke="rgba(0,0,0,0.17)" stroke-width="0.75" fill="none"/><path d="M119.05,453.02L112.61,451.61L110.89,447L115.6,443.83L122.04,445.22L123.77,449.8ZM130.43,451.12L123.99,449.76L122.27,445.18L126.98,441.98L133.42,443.31L135.14,447.87ZM133.48,443.16L127.04,441.82L125.32,437.29L130.03,434.12L136.47,435.43L138.19,439.93ZM138.76,457.18L132.32,455.85L130.6,451.24L135.31,447.99L141.75,449.3L143.47,453.88ZM141.81,449.14L135.37,447.83L133.65,443.28L138.36,440.05L144.8,441.33L146.52,445.86ZM144.86,441.17L138.42,439.89L136.69,435.39L141.41,432.19L147.85,433.45L149.57,437.92ZM147.91,433.29L141.47,432.04L139.74,427.58L144.46,424.41L150.89,425.64L152.62,430.07ZM150.14,455.12L143.7,453.84L141.98,449.26L146.69,445.98L153.13,447.24L154.85,451.79ZM153.19,447.08L146.75,445.82L145.02,441.29L149.74,438.04L156.18,439.27L157.9,443.77ZM156.24,439.11L149.8,437.88L148.07,433.41L152.79,430.18L159.22,431.38L160.95,435.84ZM159.29,431.23L152.85,430.03L151.12,425.6L155.84,422.4L162.27,423.58L164,427.98ZM162.33,423.42L155.9,422.25L154.17,417.88L158.88,414.71L165.32,415.85L167.05,420.2ZM158.47,461.1L152.03,459.85L150.31,455.24L155.02,451.91L161.46,453.14L163.18,457.72ZM161.52,452.98L155.08,451.75L153.35,447.19L158.07,443.89L164.51,445.09L166.23,449.62ZM164.57,444.93L158.13,443.73L156.4,439.23L161.12,435.95L167.55,437.13L169.28,441.6ZM167.62,436.97L161.18,435.79L159.45,431.34L164.17,428.09L170.6,429.24L172.33,433.67ZM169.85,458.88L163.41,457.68L161.68,453.1L166.4,449.74L172.84,450.92L174.56,455.47ZM172.9,450.75L166.46,449.58L164.73,445.05L169.45,441.72L175.88,442.87L177.61,447.37ZM178.18,464.78L171.74,463.61L170.01,459L174.73,455.59L181.17,456.74L182.89,461.32Z" fill="none" stroke="rgba(240,240,255,0.6)" stroke-width="0.55"/><g fill="#ee1111"><ellipse cx="119.73" cy="450.18" rx="1.0" ry="0.75"/><ellipse cx="116.45" cy="450.71" rx="1.0" ry="0.75"/><ellipse cx="114.04" cy="448.94" rx="1.0" ry="0.75"/><ellipse cx="114.92" cy="446.65" rx="1.0" ry="0.75"/><ellipse cx="118.21" cy="446.12" rx="1.0" ry="0.75"/><ellipse cx="120.61" cy="447.88" rx="1.0" ry="0.75"/><ellipse cx="131.11" cy="448.28" rx="1.0" ry="0.75"/><ellipse cx="127.83" cy="448.84" rx="1.0" ry="0.75"/><ellipse cx="125.42" cy="447.09" rx="1.0" ry="0.75"/><ellipse cx="126.3" cy="444.79" rx="1.0" ry="0.75"/><ellipse cx="129.59" cy="444.25" rx="1.0" ry="0.75"/><ellipse cx="131.99" cy="445.98" rx="1.0" ry="0.75"/><ellipse cx="134.16" cy="440.34" rx="1.0" ry="0.75"/><ellipse cx="130.87" cy="440.9" rx="1.0" ry="0.75"/><ellipse cx="128.47" cy="439.18" rx="1.0" ry="0.75"/><ellipse cx="129.35" cy="436.91" rx="1.0" ry="0.75"/><ellipse cx="132.63" cy="436.36" rx="1.0" ry="0.75"/><ellipse cx="135.04" cy="438.07" rx="1.0" ry="0.75"/><ellipse cx="139.44" cy="454.32" rx="1.0" ry="0.75"/><ellipse cx="136.16" cy="454.9" rx="1.0" ry="0.75"/><ellipse cx="133.75" cy="453.15" rx="1.0" ry="0.75"/><ellipse cx="134.63" cy="450.83" rx="1.0" ry="0.75"/><ellipse cx="137.92" cy="450.26" rx="1.0" ry="0.75"/><ellipse cx="140.32" cy="451.99" rx="1.0" ry="0.75"/><ellipse cx="142.49" cy="446.3" rx="1.0" ry="0.75"/><ellipse cx="139.2" cy="446.88" rx="1.0" ry="0.75"/><ellipse cx="136.8" cy="445.15" rx="1.0" ry="0.75"/><ellipse cx="137.68" cy="442.86" rx="1.0" ry="0.75"/><ellipse cx="140.96" cy="442.29" rx="1.0" ry="0.75"/><ellipse cx="143.37" cy="444" rx="1.0" ry="0.75"/><ellipse cx="145.54" cy="438.37" rx="1.0" ry="0.75"/><ellipse cx="142.25" cy="438.95" rx="1.0" ry="0.75"/><ellipse cx="139.85" cy="437.24" rx="1.0" ry="0.75"/><ellipse cx="140.73" cy="434.97" rx="1.0" ry="0.75"/><ellipse cx="144.01" cy="434.4" rx="1.0" ry="0.75"/><ellipse cx="146.42" cy="436.09" rx="1.0" ry="0.75"/><ellipse cx="148.59" cy="430.51" rx="1.0" ry="0.75"/><ellipse cx="145.3" cy="431.09" rx="1.0" ry="0.75"/><ellipse cx="142.9" cy="429.41" rx="1.0" ry="0.75"/><ellipse cx="143.78" cy="427.17" rx="1.0" ry="0.75"/><ellipse cx="147.06" cy="426.59" rx="1.0" ry="0.75"/><ellipse cx="149.47" cy="428.26" rx="1.0" ry="0.75"/><ellipse cx="150.82" cy="452.26" rx="1.0" ry="0.75"/><ellipse cx="147.53" cy="452.86" rx="1.0" ry="0.75"/><ellipse cx="145.13" cy="451.13" rx="1.0" ry="0.75"/><ellipse cx="146.01" cy="448.82" rx="1.0" ry="0.75"/><ellipse cx="149.29" cy="448.22" rx="1.0" ry="0.75"/><ellipse cx="151.7" cy="449.94" rx="1.0" ry="0.75"/><ellipse cx="153.87" cy="444.24" rx="1.0" ry="0.75"/><ellipse cx="150.58" cy="444.84" rx="1.0" ry="0.75"/><ellipse cx="148.18" cy="443.14" rx="1.0" ry="0.75"/><ellipse cx="149.06" cy="440.85" rx="1.0" ry="0.75"/><ellipse cx="152.34" cy="440.25" rx="1.0" ry="0.75"/><ellipse cx="154.75" cy="441.94" rx="1.0" ry="0.75"/><ellipse cx="156.92" cy="436.31" rx="1.0" ry="0.75"/><ellipse cx="153.63" cy="436.91" rx="1.0" ry="0.75"/><ellipse cx="151.23" cy="435.23" rx="1.0" ry="0.75"/><ellipse cx="152.11" cy="432.96" rx="1.0" ry="0.75"/><ellipse cx="155.39" cy="432.36" rx="1.0" ry="0.75"/><ellipse cx="157.8" cy="434.03" rx="1.0" ry="0.75"/><ellipse cx="159.97" cy="428.45" rx="1.0" ry="0.75"/><ellipse cx="156.68" cy="429.05" rx="1.0" ry="0.75"/><ellipse cx="154.28" cy="427.4" rx="1.0" ry="0.75"/><ellipse cx="155.16" cy="425.15" rx="1.0" ry="0.75"/><ellipse cx="158.44" cy="424.56" rx="1.0" ry="0.75"/><ellipse cx="160.85" cy="426.2" rx="1.0" ry="0.75"/><ellipse cx="163.01" cy="420.68" rx="1.0" ry="0.75"/><ellipse cx="159.73" cy="421.28" rx="1.0" ry="0.75"/><ellipse cx="157.32" cy="419.65" rx="1.0" ry="0.75"/><ellipse cx="158.2" cy="417.43" rx="1.0" ry="0.75"/><ellipse cx="161.49" cy="416.83" rx="1.0" ry="0.75"/><ellipse cx="163.89" cy="418.45" rx="1.0" ry="0.75"/><ellipse cx="159.15" cy="458.21" rx="1.0" ry="0.75"/><ellipse cx="155.86" cy="458.84" rx="1.0" ry="0.75"/><ellipse cx="153.46" cy="457.11" rx="1.0" ry="0.75"/><ellipse cx="154.34" cy="454.77" rx="1.0" ry="0.75"/><ellipse cx="157.62" cy="454.16" rx="1.0" ry="0.75"/><ellipse cx="160.03" cy="455.87" rx="1.0" ry="0.75"/><ellipse cx="162.2" cy="450.12" rx="1.0" ry="0.75"/><ellipse cx="158.91" cy="450.74" rx="1.0" ry="0.75"/><ellipse cx="156.51" cy="449.04" rx="1.0" ry="0.75"/><ellipse cx="157.39" cy="446.72" rx="1.0" ry="0.75"/><ellipse cx="160.67" cy="446.11" rx="1.0" ry="0.75"/><ellipse cx="163.08" cy="447.79" rx="1.0" ry="0.75"/><ellipse cx="165.25" cy="442.1" rx="1.0" ry="0.75"/><ellipse cx="161.96" cy="442.73" rx="1.0" ry="0.75"/><ellipse cx="159.56" cy="441.05" rx="1.0" ry="0.75"/><ellipse cx="160.44" cy="438.76" rx="1.0" ry="0.75"/><ellipse cx="163.72" cy="438.14" rx="1.0" ry="0.75"/><ellipse cx="166.13" cy="439.8" rx="1.0" ry="0.75"/><ellipse cx="168.3" cy="434.17" rx="1.0" ry="0.75"/><ellipse cx="165.01" cy="434.79" rx="1.0" ry="0.75"/><ellipse cx="162.61" cy="433.14" rx="1.0" ry="0.75"/><ellipse cx="163.49" cy="430.87" rx="1.0" ry="0.75"/><ellipse cx="166.77" cy="430.25" rx="1.0" ry="0.75"/><ellipse cx="169.18" cy="431.89" rx="1.0" ry="0.75"/><ellipse cx="170.53" cy="455.99" rx="1.0" ry="0.75"/><ellipse cx="167.24" cy="456.64" rx="1.0" ry="0.75"/><ellipse cx="164.84" cy="454.94" rx="1.0" ry="0.75"/><ellipse cx="165.72" cy="452.6" rx="1.0" ry="0.75"/><ellipse cx="169" cy="451.96" rx="1.0" ry="0.75"/><ellipse cx="171.41" cy="453.65" rx="1.0" ry="0.75"/><ellipse cx="173.58" cy="447.9" rx="1.0" ry="0.75"/><ellipse cx="170.29" cy="448.55" rx="1.0" ry="0.75"/><ellipse cx="167.89" cy="446.87" rx="1.0" ry="0.75"/><ellipse cx="168.77" cy="444.55" rx="1.0" ry="0.75"/><ellipse cx="172.05" cy="443.91" rx="1.0" ry="0.75"/><ellipse cx="174.46" cy="445.57" rx="1.0" ry="0.75"/><ellipse cx="178.86" cy="461.87" rx="1.0" ry="0.75"/><ellipse cx="175.57" cy="462.54" rx="1.0" ry="0.75"/><ellipse cx="173.17" cy="460.84" rx="1.0" ry="0.75"/><ellipse cx="174.05" cy="458.48" rx="1.0" ry="0.75"/><ellipse cx="177.33" cy="457.81" rx="1.0" ry="0.75"/><ellipse cx="179.74" cy="459.5" rx="1.0" ry="0.75"/><ellipse cx="109.23" cy="449.7" rx="1.0" ry="0.75"/><ellipse cx="122.78" cy="442.24" rx="1.0" ry="0.75"/><ellipse cx="123.66" cy="439.97" rx="1.0" ry="0.75"/><ellipse cx="126.54" cy="452.21" rx="1.0" ry="0.75"/><ellipse cx="128.94" cy="453.97" rx="1.0" ry="0.75"/><ellipse cx="137.21" cy="432.49" rx="1.0" ry="0.75"/><ellipse cx="133.92" cy="433.05" rx="1.0" ry="0.75"/><ellipse cx="151.64" cy="422.74" rx="1.0" ry="0.75"/><ellipse cx="148.35" cy="423.32" rx="1.0" ry="0.75"/><ellipse cx="146.25" cy="456.27" rx="1.0" ry="0.75"/><ellipse cx="148.65" cy="458.01" rx="1.0" ry="0.75"/><ellipse cx="162.78" cy="413.59" rx="1.0" ry="0.75"/><ellipse cx="165.65" cy="425.3" rx="1.0" ry="0.75"/><ellipse cx="168.06" cy="426.94" rx="1.0" ry="0.75"/><ellipse cx="165.95" cy="460.09" rx="1.0" ry="0.75"/><ellipse cx="168.36" cy="461.8" rx="1.0" ry="0.75"/><ellipse cx="170.94" cy="438.87" rx="1.0" ry="0.75"/><ellipse cx="173.34" cy="440.53" rx="1.0" ry="0.75"/><ellipse cx="176.22" cy="452.68" rx="1.0" ry="0.75"/><ellipse cx="178.62" cy="454.36" rx="1.0" ry="0.75"/><ellipse cx="182.38" cy="464.35" rx="1.0" ry="0.75"/></g><ellipse cx="158.93" cy="431.84" rx="2.38" ry="1.67" fill="url(#teal)"/><ellipse cx="163.31" cy="455.85" rx="2.35" ry="1.64" fill="url(#bump)"/><ellipse cx="132.12" cy="442.6" rx="2.2" ry="1.54" fill="url(#bump)"/><ellipse cx="154.07" cy="449.59" rx="2.71" ry="1.9" fill="url(#bump)"/><ellipse cx="133.98" cy="442.32" rx="2.33" ry="1.63" fill="url(#teal)"/><ellipse cx="157.28" cy="431.22" rx="1.73" ry="1.21" fill="url(#bump)"/><ellipse cx="153.01" cy="449.19" rx="2.55" ry="1.79" fill="url(#bump)"/><ellipse cx="144.9" cy="439.23" rx="2.51" ry="1.76" fill="url(#bump)"/><ellipse cx="142.66" cy="449.09" rx="1.73" ry="1.21" fill="url(#teal)"/><ellipse cx="159.5" cy="427.35" rx="2.28" ry="1.6" fill="url(#bump)"/><ellipse cx="169.59" cy="443.83" rx="2.87" ry="2.01" fill="url(#bump)"/><ellipse cx="171.17" cy="452.04" rx="2.44" ry="1.71" fill="url(#bump)"/><ellipse cx="141.39" cy="443.74" rx="2.48" ry="1.73" fill="url(#teal)"/><ellipse cx="172.27" cy="459.38" rx="2.22" ry="1.56" fill="url(#bump)"/><ellipse cx="137.66" cy="448.18" rx="2.15" ry="1.51" fill="url(#bump)"/><ellipse cx="162.28" cy="448.4" rx="2.88" ry="2.02" fill="url(#bump)"/><ellipse cx="168.97" cy="457.88" rx="1.97" ry="1.38" fill="url(#teal)"/><ellipse cx="170.84" cy="448.85" rx="2.2" ry="1.54" fill="url(#bump)"/><ellipse cx="144.82" cy="433.66" rx="1.72" ry="1.21" fill="url(#bump)"/><ellipse cx="143.37" cy="444.57" rx="2.27" ry="1.59" fill="url(#bump)"/><ellipse cx="151.6" cy="448.72" rx="2.46" ry="1.72" fill="url(#teal)"/><ellipse cx="141.31" cy="437.63" rx="2.5" ry="1.75" fill="url(#bump)"/><ellipse cx="171" cy="451.04" rx="2.87" ry="2.01" fill="url(#bump)"/><ellipse cx="167.61" cy="446.82" rx="1.94" ry="1.36" fill="url(#bump)"/><ellipse cx="162.47" cy="441.34" rx="1.87" ry="1.31" fill="url(#teal)"/><ellipse cx="155.11" cy="445.97" rx="2.07" ry="1.45" fill="url(#bump)"/><ellipse cx="167.19" cy="454.15" rx="2.04" ry="1.42" fill="url(#bump)"/><ellipse cx="142.33" cy="445.23" rx="2.79" ry="1.95" fill="url(#bump)"/><ellipse cx="168.1" cy="457.37" rx="1.87" ry="1.31" fill="url(#teal)"/><ellipse cx="141.81" cy="452.99" rx="2.21" ry="1.55" fill="url(#bump)"/><ellipse cx="164.24" cy="455.68" rx="2.9" ry="2.03" fill="url(#bump)"/><ellipse cx="157.88" cy="430.54" rx="2.13" ry="1.49" fill="url(#bump)"/><ellipse cx="151.42" cy="434.3" rx="2.2" ry="1.54" fill="url(#teal)"/><ellipse cx="149.5" cy="449.3" rx="2.14" ry="1.5" fill="url(#bump)"/><ellipse cx="136.41" cy="449.54" rx="2.02" ry="1.41" fill="url(#bump)"/><ellipse cx="133.28" cy="438.08" rx="2.02" ry="1.41" fill="url(#bump)"/><ellipse cx="163.47" cy="429.6" rx="2.69" ry="1.88" fill="url(#teal)"/><ellipse cx="130.4" cy="448.19" rx="1.62" ry="1.13" fill="url(#bump)"/><ellipse cx="150.66" cy="452.08" rx="1.69" ry="1.18" fill="url(#bump)"/><ellipse cx="163.12" cy="454.54" rx="2.65" ry="1.85" fill="url(#bump)"/><ellipse cx="144.71" cy="447.63" rx="2.54" ry="1.78" fill="url(#teal)"/><ellipse cx="158.08" cy="431.34" rx="2.15" ry="1.51" fill="url(#bump)"/><ellipse cx="161.24" cy="455.65" rx="2.22" ry="1.56" fill="url(#bump)"/><ellipse cx="157.31" cy="427.25" rx="2.21" ry="1.55" fill="url(#bump)"/><ellipse cx="163.57" cy="443.66" rx="1.93" ry="1.35" fill="url(#teal)"/><ellipse cx="158.68" cy="456.75" rx="2.16" ry="1.51" fill="url(#bump)"/><ellipse cx="154.18" cy="432.22" rx="2.06" ry="1.44" fill="url(#bump)"/><ellipse cx="131.1" cy="445.99" rx="2.37" ry="1.66" fill="url(#bump)"/><ellipse cx="141.13" cy="441.17" rx="2.04" ry="1.43" fill="url(#teal)"/><ellipse cx="159.5" cy="439.02" rx="2.37" ry="1.66" fill="url(#bump)"/><ellipse cx="148.46" cy="454.51" rx="1.65" ry="1.16" fill="url(#bump)"/><ellipse cx="155.68" cy="429.67" rx="2.89" ry="2.02" fill="url(#bump)"/><ellipse cx="155.62" cy="439.93" rx="1.62" ry="1.13" fill="url(#teal)"/><ellipse cx="161.71" cy="428.73" rx="2.21" ry="1.55" fill="url(#bump)"/><ellipse cx="165.25" cy="452.48" rx="2.09" ry="1.46" fill="url(#bump)"/><ellipse cx="156.36" cy="443.34" rx="1.77" ry="1.24" fill="url(#bump)"/><ellipse cx="150.05" cy="441.17" rx="2.87" ry="2.01" fill="url(#teal)"/><ellipse cx="155.01" cy="431.4" rx="2.18" ry="1.53" fill="url(#bump)"/><ellipse cx="134.36" cy="444.64" rx="1.84" ry="1.29" fill="url(#bump)"/><ellipse cx="158.56" cy="446.59" rx="2.03" ry="1.42" fill="url(#bump)"/><ellipse cx="166.95" cy="447.52" rx="1.85" ry="1.29" fill="url(#teal)"/><ellipse cx="160.54" cy="450.39" rx="2.31" ry="1.62" fill="url(#bump)"/><ellipse cx="121.68" cy="447.99" rx="2.9" ry="2.03" fill="url(#bump)"/><ellipse cx="150.91" cy="438.45" rx="2.85" ry="2" fill="url(#bump)"/><ellipse cx="137.05" cy="450.25" rx="1.9" ry="1.33" fill="url(#teal)"/><ellipse cx="131.15" cy="439.27" rx="2.52" ry="1.77" fill="url(#bump)"/><ellipse cx="157.61" cy="435.14" rx="2.33" ry="1.63" fill="url(#bump)"/><ellipse cx="141.08" cy="435.03" rx="2.59" ry="1.82" fill="url(#bump)"/><ellipse cx="147.95" cy="453.77" rx="1.8" ry="1.26" fill="url(#teal)"/><ellipse cx="154.76" cy="429.29" rx="1.66" ry="1.16" fill="url(#bump)"/><ellipse cx="147.05" cy="447.74" rx="1.76" ry="1.23" fill="url(#bump)"/><ellipse cx="141.73" cy="450.78" rx="2.78" ry="1.95" fill="url(#bump)"/><ellipse cx="171.36" cy="451.02" rx="1.67" ry="1.17" fill="url(#teal)"/><ellipse cx="164.26" cy="445.58" rx="1.65" ry="1.16" fill="url(#bump)"/><ellipse cx="132.31" cy="448.03" rx="2.2" ry="1.54" fill="url(#bump)"/><ellipse cx="139.83" cy="442.92" rx="1.68" ry="1.18" fill="url(#bump)"/><ellipse cx="152.64" cy="434.48" rx="1.83" ry="1.28" fill="url(#teal)"/><ellipse cx="165.9" cy="443.49" rx="2.84" ry="1.99" fill="url(#bump)"/><ellipse cx="171.65" cy="455" rx="1.83" ry="1.28" fill="url(#bump)"/><ellipse cx="134.57" cy="438.46" rx="2.59" ry="1.81" fill="url(#bump)"/><ellipse cx="123.5" cy="451.7" rx="4.14" ry="2.34" fill="url(#glowG)"/><path d="M123.05,430L123.02,431.83L122.96,433.67L122.86,435.5L122.73,437.33L122.57,439.17L122.38,441L122.16,442.83L121.92,444.67L121.66,446.5L121.36,448.33L121.05,450.17L120.71,452L126.29,452L125.95,450.17L125.64,448.33L125.34,446.5L125.08,444.67L124.84,442.83L124.62,441L124.43,439.17L124.27,437.33L124.14,435.5L124.04,433.67L123.98,431.83L123.95,430Z" fill="url(#sg5_0)"/><ellipse cx="123.5" cy="451.2" rx="1.26" ry="0.81" fill="#ffffff" opacity="0.55"/><ellipse cx="125.4" cy="453.3" rx="4.14" ry="2.34" fill="url(#glowG)"/><path d="M124.95,419.4L124.92,422.25L124.86,425.1L124.76,427.95L124.63,430.8L124.47,433.65L124.28,436.5L124.06,439.35L123.82,442.2L123.56,445.05L123.26,447.9L122.95,450.75L122.61,453.6L128.19,453.6L127.85,450.75L127.54,447.9L127.24,445.05L126.98,442.2L126.74,439.35L126.52,436.5L126.33,433.65L126.17,430.8L126.04,427.95L125.94,425.1L125.88,422.25L125.85,419.4Z" fill="url(#sg5_1)"/><ellipse cx="125.4" cy="452.8" rx="1.26" ry="0.81" fill="#ffffff" opacity="0.55"/><ellipse cx="128" cy="452.7" rx="4.14" ry="2.34" fill="url(#glowG)"/><path d="M127.55,424L127.52,426.42L127.46,428.83L127.36,431.25L127.23,433.67L127.07,436.08L126.88,438.5L126.66,440.92L126.42,443.33L126.16,445.75L125.86,448.17L125.55,450.58L125.21,453L130.79,453L130.45,450.58L130.14,448.17L129.84,445.75L129.58,443.33L129.34,440.92L129.12,438.5L128.93,436.08L128.77,433.67L128.64,431.25L128.54,428.83L128.48,426.42L128.45,424Z" fill="url(#sg5_2)"/><ellipse cx="128" cy="452.2" rx="1.26" ry="0.81" fill="#ffffff" opacity="0.55"/><ellipse cx="130.5" cy="451.7" rx="3.68" ry="2.08" fill="url(#glowG)"/><path d="M130.05,436L130.03,437.33L129.97,438.67L129.88,440L129.77,441.33L129.63,442.67L129.47,444L129.28,445.33L129.07,446.67L128.84,448L128.59,449.33L128.31,450.67L128.02,452L132.98,452L132.69,450.67L132.41,449.33L132.16,448L131.93,446.67L131.72,445.33L131.53,444L131.37,442.67L131.23,441.33L131.12,440L131.03,438.67L130.97,437.33L130.95,436Z" fill="url(#sg5_3)"/><ellipse cx="130.5" cy="451.2" rx="1.12" ry="0.72" fill="#ffffff" opacity="0.55"/><ellipse cx="171" cy="439.9" rx="4.14" ry="2.34" fill="url(#glowG)"/><path d="M170.55,414L170.52,416.18L170.46,418.37L170.36,420.55L170.23,422.73L170.07,424.92L169.88,427.1L169.66,429.28L169.42,431.47L169.16,433.65L168.86,435.83L168.55,438.02L168.21,440.2L173.79,440.2L173.45,438.02L173.14,435.83L172.84,433.65L172.58,431.47L172.34,429.28L172.12,427.1L171.93,424.92L171.77,422.73L171.64,420.55L171.54,418.37L171.48,416.18L171.45,414Z" fill="url(#sg5_4)"/><ellipse cx="171" cy="439.4" rx="1.26" ry="0.81" fill="#ffffff" opacity="0.55"/><ellipse cx="173.5" cy="439.7" rx="4.14" ry="2.34" fill="url(#glowG)"/><path d="M173.05,420L173.02,421.67L172.96,423.33L172.86,425L172.73,426.67L172.57,428.33L172.38,430L172.16,431.67L171.92,433.33L171.66,435L171.36,436.67L171.05,438.33L170.71,440L176.29,440L175.95,438.33L175.64,436.67L175.34,435L175.08,433.33L174.84,431.67L174.62,430L174.43,428.33L174.27,426.67L174.14,425L174.04,423.33L173.98,421.67L173.95,420Z" fill="url(#sg5_5)"/><ellipse cx="173.5" cy="439.2" rx="1.26" ry="0.81" fill="#ffffff" opacity="0.55"/><ellipse cx="176.3" cy="453.3" rx="3.22" ry="1.82" fill="url(#glowG)"/><path d="M175.85,440.2L175.83,441.32L175.78,442.43L175.71,443.55L175.61,444.67L175.49,445.78L175.36,446.9L175.2,448.02L175.02,449.13L174.83,450.25L174.61,451.37L174.38,452.48L174.13,453.6L178.47,453.6L178.22,452.48L177.99,451.37L177.77,450.25L177.58,449.13L177.4,448.02L177.24,446.9L177.11,445.78L176.99,444.67L176.89,443.55L176.82,442.43L176.77,441.32L176.75,440.2Z" fill="url(#sg5_6)"/><ellipse cx="176.3" cy="452.8" rx="0.98" ry="0.63" fill="#ffffff" opacity="0.55"/><text x="158.35" y="397.8" font-size="10.1" letter-spacing="-0.2" text-anchor="middle"><tspan font-style="italic">γ</tspan>=0.6,<tspan font-style="italic">n</tspan>=22</text></g>
<g><path d="M291,373.3L226.7,414.2M291,373.3L355.3,414.2M226.7,414.2L291,459.2M355.3,414.2L291,459.2M291,433.9L231.6,474.9M291,433.9L350.4,474.9M231.6,474.9L291,521.9M350.4,474.9L291,521.9M291,373.3L291,433.9M226.7,414.2L231.6,474.9M355.3,414.2L350.4,474.9M291,459.2L291,521.9" stroke="rgba(0,0,0,0.17)" stroke-width="0.75" fill="none"/><path d="M259.3,468L260.5,468L260.15,476L259.65,476Z" fill="#101870"/><polygon points="291,405.42 352.7,446.37 291,492.43 229.3,446.37" fill="#82fa82"/><path d="M226.7,414.2L291,459.2L355.3,414.2M291,459.2L291,492.43" clip-path="url(#cp6)" stroke="rgba(0,0,0,0.17)" stroke-width="0.75" fill="none"/><path d="M250.95,453.02L244.51,451.61L242.79,447L247.5,443.83L253.94,445.22L255.67,449.8ZM262.33,451.12L255.89,449.76L254.17,445.18L258.88,441.98L265.32,443.31L267.04,447.87ZM265.38,443.16L258.94,441.82L257.22,437.29L261.93,434.12L268.37,435.43L270.09,439.93ZM270.66,457.18L264.22,455.85L262.5,451.24L267.21,447.99L273.65,449.3L275.37,453.88ZM273.71,449.14L267.27,447.83L265.55,443.28L270.26,440.05L276.7,441.33L278.42,445.86ZM276.76,441.17L270.32,439.89L268.59,435.39L273.31,432.19L279.75,433.45L281.47,437.92ZM279.81,433.29L273.37,432.04L271.64,427.58L276.36,424.41L282.79,425.64L284.52,430.07ZM282.04,455.12L275.6,453.84L273.88,449.26L278.59,445.98L285.03,447.24L286.75,451.79ZM285.09,447.08L278.65,445.82L276.92,441.29L281.64,438.04L288.08,439.27L289.8,443.77ZM288.14,439.11L281.7,437.88L279.97,433.41L284.69,430.18L291.12,431.38L292.85,435.84ZM291.19,431.23L284.75,430.03L283.02,425.6L287.74,422.4L294.17,423.58L295.9,427.98ZM294.23,423.42L287.8,422.25L286.07,417.88L290.78,414.71L297.22,415.85L298.95,420.2ZM290.37,461.1L283.93,459.85L282.21,455.24L286.92,451.91L293.36,453.14L295.08,457.72ZM293.42,452.98L286.98,451.75L285.25,447.19L289.97,443.89L296.41,445.09L298.13,449.62ZM296.47,444.93L290.03,443.73L288.3,439.23L293.02,435.95L299.45,437.13L301.18,441.6ZM299.52,436.97L293.08,435.79L291.35,431.34L296.07,428.09L302.5,429.24L304.23,433.67ZM301.75,458.88L295.31,457.68L293.58,453.1L298.3,449.74L304.74,450.92L306.46,455.47ZM304.8,450.75L298.36,449.58L296.63,445.05L301.35,441.72L307.78,442.87L309.51,447.37ZM310.08,464.78L303.64,463.61L301.91,459L306.63,455.59L313.07,456.74L314.79,461.32Z" fill="none" stroke="rgba(240,240,255,0.6)" stroke-width="0.55"/><g fill="#ee1111"><ellipse cx="251.63" cy="450.18" rx="1.0" ry="0.75"/><ellipse cx="248.35" cy="450.71" rx="1.0" ry="0.75"/><ellipse cx="245.94" cy="448.94" rx="1.0" ry="0.75"/><ellipse cx="246.82" cy="446.65" rx="1.0" ry="0.75"/><ellipse cx="250.11" cy="446.12" rx="1.0" ry="0.75"/><ellipse cx="252.51" cy="447.88" rx="1.0" ry="0.75"/><ellipse cx="263.01" cy="448.28" rx="1.0" ry="0.75"/><ellipse cx="259.73" cy="448.84" rx="1.0" ry="0.75"/><ellipse cx="257.32" cy="447.09" rx="1.0" ry="0.75"/><ellipse cx="258.2" cy="444.79" rx="1.0" ry="0.75"/><ellipse cx="261.49" cy="444.25" rx="1.0" ry="0.75"/><ellipse cx="263.89" cy="445.98" rx="1.0" ry="0.75"/><ellipse cx="266.06" cy="440.34" rx="1.0" ry="0.75"/><ellipse cx="262.77" cy="440.9" rx="1.0" ry="0.75"/><ellipse cx="260.37" cy="439.18" rx="1.0" ry="0.75"/><ellipse cx="261.25" cy="436.91" rx="1.0" ry="0.75"/><ellipse cx="264.53" cy="436.36" rx="1.0" ry="0.75"/><ellipse cx="266.94" cy="438.07" rx="1.0" ry="0.75"/><ellipse cx="271.34" cy="454.32" rx="1.0" ry="0.75"/><ellipse cx="268.06" cy="454.9" rx="1.0" ry="0.75"/><ellipse cx="265.65" cy="453.15" rx="1.0" ry="0.75"/><ellipse cx="266.53" cy="450.83" rx="1.0" ry="0.75"/><ellipse cx="269.82" cy="450.26" rx="1.0" ry="0.75"/><ellipse cx="272.22" cy="451.99" rx="1.0" ry="0.75"/><ellipse cx="274.39" cy="446.3" rx="1.0" ry="0.75"/><ellipse cx="271.1" cy="446.88" rx="1.0" ry="0.75"/><ellipse cx="268.7" cy="445.15" rx="1.0" ry="0.75"/><ellipse cx="269.58" cy="442.86" rx="1.0" ry="0.75"/><ellipse cx="272.86" cy="442.29" rx="1.0" ry="0.75"/><ellipse cx="275.27" cy="444" rx="1.0" ry="0.75"/><ellipse cx="277.44" cy="438.37" rx="1.0" ry="0.75"/><ellipse cx="274.15" cy="438.95" rx="1.0" ry="0.75"/><ellipse cx="271.75" cy="437.24" rx="1.0" ry="0.75"/><ellipse cx="272.63" cy="434.97" rx="1.0" ry="0.75"/><ellipse cx="275.91" cy="434.4" rx="1.0" ry="0.75"/><ellipse cx="278.32" cy="436.09" rx="1.0" ry="0.75"/><ellipse cx="280.49" cy="430.51" rx="1.0" ry="0.75"/><ellipse cx="277.2" cy="431.09" rx="1.0" ry="0.75"/><ellipse cx="274.8" cy="429.41" rx="1.0" ry="0.75"/><ellipse cx="275.68" cy="427.17" rx="1.0" ry="0.75"/><ellipse cx="278.96" cy="426.59" rx="1.0" ry="0.75"/><ellipse cx="281.37" cy="428.26" rx="1.0" ry="0.75"/><ellipse cx="282.72" cy="452.26" rx="1.0" ry="0.75"/><ellipse cx="279.43" cy="452.86" rx="1.0" ry="0.75"/><ellipse cx="277.03" cy="451.13" rx="1.0" ry="0.75"/><ellipse cx="277.91" cy="448.82" rx="1.0" ry="0.75"/><ellipse cx="281.19" cy="448.22" rx="1.0" ry="0.75"/><ellipse cx="283.6" cy="449.94" rx="1.0" ry="0.75"/><ellipse cx="285.77" cy="444.24" rx="1.0" ry="0.75"/><ellipse cx="282.48" cy="444.84" rx="1.0" ry="0.75"/><ellipse cx="280.08" cy="443.14" rx="1.0" ry="0.75"/><ellipse cx="280.96" cy="440.85" rx="1.0" ry="0.75"/><ellipse cx="284.24" cy="440.25" rx="1.0" ry="0.75"/><ellipse cx="286.65" cy="441.94" rx="1.0" ry="0.75"/><ellipse cx="288.82" cy="436.31" rx="1.0" ry="0.75"/><ellipse cx="285.53" cy="436.91" rx="1.0" ry="0.75"/><ellipse cx="283.13" cy="435.23" rx="1.0" ry="0.75"/><ellipse cx="284.01" cy="432.96" rx="1.0" ry="0.75"/><ellipse cx="287.29" cy="432.36" rx="1.0" ry="0.75"/><ellipse cx="289.7" cy="434.03" rx="1.0" ry="0.75"/><ellipse cx="291.87" cy="428.45" rx="1.0" ry="0.75"/><ellipse cx="288.58" cy="429.05" rx="1.0" ry="0.75"/><ellipse cx="286.18" cy="427.4" rx="1.0" ry="0.75"/><ellipse cx="287.06" cy="425.15" rx="1.0" ry="0.75"/><ellipse cx="290.34" cy="424.56" rx="1.0" ry="0.75"/><ellipse cx="292.75" cy="426.2" rx="1.0" ry="0.75"/><ellipse cx="294.91" cy="420.68" rx="1.0" ry="0.75"/><ellipse cx="291.63" cy="421.28" rx="1.0" ry="0.75"/><ellipse cx="289.22" cy="419.65" rx="1.0" ry="0.75"/><ellipse cx="290.1" cy="417.43" rx="1.0" ry="0.75"/><ellipse cx="293.39" cy="416.83" rx="1.0" ry="0.75"/><ellipse cx="295.79" cy="418.45" rx="1.0" ry="0.75"/><ellipse cx="291.05" cy="458.21" rx="1.0" ry="0.75"/><ellipse cx="287.76" cy="458.84" rx="1.0" ry="0.75"/><ellipse cx="285.36" cy="457.11" rx="1.0" ry="0.75"/><ellipse cx="286.24" cy="454.77" rx="1.0" ry="0.75"/><ellipse cx="289.52" cy="454.16" rx="1.0" ry="0.75"/><ellipse cx="291.93" cy="455.87" rx="1.0" ry="0.75"/><ellipse cx="294.1" cy="450.12" rx="1.0" ry="0.75"/><ellipse cx="290.81" cy="450.74" rx="1.0" ry="0.75"/><ellipse cx="288.41" cy="449.04" rx="1.0" ry="0.75"/><ellipse cx="289.29" cy="446.72" rx="1.0" ry="0.75"/><ellipse cx="292.57" cy="446.11" rx="1.0" ry="0.75"/><ellipse cx="294.98" cy="447.79" rx="1.0" ry="0.75"/><ellipse cx="297.15" cy="442.1" rx="1.0" ry="0.75"/><ellipse cx="293.86" cy="442.73" rx="1.0" ry="0.75"/><ellipse cx="291.46" cy="441.05" rx="1.0" ry="0.75"/><ellipse cx="292.34" cy="438.76" rx="1.0" ry="0.75"/><ellipse cx="295.62" cy="438.14" rx="1.0" ry="0.75"/><ellipse cx="298.03" cy="439.8" rx="1.0" ry="0.75"/><ellipse cx="300.2" cy="434.17" rx="1.0" ry="0.75"/><ellipse cx="296.91" cy="434.79" rx="1.0" ry="0.75"/><ellipse cx="294.51" cy="433.14" rx="1.0" ry="0.75"/><ellipse cx="295.39" cy="430.87" rx="1.0" ry="0.75"/><ellipse cx="298.67" cy="430.25" rx="1.0" ry="0.75"/><ellipse cx="301.08" cy="431.89" rx="1.0" ry="0.75"/><ellipse cx="302.43" cy="455.99" rx="1.0" ry="0.75"/><ellipse cx="299.14" cy="456.64" rx="1.0" ry="0.75"/><ellipse cx="296.74" cy="454.94" rx="1.0" ry="0.75"/><ellipse cx="297.62" cy="452.6" rx="1.0" ry="0.75"/><ellipse cx="300.9" cy="451.96" rx="1.0" ry="0.75"/><ellipse cx="303.31" cy="453.65" rx="1.0" ry="0.75"/><ellipse cx="305.48" cy="447.9" rx="1.0" ry="0.75"/><ellipse cx="302.19" cy="448.55" rx="1.0" ry="0.75"/><ellipse cx="299.79" cy="446.87" rx="1.0" ry="0.75"/><ellipse cx="300.67" cy="444.55" rx="1.0" ry="0.75"/><ellipse cx="303.95" cy="443.91" rx="1.0" ry="0.75"/><ellipse cx="306.36" cy="445.57" rx="1.0" ry="0.75"/><ellipse cx="310.76" cy="461.87" rx="1.0" ry="0.75"/><ellipse cx="307.47" cy="462.54" rx="1.0" ry="0.75"/><ellipse cx="305.07" cy="460.84" rx="1.0" ry="0.75"/><ellipse cx="305.95" cy="458.48" rx="1.0" ry="0.75"/><ellipse cx="309.23" cy="457.81" rx="1.0" ry="0.75"/><ellipse cx="311.64" cy="459.5" rx="1.0" ry="0.75"/><ellipse cx="241.13" cy="449.7" rx="1.0" ry="0.75"/><ellipse cx="254.68" cy="442.24" rx="1.0" ry="0.75"/><ellipse cx="255.56" cy="439.97" rx="1.0" ry="0.75"/><ellipse cx="258.44" cy="452.21" rx="1.0" ry="0.75"/><ellipse cx="260.84" cy="453.97" rx="1.0" ry="0.75"/><ellipse cx="269.11" cy="432.49" rx="1.0" ry="0.75"/><ellipse cx="265.82" cy="433.05" rx="1.0" ry="0.75"/><ellipse cx="283.54" cy="422.74" rx="1.0" ry="0.75"/><ellipse cx="280.25" cy="423.32" rx="1.0" ry="0.75"/><ellipse cx="278.15" cy="456.27" rx="1.0" ry="0.75"/><ellipse cx="280.55" cy="458.01" rx="1.0" ry="0.75"/><ellipse cx="294.68" cy="413.59" rx="1.0" ry="0.75"/><ellipse cx="297.55" cy="425.3" rx="1.0" ry="0.75"/><ellipse cx="299.96" cy="426.94" rx="1.0" ry="0.75"/><ellipse cx="297.85" cy="460.09" rx="1.0" ry="0.75"/><ellipse cx="300.26" cy="461.8" rx="1.0" ry="0.75"/><ellipse cx="302.84" cy="438.87" rx="1.0" ry="0.75"/><ellipse cx="305.24" cy="440.53" rx="1.0" ry="0.75"/><ellipse cx="308.12" cy="452.68" rx="1.0" ry="0.75"/><ellipse cx="310.52" cy="454.36" rx="1.0" ry="0.75"/><ellipse cx="314.28" cy="464.35" rx="1.0" ry="0.75"/></g><ellipse cx="289.68" cy="452.83" rx="2.41" ry="1.69" fill="url(#glint)"/><ellipse cx="292.44" cy="421.2" rx="2.6" ry="1.82" fill="url(#dkg)"/><ellipse cx="258.91" cy="448.29" rx="1.89" ry="1.32" fill="url(#glint)"/><ellipse cx="293.8" cy="449.85" rx="2.26" ry="1.58" fill="url(#bump)"/><ellipse cx="259.87" cy="449.58" rx="1.85" ry="1.3" fill="url(#glint)"/><ellipse cx="279.69" cy="437.33" rx="2.82" ry="1.97" fill="url(#dkg)"/><ellipse cx="282.97" cy="443.38" rx="2.78" ry="1.95" fill="url(#glint)"/><ellipse cx="281.93" cy="427.5" rx="2.84" ry="1.99" fill="url(#bump)"/><ellipse cx="277.56" cy="448.97" rx="1.78" ry="1.24" fill="url(#glint)"/><ellipse cx="284.33" cy="436.71" rx="1.83" ry="1.28" fill="url(#dkg)"/><ellipse cx="298.42" cy="444.78" rx="2.66" ry="1.86" fill="url(#glint)"/><ellipse cx="257.33" cy="443.24" rx="2.21" ry="1.55" fill="url(#bump)"/><ellipse cx="282.13" cy="453.76" rx="2.7" ry="1.89" fill="url(#glint)"/><ellipse cx="263.16" cy="447.49" rx="2.44" ry="1.71" fill="url(#dkg)"/><ellipse cx="285.8" cy="427.34" rx="1.64" ry="1.15" fill="url(#glint)"/><ellipse cx="273.44" cy="432.23" rx="1.75" ry="1.22" fill="url(#bump)"/><ellipse cx="277.27" cy="434.87" rx="2.55" ry="1.78" fill="url(#glint)"/><ellipse cx="280.81" cy="448.99" rx="1.96" ry="1.37" fill="url(#dkg)"/><ellipse cx="296.72" cy="450.07" rx="2.12" ry="1.49" fill="url(#glint)"/><ellipse cx="288.79" cy="444.04" rx="2.4" ry="1.68" fill="url(#bump)"/><ellipse cx="289.5" cy="426.48" rx="1.67" ry="1.17" fill="url(#glint)"/><ellipse cx="296.34" cy="447.49" rx="1.73" ry="1.21" fill="url(#dkg)"/><ellipse cx="287.42" cy="424.5" rx="2.24" ry="1.57" fill="url(#glint)"/><ellipse cx="301.88" cy="449.84" rx="1.62" ry="1.14" fill="url(#bump)"/><ellipse cx="298.47" cy="440.89" rx="2.05" ry="1.43" fill="url(#glint)"/><ellipse cx="275.48" cy="439.04" rx="2.1" ry="1.47" fill="url(#dkg)"/><ellipse cx="265.98" cy="442.7" rx="1.73" ry="1.21" fill="url(#glint)"/><ellipse cx="271.23" cy="438.01" rx="1.71" ry="1.2" fill="url(#bump)"/><ellipse cx="286.71" cy="451.11" rx="2.59" ry="1.81" fill="url(#glint)"/><ellipse cx="267.24" cy="446.83" rx="2.49" ry="1.74" fill="url(#dkg)"/><ellipse cx="280.06" cy="444.39" rx="2.24" ry="1.57" fill="url(#glint)"/><ellipse cx="275.51" cy="451.34" rx="2.19" ry="1.53" fill="url(#bump)"/><ellipse cx="294.25" cy="436.73" rx="2.79" ry="1.95" fill="url(#glint)"/><ellipse cx="283.65" cy="436.03" rx="2.21" ry="1.55" fill="url(#dkg)"/><ellipse cx="285.17" cy="438.4" rx="1.83" ry="1.28" fill="url(#glint)"/><ellipse cx="285.49" cy="425.83" rx="2.26" ry="1.58" fill="url(#bump)"/><ellipse cx="294.41" cy="447.79" rx="2.24" ry="1.57" fill="url(#glint)"/><ellipse cx="298.02" cy="449.47" rx="2.32" ry="1.62" fill="url(#dkg)"/><ellipse cx="263.19" cy="443.11" rx="2.05" ry="1.44" fill="url(#glint)"/><ellipse cx="269.53" cy="450.05" rx="2.25" ry="1.58" fill="url(#bump)"/><ellipse cx="281.73" cy="428.55" rx="1.65" ry="1.16" fill="url(#glint)"/><ellipse cx="288.84" cy="428.78" rx="2.47" ry="1.73" fill="url(#dkg)"/><ellipse cx="297.08" cy="445.21" rx="2.75" ry="1.93" fill="url(#glint)"/><ellipse cx="274.26" cy="437.1" rx="2.56" ry="1.79" fill="url(#bump)"/><ellipse cx="274.89" cy="449.59" rx="2.69" ry="1.88" fill="url(#glint)"/><ellipse cx="291.53" cy="455.42" rx="2.87" ry="2.01" fill="url(#dkg)"/><ellipse cx="299.46" cy="438.68" rx="2.24" ry="1.57" fill="url(#glint)"/><ellipse cx="288.75" cy="449.97" rx="2.15" ry="1.5" fill="url(#bump)"/><ellipse cx="272.53" cy="453.11" rx="2.57" ry="1.8" fill="url(#glint)"/><ellipse cx="288.43" cy="430.75" rx="1.89" ry="1.32" fill="url(#dkg)"/><ellipse cx="275.8" cy="442.64" rx="2" ry="1.4" fill="url(#glint)"/><ellipse cx="288.66" cy="430.5" rx="2.38" ry="1.66" fill="url(#bump)"/><ellipse cx="291.26" cy="449.4" rx="1.65" ry="1.15" fill="url(#glint)"/><ellipse cx="290.75" cy="438.92" rx="2.87" ry="2.01" fill="url(#dkg)"/><ellipse cx="262.67" cy="449.95" rx="2.81" ry="1.97" fill="url(#glint)"/><ellipse cx="287.9" cy="434.11" rx="2.27" ry="1.59" fill="url(#bump)"/><ellipse cx="275.87" cy="438.94" rx="2.41" ry="1.69" fill="url(#glint)"/><ellipse cx="283.03" cy="453.46" rx="2.05" ry="1.43" fill="url(#dkg)"/><ellipse cx="286.26" cy="448.26" rx="2.2" ry="1.54" fill="url(#glint)"/><ellipse cx="265.21" cy="442.67" rx="1.72" ry="1.21" fill="url(#bump)"/><ellipse cx="286.81" cy="438.2" rx="2.05" ry="1.44" fill="url(#glint)"/><ellipse cx="266.15" cy="437.13" rx="1.85" ry="1.29" fill="url(#dkg)"/><ellipse cx="291.21" cy="431.27" rx="2.12" ry="1.49" fill="url(#glint)"/><ellipse cx="291.35" cy="424.05" rx="2.46" ry="1.72" fill="url(#bump)"/><ellipse cx="264.64" cy="447.49" rx="2.72" ry="1.9" fill="url(#glint)"/><ellipse cx="273.72" cy="437.82" rx="1.71" ry="1.19" fill="url(#dkg)"/><ellipse cx="256.74" cy="445.61" rx="1.77" ry="1.24" fill="url(#glint)"/><ellipse cx="288.92" cy="428.78" rx="2.41" ry="1.69" fill="url(#bump)"/><ellipse cx="294.4" cy="455.88" rx="2.82" ry="1.97" fill="url(#glint)"/><ellipse cx="288.25" cy="430.91" rx="2.33" ry="1.63" fill="url(#dkg)"/><ellipse cx="298.97" cy="440.14" rx="2.28" ry="1.59" fill="url(#glint)"/><ellipse cx="284.97" cy="441.63" rx="2.72" ry="1.9" fill="url(#bump)"/><ellipse cx="293.34" cy="433.08" rx="1.87" ry="1.31" fill="url(#glint)"/><ellipse cx="268.58" cy="435.65" rx="1.6" ry="1.12" fill="url(#dkg)"/><ellipse cx="292.86" cy="436.04" rx="2.26" ry="1.58" fill="url(#glint)"/><ellipse cx="297.22" cy="434.97" rx="2.36" ry="1.66" fill="url(#bump)"/><ellipse cx="293.74" cy="434.4" rx="1.76" ry="1.23" fill="url(#glint)"/><ellipse cx="269.17" cy="435.37" rx="2.49" ry="1.75" fill="url(#dkg)"/><ellipse cx="267.9" cy="448.93" rx="2.4" ry="1.68" fill="url(#glint)"/><ellipse cx="283.87" cy="447.53" rx="2.68" ry="1.88" fill="url(#bump)"/><ellipse cx="293.73" cy="452.81" rx="2.03" ry="1.42" fill="url(#glint)"/><ellipse cx="260" cy="445.09" rx="1.69" ry="1.18" fill="url(#dkg)"/><ellipse cx="300.95" cy="443.89" rx="1.89" ry="1.33" fill="url(#glint)"/><ellipse cx="262.25" cy="450.62" rx="1.9" ry="1.33" fill="url(#bump)"/><ellipse cx="264.86" cy="440.95" rx="2.03" ry="1.42" fill="url(#glint)"/><ellipse cx="253.84" cy="447.34" rx="2.44" ry="1.71" fill="url(#dkg)"/><ellipse cx="307.38" cy="458.87" rx="1.95" ry="1.37" fill="url(#glint)"/><ellipse cx="296.66" cy="442.36" rx="2.88" ry="2.02" fill="url(#bump)"/><ellipse cx="292.83" cy="432.02" rx="1.82" ry="1.27" fill="url(#glint)"/><ellipse cx="289.37" cy="434.14" rx="2.74" ry="1.92" fill="url(#dkg)"/><ellipse cx="257.2" cy="452" rx="4.14" ry="2.34" fill="url(#glowG)"/><path d="M256.75,421.5L256.72,424.07L256.66,426.63L256.56,429.2L256.43,431.77L256.27,434.33L256.08,436.9L255.86,439.47L255.62,442.03L255.36,444.6L255.06,447.17L254.75,449.73L254.41,452.3L259.99,452.3L259.65,449.73L259.34,447.17L259.04,444.6L258.78,442.03L258.54,439.47L258.32,436.9L258.13,434.33L257.97,431.77L257.84,429.2L257.74,426.63L257.68,424.07L257.65,421.5Z" fill="url(#sg6_0)"/><ellipse cx="257.2" cy="451.5" rx="1.26" ry="0.81" fill="#ffffff" opacity="0.55"/><ellipse cx="260.5" cy="453.5" rx="3.91" ry="2.21" fill="url(#glowG)"/><path d="M260.05,430L260.03,431.98L259.96,433.97L259.87,435.95L259.75,437.93L259.6,439.92L259.42,441.9L259.22,443.88L259,445.87L258.75,447.85L258.48,449.83L258.18,451.82L257.87,453.8L263.13,453.8L262.82,451.82L262.52,449.83L262.25,447.85L262,445.87L261.78,443.88L261.58,441.9L261.4,439.92L261.25,437.93L261.13,435.95L261.04,433.97L260.97,431.98L260.95,430Z" fill="url(#sg6_1)"/><ellipse cx="260.5" cy="453" rx="1.19" ry="0.77" fill="#ffffff" opacity="0.55"/><ellipse cx="274.4" cy="456.3" rx="3.45" ry="1.95" fill="url(#glowG)"/><path d="M273.95,436.6L273.93,438.27L273.88,439.93L273.8,441.6L273.69,443.27L273.56,444.93L273.41,446.6L273.24,448.27L273.05,449.93L272.83,451.6L272.6,453.27L272.35,454.93L272.07,456.6L276.72,456.6L276.45,454.93L276.2,453.27L275.97,451.6L275.75,449.93L275.56,448.27L275.39,446.6L275.24,444.93L275.11,443.27L275,441.6L274.92,439.93L274.87,438.27L274.85,436.6Z" fill="url(#sg6_2)"/><ellipse cx="274.4" cy="455.8" rx="1.05" ry="0.68" fill="#ffffff" opacity="0.55"/><ellipse cx="280.6" cy="457" rx="3.68" ry="2.08" fill="url(#glowG)"/><path d="M280.15,434.4L280.13,436.31L280.07,438.22L279.98,440.12L279.87,442.03L279.73,443.94L279.57,445.85L279.38,447.76L279.17,449.67L278.94,451.57L278.69,453.48L278.41,455.39L278.12,457.3L283.08,457.3L282.79,455.39L282.51,453.48L282.26,451.57L282.03,449.67L281.82,447.76L281.63,445.85L281.47,443.94L281.33,442.03L281.22,440.12L281.13,438.22L281.07,436.31L281.05,434.4Z" fill="url(#sg6_3)"/><ellipse cx="280.6" cy="456.5" rx="1.12" ry="0.72" fill="#ffffff" opacity="0.55"/><ellipse cx="297.3" cy="425.5" rx="4.14" ry="2.34" fill="url(#glowG)"/><path d="M296.85,398.6L296.82,400.87L296.76,403.13L296.66,405.4L296.53,407.67L296.37,409.93L296.18,412.2L295.96,414.47L295.72,416.73L295.46,419L295.16,421.27L294.85,423.53L294.51,425.8L300.09,425.8L299.75,423.53L299.44,421.27L299.14,419L298.88,416.73L298.64,414.47L298.42,412.2L298.23,409.93L298.07,407.67L297.94,405.4L297.84,403.13L297.78,400.87L297.75,398.6Z" fill="url(#sg6_4)"/><ellipse cx="297.3" cy="425" rx="1.26" ry="0.81" fill="#ffffff" opacity="0.55"/><ellipse cx="302.4" cy="436.3" rx="4.14" ry="2.34" fill="url(#glowG)"/><path d="M301.95,406.5L301.92,409.01L301.86,411.52L301.76,414.02L301.63,416.53L301.47,419.04L301.28,421.55L301.06,424.06L300.82,426.57L300.56,429.08L300.26,431.58L299.95,434.09L299.61,436.6L305.19,436.6L304.85,434.09L304.54,431.58L304.24,429.08L303.98,426.57L303.74,424.06L303.52,421.55L303.33,419.04L303.17,416.53L303.04,414.02L302.94,411.52L302.88,409.01L302.85,406.5Z" fill="url(#sg6_5)"/><ellipse cx="302.4" cy="435.8" rx="1.26" ry="0.81" fill="#ffffff" opacity="0.55"/><ellipse cx="304.5" cy="436.7" rx="3.68" ry="2.08" fill="url(#glowG)"/><path d="M304.05,422L304.03,423.25L303.97,424.5L303.88,425.75L303.77,427L303.63,428.25L303.47,429.5L303.28,430.75L303.07,432L302.84,433.25L302.59,434.5L302.31,435.75L302.02,437L306.98,437L306.69,435.75L306.41,434.5L306.16,433.25L305.93,432L305.72,430.75L305.53,429.5L305.37,428.25L305.23,427L305.12,425.75L305.03,424.5L304.97,423.25L304.95,422Z" fill="url(#sg6_6)"/><ellipse cx="304.5" cy="436.2" rx="1.12" ry="0.72" fill="#ffffff" opacity="0.55"/><ellipse cx="308.1" cy="452" rx="2.99" ry="1.69" fill="url(#glowG)"/><path d="M307.65,442.3L307.63,443.13L307.59,443.97L307.52,444.8L307.43,445.63L307.33,446.47L307.2,447.3L307.06,448.13L306.9,448.97L306.72,449.8L306.52,450.63L306.31,451.47L306.09,452.3L310.12,452.3L309.89,451.47L309.68,450.63L309.48,449.8L309.3,448.97L309.14,448.13L309,447.3L308.87,446.47L308.77,445.63L308.68,444.8L308.61,443.97L308.57,443.13L308.55,442.3Z" fill="url(#sg6_7)"/><ellipse cx="308.1" cy="451.5" rx="0.91" ry="0.59" fill="#ffffff" opacity="0.55"/><ellipse cx="293.8" cy="459.7" rx="2.76" ry="1.56" fill="url(#glowG)"/><path d="M293.35,449.5L293.33,450.38L293.29,451.25L293.23,452.12L293.15,453L293.06,453.88L292.95,454.75L292.82,455.62L292.67,456.5L292.51,457.38L292.33,458.25L292.14,459.12L291.94,460L295.66,460L295.46,459.12L295.27,458.25L295.09,457.38L294.93,456.5L294.78,455.62L294.65,454.75L294.54,453.88L294.45,453L294.37,452.12L294.31,451.25L294.27,450.38L294.25,449.5Z" fill="url(#sg6_8)"/><ellipse cx="293.8" cy="459.2" rx="0.84" ry="0.54" fill="#ffffff" opacity="0.55"/><ellipse cx="300.2" cy="461.7" rx="2.76" ry="1.56" fill="url(#glowG)"/><path d="M299.75,450.9L299.73,451.82L299.69,452.75L299.63,453.67L299.55,454.6L299.46,455.52L299.35,456.45L299.22,457.38L299.07,458.3L298.91,459.23L298.73,460.15L298.54,461.07L298.34,462L302.06,462L301.86,461.07L301.67,460.15L301.49,459.23L301.33,458.3L301.18,457.38L301.05,456.45L300.94,455.52L300.85,454.6L300.77,453.67L300.71,452.75L300.67,451.82L300.65,450.9Z" fill="url(#sg6_9)"/><ellipse cx="300.2" cy="461.2" rx="0.84" ry="0.54" fill="#ffffff" opacity="0.55"/><text x="290.25" y="397.8" font-size="10.1" letter-spacing="-0.2" text-anchor="middle"><tspan font-style="italic">γ</tspan>=0.6,<tspan font-style="italic">n</tspan>=121</text></g>
<g><path d="M422.45,373.3L358.15,414.2M422.45,373.3L486.75,414.2M358.15,414.2L422.45,459.2M486.75,414.2L422.45,459.2M422.45,433.9L363.05,474.9M422.45,433.9L481.85,474.9M363.05,474.9L422.45,521.9M481.85,474.9L422.45,521.9M422.45,373.3L422.45,433.9M358.15,414.2L363.05,474.9M486.75,414.2L481.85,474.9M422.45,459.2L422.45,521.9" stroke="rgba(0,0,0,0.17)" stroke-width="0.75" fill="none"/><polygon points="422.45,422.39 482.78,463.37 422.45,509.99 362.12,463.37" fill="#003f9f"/><path d="M358.15,414.2L422.45,459.2L486.75,414.2M422.45,459.2L422.45,509.99" clip-path="url(#cp7)" stroke="rgba(0,0,0,0.17)" stroke-width="0.75" fill="none"/><path d="M384.99,468.06L384,468.59L382.85,468.9L381.61,468.98L380.37,468.82L379.21,468.43L378.22,467.85L377.46,467.1L376.98,466.24L376.82,465.33L376.98,464.43L377.46,463.61L378.22,462.92L379.21,462.4L380.37,462.09L381.61,462.02L382.85,462.17L384,462.55L384.99,463.13L385.75,463.87L386.23,464.73L386.39,465.63L386.23,466.53L385.75,467.36ZM396.12,466.16L395.13,466.7L393.97,467.02L392.73,467.11L391.49,466.96L390.34,466.58L389.35,466.01L388.58,465.26L388.11,464.41L387.94,463.51L388.11,462.62L388.58,461.79L389.35,461.1L390.34,460.57L391.49,460.25L392.73,460.17L393.97,460.31L395.13,460.68L396.12,461.25L396.88,461.98L397.36,462.83L397.52,463.73L397.36,464.63L396.88,465.46ZM399.1,458.17L398.11,458.7L396.95,459.02L395.71,459.11L394.47,458.97L393.32,458.6L392.33,458.03L391.57,457.3L391.09,456.46L390.92,455.57L391.09,454.68L391.57,453.87L392.33,453.18L393.32,452.66L394.47,452.34L395.71,452.25L396.95,452.39L398.11,452.76L399.1,453.32L399.86,454.04L400.34,454.87L400.5,455.76L400.34,456.65L399.86,457.47ZM404.26,472.26L403.27,472.8L402.12,473.13L400.88,473.23L399.64,473.09L398.48,472.72L397.49,472.14L396.73,471.4L396.25,470.54L396.09,469.63L396.25,468.73L396.73,467.9L397.49,467.19L398.48,466.65L399.64,466.33L400.88,466.23L402.12,466.37L403.27,466.73L404.26,467.3L405.02,468.04L405.5,468.89L405.66,469.79L405.5,470.7L405.02,471.54ZM407.24,464.17L406.25,464.72L405.1,465.05L403.86,465.15L402.62,465.01L401.46,464.65L400.47,464.08L399.71,463.35L399.23,462.5L399.07,461.6L399.23,460.71L399.71,459.88L400.47,459.18L401.46,458.65L402.62,458.33L403.86,458.23L405.1,458.36L406.25,458.72L407.24,459.28L408,460L408.48,460.84L408.65,461.74L408.48,462.63L408,463.46ZM410.22,456.18L409.23,456.72L408.08,457.05L406.84,457.15L405.6,457.02L404.44,456.66L403.45,456.1L402.69,455.38L402.21,454.55L402.05,453.66L402.21,452.78L402.69,451.96L403.45,451.27L404.44,450.74L405.6,450.41L406.84,450.31L408.08,450.44L409.23,450.8L410.22,451.35L410.98,452.06L411.46,452.89L411.63,453.77L411.46,454.66L410.98,455.48ZM413.2,448.28L412.21,448.81L411.06,449.14L409.82,449.25L408.58,449.12L407.43,448.77L406.43,448.21L405.67,447.5L405.19,446.68L405.03,445.8L405.19,444.93L405.67,444.12L406.43,443.44L407.43,442.91L408.58,442.59L409.82,442.49L411.06,442.62L412.21,442.96L413.2,443.5L413.97,444.21L414.44,445.02L414.61,445.9L414.44,446.77L413.97,447.58ZM415.39,470.18L414.4,470.73L413.24,471.07L412,471.18L410.76,471.05L409.61,470.69L408.62,470.12L407.86,469.39L407.38,468.54L407.21,467.64L407.38,466.73L407.86,465.9L408.62,465.19L409.61,464.64L410.76,464.31L412,464.2L413.24,464.33L414.4,464.68L415.39,465.24L416.15,465.97L416.63,466.81L416.79,467.71L416.63,468.62L416.15,469.46ZM418.37,462.1L417.38,462.65L416.22,462.99L414.98,463.1L413.74,462.97L412.59,462.62L411.6,462.06L410.84,461.34L410.36,460.5L410.19,459.6L410.36,458.71L410.84,457.89L411.6,457.18L412.59,456.64L413.74,456.31L414.98,456.2L416.22,456.32L417.38,456.67L418.37,457.22L419.13,457.93L419.61,458.77L419.77,459.66L419.61,460.55L419.13,461.38ZM421.35,454.11L420.36,454.65L419.2,454.99L417.96,455.1L416.72,454.98L415.57,454.63L414.58,454.08L413.82,453.37L413.34,452.54L413.18,451.66L413.34,450.78L413.82,449.96L414.58,449.26L415.57,448.73L416.72,448.4L417.96,448.29L419.2,448.4L420.36,448.75L421.35,449.29L422.11,449.99L422.59,450.81L422.75,451.69L422.59,452.58L422.11,453.4ZM424.33,446.2L423.34,446.74L422.18,447.08L420.94,447.2L419.71,447.08L418.55,446.74L417.56,446.2L416.8,445.49L416.32,444.68L416.16,443.81L416.32,442.94L416.8,442.13L417.56,441.43L418.55,440.91L419.71,440.57L420.94,440.46L422.18,440.58L423.34,440.91L424.33,441.44L425.09,442.14L425.57,442.95L425.73,443.82L425.57,444.69L425.09,445.5ZM427.31,438.39L426.32,438.93L425.16,439.26L423.93,439.38L422.69,439.27L421.53,438.93L420.54,438.4L419.78,437.71L419.3,436.9L419.14,436.04L419.3,435.18L419.78,434.38L420.54,433.7L421.53,433.17L422.69,432.84L423.93,432.73L425.16,432.84L426.32,433.16L427.31,433.69L428.07,434.37L428.55,435.17L428.71,436.03L428.55,436.89L428.07,437.7ZM423.53,476.18L422.54,476.75L421.39,477.1L420.15,477.22L418.91,477.09L417.75,476.74L416.76,476.17L416,475.44L415.52,474.58L415.36,473.67L415.52,472.76L416,471.92L416.76,471.19L417.75,470.64L418.91,470.29L420.15,470.18L421.39,470.3L422.54,470.65L423.53,471.2L424.29,471.93L424.77,472.78L424.93,473.69L424.77,474.6L424.29,475.45ZM426.51,468.01L425.52,468.57L424.37,468.92L423.13,469.04L421.89,468.93L420.73,468.57L419.74,468.02L418.98,467.29L418.5,466.45L418.34,465.55L418.5,464.65L418.98,463.81L419.74,463.1L420.73,462.55L421.89,462.2L423.13,462.08L424.37,462.2L425.52,462.54L426.51,463.09L427.27,463.81L427.75,464.64L427.92,465.54L427.75,466.45L427.27,467.29ZM429.49,459.93L428.5,460.49L427.35,460.84L426.11,460.96L424.87,460.84L423.71,460.5L422.72,459.95L421.96,459.24L421.48,458.41L421.32,457.52L421.48,456.63L421.96,455.8L422.72,455.09L423.71,454.54L424.87,454.2L426.11,454.08L427.35,454.19L428.5,454.53L429.49,455.07L430.26,455.78L430.73,456.6L430.9,457.49L430.73,458.38L430.26,459.22ZM432.48,451.94L431.48,452.49L430.33,452.84L429.09,452.96L427.85,452.85L426.7,452.52L425.7,451.98L424.94,451.27L424.46,450.45L424.3,449.57L424.46,448.69L424.94,447.88L425.7,447.17L426.7,446.63L427.85,446.29L429.09,446.17L430.33,446.28L431.48,446.61L432.48,447.14L433.24,447.83L433.71,448.65L433.88,449.52L433.71,450.41L433.24,451.23ZM434.66,473.93L433.67,474.5L432.51,474.86L431.27,474.99L430.03,474.88L428.88,474.53L427.89,473.98L427.13,473.25L426.65,472.4L426.48,471.49L426.65,470.59L427.13,469.74L427.89,469.01L428.88,468.45L430.03,468.1L431.27,467.97L432.51,468.08L433.67,468.42L434.66,468.97L435.42,469.68L435.9,470.52L436.06,471.43L435.9,472.34L435.42,473.19ZM437.64,465.76L436.65,466.33L435.49,466.69L434.25,466.82L433.01,466.71L431.86,466.37L430.87,465.82L430.11,465.11L429.63,464.27L429.47,463.37L429.63,462.48L430.11,461.64L430.87,460.92L431.86,460.36L433.01,460.01L434.25,459.88L435.49,459.98L436.65,460.32L437.64,460.85L438.4,461.56L438.88,462.39L439.04,463.29L438.88,464.19L438.4,465.03ZM442.8,479.85L441.81,480.43L440.66,480.8L439.42,480.94L438.18,480.83L437.02,480.49L436.03,479.93L435.27,479.21L434.79,478.36L434.63,477.44L434.79,476.52L435.27,475.67L436.03,474.93L437.02,474.36L438.18,473.99L439.42,473.85L440.66,473.96L441.81,474.29L442.8,474.84L443.56,475.56L444.04,476.4L444.2,477.31L444.04,478.23L443.56,479.1ZM386.23,464.73L388.11,464.41M393.97,460.31L394.47,458.97M396.12,466.16L397.49,467.19M397.36,462.83L399.23,462.5M399.1,458.17L400.47,459.18M400.34,454.87L402.21,454.55M402.12,466.37L402.62,465.01M405.5,468.89L407.38,468.54M405.1,458.36L405.6,457.02M407.24,464.17L408.62,465.19M408.48,460.84L410.36,460.5M408.08,450.44L408.58,449.12M410.22,456.18L411.6,457.18M411.46,452.89L413.34,452.54M413.2,448.28L414.58,449.26M414.44,445.02L416.32,444.68M413.24,464.33L413.74,462.97M415.39,470.18L416.76,471.19M416.63,466.81L418.5,466.45M416.22,456.32L416.72,454.98M418.37,462.1L419.74,463.1M419.61,458.77L421.48,458.41M419.2,448.4L419.71,447.08M421.35,454.11L422.72,455.09M422.59,450.81L424.46,450.45M422.18,440.58L422.69,439.26M424.33,446.2L425.7,447.17M421.39,470.3L421.89,468.93M424.77,472.78L426.65,472.4M424.37,462.2L424.87,460.84M426.51,468.01L427.89,469.01M427.75,464.64L429.63,464.27M427.35,454.19L427.85,452.85M429.49,459.93L430.87,460.92M432.51,468.08L433.01,466.71M434.66,473.93L436.03,474.93" fill="none" stroke="rgba(245,245,255,0.5)" stroke-width="0.5"/><g fill="#ee1111"><ellipse cx="384.99" cy="468.06" rx="0.85" ry="0.65"/><ellipse cx="380.37" cy="468.82" rx="0.85" ry="0.65"/><ellipse cx="376.98" cy="466.24" rx="0.85" ry="0.65"/><ellipse cx="378.22" cy="462.92" rx="0.85" ry="0.65"/><ellipse cx="382.85" cy="462.17" rx="0.85" ry="0.65"/><ellipse cx="386.23" cy="464.73" rx="0.85" ry="0.65"/><ellipse cx="396.12" cy="466.16" rx="0.85" ry="0.65"/><ellipse cx="391.49" cy="466.96" rx="0.85" ry="0.65"/><ellipse cx="388.11" cy="464.41" rx="0.85" ry="0.65"/><ellipse cx="389.35" cy="461.1" rx="0.85" ry="0.65"/><ellipse cx="393.97" cy="460.31" rx="0.85" ry="0.65"/><ellipse cx="397.36" cy="462.83" rx="0.85" ry="0.65"/><ellipse cx="399.1" cy="458.17" rx="0.85" ry="0.65"/><ellipse cx="394.47" cy="458.97" rx="0.85" ry="0.65"/><ellipse cx="391.09" cy="456.46" rx="0.85" ry="0.65"/><ellipse cx="392.33" cy="453.18" rx="0.85" ry="0.65"/><ellipse cx="396.95" cy="452.39" rx="0.85" ry="0.65"/><ellipse cx="400.34" cy="454.87" rx="0.85" ry="0.65"/><ellipse cx="404.26" cy="472.26" rx="0.85" ry="0.65"/><ellipse cx="399.64" cy="473.09" rx="0.85" ry="0.65"/><ellipse cx="396.25" cy="470.54" rx="0.85" ry="0.65"/><ellipse cx="397.49" cy="467.19" rx="0.85" ry="0.65"/><ellipse cx="402.12" cy="466.37" rx="0.85" ry="0.65"/><ellipse cx="405.5" cy="468.89" rx="0.85" ry="0.65"/><ellipse cx="407.24" cy="464.17" rx="0.85" ry="0.65"/><ellipse cx="402.62" cy="465.01" rx="0.85" ry="0.65"/><ellipse cx="399.23" cy="462.5" rx="0.85" ry="0.65"/><ellipse cx="400.47" cy="459.18" rx="0.85" ry="0.65"/><ellipse cx="405.1" cy="458.36" rx="0.85" ry="0.65"/><ellipse cx="408.48" cy="460.84" rx="0.85" ry="0.65"/><ellipse cx="410.22" cy="456.18" rx="0.85" ry="0.65"/><ellipse cx="405.6" cy="457.02" rx="0.85" ry="0.65"/><ellipse cx="402.21" cy="454.55" rx="0.85" ry="0.65"/><ellipse cx="403.45" cy="451.27" rx="0.85" ry="0.65"/><ellipse cx="408.08" cy="450.44" rx="0.85" ry="0.65"/><ellipse cx="411.46" cy="452.89" rx="0.85" ry="0.65"/><ellipse cx="413.2" cy="448.28" rx="0.85" ry="0.65"/><ellipse cx="408.58" cy="449.12" rx="0.85" ry="0.65"/><ellipse cx="405.19" cy="446.68" rx="0.85" ry="0.65"/><ellipse cx="406.43" cy="443.44" rx="0.85" ry="0.65"/><ellipse cx="411.06" cy="442.62" rx="0.85" ry="0.65"/><ellipse cx="414.44" cy="445.02" rx="0.85" ry="0.65"/><ellipse cx="415.39" cy="470.18" rx="0.85" ry="0.65"/><ellipse cx="410.76" cy="471.05" rx="0.85" ry="0.65"/><ellipse cx="407.38" cy="468.54" rx="0.85" ry="0.65"/><ellipse cx="408.62" cy="465.19" rx="0.85" ry="0.65"/><ellipse cx="413.24" cy="464.33" rx="0.85" ry="0.65"/><ellipse cx="416.63" cy="466.81" rx="0.85" ry="0.65"/><ellipse cx="418.37" cy="462.1" rx="0.85" ry="0.65"/><ellipse cx="413.74" cy="462.97" rx="0.85" ry="0.65"/><ellipse cx="410.36" cy="460.5" rx="0.85" ry="0.65"/><ellipse cx="411.6" cy="457.18" rx="0.85" ry="0.65"/><ellipse cx="416.22" cy="456.32" rx="0.85" ry="0.65"/><ellipse cx="419.61" cy="458.77" rx="0.85" ry="0.65"/><ellipse cx="421.35" cy="454.11" rx="0.85" ry="0.65"/><ellipse cx="416.72" cy="454.98" rx="0.85" ry="0.65"/><ellipse cx="413.34" cy="452.54" rx="0.85" ry="0.65"/><ellipse cx="414.58" cy="449.26" rx="0.85" ry="0.65"/><ellipse cx="419.2" cy="448.4" rx="0.85" ry="0.65"/><ellipse cx="422.59" cy="450.81" rx="0.85" ry="0.65"/><ellipse cx="424.33" cy="446.2" rx="0.85" ry="0.65"/><ellipse cx="419.71" cy="447.08" rx="0.85" ry="0.65"/><ellipse cx="416.32" cy="444.68" rx="0.85" ry="0.65"/><ellipse cx="417.56" cy="441.43" rx="0.85" ry="0.65"/><ellipse cx="422.18" cy="440.58" rx="0.85" ry="0.65"/><ellipse cx="425.57" cy="442.95" rx="0.85" ry="0.65"/><ellipse cx="427.31" cy="438.39" rx="0.85" ry="0.65"/><ellipse cx="422.69" cy="439.27" rx="0.85" ry="0.65"/><ellipse cx="419.3" cy="436.9" rx="0.85" ry="0.65"/><ellipse cx="420.54" cy="433.7" rx="0.85" ry="0.65"/><ellipse cx="425.16" cy="432.84" rx="0.85" ry="0.65"/><ellipse cx="428.55" cy="435.17" rx="0.85" ry="0.65"/><ellipse cx="423.53" cy="476.18" rx="0.85" ry="0.65"/><ellipse cx="418.91" cy="477.09" rx="0.85" ry="0.65"/><ellipse cx="415.52" cy="474.58" rx="0.85" ry="0.65"/><ellipse cx="416.76" cy="471.19" rx="0.85" ry="0.65"/><ellipse cx="421.39" cy="470.3" rx="0.85" ry="0.65"/><ellipse cx="424.77" cy="472.78" rx="0.85" ry="0.65"/><ellipse cx="426.51" cy="468.01" rx="0.85" ry="0.65"/><ellipse cx="421.89" cy="468.93" rx="0.85" ry="0.65"/><ellipse cx="418.5" cy="466.45" rx="0.85" ry="0.65"/><ellipse cx="419.74" cy="463.1" rx="0.85" ry="0.65"/><ellipse cx="424.37" cy="462.2" rx="0.85" ry="0.65"/><ellipse cx="427.75" cy="464.64" rx="0.85" ry="0.65"/><ellipse cx="429.49" cy="459.93" rx="0.85" ry="0.65"/><ellipse cx="424.87" cy="460.84" rx="0.85" ry="0.65"/><ellipse cx="421.48" cy="458.41" rx="0.85" ry="0.65"/><ellipse cx="422.72" cy="455.09" rx="0.85" ry="0.65"/><ellipse cx="427.35" cy="454.19" rx="0.85" ry="0.65"/><ellipse cx="430.73" cy="456.6" rx="0.85" ry="0.65"/><ellipse cx="432.48" cy="451.94" rx="0.85" ry="0.65"/><ellipse cx="427.85" cy="452.85" rx="0.85" ry="0.65"/><ellipse cx="424.46" cy="450.45" rx="0.85" ry="0.65"/><ellipse cx="425.7" cy="447.17" rx="0.85" ry="0.65"/><ellipse cx="430.33" cy="446.28" rx="0.85" ry="0.65"/><ellipse cx="433.71" cy="448.65" rx="0.85" ry="0.65"/><ellipse cx="434.66" cy="473.93" rx="0.85" ry="0.65"/><ellipse cx="430.03" cy="474.88" rx="0.85" ry="0.65"/><ellipse cx="426.65" cy="472.4" rx="0.85" ry="0.65"/><ellipse cx="427.89" cy="469.01" rx="0.85" ry="0.65"/><ellipse cx="432.51" cy="468.08" rx="0.85" ry="0.65"/><ellipse cx="435.9" cy="470.52" rx="0.85" ry="0.65"/><ellipse cx="437.64" cy="465.76" rx="0.85" ry="0.65"/><ellipse cx="433.01" cy="466.71" rx="0.85" ry="0.65"/><ellipse cx="429.63" cy="464.27" rx="0.85" ry="0.65"/><ellipse cx="430.87" cy="460.92" rx="0.85" ry="0.65"/><ellipse cx="435.49" cy="459.98" rx="0.85" ry="0.65"/><ellipse cx="438.88" cy="462.39" rx="0.85" ry="0.65"/><ellipse cx="442.8" cy="479.85" rx="0.85" ry="0.65"/><ellipse cx="438.18" cy="480.83" rx="0.85" ry="0.65"/><ellipse cx="434.79" cy="478.36" rx="0.85" ry="0.65"/><ellipse cx="436.03" cy="474.93" rx="0.85" ry="0.65"/><ellipse cx="440.66" cy="473.96" rx="0.85" ry="0.65"/><ellipse cx="444.04" cy="476.4" rx="0.85" ry="0.65"/><ellipse cx="375.11" cy="466.54" rx="0.85" ry="0.65"/><ellipse cx="387.97" cy="460.07" rx="0.85" ry="0.65"/><ellipse cx="383.35" cy="460.83" rx="0.85" ry="0.65"/><ellipse cx="390.99" cy="468.32" rx="0.85" ry="0.65"/><ellipse cx="394.38" cy="470.87" rx="0.85" ry="0.65"/><ellipse cx="402.08" cy="450.27" rx="0.85" ry="0.65"/><ellipse cx="397.45" cy="451.07" rx="0.85" ry="0.65"/><ellipse cx="416.19" cy="440.47" rx="0.85" ry="0.65"/><ellipse cx="417.42" cy="437.25" rx="0.85" ry="0.65"/><ellipse cx="410.26" cy="472.42" rx="0.85" ry="0.65"/><ellipse cx="413.65" cy="474.94" rx="0.85" ry="0.65"/><ellipse cx="425.67" cy="431.54" rx="0.85" ry="0.65"/><ellipse cx="427.45" cy="442.59" rx="0.85" ry="0.65"/><ellipse cx="430.83" cy="444.95" rx="0.85" ry="0.65"/><ellipse cx="429.53" cy="476.26" rx="0.85" ry="0.65"/><ellipse cx="432.92" cy="478.74" rx="0.85" ry="0.65"/><ellipse cx="432.61" cy="456.23" rx="0.85" ry="0.65"/><ellipse cx="435.99" cy="458.63" rx="0.85" ry="0.65"/><ellipse cx="437.77" cy="470.13" rx="0.85" ry="0.65"/><ellipse cx="441.16" cy="472.57" rx="0.85" ry="0.65"/><ellipse cx="444.18" cy="480.84" rx="0.85" ry="0.65"/></g><ellipse cx="432.51" cy="462.67" rx="2.44" ry="1.71" fill="url(#bumpB)"/><ellipse cx="424.2" cy="468.3" rx="1.94" ry="1.36" fill="url(#bumpB)"/><ellipse cx="422.23" cy="469.73" rx="2.53" ry="1.77" fill="url(#bumpB)"/><ellipse cx="430.86" cy="467.82" rx="2.19" ry="1.53" fill="url(#bumpB)"/><ellipse cx="432.98" cy="463.4" rx="1.95" ry="1.36" fill="url(#bumpB)"/><ellipse cx="435.16" cy="475.09" rx="1.74" ry="1.22" fill="url(#bumpB)"/><ellipse cx="433.45" cy="473.14" rx="2.76" ry="1.93" fill="url(#bumpB)"/><ellipse cx="430.31" cy="472.34" rx="2.17" ry="1.52" fill="url(#bumpB)"/><ellipse cx="432.4" cy="473.3" rx="1.78" ry="1.25" fill="url(#bumpB)"/><ellipse cx="433.06" cy="463.31" rx="1.89" ry="1.32" fill="url(#bumpB)"/><ellipse cx="430.77" cy="473.13" rx="1.78" ry="1.24" fill="url(#bumpB)"/><ellipse cx="430.76" cy="475.74" rx="1.67" ry="1.17" fill="url(#bumpB)"/><ellipse cx="429.63" cy="470.14" rx="2.57" ry="1.8" fill="url(#bumpB)"/><ellipse cx="431.4" cy="467.3" rx="2.21" ry="1.55" fill="url(#bumpB)"/><ellipse cx="429.15" cy="474.29" rx="1.99" ry="1.39" fill="url(#bumpB)"/><ellipse cx="437.06" cy="475.56" rx="2.02" ry="1.42" fill="url(#bumpB)"/><ellipse cx="444.7" cy="476.7" rx="5.52" ry="3.12" fill="url(#glowB)"/><path d="M444.25,428L444.23,432.08L444.17,436.17L444.07,440.25L443.93,444.33L443.74,448.42L443.52,452.5L443.26,456.58L442.96,460.67L442.61,464.75L442.23,468.83L441.8,472.92L441.34,477L448.06,477L447.6,472.92L447.17,468.83L446.79,464.75L446.44,460.67L446.14,456.58L445.88,452.5L445.66,448.42L445.47,444.33L445.33,440.25L445.23,436.17L445.17,432.08L445.15,428Z" fill="url(#sg7_0)"/><ellipse cx="444.7" cy="476.2" rx="1.68" ry="1.08" fill="#ffffff" opacity="0.55"/><ellipse cx="437.9" cy="475.7" rx="4.14" ry="2.34" fill="url(#glowB)"/><path d="M437.45,452.9L437.44,454.82L437.39,456.75L437.32,458.67L437.22,460.6L437.09,462.52L436.93,464.45L436.75,466.38L436.53,468.3L436.29,470.23L436.01,472.15L435.71,474.07L435.38,476L440.42,476L440.09,474.07L439.79,472.15L439.51,470.23L439.27,468.3L439.05,466.38L438.87,464.45L438.71,462.52L438.58,460.6L438.48,458.67L438.41,456.75L438.36,454.82L438.35,452.9Z" fill="url(#sg7_1)"/><ellipse cx="437.9" cy="475.2" rx="1.26" ry="0.81" fill="#ffffff" opacity="0.55"/><ellipse cx="424.2" cy="476.7" rx="3.45" ry="1.95" fill="url(#glowB)"/><path d="M423.75,463.4L423.74,464.53L423.7,465.67L423.65,466.8L423.57,467.93L423.46,469.07L423.34,470.2L423.19,471.33L423.02,472.47L422.82,473.6L422.6,474.73L422.36,475.87L422.1,477L426.3,477L426.04,475.87L425.8,474.73L425.58,473.6L425.38,472.47L425.21,471.33L425.06,470.2L424.94,469.07L424.83,467.93L424.75,466.8L424.7,465.67L424.66,464.53L424.65,463.4Z" fill="url(#sg7_2)"/><ellipse cx="424.2" cy="476.2" rx="1.05" ry="0.68" fill="#ffffff" opacity="0.55"/><text x="421.7" y="397.8" font-size="10.1" letter-spacing="-0.2" text-anchor="middle"><tspan font-style="italic">γ</tspan>=1.6,<tspan font-style="italic">n</tspan>=22</text></g>
<g><path d="M554.2,373.3L489.9,414.2M554.2,373.3L618.5,414.2M489.9,414.2L554.2,459.2M618.5,414.2L554.2,459.2M554.2,433.9L494.8,474.9M554.2,433.9L613.6,474.9M494.8,474.9L554.2,521.9M613.6,474.9L554.2,521.9M554.2,373.3L554.2,433.9M489.9,414.2L494.8,474.9M618.5,414.2L613.6,474.9M554.2,459.2L554.2,521.9" stroke="rgba(0,0,0,0.17)" stroke-width="0.75" fill="none"/><path d="M575.3,476.7L577.3,476.7L576.55,491.8L576.05,491.8Z" fill="#101870"/><polygon points="554.2,406.27 615.83,447.22 554.2,493.31 492.57,447.22" fill="#4a9a58"/><path d="M489.9,414.2L554.2,459.2L618.5,414.2M554.2,459.2L554.2,493.31" clip-path="url(#cp8)" stroke="rgba(0,0,0,0.17)" stroke-width="0.75" fill="none"/><path d="M515.93,451.81L514.92,452.34L513.74,452.65L512.47,452.73L511.21,452.58L510.03,452.2L509.01,451.62L508.24,450.87L507.75,450.02L507.58,449.12L507.75,448.23L508.24,447.41L509.01,446.72L510.03,446.2L511.21,445.9L512.47,445.81L513.74,445.97L514.92,446.34L515.93,446.92L516.71,447.65L517.2,448.5L517.37,449.4L517.2,450.29L516.71,451.11ZM527.3,449.9L526.29,450.43L525.11,450.76L523.84,450.85L522.57,450.71L521.39,450.33L520.38,449.76L519.6,449.03L519.11,448.18L518.95,447.28L519.11,446.4L519.6,445.58L520.38,444.88L521.39,444.36L522.57,444.04L523.84,443.95L525.11,444.09L526.29,444.46L527.3,445.02L528.08,445.75L528.56,446.59L528.73,447.48L528.56,448.37L528.08,449.2ZM530.34,441.95L529.33,442.48L528.15,442.8L526.88,442.9L525.62,442.76L524.44,442.39L523.43,441.83L522.65,441.1L522.16,440.27L521.99,439.38L522.16,438.5L522.65,437.69L523.43,437L524.44,436.48L525.62,436.17L526.88,436.07L528.15,436.21L529.33,436.57L530.34,437.13L531.12,437.85L531.61,438.67L531.78,439.56L531.61,440.44L531.12,441.26ZM535.62,455.94L534.61,456.48L533.43,456.82L532.16,456.92L530.89,456.78L529.71,456.41L528.7,455.84L527.92,455.1L527.44,454.25L527.27,453.35L527.44,452.45L527.92,451.63L528.7,450.92L529.71,450.39L530.89,450.06L532.16,449.96L533.43,450.1L534.61,450.46L535.62,451.02L536.4,451.75L536.89,452.59L537.05,453.5L536.89,454.4L536.4,455.23ZM538.66,447.91L537.65,448.45L536.47,448.78L535.21,448.88L533.94,448.75L532.76,448.39L531.75,447.82L530.97,447.1L530.48,446.26L530.31,445.37L530.48,444.48L530.97,443.66L531.75,442.96L532.76,442.43L533.94,442.1L535.21,442L536.47,442.14L537.65,442.49L538.66,443.05L539.44,443.77L539.93,444.6L540.1,445.49L539.93,446.38L539.44,447.21ZM541.71,439.97L540.7,440.5L539.52,440.83L538.25,440.93L536.98,440.8L535.81,440.45L534.79,439.89L534.01,439.17L533.53,438.35L533.36,437.46L533.53,436.58L534.01,435.77L534.79,435.08L535.81,434.55L536.98,434.23L538.25,434.13L539.52,434.26L540.7,434.61L541.71,435.15L542.49,435.86L542.98,436.69L543.14,437.57L542.98,438.45L542.49,439.27ZM544.76,432.1L543.74,432.63L542.56,432.96L541.3,433.06L540.03,432.94L538.85,432.59L537.84,432.04L537.06,431.33L536.57,430.51L536.4,429.64L536.57,428.77L537.06,427.97L537.84,427.28L538.85,426.76L540.03,426.44L541.3,426.33L542.56,426.46L543.74,426.8L544.76,427.34L545.53,428.04L546.02,428.85L546.19,429.72L546.02,430.59L545.53,431.4ZM546.98,453.87L545.97,454.42L544.79,454.76L543.53,454.87L542.26,454.74L541.08,454.38L540.07,453.82L539.29,453.09L538.8,452.25L538.63,451.35L538.8,450.46L539.29,449.63L540.07,448.92L541.08,448.38L542.26,448.04L543.53,447.94L544.79,448.06L545.97,448.41L546.98,448.97L547.76,449.69L548.25,450.52L548.42,451.42L548.25,452.32L547.76,453.16ZM550.03,445.84L549.02,446.39L547.84,446.73L546.57,446.84L545.31,446.71L544.13,446.36L543.11,445.81L542.34,445.09L541.85,444.26L541.68,443.37L541.85,442.48L542.34,441.66L543.11,440.96L544.13,440.42L545.31,440.09L546.57,439.98L547.84,440.1L549.02,440.45L550.03,440.99L550.81,441.7L551.3,442.53L551.46,443.42L551.3,444.31L550.81,445.13ZM553.08,437.9L552.06,438.44L550.88,438.77L549.62,438.89L548.35,438.77L547.17,438.42L546.16,437.87L545.38,437.17L544.89,436.34L544.73,435.46L544.89,434.59L545.38,433.77L546.16,433.08L547.17,432.54L548.35,432.21L549.62,432.1L550.88,432.22L552.06,432.56L553.08,433.1L553.85,433.8L554.34,434.62L554.51,435.49L554.34,436.37L553.85,437.19ZM556.12,430.03L555.11,430.57L553.93,430.9L552.66,431.02L551.4,430.9L550.22,430.56L549.2,430.02L548.43,429.32L547.94,428.51L547.77,427.64L547.94,426.77L548.43,425.97L549.2,425.28L550.22,424.75L551.4,424.42L552.66,424.31L553.93,424.42L555.11,424.75L556.12,425.28L556.9,425.98L557.39,426.78L557.55,427.65L557.39,428.52L556.9,429.33ZM559.17,422.24L558.15,422.78L556.97,423.11L555.71,423.23L554.44,423.11L553.26,422.78L552.25,422.25L551.47,421.56L550.98,420.76L550.82,419.9L550.98,419.04L551.47,418.24L552.25,417.56L553.26,417.03L554.44,416.71L555.71,416.59L556.97,416.7L558.15,417.03L559.17,417.55L559.94,418.23L560.43,419.03L560.6,419.89L560.43,420.75L559.94,421.55ZM555.31,459.83L554.29,460.39L553.11,460.74L551.85,460.86L550.58,460.73L549.4,460.38L548.39,459.82L547.61,459.09L547.12,458.24L546.96,457.34L547.12,456.43L547.61,455.6L548.39,454.88L549.4,454.33L550.58,453.98L551.85,453.87L553.11,453.99L554.29,454.33L555.31,454.89L556.08,455.61L556.57,456.45L556.74,457.35L556.57,458.26L556.08,459.1ZM558.35,451.72L557.34,452.28L556.16,452.62L554.89,452.74L553.63,452.63L552.45,452.28L551.43,451.72L550.66,451L550.17,450.17L550,449.27L550.17,448.38L550.66,447.55L551.43,446.83L552.45,446.29L553.63,445.95L554.89,445.83L556.16,445.94L557.34,446.29L558.35,446.83L559.13,447.54L559.62,448.37L559.78,449.27L559.62,450.16L559.13,451ZM561.4,443.69L560.38,444.24L559.2,444.59L557.94,444.71L556.67,444.6L555.49,444.25L554.48,443.71L553.7,443L553.21,442.17L553.05,441.29L553.21,440.4L553.7,439.58L554.48,438.87L555.49,438.33L556.67,437.99L557.94,437.87L559.2,437.98L560.38,438.32L561.4,438.86L562.17,439.56L562.66,440.38L562.83,441.26L562.66,442.15L562.17,442.98ZM564.44,435.74L563.43,436.29L562.25,436.64L560.98,436.76L559.72,436.65L558.54,436.31L557.52,435.78L556.75,435.08L556.26,434.26L556.09,433.38L556.26,432.51L556.75,431.69L557.52,430.99L558.54,430.45L559.72,430.11L560.98,429.99L562.25,430.1L563.43,430.43L564.44,430.96L565.22,431.65L565.71,432.46L565.87,433.34L565.71,434.22L565.22,435.04ZM566.67,457.6L565.66,458.16L564.48,458.52L563.21,458.65L561.95,458.54L560.77,458.19L559.75,457.64L558.98,456.92L558.49,456.08L558.32,455.18L558.49,454.28L558.98,453.43L559.75,452.71L560.77,452.16L561.95,451.8L563.21,451.68L564.48,451.79L565.66,452.13L566.67,452.67L567.45,453.38L567.94,454.22L568.1,455.12L567.94,456.02L567.45,456.87ZM569.72,449.49L568.7,450.05L567.52,450.41L566.26,450.53L564.99,450.43L563.81,450.09L562.8,449.55L562.02,448.83L561.53,448L561.37,447.11L561.53,446.22L562.02,445.39L562.8,444.67L563.81,444.12L564.99,443.77L566.26,443.64L567.52,443.75L568.7,444.08L569.72,444.61L570.49,445.32L570.98,446.14L571.15,447.03L570.98,447.93L570.49,448.76ZM574.99,463.48L573.98,464.05L572.8,464.42L571.53,464.55L570.27,464.45L569.09,464.11L568.07,463.56L567.3,462.83L566.81,461.99L566.64,461.08L566.81,460.17L567.3,459.32L568.07,458.59L569.09,458.02L570.27,457.66L571.53,457.53L572.8,457.63L573.98,457.97L574.99,458.51L575.77,459.22L576.26,460.06L576.42,460.97L576.26,461.88L575.77,462.74ZM517.2,448.5L519.11,448.18M525.11,444.09L525.62,442.76M527.3,449.9L528.7,450.92M528.56,446.59L530.48,446.26M530.34,441.95L531.75,442.96M531.61,438.67L533.53,438.35M533.43,450.1L533.94,448.75M536.88,452.59L538.8,452.25M536.47,442.14L536.98,440.8M538.66,447.91L540.07,448.92M539.93,444.6L541.85,444.26M539.52,434.26L540.03,432.94M541.71,439.97L543.11,440.96M542.98,436.69L544.89,436.34M544.76,432.1L546.16,433.08M546.02,428.85L547.94,428.51M544.79,448.06L545.31,446.71M546.98,453.87L548.39,454.88M548.25,450.52L550.17,450.17M547.84,440.1L548.35,438.77M550.03,445.84L551.43,446.83M551.3,442.53L553.21,442.17M550.88,432.22L551.4,430.9M553.08,437.9L554.48,438.87M554.34,434.62L556.26,434.26M553.93,424.42L554.44,423.11M556.12,430.03L557.52,430.99M553.11,453.99L553.63,452.63M556.57,456.45L558.49,456.08M556.16,445.94L556.67,444.6M558.35,451.72L559.75,452.71M559.62,448.37L561.53,448M559.2,437.98L559.72,436.65M561.4,443.69L562.8,444.67M564.48,451.79L564.99,450.43M566.67,457.6L568.07,458.59" fill="none" stroke="rgba(245,245,255,0.5)" stroke-width="0.5"/><g fill="#ee1111"><ellipse cx="515.93" cy="451.81" rx="1.0" ry="0.75"/><ellipse cx="511.21" cy="452.58" rx="1.0" ry="0.75"/><ellipse cx="507.75" cy="450.02" rx="1.0" ry="0.75"/><ellipse cx="509.01" cy="446.72" rx="1.0" ry="0.75"/><ellipse cx="513.74" cy="445.97" rx="1.0" ry="0.75"/><ellipse cx="517.2" cy="448.5" rx="1.0" ry="0.75"/><ellipse cx="527.3" cy="449.9" rx="1.0" ry="0.75"/><ellipse cx="522.57" cy="450.71" rx="1.0" ry="0.75"/><ellipse cx="519.11" cy="448.18" rx="1.0" ry="0.75"/><ellipse cx="520.38" cy="444.88" rx="1.0" ry="0.75"/><ellipse cx="525.11" cy="444.09" rx="1.0" ry="0.75"/><ellipse cx="528.56" cy="446.59" rx="1.0" ry="0.75"/><ellipse cx="530.34" cy="441.95" rx="1.0" ry="0.75"/><ellipse cx="525.62" cy="442.76" rx="1.0" ry="0.75"/><ellipse cx="522.16" cy="440.27" rx="1.0" ry="0.75"/><ellipse cx="523.43" cy="437" rx="1.0" ry="0.75"/><ellipse cx="528.15" cy="436.21" rx="1.0" ry="0.75"/><ellipse cx="531.61" cy="438.67" rx="1.0" ry="0.75"/><ellipse cx="535.62" cy="455.94" rx="1.0" ry="0.75"/><ellipse cx="530.89" cy="456.78" rx="1.0" ry="0.75"/><ellipse cx="527.44" cy="454.25" rx="1.0" ry="0.75"/><ellipse cx="528.7" cy="450.92" rx="1.0" ry="0.75"/><ellipse cx="533.43" cy="450.1" rx="1.0" ry="0.75"/><ellipse cx="536.89" cy="452.59" rx="1.0" ry="0.75"/><ellipse cx="538.66" cy="447.91" rx="1.0" ry="0.75"/><ellipse cx="533.94" cy="448.75" rx="1.0" ry="0.75"/><ellipse cx="530.48" cy="446.26" rx="1.0" ry="0.75"/><ellipse cx="531.75" cy="442.96" rx="1.0" ry="0.75"/><ellipse cx="536.47" cy="442.14" rx="1.0" ry="0.75"/><ellipse cx="539.93" cy="444.6" rx="1.0" ry="0.75"/><ellipse cx="541.71" cy="439.97" rx="1.0" ry="0.75"/><ellipse cx="536.98" cy="440.8" rx="1.0" ry="0.75"/><ellipse cx="533.53" cy="438.35" rx="1.0" ry="0.75"/><ellipse cx="534.79" cy="435.08" rx="1.0" ry="0.75"/><ellipse cx="539.52" cy="434.26" rx="1.0" ry="0.75"/><ellipse cx="542.98" cy="436.69" rx="1.0" ry="0.75"/><ellipse cx="544.76" cy="432.1" rx="1.0" ry="0.75"/><ellipse cx="540.03" cy="432.94" rx="1.0" ry="0.75"/><ellipse cx="536.57" cy="430.51" rx="1.0" ry="0.75"/><ellipse cx="537.84" cy="427.28" rx="1.0" ry="0.75"/><ellipse cx="542.56" cy="426.46" rx="1.0" ry="0.75"/><ellipse cx="546.02" cy="428.85" rx="1.0" ry="0.75"/><ellipse cx="546.98" cy="453.87" rx="1.0" ry="0.75"/><ellipse cx="542.26" cy="454.74" rx="1.0" ry="0.75"/><ellipse cx="538.8" cy="452.25" rx="1.0" ry="0.75"/><ellipse cx="540.07" cy="448.92" rx="1.0" ry="0.75"/><ellipse cx="544.79" cy="448.06" rx="1.0" ry="0.75"/><ellipse cx="548.25" cy="450.52" rx="1.0" ry="0.75"/><ellipse cx="550.03" cy="445.84" rx="1.0" ry="0.75"/><ellipse cx="545.31" cy="446.71" rx="1.0" ry="0.75"/><ellipse cx="541.85" cy="444.26" rx="1.0" ry="0.75"/><ellipse cx="543.11" cy="440.96" rx="1.0" ry="0.75"/><ellipse cx="547.84" cy="440.1" rx="1.0" ry="0.75"/><ellipse cx="551.3" cy="442.53" rx="1.0" ry="0.75"/><ellipse cx="553.08" cy="437.9" rx="1.0" ry="0.75"/><ellipse cx="548.35" cy="438.77" rx="1.0" ry="0.75"/><ellipse cx="544.89" cy="436.34" rx="1.0" ry="0.75"/><ellipse cx="546.16" cy="433.08" rx="1.0" ry="0.75"/><ellipse cx="550.88" cy="432.22" rx="1.0" ry="0.75"/><ellipse cx="554.34" cy="434.62" rx="1.0" ry="0.75"/><ellipse cx="556.12" cy="430.03" rx="1.0" ry="0.75"/><ellipse cx="551.4" cy="430.9" rx="1.0" ry="0.75"/><ellipse cx="547.94" cy="428.51" rx="1.0" ry="0.75"/><ellipse cx="549.2" cy="425.28" rx="1.0" ry="0.75"/><ellipse cx="553.93" cy="424.42" rx="1.0" ry="0.75"/><ellipse cx="557.39" cy="426.78" rx="1.0" ry="0.75"/><ellipse cx="559.17" cy="422.24" rx="1.0" ry="0.75"/><ellipse cx="554.44" cy="423.11" rx="1.0" ry="0.75"/><ellipse cx="550.98" cy="420.76" rx="1.0" ry="0.75"/><ellipse cx="552.25" cy="417.56" rx="1.0" ry="0.75"/><ellipse cx="556.97" cy="416.7" rx="1.0" ry="0.75"/><ellipse cx="560.43" cy="419.03" rx="1.0" ry="0.75"/><ellipse cx="555.31" cy="459.83" rx="1.0" ry="0.75"/><ellipse cx="550.58" cy="460.73" rx="1.0" ry="0.75"/><ellipse cx="547.12" cy="458.24" rx="1.0" ry="0.75"/><ellipse cx="548.39" cy="454.88" rx="1.0" ry="0.75"/><ellipse cx="553.11" cy="453.99" rx="1.0" ry="0.75"/><ellipse cx="556.57" cy="456.45" rx="1.0" ry="0.75"/><ellipse cx="558.35" cy="451.72" rx="1.0" ry="0.75"/><ellipse cx="553.63" cy="452.63" rx="1.0" ry="0.75"/><ellipse cx="550.17" cy="450.17" rx="1.0" ry="0.75"/><ellipse cx="551.43" cy="446.83" rx="1.0" ry="0.75"/><ellipse cx="556.16" cy="445.94" rx="1.0" ry="0.75"/><ellipse cx="559.62" cy="448.37" rx="1.0" ry="0.75"/><ellipse cx="561.4" cy="443.69" rx="1.0" ry="0.75"/><ellipse cx="556.67" cy="444.6" rx="1.0" ry="0.75"/><ellipse cx="553.21" cy="442.17" rx="1.0" ry="0.75"/><ellipse cx="554.48" cy="438.87" rx="1.0" ry="0.75"/><ellipse cx="559.2" cy="437.98" rx="1.0" ry="0.75"/><ellipse cx="562.66" cy="440.38" rx="1.0" ry="0.75"/><ellipse cx="564.44" cy="435.74" rx="1.0" ry="0.75"/><ellipse cx="559.72" cy="436.65" rx="1.0" ry="0.75"/><ellipse cx="556.26" cy="434.26" rx="1.0" ry="0.75"/><ellipse cx="557.52" cy="430.99" rx="1.0" ry="0.75"/><ellipse cx="562.25" cy="430.1" rx="1.0" ry="0.75"/><ellipse cx="565.71" cy="432.46" rx="1.0" ry="0.75"/><ellipse cx="566.67" cy="457.6" rx="1.0" ry="0.75"/><ellipse cx="561.95" cy="458.54" rx="1.0" ry="0.75"/><ellipse cx="558.49" cy="456.08" rx="1.0" ry="0.75"/><ellipse cx="559.75" cy="452.71" rx="1.0" ry="0.75"/><ellipse cx="564.48" cy="451.79" rx="1.0" ry="0.75"/><ellipse cx="567.94" cy="454.22" rx="1.0" ry="0.75"/><ellipse cx="569.72" cy="449.49" rx="1.0" ry="0.75"/><ellipse cx="564.99" cy="450.43" rx="1.0" ry="0.75"/><ellipse cx="561.53" cy="448" rx="1.0" ry="0.75"/><ellipse cx="562.8" cy="444.67" rx="1.0" ry="0.75"/><ellipse cx="567.52" cy="443.75" rx="1.0" ry="0.75"/><ellipse cx="570.98" cy="446.14" rx="1.0" ry="0.75"/><ellipse cx="574.99" cy="463.48" rx="1.0" ry="0.75"/><ellipse cx="570.27" cy="464.45" rx="1.0" ry="0.75"/><ellipse cx="566.81" cy="461.99" rx="1.0" ry="0.75"/><ellipse cx="568.07" cy="458.59" rx="1.0" ry="0.75"/><ellipse cx="572.8" cy="457.63" rx="1.0" ry="0.75"/><ellipse cx="576.26" cy="460.06" rx="1.0" ry="0.75"/><ellipse cx="505.83" cy="450.32" rx="1.0" ry="0.75"/><ellipse cx="518.98" cy="443.86" rx="1.0" ry="0.75"/><ellipse cx="514.25" cy="444.63" rx="1.0" ry="0.75"/><ellipse cx="522.06" cy="452.05" rx="1.0" ry="0.75"/><ellipse cx="525.52" cy="454.58" rx="1.0" ry="0.75"/><ellipse cx="533.39" cy="434.09" rx="1.0" ry="0.75"/><ellipse cx="528.66" cy="434.89" rx="1.0" ry="0.75"/><ellipse cx="547.8" cy="424.31" rx="1.0" ry="0.75"/><ellipse cx="549.07" cy="421.1" rx="1.0" ry="0.75"/><ellipse cx="541.75" cy="456.1" rx="1.0" ry="0.75"/><ellipse cx="545.21" cy="458.6" rx="1.0" ry="0.75"/><ellipse cx="557.49" cy="415.41" rx="1.0" ry="0.75"/><ellipse cx="559.3" cy="426.43" rx="1.0" ry="0.75"/><ellipse cx="562.76" cy="428.78" rx="1.0" ry="0.75"/><ellipse cx="561.43" cy="459.91" rx="1.0" ry="0.75"/><ellipse cx="564.89" cy="462.37" rx="1.0" ry="0.75"/><ellipse cx="564.58" cy="440.01" rx="1.0" ry="0.75"/><ellipse cx="568.04" cy="442.4" rx="1.0" ry="0.75"/><ellipse cx="569.85" cy="453.83" rx="1.0" ry="0.75"/><ellipse cx="573.31" cy="456.26" rx="1.0" ry="0.75"/><ellipse cx="576.4" cy="464.47" rx="1.0" ry="0.75"/></g><ellipse cx="563.35" cy="451.14" rx="1.61" ry="1.13" fill="url(#teal)"/><ellipse cx="565.96" cy="456.77" rx="1.82" ry="1.27" fill="url(#bump)"/><ellipse cx="554.99" cy="457.54" rx="2.74" ry="1.92" fill="url(#bump)"/><ellipse cx="570.3" cy="459.65" rx="2.18" ry="1.53" fill="url(#bump)"/><ellipse cx="556.81" cy="452.53" rx="2.72" ry="1.9" fill="url(#teal)"/><ellipse cx="563.93" cy="451.2" rx="2.23" ry="1.56" fill="url(#bump)"/><ellipse cx="564.76" cy="451.06" rx="2.09" ry="1.47" fill="url(#bump)"/><ellipse cx="564.89" cy="448.46" rx="2.84" ry="1.99" fill="url(#bump)"/><ellipse cx="560.11" cy="458.63" rx="2.01" ry="1.4" fill="url(#teal)"/><ellipse cx="555.48" cy="456.49" rx="2.82" ry="1.98" fill="url(#bump)"/><ellipse cx="561.13" cy="454.08" rx="2.61" ry="1.83" fill="url(#bump)"/><ellipse cx="569.62" cy="457.37" rx="1.77" ry="1.24" fill="url(#bump)"/><ellipse cx="575.4" cy="464.2" rx="4.14" ry="2.34" fill="url(#glowG)"/><path d="M574.95,427.9L574.92,430.95L574.86,434L574.76,437.05L574.63,440.1L574.47,443.15L574.28,446.2L574.06,449.25L573.82,452.3L573.56,455.35L573.26,458.4L572.95,461.45L572.61,464.5L578.19,464.5L577.85,461.45L577.54,458.4L577.24,455.35L576.98,452.3L576.74,449.25L576.52,446.2L576.33,443.15L576.17,440.1L576.04,437.05L575.94,434L575.88,430.95L575.85,427.9Z" fill="url(#sg8_0)"/><ellipse cx="575.4" cy="463.7" rx="1.26" ry="0.81" fill="#ffffff" opacity="0.55"/><text x="553.45" y="397.8" font-size="10.1" letter-spacing="-0.2" text-anchor="middle"><tspan font-style="italic">γ</tspan>=1.6,<tspan font-style="italic">n</tspan>=121</text></g>
</svg></body></html>
